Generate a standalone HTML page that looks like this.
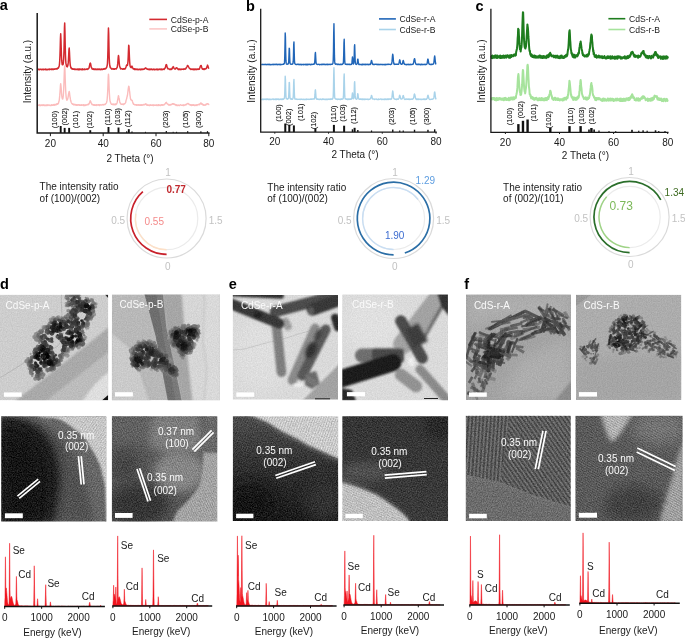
<!DOCTYPE html><html><head><meta charset="utf-8"><style>html,body{margin:0;padding:0;background:#fff;width:685px;height:638px;overflow:hidden}svg{display:block;will-change:transform}text{font-family:"Liberation Sans",sans-serif}</style></head><body>
<svg width="685" height="638" viewBox="0 0 685 638">
<rect width="685" height="638" fill="#fff"/>
<path d="M37.7 105 L37.95 105.28 L38.2 105.12 L38.45 105.33 L38.7 105.35 L38.95 104.84 L39.2 104.79 L39.45 105.53 L39.7 105.01 L39.95 104.99 L40.2 105.67 L40.45 105.2 L40.7 105.53 L40.95 105.2 L41.2 105.35 L41.45 104.9 L41.7 105.34 L41.95 105.55 L42.2 105.23 L42.45 105.43 L42.7 105.36 L42.95 104.81 L43.2 105.44 L43.45 105.28 L43.7 105.02 L43.95 104.78 L44.2 105.52 L44.45 105.17 L44.7 105.39 L44.95 105.53 L45.2 105.38 L45.45 105.56 L45.7 105.08 L45.95 105.45 L46.2 105.12 L46.45 105.56 L46.7 105.51 L46.95 104.8 L47.2 104.83 L47.45 104.9 L47.7 105.57 L47.95 105.09 L48.2 105.25 L48.45 104.95 L48.7 105.13 L48.95 105.02 L49.2 104.98 L49.45 105.18 L49.7 105.18 L49.95 105.46 L50.2 105.25 L50.45 105.46 L50.7 105.39 L50.95 105.5 L51.2 105.2 L51.45 104.74 L51.7 105.35 L51.95 105.43 L52.2 105.37 L52.45 105.05 L52.7 105.16 L52.95 104.7 L53.2 105.24 L53.45 104.98 L53.7 104.7 L53.95 104.48 L54.2 105.17 L54.45 105.26 L54.7 104.42 L54.95 105.02 L55.2 104.63 L55.45 104.35 L55.7 104.43 L55.95 104.8 L56.2 104.83 L56.45 104.01 L56.7 104.44 L56.95 103.83 L57.2 104.31 L57.45 103.82 L57.7 104.14 L57.95 104.02 L58.2 103.31 L58.45 103.38 L58.7 102.23 L58.95 101.23 L59.2 100.52 L59.45 98.25 L59.7 95.91 L59.95 92.81 L60.2 89.18 L60.45 85.32 L60.7 83.7 L60.95 85.77 L61.2 88.49 L61.45 92.57 L61.7 95.43 L61.95 97.03 L62.2 98.35 L62.45 98.94 L62.7 98.94 L62.95 98.09 L63.2 96.38 L63.45 93.52 L63.7 89.29 L63.95 82.59 L64.2 74.96 L64.45 68.52 L64.7 66.01 L64.95 70.23 L65.2 78.27 L65.45 85.17 L65.7 90.94 L65.95 94.46 L66.2 97.37 L66.45 99.02 L66.7 99.32 L66.95 100.18 L67.2 100.14 L67.45 99.24 L67.7 99.01 L67.95 97.79 L68.2 96.57 L68.45 94.66 L68.7 93.39 L68.95 92.3 L69.2 91.45 L69.45 92.33 L69.7 94.48 L69.95 96.6 L70.2 97.74 L70.45 99.46 L70.7 100.82 L70.95 101.54 L71.2 102.3 L71.45 102.78 L71.7 103.22 L71.95 103.71 L72.2 103.66 L72.45 103.9 L72.7 104.39 L72.95 103.83 L73.2 104.42 L73.45 104.65 L73.7 104.33 L73.95 104.32 L74.2 104.89 L74.45 104.43 L74.7 104.42 L74.95 104.68 L75.2 104.95 L75.45 104.45 L75.7 104.67 L75.95 104.71 L76.2 105.18 L76.45 104.84 L76.7 105.24 L76.95 104.63 L77.2 104.8 L77.45 105.1 L77.7 105.32 L77.95 104.94 L78.2 104.75 L78.45 104.66 L78.7 105.04 L78.95 104.75 L79.2 105.31 L79.45 105.34 L79.7 104.76 L79.95 104.85 L80.2 105.33 L80.45 105.19 L80.7 105.34 L80.95 104.93 L81.2 104.74 L81.45 104.89 L81.7 105.34 L81.95 104.87 L82.2 104.94 L82.45 105.01 L82.7 105.01 L82.95 105 L83.2 105.46 L83.45 104.77 L83.7 104.63 L83.95 105.47 L84.2 105.41 L84.45 105.5 L84.7 105 L84.95 105.46 L85.2 105.43 L85.45 104.78 L85.7 105.24 L85.95 105.31 L86.2 105.14 L86.45 104.99 L86.7 104.75 L86.95 104.77 L87.2 104.63 L87.45 104.43 L87.7 104.83 L87.95 104.46 L88.2 104.79 L88.45 103.9 L88.7 104.4 L88.95 103.84 L89.2 103.58 L89.45 102.99 L89.7 102.38 L89.95 101.55 L90.2 100.75 L90.45 101.51 L90.7 101.43 L90.95 102.13 L91.2 103.06 L91.45 103.46 L91.7 103.79 L91.95 104.58 L92.2 104.52 L92.45 104.44 L92.7 104.48 L92.95 105.11 L93.2 104.83 L93.45 105.15 L93.7 104.8 L93.95 104.68 L94.2 105.01 L94.45 105.28 L94.7 104.72 L94.95 105.29 L95.2 105.42 L95.45 105.32 L95.7 105.34 L95.95 104.62 L96.2 105.18 L96.45 105.39 L96.7 104.67 L96.95 104.87 L97.2 104.86 L97.45 105.1 L97.7 105 L97.95 105.05 L98.2 105.32 L98.45 104.62 L98.7 104.66 L98.95 104.72 L99.2 104.72 L99.45 104.66 L99.7 105.47 L99.95 105.35 L100.2 104.65 L100.45 105.02 L100.7 104.84 L100.95 104.83 L101.2 104.85 L101.45 105.1 L101.7 105.03 L101.95 104.81 L102.2 104.63 L102.45 104.73 L102.7 104.52 L102.95 104.88 L103.2 104.99 L103.45 104.64 L103.7 104.33 L103.95 104.36 L104.2 104.47 L104.45 104.6 L104.7 104.67 L104.95 104.2 L105.2 104.45 L105.45 104.12 L105.7 103.74 L105.95 103.42 L106.2 103.17 L106.45 102.86 L106.7 101.87 L106.95 100.93 L107.2 98.78 L107.45 95.43 L107.7 90.95 L107.95 84.76 L108.2 77.5 L108.45 74.14 L108.7 76.49 L108.95 83.25 L109.2 89.9 L109.45 94.54 L109.7 98.51 L109.95 100.6 L110.2 101.44 L110.45 102.44 L110.7 102.66 L110.95 103.66 L111.2 103.8 L111.45 104.21 L111.7 104.29 L111.95 104.31 L112.2 104.47 L112.45 104.4 L112.7 104.05 L112.95 104.53 L113.2 104.05 L113.45 104.2 L113.7 104.79 L113.95 104.14 L114.2 104.18 L114.45 104.18 L114.7 104.86 L114.95 104.2 L115.2 104.02 L115.45 104.7 L115.7 103.97 L115.95 104.51 L116.2 104.2 L116.45 104.11 L116.7 103.87 L116.95 103.02 L117.2 102.47 L117.45 100.75 L117.7 100.06 L117.95 98.28 L118.2 97 L118.45 95.63 L118.7 96.5 L118.95 97.88 L119.2 98.64 L119.45 100.34 L119.7 101.74 L119.95 102.85 L120.2 102.93 L120.45 103.29 L120.7 103.62 L120.95 104.13 L121.2 104.37 L121.45 104.12 L121.7 104.15 L121.95 104.21 L122.2 104.19 L122.45 104.25 L122.7 103.94 L122.95 104.29 L123.2 104.68 L123.45 104.13 L123.7 104.37 L123.95 103.76 L124.2 104.14 L124.45 104.07 L124.7 103.83 L124.95 103.47 L125.2 103.13 L125.45 102.84 L125.7 102.46 L125.95 100.95 L126.2 99.85 L126.45 99.25 L126.7 98.33 L126.95 97.13 L127.2 96.22 L127.45 95.31 L127.7 93.23 L127.95 91.31 L128.2 89.1 L128.45 87.57 L128.7 86.25 L128.95 86.31 L129.2 88.04 L129.45 90.38 L129.7 92.15 L129.95 94.79 L130.2 96.5 L130.45 98.47 L130.7 99.39 L130.95 99.84 L131.2 100.13 L131.45 99.98 L131.7 100.27 L131.95 100.23 L132.2 100.5 L132.45 101.43 L132.7 102.16 L132.95 103.2 L133.2 103.11 L133.45 104.21 L133.7 103.99 L133.95 104.27 L134.2 104.28 L134.45 104.71 L134.7 104.78 L134.95 104.61 L135.2 104.6 L135.45 104.87 L135.7 105.04 L135.95 104.67 L136.2 105 L136.45 105.24 L136.7 104.82 L136.95 104.63 L137.2 104.66 L137.45 105.11 L137.7 105.09 L137.95 105.36 L138.2 105.28 L138.45 104.75 L138.7 104.71 L138.95 104.78 L139.2 104.73 L139.45 105.2 L139.7 105.35 L139.95 105.39 L140.2 104.82 L140.45 105.37 L140.7 104.88 L140.95 104.98 L141.2 105.25 L141.45 104.67 L141.7 104.68 L141.95 105.34 L142.2 104.84 L142.45 104.89 L142.7 105.07 L142.95 105.13 L143.2 104.49 L143.45 104.73 L143.7 104.76 L143.95 104.72 L144.2 104.37 L144.45 104.6 L144.7 104.81 L144.95 104.19 L145.2 104.25 L145.45 103.84 L145.7 104.02 L145.95 104.46 L146.2 104.08 L146.45 104.9 L146.7 105.04 L146.95 104.41 L147.2 105.25 L147.45 104.81 L147.7 105.23 L147.95 105.26 L148.2 104.87 L148.45 105.24 L148.7 105.24 L148.95 105.39 L149.2 104.92 L149.45 105.37 L149.7 105.56 L149.95 105.31 L150.2 105.2 L150.45 104.82 L150.7 105.17 L150.95 105.04 L151.2 105.38 L151.45 105.35 L151.7 105.25 L151.95 104.9 L152.2 105.32 L152.45 105.31 L152.7 104.91 L152.95 105.55 L153.2 105.34 L153.45 104.86 L153.7 105.59 L153.95 104.88 L154.2 105.05 L154.45 105.4 L154.7 105.29 L154.95 105.26 L155.2 105.34 L155.45 105.17 L155.7 105.04 L155.95 104.91 L156.2 104.82 L156.45 105.4 L156.7 105.43 L156.95 105.24 L157.2 105.42 L157.45 105.07 L157.7 104.99 L157.95 105.09 L158.2 105.53 L158.45 104.78 L158.7 105.19 L158.95 104.96 L159.2 105.43 L159.45 105.05 L159.7 105.03 L159.95 105.08 L160.2 105.2 L160.45 105.4 L160.7 105.02 L160.95 105.46 L161.2 104.78 L161.45 104.92 L161.7 104.75 L161.95 104.75 L162.2 105.33 L162.45 105.26 L162.7 104.75 L162.95 104.72 L163.2 104.88 L163.45 105.12 L163.7 105.11 L163.95 104.96 L164.2 104.69 L164.45 104.13 L164.7 104.16 L164.95 103.74 L165.2 103.76 L165.45 103.49 L165.7 102.86 L165.95 102.65 L166.2 102.99 L166.45 102.33 L166.7 103.19 L166.95 103.53 L167.2 103.89 L167.45 103.67 L167.7 104.09 L167.95 104.34 L168.2 104.57 L168.45 105.02 L168.7 104.87 L168.95 104.6 L169.2 105.16 L169.45 104.86 L169.7 104.98 L169.95 105.1 L170.2 104.45 L170.45 105.12 L170.7 104.99 L170.95 104.79 L171.2 104.74 L171.45 104.59 L171.7 104.23 L171.95 104.38 L172.2 103.77 L172.45 104.01 L172.7 103.98 L172.95 103.68 L173.2 103.76 L173.45 104.18 L173.7 104.26 L173.95 103.76 L174.2 104.54 L174.45 104.56 L174.7 104.2 L174.95 104.6 L175.2 104.59 L175.45 104.53 L175.7 105.01 L175.95 105.4 L176.2 104.89 L176.45 105.41 L176.7 105.28 L176.95 104.79 L177.2 105.45 L177.45 105.23 L177.7 105.54 L177.95 105.35 L178.2 105.38 L178.45 105.03 L178.7 105.45 L178.95 105.57 L179.2 105.51 L179.45 105.13 L179.7 105.42 L179.95 105.18 L180.2 104.84 L180.45 104.78 L180.7 104.81 L180.95 104.92 L181.2 104.89 L181.45 105.19 L181.7 105.37 L181.95 105.22 L182.2 105.11 L182.45 105.31 L182.7 105 L182.95 105.14 L183.2 105.39 L183.45 105.06 L183.7 104.86 L183.95 105.49 L184.2 105.31 L184.45 104.97 L184.7 104.95 L184.95 105.06 L185.2 105.07 L185.45 104.67 L185.7 104.39 L185.95 104.47 L186.2 104.85 L186.45 104.12 L186.7 104.23 L186.95 103.81 L187.2 103.65 L187.45 103.5 L187.7 103.67 L187.95 103.51 L188.2 103.51 L188.45 103.76 L188.7 104 L188.95 104.46 L189.2 104.22 L189.45 104.32 L189.7 104.8 L189.95 104.84 L190.2 105.17 L190.45 104.63 L190.7 104.98 L190.95 105 L191.2 104.69 L191.45 105.55 L191.7 104.89 L191.95 104.78 L192.2 105.13 L192.45 104.86 L192.7 105.28 L192.95 105.03 L193.2 104.84 L193.45 104.77 L193.7 105.38 L193.95 104.97 L194.2 105.44 L194.45 105.14 L194.7 105.56 L194.95 104.99 L195.2 104.94 L195.45 104.95 L195.7 105.44 L195.95 105.27 L196.2 105 L196.45 104.76 L196.7 105.28 L196.95 105.53 L197.2 105.17 L197.45 104.61 L197.7 104.61 L197.95 104.62 L198.2 104.64 L198.45 104.45 L198.7 104.38 L198.95 104.8 L199.2 104.88 L199.45 104.06 L199.7 104.55 L199.95 103.86 L200.2 103.91 L200.45 103.79 L200.7 103.67 L200.95 102.82 L201.2 103.16 L201.45 103.62 L201.7 104.16 L201.95 103.62 L202.2 104.03 L202.45 104.72 L202.7 104.21 L202.95 104.58 L203.2 104.63 L203.45 105 L203.7 105.27 L203.95 104.62 L204.2 105.15 L204.45 105.14 L204.7 105.22 L204.95 104.94 L205.2 105.22 L205.45 104.65 L205.7 104.61 L205.95 104.32 L206.2 104.68 L206.45 104.24 L206.7 103.88 L206.95 103.62 L207.2 103.98 L207.45 103.83 L207.7 103.96 L207.95 103.79 L208.2 104.05 L208.45 103.94 L208.7 104.62 L208.95 104.16" fill="none" stroke="#fbbcbc" stroke-width="1.4" stroke-linejoin="round"/>
<path d="M37.7 69.28 L37.95 69.18 L38.2 69.39 L38.45 69.22 L38.7 69.15 L38.95 69.39 L39.2 69.75 L39.45 69.66 L39.7 69.64 L39.95 69.26 L40.2 69.48 L40.45 69.29 L40.7 69.22 L40.95 69.17 L41.2 69.25 L41.45 69.75 L41.7 69.68 L41.95 69.66 L42.2 69.65 L42.45 69.23 L42.7 69.31 L42.95 69.53 L43.2 69.6 L43.45 69.68 L43.7 69.7 L43.95 69.14 L44.2 69.5 L44.45 69.55 L44.7 69.43 L44.95 69.2 L45.2 69.4 L45.45 69.13 L45.7 69.72 L45.95 69.67 L46.2 69.45 L46.45 69.27 L46.7 69.69 L46.95 69.46 L47.2 69.67 L47.45 69.64 L47.7 69.4 L47.95 69.33 L48.2 69.46 L48.45 69.34 L48.7 69.15 L48.95 69.24 L49.2 69.59 L49.45 69.05 L49.7 69.05 L49.95 69.45 L50.2 69.2 L50.45 69.37 L50.7 69.32 L50.95 69.22 L51.2 69.67 L51.45 69.11 L51.7 69.25 L51.95 69.09 L52.2 69.38 L52.45 69.12 L52.7 69.17 L52.95 69.43 L53.2 69.12 L53.45 69.27 L53.7 69.5 L53.95 68.92 L54.2 68.87 L54.45 68.96 L54.7 69.31 L54.95 69.18 L55.2 68.89 L55.45 68.92 L55.7 68.77 L55.95 68.92 L56.2 68.58 L56.45 68.98 L56.7 69.05 L56.95 69.01 L57.2 68.75 L57.45 68.79 L57.7 67.98 L57.95 67.99 L58.2 68.22 L58.45 67.78 L58.7 67.11 L58.95 66.88 L59.2 65.73 L59.45 64.26 L59.7 60.97 L59.95 55.75 L60.2 47.98 L60.45 38.38 L60.7 33.71 L60.95 39.07 L61.2 47.86 L61.45 55.3 L61.7 60.18 L61.95 62.89 L62.2 64.59 L62.45 64.82 L62.7 64.84 L62.95 64.38 L63.2 64.18 L63.45 62.05 L63.7 58.33 L63.95 51.43 L64.2 40.44 L64.45 27.59 L64.7 23.08 L64.95 31.99 L65.2 44.93 L65.45 54.84 L65.7 60.28 L65.95 63.72 L66.2 64.62 L66.45 65.74 L66.7 66.4 L66.95 66.41 L67.2 66.89 L67.45 66.41 L67.7 65.83 L67.95 65.03 L68.2 62.9 L68.45 59.83 L68.7 54.68 L68.95 49.69 L69.2 47.99 L69.45 51.85 L69.7 57.24 L69.95 61.83 L70.2 64.59 L70.45 66.12 L70.7 66.99 L70.95 67.94 L71.2 67.77 L71.45 67.95 L71.7 68.75 L71.95 68.63 L72.2 69.04 L72.45 68.72 L72.7 69.14 L72.95 69.03 L73.2 69.18 L73.45 69.19 L73.7 69.05 L73.95 68.8 L74.2 68.92 L74.45 69.4 L74.7 69.45 L74.95 69.48 L75.2 69.09 L75.45 69.33 L75.7 69.44 L75.95 69.35 L76.2 69.48 L76.45 69.29 L76.7 69.39 L76.95 69.42 L77.2 69.13 L77.45 69.6 L77.7 69.63 L77.95 69.02 L78.2 69.65 L78.45 69.65 L78.7 69.45 L78.95 69.01 L79.2 69.62 L79.45 69.08 L79.7 69.67 L79.95 69.46 L80.2 69.04 L80.45 69.12 L80.7 69.45 L80.95 69.4 L81.2 69.53 L81.45 69.66 L81.7 69.16 L81.95 69.01 L82.2 69.65 L82.45 69.01 L82.7 69.62 L82.95 69.08 L83.2 69.57 L83.45 69.55 L83.7 69.61 L83.95 69.38 L84.2 69.6 L84.45 69.12 L84.7 69.45 L84.95 69.2 L85.2 69.58 L85.45 69.49 L85.7 69.27 L85.95 69.29 L86.2 68.92 L86.45 68.91 L86.7 69.28 L86.95 69.17 L87.2 69.4 L87.45 69.17 L87.7 68.78 L87.95 68.85 L88.2 69.01 L88.45 68.66 L88.7 68.03 L88.95 68.16 L89.2 67.48 L89.45 65.99 L89.7 65.07 L89.95 63.67 L90.2 63.17 L90.45 63.11 L90.7 64.17 L90.95 65.66 L91.2 67.12 L91.45 67.33 L91.7 67.9 L91.95 68.61 L92.2 69.01 L92.45 68.9 L92.7 68.94 L92.95 69.31 L93.2 69.31 L93.45 68.86 L93.7 69.46 L93.95 69.01 L94.2 69.11 L94.45 69.5 L94.7 69.22 L94.95 69.5 L95.2 69.07 L95.45 69.57 L95.7 69.09 L95.95 69.08 L96.2 69.33 L96.45 69.22 L96.7 69.37 L96.95 69.62 L97.2 69.49 L97.45 69 L97.7 69.21 L97.95 69.38 L98.2 69.33 L98.45 69.49 L98.7 69.33 L98.95 69.04 L99.2 69.16 L99.45 69.58 L99.7 69.23 L99.95 69.51 L100.2 69.66 L100.45 69.4 L100.7 69.43 L100.95 69.38 L101.2 69.16 L101.45 69.57 L101.7 69.25 L101.95 69.55 L102.2 69.11 L102.45 69.49 L102.7 69.42 L102.95 69.28 L103.2 69.13 L103.45 68.9 L103.7 69.31 L103.95 68.99 L104.2 69.15 L104.45 68.73 L104.7 68.64 L104.95 68.61 L105.2 68.98 L105.45 68.43 L105.7 68.8 L105.95 68.24 L106.2 68.14 L106.45 67.65 L106.7 67.37 L106.95 66.3 L107.2 65.35 L107.45 63.49 L107.7 58.37 L107.95 50.06 L108.2 37.12 L108.45 27.91 L108.7 33.82 L108.95 46.83 L109.2 57.25 L109.45 62.57 L109.7 65.21 L109.95 66.55 L110.2 67.43 L110.45 67.38 L110.7 68.03 L110.95 68.23 L111.2 68.47 L111.45 68.87 L111.7 68.86 L111.95 69.09 L112.2 68.56 L112.45 68.99 L112.7 69.04 L112.95 69.12 L113.2 69.06 L113.45 69.22 L113.7 68.86 L113.95 69.3 L114.2 68.93 L114.45 69.06 L114.7 69.25 L114.95 69.08 L115.2 68.77 L115.45 68.66 L115.7 68.66 L115.95 68.78 L116.2 68.92 L116.45 68.68 L116.7 68.08 L116.95 67.68 L117.2 67.3 L117.45 65.75 L117.7 63.9 L117.95 60.77 L118.2 57.51 L118.45 55.48 L118.7 56.44 L118.95 59.52 L119.2 62.56 L119.45 65.37 L119.7 66.66 L119.95 67.22 L120.2 67.67 L120.45 68.62 L120.7 68.83 L120.95 68.93 L121.2 68.81 L121.45 68.69 L121.7 68.59 L121.95 68.75 L122.2 68.76 L122.45 69.27 L122.7 69.26 L122.95 69.18 L123.2 68.74 L123.45 68.79 L123.7 68.82 L123.95 69.24 L124.2 68.66 L124.45 69.04 L124.7 68.89 L124.95 68.7 L125.2 68.84 L125.45 68.12 L125.7 67.94 L125.95 67.11 L126.2 66.28 L126.45 65.35 L126.7 64.97 L126.95 64.85 L127.2 65.01 L127.45 65.46 L127.7 63.87 L127.95 61.74 L128.2 57.07 L128.45 50.74 L128.7 45.18 L128.95 45.93 L129.2 51.87 L129.45 58.04 L129.7 62.35 L129.95 65.05 L130.2 66.46 L130.45 67.07 L130.7 67.4 L130.95 67.26 L131.2 67.61 L131.45 67 L131.7 66.25 L131.95 66.08 L132.2 66.9 L132.45 67.12 L132.7 67.83 L132.95 68.49 L133.2 68.91 L133.45 68.71 L133.7 68.87 L133.95 68.97 L134.2 68.75 L134.45 69.39 L134.7 68.83 L134.95 69.52 L135.2 68.98 L135.45 69 L135.7 69.5 L135.95 69.5 L136.2 69.1 L136.45 69.34 L136.7 69.29 L136.95 69.47 L137.2 69.11 L137.45 69.56 L137.7 69.69 L137.95 69.49 L138.2 69.65 L138.45 69.66 L138.7 69.27 L138.95 69.6 L139.2 69.6 L139.45 69.43 L139.7 69.09 L139.95 69.45 L140.2 69.66 L140.45 69.23 L140.7 69.47 L140.95 69.64 L141.2 69.43 L141.45 69.03 L141.7 69.44 L141.95 69.17 L142.2 69.58 L142.45 69.42 L142.7 69.16 L142.95 69.54 L143.2 69.31 L143.45 69.05 L143.7 69.32 L143.95 69.25 L144.2 69.1 L144.45 68.91 L144.7 68.53 L144.95 68.33 L145.2 68.08 L145.45 67.96 L145.7 68.37 L145.95 68.11 L146.2 68.15 L146.45 68.81 L146.7 68.85 L146.95 69.03 L147.2 69.18 L147.45 69.01 L147.7 69.03 L147.95 68.98 L148.2 69.51 L148.45 69.62 L148.7 69.49 L148.95 69.1 L149.2 69.71 L149.45 69.61 L149.7 69.4 L149.95 69.05 L150.2 69.65 L150.45 69.5 L150.7 69.5 L150.95 69.08 L151.2 69.58 L151.45 69.1 L151.7 69.41 L151.95 69.18 L152.2 69.33 L152.45 69.7 L152.7 69.61 L152.95 69.66 L153.2 69.29 L153.45 69.36 L153.7 69.51 L153.95 69.11 L154.2 69.38 L154.45 69.77 L154.7 69.62 L154.95 69.69 L155.2 69.3 L155.45 69.57 L155.7 69.64 L155.95 69.58 L156.2 69.39 L156.45 69.21 L156.7 69.1 L156.95 69.71 L157.2 69.74 L157.45 69.28 L157.7 69.61 L157.95 69.37 L158.2 69.52 L158.45 69.67 L158.7 69.3 L158.95 69.51 L159.2 69.25 L159.45 69.42 L159.7 69.08 L159.95 69.24 L160.2 69.26 L160.45 69.69 L160.7 69.14 L160.95 69.57 L161.2 69.09 L161.45 69.71 L161.7 69.13 L161.95 69.06 L162.2 69.13 L162.45 69.62 L162.7 69.42 L162.95 69.55 L163.2 69.24 L163.45 68.94 L163.7 69.05 L163.95 69.06 L164.2 69.35 L164.45 68.64 L164.7 68.49 L164.95 68.59 L165.2 67.58 L165.45 67.47 L165.7 66.06 L165.95 65.24 L166.2 64.62 L166.45 64.89 L166.7 65.11 L166.95 66.67 L167.2 67.08 L167.45 68.12 L167.7 68.08 L167.95 68.89 L168.2 68.65 L168.45 68.78 L168.7 68.74 L168.95 68.99 L169.2 69.03 L169.45 69.51 L169.7 69.27 L169.95 69.11 L170.2 69.54 L170.45 68.96 L170.7 68.98 L170.95 69.47 L171.2 69.42 L171.45 69.16 L171.7 69.24 L171.95 68.39 L172.2 68.68 L172.45 68.12 L172.7 67.59 L172.95 67.26 L173.2 66.6 L173.45 66.92 L173.7 67.36 L173.95 68.07 L174.2 68.49 L174.45 68.73 L174.7 68.75 L174.95 69.07 L175.2 69.12 L175.45 68.98 L175.7 68.31 L175.95 68.14 L176.2 67.9 L176.45 67.7 L176.7 67.93 L176.95 67.88 L177.2 68.5 L177.45 68.58 L177.7 68.81 L177.95 69.2 L178.2 69.47 L178.45 69 L178.7 69.15 L178.95 69.62 L179.2 69.1 L179.45 68.98 L179.7 69.11 L179.95 69.56 L180.2 69.5 L180.45 69.65 L180.7 69.34 L180.95 69.02 L181.2 69.21 L181.45 69.49 L181.7 69.26 L181.95 69.08 L182.2 69.23 L182.45 69.29 L182.7 69.2 L182.95 69.25 L183.2 69.02 L183.45 68.93 L183.7 69.43 L183.95 69.37 L184.2 69.12 L184.45 68.86 L184.7 68.94 L184.95 69.05 L185.2 69.18 L185.45 68.76 L185.7 68.92 L185.95 68.37 L186.2 67.81 L186.45 67.72 L186.7 67.24 L186.95 66.72 L187.2 66.32 L187.45 65.45 L187.7 65.62 L187.95 66.04 L188.2 65.98 L188.45 66.42 L188.7 67.03 L188.95 67.55 L189.2 68.04 L189.45 68.26 L189.7 68.72 L189.95 68.57 L190.2 68.82 L190.45 69.14 L190.7 69.12 L190.95 69.46 L191.2 69.49 L191.45 69.05 L191.7 69.13 L191.95 69.29 L192.2 69.31 L192.45 69.2 L192.7 69.56 L192.95 69.11 L193.2 69.31 L193.45 69.07 L193.7 69.61 L193.95 69.41 L194.2 69.69 L194.45 69.1 L194.7 69.5 L194.95 69.42 L195.2 69.04 L195.45 69.58 L195.7 69.61 L195.95 69.05 L196.2 69.65 L196.45 69.53 L196.7 69.4 L196.95 69.35 L197.2 69.14 L197.45 68.97 L197.7 69.25 L197.95 69.49 L198.2 69 L198.45 69.13 L198.7 68.93 L198.95 69.13 L199.2 69.17 L199.45 68.89 L199.7 68.1 L199.95 67.66 L200.2 66.64 L200.45 66.16 L200.7 65.67 L200.95 65.5 L201.2 65.47 L201.45 66.56 L201.7 67.11 L201.95 67.97 L202.2 68.74 L202.45 68.58 L202.7 69.14 L202.95 69.32 L203.2 69.3 L203.45 68.91 L203.7 69.44 L203.95 69.46 L204.2 69.51 L204.45 68.82 L204.7 68.8 L204.95 68.98 L205.2 69.09 L205.45 68.96 L205.7 68.62 L205.95 68.83 L206.2 68.56 L206.45 68.1 L206.7 67.4 L206.95 66.65 L207.2 65.98 L207.45 65.14 L207.7 65.66 L207.95 66.18 L208.2 66.96 L208.45 68.09 L208.7 68.27 L208.95 68.6" fill="none" stroke="#d42a30" stroke-width="1.5" stroke-linejoin="round"/>
<rect x="59.75" y="126" width="1.9" height="7" fill="#111"/>
<rect x="63.71" y="127.9" width="1.9" height="5.1" fill="#111"/>
<rect x="68.19" y="127.9" width="1.9" height="5.1" fill="#111"/>
<rect x="89.31" y="130.2" width="1.9" height="2.8" fill="#111"/>
<rect x="107.53" y="127" width="1.9" height="6" fill="#111"/>
<rect x="117.56" y="127.5" width="1.9" height="5.5" fill="#111"/>
<rect x="126.1" y="131.3" width="1.2" height="1.7" fill="#111"/>
<rect x="127.86" y="129.2" width="1.9" height="3.8" fill="#111"/>
<rect x="131.38" y="131.5" width="1.2" height="1.5" fill="#111"/>
<rect x="144.94" y="131.8" width="1" height="1.2" fill="#111"/>
<rect x="165.7" y="131" width="1.2" height="2" fill="#111"/>
<rect x="172.66" y="131.8" width="1" height="1.2" fill="#111"/>
<rect x="176.09" y="131.8" width="1" height="1.2" fill="#111"/>
<rect x="187.08" y="131.2" width="1.2" height="1.8" fill="#111"/>
<rect x="200.28" y="131.3" width="1.2" height="1.7" fill="#111"/>
<rect x="206.88" y="131.2" width="1.2" height="1.8" fill="#111"/>
<path d="M37.2 13.1 V133 H209.6" fill="none" stroke="#1a1a1a" stroke-width="1.5"/>
<line x1="50.4" y1="133" x2="50.4" y2="136.2" stroke="#1a1a1a" stroke-width="1"/>
<text x="50.4" y="147.3" font-size="10" text-anchor="middle" fill="#1a1a1a">20</text>
<line x1="103.2" y1="133" x2="103.2" y2="136.2" stroke="#1a1a1a" stroke-width="1"/>
<text x="103.2" y="147.3" font-size="10" text-anchor="middle" fill="#1a1a1a">40</text>
<line x1="156" y1="133" x2="156" y2="136.2" stroke="#1a1a1a" stroke-width="1"/>
<text x="156" y="147.3" font-size="10" text-anchor="middle" fill="#1a1a1a">60</text>
<line x1="208.8" y1="133" x2="208.8" y2="136.2" stroke="#1a1a1a" stroke-width="1"/>
<text x="208.8" y="147.3" font-size="10" text-anchor="middle" fill="#1a1a1a">80</text>
<text x="130" y="161.5" font-size="10" text-anchor="middle" fill="#1a1a1a">2 Theta (°)</text>
<text transform="translate(31.2 71.5) rotate(-90)" font-size="10" text-anchor="middle" fill="#1a1a1a">Intensity (a.u.)</text>
<text transform="translate(56.85 128.3) rotate(-90)" font-size="7.5" fill="#111" stroke="#111" stroke-width="0.1">(100)</text>
<text transform="translate(66.65 125.4) rotate(-90)" font-size="7.5" fill="#111" stroke="#111" stroke-width="0.1">(002)</text>
<text transform="translate(78.05 128.3) rotate(-90)" font-size="7.5" fill="#111" stroke="#111" stroke-width="0.1">(101)</text>
<text transform="translate(91.65 128.6) rotate(-90)" font-size="7.5" fill="#111" stroke="#111" stroke-width="0.1">(102)</text>
<text transform="translate(109.65 125.4) rotate(-90)" font-size="7.5" fill="#111" stroke="#111" stroke-width="0.1">(110)</text>
<text transform="translate(120.15 125.4) rotate(-90)" font-size="7.5" fill="#111" stroke="#111" stroke-width="0.1">(103)</text>
<text transform="translate(130.35 127.3) rotate(-90)" font-size="7.5" fill="#111" stroke="#111" stroke-width="0.1">(112)</text>
<text transform="translate(168.35 127.9) rotate(-90)" font-size="7.5" fill="#111" stroke="#111" stroke-width="0.1">(203)</text>
<text transform="translate(187.75 127.9) rotate(-90)" font-size="7.5" fill="#111" stroke="#111" stroke-width="0.1">(105)</text>
<text transform="translate(201.45 127.9) rotate(-90)" font-size="7.5" fill="#111" stroke="#111" stroke-width="0.1">(300)</text>
<line x1="149.3" y1="19.4" x2="167" y2="19.4" stroke="#d42a30" stroke-width="1.6"/>
<text x="170.7" y="22.5" font-size="8.6" fill="#1a1a1a">CdSe-p-A</text>
<line x1="149.3" y1="28.9" x2="167" y2="28.9" stroke="#fcc8c8" stroke-width="1.6"/>
<text x="170.7" y="32" font-size="8.6" fill="#1a1a1a">CdSe-p-B</text>
<text x="-0.3" y="10.1" font-size="14.5" font-weight="bold" fill="#000">a</text>
<path d="M261.2 99.37 L261.45 99.44 L261.7 99.47 L261.95 99.56 L262.2 99.44 L262.45 99.55 L262.7 99.01 L262.95 99.28 L263.2 99.56 L263.45 99.39 L263.7 99.54 L263.95 99.06 L264.2 99.28 L264.45 99.14 L264.7 99.32 L264.95 99.34 L265.2 99 L265.45 99.13 L265.7 99.16 L265.95 99.55 L266.2 99.45 L266.45 99.09 L266.7 99.47 L266.95 99.08 L267.2 99.37 L267.45 99.07 L267.7 99 L267.95 99.52 L268.2 99.12 L268.45 99.12 L268.7 99.58 L268.95 99.52 L269.2 99.17 L269.45 99.57 L269.7 99.32 L269.95 99.4 L270.2 99.12 L270.45 99.56 L270.7 99.41 L270.95 99.57 L271.2 99.53 L271.45 99.17 L271.7 99.21 L271.95 99.09 L272.2 99.08 L272.45 99.03 L272.7 99.17 L272.95 99.35 L273.2 98.99 L273.45 99.4 L273.7 99.19 L273.95 99.18 L274.2 99.48 L274.45 99.28 L274.7 99.18 L274.95 99.28 L275.2 99.41 L275.45 99.02 L275.7 99.57 L275.95 99 L276.2 99.43 L276.45 99.49 L276.7 98.99 L276.95 99.46 L277.2 99.2 L277.45 99.33 L277.7 98.99 L277.95 99.01 L278.2 99.09 L278.45 99.55 L278.7 99.09 L278.95 99.43 L279.2 99.53 L279.45 99.53 L279.7 99.17 L279.95 99.18 L280.2 99.28 L280.45 99.42 L280.7 99.02 L280.95 99.4 L281.2 99.42 L281.45 99.45 L281.7 98.95 L281.95 99.49 L282.2 98.96 L282.45 99.1 L282.7 99.24 L282.95 99.4 L283.2 99.02 L283.45 99.32 L283.7 99.02 L283.95 98.77 L284.2 98.57 L284.45 97.81 L284.7 94.74 L284.95 86.15 L285.2 76.3 L285.45 79.45 L285.7 90.01 L285.95 96.29 L286.2 98.62 L286.45 98.74 L286.7 98.81 L286.95 98.78 L287.2 99.03 L287.45 99.17 L287.7 98.93 L287.95 98.85 L288.2 98.5 L288.45 98.6 L288.7 96.13 L288.95 90.37 L289.2 82.35 L289.45 82.7 L289.7 91.51 L289.95 97.09 L290.2 98.53 L290.45 98.99 L290.7 98.7 L290.95 98.97 L291.2 98.83 L291.45 99.26 L291.7 98.93 L291.95 99.01 L292.2 99.31 L292.45 99.15 L292.7 99.11 L292.95 98.47 L293.2 97.06 L293.45 91.98 L293.7 82.49 L293.95 79.49 L294.2 88.03 L294.45 95.31 L294.7 98.09 L294.95 99.06 L295.2 99.22 L295.45 99.11 L295.7 99.1 L295.95 99.04 L296.2 98.92 L296.45 99.05 L296.7 99.37 L296.95 99.44 L297.2 99.14 L297.45 99.41 L297.7 99.41 L297.95 99.36 L298.2 99.35 L298.45 99.41 L298.7 99.18 L298.95 99.39 L299.2 99.13 L299.45 99.26 L299.7 99.43 L299.95 99.39 L300.2 99.15 L300.45 99.54 L300.7 99.37 L300.95 99.33 L301.2 98.98 L301.45 99.31 L301.7 99.13 L301.95 99.38 L302.2 99.26 L302.45 99.47 L302.7 99.37 L302.95 99.46 L303.2 99.19 L303.45 99.37 L303.7 99.43 L303.95 99.48 L304.2 99.19 L304.45 99.49 L304.7 99.51 L304.95 99.4 L305.2 99.57 L305.45 99.56 L305.7 99.3 L305.95 99.3 L306.2 99.08 L306.45 99.49 L306.7 99.55 L306.95 99.27 L307.2 99.4 L307.45 99.42 L307.7 99.42 L307.95 99.09 L308.2 99.45 L308.45 99.33 L308.7 99.38 L308.95 99.23 L309.2 99.36 L309.45 99.45 L309.7 99.36 L309.95 99.41 L310.2 98.99 L310.45 99.07 L310.7 99.24 L310.95 99.36 L311.2 99.1 L311.45 99.38 L311.7 99.34 L311.95 98.98 L312.2 99.24 L312.45 99.08 L312.7 98.97 L312.95 99.01 L313.2 99.1 L313.45 99 L313.7 98.97 L313.95 98.83 L314.2 98.99 L314.45 98.62 L314.7 97.62 L314.95 94.67 L315.2 90.43 L315.45 89.8 L315.7 92.72 L315.95 96.6 L316.2 98.27 L316.45 98.88 L316.7 98.85 L316.95 99.34 L317.2 99.1 L317.45 98.92 L317.7 99.29 L317.95 98.99 L318.2 99.27 L318.45 99.15 L318.7 99.3 L318.95 99.53 L319.2 99.45 L319.45 99.22 L319.7 99.46 L319.95 99.36 L320.2 99.19 L320.45 99.06 L320.7 99.33 L320.95 99.31 L321.2 99.55 L321.45 99.56 L321.7 99.34 L321.95 99.19 L322.2 99.52 L322.45 98.98 L322.7 99.04 L322.95 99.32 L323.2 99.35 L323.45 99.06 L323.7 99.36 L323.95 99.51 L324.2 99.2 L324.45 99.24 L324.7 99.11 L324.95 99.15 L325.2 99.56 L325.45 99.21 L325.7 99.55 L325.95 99.52 L326.2 99.33 L326.45 99.13 L326.7 99.56 L326.95 99.27 L327.2 99.22 L327.45 99.16 L327.7 99.56 L327.95 99.26 L328.2 99.13 L328.45 99.25 L328.7 99.03 L328.95 99.33 L329.2 99.21 L329.45 99.12 L329.7 99.41 L329.95 99.43 L330.2 98.93 L330.45 99.23 L330.7 99.06 L330.95 99.44 L331.2 99.33 L331.45 98.98 L331.7 98.96 L331.95 98.84 L332.2 99.27 L332.45 98.74 L332.7 98.75 L332.95 98.24 L333.2 96.55 L333.45 89.55 L333.7 75.49 L333.95 67.81 L334.2 79.88 L334.45 92.2 L334.7 97.3 L334.95 98.33 L335.2 98.62 L335.45 98.91 L335.7 98.97 L335.95 98.97 L336.2 99.25 L336.45 99.19 L336.7 98.88 L336.95 99.03 L337.2 99.16 L337.45 99.45 L337.7 99.44 L337.95 99.24 L338.2 98.93 L338.45 99.39 L338.7 99.18 L338.95 99.27 L339.2 99.35 L339.45 99.31 L339.7 99.21 L339.95 99.47 L340.2 99.15 L340.45 99.15 L340.7 99.42 L340.95 99.01 L341.2 99.06 L341.45 99.36 L341.7 98.88 L341.95 99.31 L342.2 99.18 L342.45 98.96 L342.7 98.78 L342.95 98.91 L343.2 98.55 L343.45 96.19 L343.7 89.53 L343.95 77.46 L344.2 73.9 L344.45 84.85 L344.7 94.29 L344.95 97.92 L345.2 98.81 L345.45 98.59 L345.7 98.81 L345.95 99.24 L346.2 99.27 L346.45 99.23 L346.7 98.87 L346.95 99.31 L347.2 99.48 L347.45 99.5 L347.7 99.33 L347.95 98.94 L348.2 99.42 L348.45 99.05 L348.7 99.31 L348.95 99.5 L349.2 99.35 L349.45 99 L349.7 99.09 L349.95 99.46 L350.2 98.99 L350.45 99.26 L350.7 99.13 L350.95 98.95 L351.2 99.19 L351.45 98.77 L351.7 98.53 L351.95 97.58 L352.2 94.83 L352.45 92.89 L352.7 94.97 L352.95 97.61 L353.2 98.77 L353.45 98.47 L353.7 98.38 L353.95 96.8 L354.2 91.68 L354.45 82.96 L354.7 81.75 L354.95 89.65 L355.2 95.9 L355.45 98.43 L355.7 98.57 L355.95 99.01 L356.2 99 L356.45 99.27 L356.7 99.05 L356.95 98.99 L357.2 98.22 L357.45 96.56 L357.7 93.66 L357.95 93.91 L358.2 96.5 L358.45 98.17 L358.7 98.83 L358.95 99.04 L359.2 99.31 L359.45 99 L359.7 99.34 L359.95 99.32 L360.2 98.99 L360.45 99.35 L360.7 99.01 L360.95 99.03 L361.2 99.32 L361.45 99.11 L361.7 99.49 L361.95 99.26 L362.2 99.16 L362.45 99.45 L362.7 98.99 L362.95 99.41 L363.2 99.01 L363.45 99.07 L363.7 99.55 L363.95 99.39 L364.2 99.11 L364.45 99.05 L364.7 99.56 L364.95 99.38 L365.2 99.47 L365.45 99.06 L365.7 99.35 L365.95 99.19 L366.2 99.12 L366.45 99.18 L366.7 99.34 L366.95 99.18 L367.2 99.21 L367.45 99.05 L367.7 99.47 L367.95 99.36 L368.2 99.45 L368.45 99.22 L368.7 99.47 L368.95 99.26 L369.2 99.3 L369.45 99.27 L369.7 99.35 L369.95 99.12 L370.2 98.87 L370.45 98.63 L370.7 98.25 L370.95 97.22 L371.2 96.5 L371.45 95.35 L371.7 95.73 L371.95 96.4 L372.2 97.85 L372.45 98.87 L372.7 99.08 L372.95 99.1 L373.2 99.17 L373.45 98.98 L373.7 99.03 L373.95 99.04 L374.2 99.18 L374.45 99.19 L374.7 99.49 L374.95 99.06 L375.2 99.12 L375.45 99.14 L375.7 99.07 L375.95 99.15 L376.2 99.12 L376.45 99.27 L376.7 99 L376.95 99.54 L377.2 99.2 L377.45 99.55 L377.7 99.4 L377.95 99.39 L378.2 99.27 L378.45 99.55 L378.7 99.06 L378.95 99.39 L379.2 99.16 L379.45 99.39 L379.7 99.42 L379.95 99.09 L380.2 99.11 L380.45 99 L380.7 99.13 L380.95 99.03 L381.2 99.23 L381.45 99.57 L381.7 99.21 L381.95 99.17 L382.2 99.27 L382.45 99.16 L382.7 99.43 L382.95 99.42 L383.2 99.08 L383.45 99.13 L383.7 99.39 L383.95 99.55 L384.2 99.37 L384.45 99.24 L384.7 99.57 L384.95 98.99 L385.2 99.02 L385.45 99.45 L385.7 99.23 L385.95 99.01 L386.2 99.31 L386.45 99.57 L386.7 99.29 L386.95 99.19 L387.2 99.03 L387.45 99.01 L387.7 99.51 L387.95 99.26 L388.2 99.53 L388.45 98.99 L388.7 99.1 L388.95 98.98 L389.2 99.18 L389.45 98.97 L389.7 99.08 L389.95 99.16 L390.2 99.09 L390.45 98.92 L390.7 98.88 L390.95 99.4 L391.2 98.86 L391.45 98.89 L391.7 98.38 L391.95 97.38 L392.2 95.11 L392.45 92.67 L392.7 90.83 L392.95 91.76 L393.2 94.39 L393.45 96.58 L393.7 98.24 L393.95 98.55 L394.2 98.7 L394.45 99.11 L394.7 99.12 L394.95 99.2 L395.2 99.11 L395.45 99.27 L395.7 99.34 L395.95 99.46 L396.2 99.1 L396.45 99.19 L396.7 99.42 L396.95 99.05 L397.2 98.98 L397.45 99.1 L397.7 98.95 L397.95 99.34 L398.2 99.34 L398.45 98.95 L398.7 98.62 L398.95 98.04 L399.2 97.15 L399.45 95.81 L399.7 95.24 L399.95 95.72 L400.2 96.69 L400.45 97.71 L400.7 98.78 L400.95 98.7 L401.2 98.9 L401.45 98.98 L401.7 99.02 L401.95 98.79 L402.2 98.76 L402.45 98.15 L402.7 97.41 L402.95 96.06 L403.2 95.52 L403.45 95.8 L403.7 97.05 L403.95 98.06 L404.2 98.67 L404.45 99.21 L404.7 99.23 L404.95 99.46 L405.2 99.34 L405.45 99.34 L405.7 99.09 L405.95 99.43 L406.2 99.18 L406.45 99.03 L406.7 98.99 L406.95 99.06 L407.2 99.12 L407.45 99.37 L407.7 99.13 L407.95 99 L408.2 99.42 L408.45 99.3 L408.7 98.98 L408.95 98.99 L409.2 99.04 L409.45 99.18 L409.7 99.48 L409.95 99.53 L410.2 99.32 L410.45 99.09 L410.7 99.21 L410.95 99.16 L411.2 99.13 L411.45 98.94 L411.7 99.27 L411.95 99.4 L412.2 99.32 L412.45 98.92 L412.7 99.13 L412.95 98.8 L413.2 98.88 L413.45 98.21 L413.7 97.62 L413.95 96.31 L414.2 94.6 L414.45 93.93 L414.7 94.51 L414.95 95.32 L415.2 96.62 L415.45 97.73 L415.7 98.65 L415.95 99.14 L416.2 99.07 L416.45 99.42 L416.7 99.23 L416.95 98.96 L417.2 99.4 L417.45 99.18 L417.7 98.97 L417.95 99.53 L418.2 98.97 L418.45 99.3 L418.7 99.25 L418.95 99.49 L419.2 99.2 L419.45 99.1 L419.7 99.13 L419.95 99.09 L420.2 99.31 L420.45 99.19 L420.7 99.42 L420.95 99.12 L421.2 99.19 L421.45 99.12 L421.7 99.56 L421.95 99.48 L422.2 99.48 L422.45 99.35 L422.7 99.21 L422.95 99.06 L423.2 99.47 L423.45 99.27 L423.7 98.99 L423.95 99.07 L424.2 99.03 L424.45 99.39 L424.7 99.5 L424.95 99.08 L425.2 99.43 L425.45 99.14 L425.7 99.34 L425.95 99.44 L426.2 99.27 L426.45 99.34 L426.7 98.99 L426.95 98.51 L427.2 98.2 L427.45 97.2 L427.7 95.73 L427.95 95.22 L428.2 95.73 L428.45 96.77 L428.7 98.02 L428.95 98.7 L429.2 99.03 L429.45 99.27 L429.7 99.12 L429.95 99.49 L430.2 99.4 L430.45 99.48 L430.7 99.34 L430.95 99.33 L431.2 99.25 L431.45 99.4 L431.7 99.13 L431.95 99.26 L432.2 99.3 L432.45 99.19 L432.7 99.02 L432.95 98.86 L433.2 98.79 L433.45 98.74 L433.7 98.32 L433.95 97.17 L434.2 95.05 L434.45 92.52 L434.7 91.96 L434.95 92.88 L435.2 95.49 L435.45 97.06 L435.7 98.57 L435.95 98.99 L436.2 99.34" fill="none" stroke="#a9d3ea" stroke-width="1.4" stroke-linejoin="round"/>
<path d="M261.2 64.64 L261.45 64.66 L261.7 64.49 L261.95 64.38 L262.2 64.25 L262.45 64.58 L262.7 64.48 L262.95 64.63 L263.2 64.43 L263.45 64.63 L263.7 64.38 L263.95 64.65 L264.2 64.61 L264.45 64.45 L264.7 64.51 L264.95 64.59 L265.2 64.34 L265.45 64.52 L265.7 64.65 L265.95 64.38 L266.2 64.65 L266.45 64.59 L266.7 64.67 L266.95 64.41 L267.2 64.29 L267.45 64.64 L267.7 64.65 L267.95 64.47 L268.2 64.29 L268.45 64.34 L268.7 64.56 L268.95 64.39 L269.2 64.72 L269.45 64.54 L269.7 64.34 L269.95 64.57 L270.2 64.42 L270.45 64.71 L270.7 64.7 L270.95 64.5 L271.2 64.56 L271.45 64.59 L271.7 64.64 L271.95 64.73 L272.2 64.25 L272.45 64.42 L272.7 64.54 L272.95 64.39 L273.2 64.53 L273.45 64.28 L273.7 64.68 L273.95 64.5 L274.2 64.29 L274.45 64.57 L274.7 64.39 L274.95 64.33 L275.2 64.48 L275.45 64.3 L275.7 64.34 L275.95 64.66 L276.2 64.58 L276.45 64.24 L276.7 64.62 L276.95 64.24 L277.2 64.39 L277.45 64.68 L277.7 64.53 L277.95 64.38 L278.2 64.41 L278.45 64.41 L278.7 64.28 L278.95 64.72 L279.2 64.24 L279.45 64.42 L279.7 64.58 L279.95 64.4 L280.2 64.69 L280.45 64.32 L280.7 64.68 L280.95 64.63 L281.2 64.51 L281.45 64.61 L281.7 64.38 L281.95 64.56 L282.2 64.53 L282.45 64.37 L282.7 64.32 L282.95 64.4 L283.2 64.21 L283.45 63.98 L283.7 64.22 L283.95 63.83 L284.2 63.66 L284.45 62.9 L284.7 58.51 L284.95 46.76 L285.2 33.02 L285.45 37.28 L285.7 52.14 L285.95 60.69 L286.2 63.19 L286.45 63.96 L286.7 63.82 L286.95 64 L287.2 64.29 L287.45 64.18 L287.7 64 L287.95 64.06 L288.2 63.94 L288.45 63.38 L288.7 61.66 L288.95 55.88 L289.2 48.32 L289.45 48.81 L289.7 57.01 L289.95 62.36 L290.2 63.89 L290.45 63.95 L290.7 64.19 L290.95 64.1 L291.2 64.18 L291.45 64.23 L291.7 64.38 L291.95 64.43 L292.2 64.07 L292.45 63.85 L292.7 63.93 L292.95 63.36 L293.2 61.68 L293.45 56 L293.7 44.86 L293.95 41.83 L294.2 51.45 L294.45 60.35 L294.7 63.37 L294.95 63.66 L295.2 63.93 L295.45 64.42 L295.7 64.32 L295.95 64.27 L296.2 64.49 L296.45 64.53 L296.7 64.39 L296.95 64.39 L297.2 64.22 L297.45 64.36 L297.7 64.26 L297.95 64.5 L298.2 64.5 L298.45 64.27 L298.7 64.52 L298.95 64.26 L299.2 64.26 L299.45 64.54 L299.7 64.45 L299.95 64.67 L300.2 64.53 L300.45 64.57 L300.7 64.29 L300.95 64.64 L301.2 64.27 L301.45 64.53 L301.7 64.68 L301.95 64.68 L302.2 64.67 L302.45 64.45 L302.7 64.58 L302.95 64.63 L303.2 64.3 L303.45 64.7 L303.7 64.69 L303.95 64.45 L304.2 64.62 L304.45 64.46 L304.7 64.37 L304.95 64.59 L305.2 64.26 L305.45 64.63 L305.7 64.72 L305.95 64.38 L306.2 64.7 L306.45 64.27 L306.7 64.66 L306.95 64.37 L307.2 64.71 L307.45 64.45 L307.7 64.69 L307.95 64.25 L308.2 64.27 L308.45 64.64 L308.7 64.55 L308.95 64.5 L309.2 64.24 L309.45 64.31 L309.7 64.41 L309.95 64.25 L310.2 64.72 L310.45 64.6 L310.7 64.69 L310.95 64.57 L311.2 64.38 L311.45 64.25 L311.7 64.57 L311.95 64.26 L312.2 64.47 L312.45 64.42 L312.7 64.42 L312.95 64.2 L313.2 64.18 L313.45 64.37 L313.7 64.09 L313.95 64.28 L314.2 63.97 L314.45 63.65 L314.7 62.19 L314.95 58.82 L315.2 53.82 L315.45 52.48 L315.7 56.7 L315.95 61.3 L316.2 63.61 L316.45 64.01 L316.7 64.06 L316.95 64.21 L317.2 64.22 L317.45 64.42 L317.7 64.54 L317.95 64.45 L318.2 64.27 L318.45 64.35 L318.7 64.39 L318.95 64.42 L319.2 64.4 L319.45 64.71 L319.7 64.49 L319.95 64.55 L320.2 64.58 L320.45 64.54 L320.7 64.62 L320.95 64.41 L321.2 64.56 L321.45 64.71 L321.7 64.31 L321.95 64.54 L322.2 64.42 L322.45 64.26 L322.7 64.25 L322.95 64.61 L323.2 64.28 L323.45 64.58 L323.7 64.28 L323.95 64.41 L324.2 64.24 L324.45 64.5 L324.7 64.62 L324.95 64.34 L325.2 64.51 L325.45 64.68 L325.7 64.37 L325.95 64.46 L326.2 64.58 L326.45 64.65 L326.7 64.3 L326.95 64.54 L327.2 64.27 L327.45 64.27 L327.7 64.7 L327.95 64.23 L328.2 64.66 L328.45 64.57 L328.7 64.53 L328.95 64.55 L329.2 64.51 L329.45 64.32 L329.7 64.39 L329.95 64.26 L330.2 64.58 L330.45 64.53 L330.7 64.51 L330.95 64.21 L331.2 64.37 L331.45 64.16 L331.7 64.39 L331.95 64.3 L332.2 64.33 L332.45 64.04 L332.7 63.79 L332.95 63.28 L333.2 60.61 L333.45 51.78 L333.7 33.09 L333.95 23.75 L334.2 38.84 L334.45 55.64 L334.7 61.64 L334.95 63.58 L335.2 64 L335.45 63.95 L335.7 64.27 L335.95 63.96 L336.2 64.07 L336.45 64.04 L336.7 64.1 L336.95 64.1 L337.2 64.53 L337.45 64.17 L337.7 64.43 L337.95 64.28 L338.2 64.22 L338.45 64.37 L338.7 64.25 L338.95 64.65 L339.2 64.36 L339.45 64.46 L339.7 64.45 L339.95 64.48 L340.2 64.4 L340.45 64.29 L340.7 64.22 L340.95 64.58 L341.2 64.22 L341.45 64.33 L341.7 64.49 L341.95 64.34 L342.2 64.49 L342.45 64.35 L342.7 64.11 L342.95 63.74 L343.2 63.55 L343.45 61.6 L343.7 54.96 L343.95 42.72 L344.2 39.29 L344.45 50.36 L344.7 59.7 L344.95 63.24 L345.2 64.02 L345.45 63.88 L345.7 64.38 L345.95 64.43 L346.2 64.47 L346.45 64.25 L346.7 64.23 L346.95 64.19 L347.2 64.32 L347.45 64.57 L347.7 64.34 L347.95 64.16 L348.2 64.32 L348.45 64.21 L348.7 64.48 L348.95 64.55 L349.2 64.63 L349.45 64.21 L349.7 64.35 L349.95 64.21 L350.2 64.6 L350.45 64.55 L350.7 64.37 L350.95 64.56 L351.2 64.29 L351.45 64.33 L351.7 63.84 L351.95 62.38 L352.2 59.49 L352.45 57.01 L352.7 59.1 L352.95 62.42 L353.2 63.67 L353.45 63.95 L353.7 63.29 L353.95 61.64 L354.2 55.72 L354.45 46.3 L354.7 44.71 L354.95 53.63 L355.2 61 L355.45 63.2 L355.7 64.02 L355.95 64.23 L356.2 63.96 L356.45 64.44 L356.7 64.28 L356.95 63.92 L357.2 63.48 L357.45 61.55 L357.7 59.11 L357.95 59.16 L358.2 61.52 L358.45 63.42 L358.7 64.24 L358.95 64.49 L359.2 64.48 L359.45 64.37 L359.7 64.22 L359.95 64.48 L360.2 64.41 L360.45 64.59 L360.7 64.48 L360.95 64.57 L361.2 64.69 L361.45 64.52 L361.7 64.67 L361.95 64.35 L362.2 64.22 L362.45 64.66 L362.7 64.24 L362.95 64.72 L363.2 64.45 L363.45 64.25 L363.7 64.36 L363.95 64.59 L364.2 64.42 L364.45 64.54 L364.7 64.28 L364.95 64.64 L365.2 64.41 L365.45 64.64 L365.7 64.3 L365.95 64.56 L366.2 64.46 L366.45 64.43 L366.7 64.23 L366.95 64.49 L367.2 64.64 L367.45 64.27 L367.7 64.44 L367.95 64.22 L368.2 64.71 L368.45 64.69 L368.7 64.54 L368.95 64.44 L369.2 64.22 L369.45 64.24 L369.7 64.51 L369.95 64.53 L370.2 64.55 L370.45 64.29 L370.7 63.6 L370.95 62.58 L371.2 61.49 L371.45 60.48 L371.7 60.8 L371.95 62.09 L372.2 63.05 L372.45 64.08 L372.7 64.31 L372.95 64.11 L373.2 64.52 L373.45 64.5 L373.7 64.49 L373.95 64.2 L374.2 64.64 L374.45 64.46 L374.7 64.48 L374.95 64.3 L375.2 64.24 L375.45 64.23 L375.7 64.33 L375.95 64.38 L376.2 64.31 L376.45 64.26 L376.7 64.59 L376.95 64.58 L377.2 64.67 L377.45 64.34 L377.7 64.6 L377.95 64.53 L378.2 64.28 L378.45 64.67 L378.7 64.41 L378.95 64.33 L379.2 64.33 L379.45 64.7 L379.7 64.35 L379.95 64.43 L380.2 64.51 L380.45 64.42 L380.7 64.56 L380.95 64.28 L381.2 64.45 L381.45 64.53 L381.7 64.54 L381.95 64.54 L382.2 64.37 L382.45 64.55 L382.7 64.72 L382.95 64.48 L383.2 64.56 L383.45 64.65 L383.7 64.36 L383.95 64.37 L384.2 64.72 L384.45 64.38 L384.7 64.44 L384.95 64.42 L385.2 64.73 L385.45 64.5 L385.7 64.68 L385.95 64.31 L386.2 64.36 L386.45 64.55 L386.7 64.38 L386.95 64.55 L387.2 64.47 L387.45 64.25 L387.7 64.27 L387.95 64.43 L388.2 64.47 L388.45 64.29 L388.7 64.33 L388.95 64.19 L389.2 64.32 L389.45 64.33 L389.7 64.36 L389.95 64.44 L390.2 64.56 L390.45 64.46 L390.7 64.44 L390.95 64.17 L391.2 64.19 L391.45 64.1 L391.7 63.62 L391.95 61.92 L392.2 59.27 L392.45 56.03 L392.7 54.09 L392.95 55.12 L393.2 57.8 L393.45 61.13 L393.7 62.97 L393.95 63.96 L394.2 64.31 L394.45 64.03 L394.7 64.44 L394.95 64.15 L395.2 64.16 L395.45 64.32 L395.7 64.38 L395.95 64.18 L396.2 64.29 L396.45 64.24 L396.7 64.22 L396.95 64.2 L397.2 64.16 L397.45 64.25 L397.7 64.3 L397.95 64.32 L398.2 64.42 L398.45 64.29 L398.7 63.97 L398.95 63.28 L399.2 62.31 L399.45 60.7 L399.7 59.82 L399.95 60.22 L400.2 61.82 L400.45 62.83 L400.7 63.65 L400.95 64.07 L401.2 64.29 L401.45 64.37 L401.7 64.33 L401.95 64.27 L402.2 63.84 L402.45 63.66 L402.7 62.57 L402.95 61.18 L403.2 60.42 L403.45 60.94 L403.7 61.9 L403.95 63.29 L404.2 64.11 L404.45 64.15 L404.7 64.33 L404.95 64.26 L405.2 64.61 L405.45 64.36 L405.7 64.36 L405.95 64.54 L406.2 64.38 L406.45 64.65 L406.7 64.41 L406.95 64.5 L407.2 64.36 L407.45 64.5 L407.7 64.45 L407.95 64.26 L408.2 64.66 L408.45 64.29 L408.7 64.5 L408.95 64.55 L409.2 64.44 L409.45 64.37 L409.7 64.43 L409.95 64.7 L410.2 64.21 L410.45 64.64 L410.7 64.49 L410.95 64.43 L411.2 64.5 L411.45 64.49 L411.7 64.57 L411.95 64.63 L412.2 64.38 L412.45 64.27 L412.7 64.21 L412.95 64.36 L413.2 63.87 L413.45 63.09 L413.7 62.35 L413.95 60.72 L414.2 59.37 L414.45 58.62 L414.7 58.85 L414.95 60.03 L415.2 61.68 L415.45 62.82 L415.7 63.82 L415.95 64.18 L416.2 64.1 L416.45 64.45 L416.7 64.29 L416.95 64.61 L417.2 64.46 L417.45 64.37 L417.7 64.26 L417.95 64.61 L418.2 64.37 L418.45 64.2 L418.7 64.6 L418.95 64.21 L419.2 64.23 L419.45 64.23 L419.7 64.54 L419.95 64.5 L420.2 64.46 L420.45 64.68 L420.7 64.45 L420.95 64.32 L421.2 64.72 L421.45 64.28 L421.7 64.24 L421.95 64.33 L422.2 64.71 L422.45 64.43 L422.7 64.4 L422.95 64.4 L423.2 64.4 L423.45 64.59 L423.7 64.53 L423.95 64.35 L424.2 64.3 L424.45 64.61 L424.7 64.48 L424.95 64.44 L425.2 64.28 L425.45 64.66 L425.7 64.43 L425.95 64.6 L426.2 64.45 L426.45 64.38 L426.7 63.94 L426.95 64.03 L427.2 63.17 L427.45 61.33 L427.7 59.64 L427.95 59.07 L428.2 59.83 L428.45 61.26 L428.7 63.14 L428.95 63.57 L429.2 64.19 L429.45 64.29 L429.7 64.26 L429.95 64.46 L430.2 64.36 L430.45 64.53 L430.7 64.54 L430.95 64.16 L431.2 64.32 L431.45 64.43 L431.7 64.3 L431.95 64.44 L432.2 64.14 L432.45 64.16 L432.7 64.34 L432.95 64.15 L433.2 64.05 L433.45 63.93 L433.7 63.39 L433.95 62.02 L434.2 59.65 L434.45 57.05 L434.7 55.97 L434.95 57.66 L435.2 60.28 L435.45 62.48 L435.7 63.74 L435.95 64.13 L436.2 64.08" fill="none" stroke="#2166b8" stroke-width="1.4" stroke-linejoin="round"/>
<rect x="284.28" y="123.5" width="2" height="8.6" fill="#111"/>
<rect x="288.31" y="124.9" width="2" height="7.2" fill="#111"/>
<rect x="292.88" y="125.4" width="2" height="6.7" fill="#111"/>
<rect x="314.37" y="128.3" width="2" height="3.8" fill="#111"/>
<rect x="332.91" y="124.9" width="2" height="7.2" fill="#111"/>
<rect x="343.12" y="125.7" width="2" height="6.4" fill="#111"/>
<rect x="351.75" y="129.3" width="1.4" height="2.8" fill="#111"/>
<rect x="353.6" y="127.8" width="2" height="4.3" fill="#111"/>
<rect x="357.13" y="130" width="1.4" height="2.1" fill="#111"/>
<rect x="370.93" y="130.5" width="1.2" height="1.6" fill="#111"/>
<rect x="392.06" y="129.5" width="1.4" height="2.6" fill="#111"/>
<rect x="399.15" y="130.5" width="1.2" height="1.6" fill="#111"/>
<rect x="402.64" y="130.5" width="1.2" height="1.6" fill="#111"/>
<rect x="413.82" y="129.7" width="1.4" height="2.4" fill="#111"/>
<rect x="427.26" y="129.8" width="1.4" height="2.3" fill="#111"/>
<rect x="433.98" y="129.3" width="1.4" height="2.8" fill="#111"/>
<path d="M260.7 8.8 V132.1 H436.82" fill="none" stroke="#1a1a1a" stroke-width="1.3"/>
<line x1="274.8" y1="132.1" x2="274.8" y2="133.7" stroke="#1a1a1a" stroke-width="1"/>
<text x="274.8" y="144.9" font-size="10" text-anchor="middle" fill="#1a1a1a">20</text>
<line x1="328.54" y1="132.1" x2="328.54" y2="133.7" stroke="#1a1a1a" stroke-width="1"/>
<text x="328.54" y="144.9" font-size="10" text-anchor="middle" fill="#1a1a1a">40</text>
<line x1="382.28" y1="132.1" x2="382.28" y2="133.7" stroke="#1a1a1a" stroke-width="1"/>
<text x="382.28" y="144.9" font-size="10" text-anchor="middle" fill="#1a1a1a">60</text>
<line x1="436.02" y1="132.1" x2="436.02" y2="133.7" stroke="#1a1a1a" stroke-width="1"/>
<text x="436.02" y="144.9" font-size="10" text-anchor="middle" fill="#1a1a1a">80</text>
<text x="355" y="158.4" font-size="10" text-anchor="middle" fill="#1a1a1a">2 Theta (°)</text>
<text transform="translate(254.8 71) rotate(-90)" font-size="10" text-anchor="middle" fill="#1a1a1a">Intensity (a.u.)</text>
<text transform="translate(280.95 121.7) rotate(-90)" font-size="7.5" fill="#111" stroke="#111" stroke-width="0.1">(100)</text>
<text transform="translate(291.15 126.1) rotate(-90)" font-size="7.5" fill="#111" stroke="#111" stroke-width="0.1">(002)</text>
<text transform="translate(303.15 120.9) rotate(-90)" font-size="7.5" fill="#111" stroke="#111" stroke-width="0.1">(101)</text>
<text transform="translate(316.25 129.3) rotate(-90)" font-size="7.5" fill="#111" stroke="#111" stroke-width="0.1">(102)</text>
<text transform="translate(335.65 122.4) rotate(-90)" font-size="7.5" fill="#111" stroke="#111" stroke-width="0.1">(110)</text>
<text transform="translate(345.45 121.7) rotate(-90)" font-size="7.5" fill="#111" stroke="#111" stroke-width="0.1">(103)</text>
<text transform="translate(356.15 123.9) rotate(-90)" font-size="7.5" fill="#111" stroke="#111" stroke-width="0.1">(112)</text>
<text transform="translate(394.35 125) rotate(-90)" font-size="7.5" fill="#111" stroke="#111" stroke-width="0.1">(203)</text>
<text transform="translate(414.75 125) rotate(-90)" font-size="7.5" fill="#111" stroke="#111" stroke-width="0.1">(105)</text>
<text transform="translate(429.25 125) rotate(-90)" font-size="7.5" fill="#111" stroke="#111" stroke-width="0.1">(300)</text>
<line x1="379" y1="18.9" x2="395.9" y2="18.9" stroke="#2166b8" stroke-width="1.6"/>
<text x="399.6" y="22" font-size="8.6" fill="#1a1a1a">CdSe-r-A</text>
<line x1="379" y1="29.5" x2="395.9" y2="29.5" stroke="#a9d3ea" stroke-width="1.6"/>
<text x="399.6" y="32.6" font-size="8.6" fill="#1a1a1a">CdSe-r-B</text>
<text x="246" y="10.6" font-size="14.5" font-weight="bold" fill="#000">b</text>
<path d="M491.4 98.68 L491.65 98.23 L491.9 99.53 L492.15 98.03 L492.4 99.23 L492.65 98.79 L492.9 97.99 L493.15 99.16 L493.4 97.94 L493.65 98.97 L493.9 98.02 L494.15 98.08 L494.4 98.95 L494.65 99.99 L494.9 98.16 L495.15 98.42 L495.4 99.47 L495.65 100.31 L495.9 99.34 L496.15 98.87 L496.4 100.38 L496.65 97.96 L496.9 100.07 L497.15 98.59 L497.4 98.22 L497.65 98.15 L497.9 98.64 L498.15 99.96 L498.4 98.31 L498.65 99.35 L498.9 99.5 L499.15 98.81 L499.4 99.26 L499.65 98 L499.9 97.99 L500.15 98.37 L500.4 99.6 L500.65 98.94 L500.9 98.65 L501.15 99.35 L501.4 99.01 L501.65 98.6 L501.9 99.89 L502.15 99.64 L502.4 98.45 L502.65 99.31 L502.9 99.18 L503.15 100.09 L503.4 99.71 L503.65 98.56 L503.9 100.35 L504.15 98.11 L504.4 98.89 L504.65 99.76 L504.9 98.19 L505.15 99.06 L505.4 97.88 L505.65 99.52 L505.9 99.76 L506.15 99.26 L506.4 100.04 L506.65 98.57 L506.9 99.56 L507.15 99.29 L507.4 99.24 L507.65 98.91 L507.9 99.9 L508.15 100.17 L508.4 98.93 L508.65 99.42 L508.9 97.84 L509.15 99.49 L509.4 99.34 L509.65 100.22 L509.9 99.76 L510.15 98.35 L510.4 98.59 L510.65 99.31 L510.9 97.61 L511.15 98.72 L511.4 97.93 L511.65 97.77 L511.9 97.59 L512.15 99.4 L512.4 97.7 L512.65 97.96 L512.9 98.29 L513.15 99.48 L513.4 97.36 L513.65 98.25 L513.9 98.43 L514.15 99.2 L514.4 98.92 L514.65 98.9 L514.9 97.22 L515.15 97.39 L515.4 97.01 L515.65 98.08 L515.9 97.87 L516.15 95.23 L516.4 94.52 L516.65 93.53 L516.9 91.89 L517.15 90.23 L517.4 87.42 L517.65 82.77 L517.9 77.95 L518.15 75.56 L518.4 74.1 L518.65 76.14 L518.9 80.62 L519.15 83.91 L519.4 87 L519.65 90.04 L519.9 92.18 L520.15 91.86 L520.4 94.8 L520.65 94.81 L520.9 95 L521.15 94.35 L521.4 92.33 L521.65 90.65 L521.9 87.19 L522.15 84.68 L522.4 78.2 L522.65 72.95 L522.9 69.94 L523.15 70.51 L523.4 75.18 L523.65 79.65 L523.9 84.05 L524.15 87.77 L524.4 89.78 L524.65 91.66 L524.9 91.27 L525.15 93.39 L525.4 92.12 L525.65 89.76 L525.9 88.22 L526.15 85.87 L526.4 82.45 L526.65 77.51 L526.9 74.5 L527.15 70.09 L527.4 65.33 L527.65 64.73 L527.9 66.13 L528.15 70.67 L528.4 76.42 L528.65 81.02 L528.9 86.54 L529.15 88.01 L529.4 90.06 L529.65 94.24 L529.9 94.41 L530.15 94.33 L530.4 96.02 L530.65 95.18 L530.9 96.87 L531.15 98.35 L531.4 98.3 L531.65 98.08 L531.9 97.13 L532.15 97.55 L532.4 97.17 L532.65 98.86 L532.9 98.34 L533.15 99.07 L533.4 97.98 L533.65 97.77 L533.9 99.36 L534.15 99.87 L534.4 99.57 L534.65 99.5 L534.9 99.57 L535.15 99.41 L535.4 98.11 L535.65 98.9 L535.9 98.5 L536.15 97.68 L536.4 97.7 L536.65 98.38 L536.9 98.35 L537.15 99.49 L537.4 100.2 L537.65 98.89 L537.9 100.18 L538.15 100.32 L538.4 100.25 L538.65 98.73 L538.9 98.37 L539.15 98.39 L539.4 98.32 L539.65 98.35 L539.9 99.45 L540.15 100.18 L540.4 100.03 L540.65 99.09 L540.9 99.55 L541.15 99.94 L541.4 98.08 L541.65 99.58 L541.9 100.23 L542.15 99.9 L542.4 99.82 L542.65 99.11 L542.9 98.33 L543.15 99.92 L543.4 98.73 L543.65 99.94 L543.9 100.38 L544.15 98.87 L544.4 98.88 L544.65 100.28 L544.9 99.69 L545.15 98.24 L545.4 98.1 L545.65 98.14 L545.9 100.08 L546.15 99.79 L546.4 98.03 L546.65 99.75 L546.9 100.09 L547.15 99.17 L547.4 98.27 L547.65 98.66 L547.9 97.39 L548.15 96.83 L548.4 98.95 L548.65 97.61 L548.9 96.61 L549.15 96.8 L549.4 94.43 L549.65 94.38 L549.9 93.14 L550.15 90.78 L550.4 90.81 L550.65 91.54 L550.9 92.49 L551.15 94.58 L551.4 94.84 L551.65 96.18 L551.9 96.15 L552.15 98.72 L552.4 97.67 L552.65 98.22 L552.9 98.75 L553.15 99.73 L553.4 98.59 L553.65 99.96 L553.9 98.95 L554.15 99.08 L554.4 99.11 L554.65 97.83 L554.9 98.96 L555.15 98.32 L555.4 97.88 L555.65 99.97 L555.9 98.36 L556.15 99.16 L556.4 99.83 L556.65 99.4 L556.9 98.81 L557.15 99.32 L557.4 99.42 L557.65 100.02 L557.9 98.27 L558.15 99.45 L558.4 98.65 L558.65 98.72 L558.9 100.01 L559.15 99.33 L559.4 99.47 L559.65 99.98 L559.9 100.38 L560.15 99.16 L560.4 99.59 L560.65 99.31 L560.9 99.32 L561.15 99.79 L561.4 99.16 L561.65 99.36 L561.9 99.21 L562.15 100.4 L562.4 99.76 L562.65 100.21 L562.9 100.36 L563.15 98.57 L563.4 99.33 L563.65 100.3 L563.9 100.01 L564.15 98.15 L564.4 98.07 L564.65 98.86 L564.9 97.86 L565.15 98.24 L565.4 97.73 L565.65 99.2 L565.9 99.41 L566.15 99.58 L566.4 97.51 L566.65 98.79 L566.9 98.4 L567.15 96.73 L567.4 98.19 L567.65 97.72 L567.9 94.77 L568.15 95.24 L568.4 91.81 L568.65 89.47 L568.9 87.77 L569.15 84.42 L569.4 80.8 L569.65 81.64 L569.9 83.94 L570.15 86.47 L570.4 89.06 L570.65 91.87 L570.9 94.82 L571.15 94.37 L571.4 96.71 L571.65 97.05 L571.9 96.39 L572.15 97.51 L572.4 98.49 L572.65 98.37 L572.9 97.33 L573.15 99.83 L573.4 99.39 L573.65 99.93 L573.9 97.73 L574.15 98.18 L574.4 97.62 L574.65 99.56 L574.9 98.25 L575.15 97.88 L575.4 98.63 L575.65 99.88 L575.9 99.62 L576.15 98.12 L576.4 97.79 L576.65 99.72 L576.9 98.74 L577.15 98.97 L577.4 97.25 L577.65 97 L577.9 98.42 L578.15 97.44 L578.4 96.1 L578.65 97.73 L578.9 96.02 L579.15 95.12 L579.4 91.38 L579.65 90.9 L579.9 85.81 L580.15 84.66 L580.4 81.06 L580.65 80.08 L580.9 82.19 L581.15 86.11 L581.4 87.62 L581.65 90.09 L581.9 93.36 L582.15 94.25 L582.4 95.07 L582.65 95.98 L582.9 96.22 L583.15 96.98 L583.4 97.52 L583.65 97.7 L583.9 99.03 L584.15 97.92 L584.4 98.55 L584.65 97.79 L584.9 98.28 L585.15 97.46 L585.4 98.09 L585.65 97.49 L585.9 99.36 L586.15 98.88 L586.4 97.92 L586.65 98.63 L586.9 99.78 L587.15 97.57 L587.4 99.34 L587.65 98.24 L587.9 98.28 L588.15 99 L588.4 97.64 L588.65 97.64 L588.9 97.72 L589.15 97.95 L589.4 95.56 L589.65 95.86 L589.9 94.28 L590.15 92.54 L590.4 90.1 L590.65 87.92 L590.9 85.16 L591.15 83.81 L591.4 83 L591.65 85.24 L591.9 85.44 L592.15 87.16 L592.4 89.02 L592.65 92.88 L592.9 94.57 L593.15 95.36 L593.4 95.38 L593.65 96.05 L593.9 96.77 L594.15 97.63 L594.4 97.16 L594.65 98.16 L594.9 97.87 L595.15 99.84 L595.4 99.99 L595.65 98.99 L595.9 98.29 L596.15 100.24 L596.4 98.6 L596.65 98.78 L596.9 97.91 L597.15 98.94 L597.4 99.22 L597.65 99.33 L597.9 98.58 L598.15 99.4 L598.4 98.12 L598.65 98.82 L598.9 98.39 L599.15 99.21 L599.4 98.3 L599.65 98.27 L599.9 99.02 L600.15 98.84 L600.4 99.78 L600.65 99.64 L600.9 100.23 L601.15 100 L601.4 100.16 L601.65 100.59 L601.9 99.33 L602.15 99.17 L602.4 100.89 L602.65 98.73 L602.9 100.23 L603.15 100.03 L603.4 98.48 L603.65 100.54 L603.9 100.69 L604.15 100.01 L604.4 100.29 L604.65 100.5 L604.9 98.76 L605.15 99.76 L605.4 99.72 L605.65 100.58 L605.9 100.51 L606.15 100.57 L606.4 99.94 L606.65 100.75 L606.9 100.21 L607.15 100.24 L607.4 99.04 L607.65 98.52 L607.9 98.79 L608.15 99.39 L608.4 98.72 L608.65 100.63 L608.9 99.91 L609.15 100.09 L609.4 100.09 L609.65 100.24 L609.9 99.74 L610.15 98.48 L610.4 100.55 L610.65 100.42 L610.9 99.79 L611.15 99.87 L611.4 100.2 L611.65 98.66 L611.9 100.4 L612.15 99.14 L612.4 98.68 L612.65 99.18 L612.9 100.39 L613.15 99.03 L613.4 100.42 L613.65 101.04 L613.9 99.78 L614.15 99.5 L614.4 99.75 L614.65 100.28 L614.9 100.5 L615.15 100.11 L615.4 100.18 L615.65 98.71 L615.9 98.89 L616.15 99.17 L616.4 100.45 L616.65 99.31 L616.9 99.99 L617.15 98.55 L617.4 98.67 L617.65 99.21 L617.9 100.26 L618.15 100.32 L618.4 100.27 L618.65 99.27 L618.9 99.86 L619.15 99.73 L619.4 99.73 L619.65 98.82 L619.9 100.84 L620.15 99.03 L620.4 101.06 L620.65 100.95 L620.9 98.56 L621.15 99.7 L621.4 100.64 L621.65 101.02 L621.9 99.67 L622.15 99.2 L622.4 99.04 L622.65 100.95 L622.9 99.04 L623.15 100 L623.4 98.85 L623.65 99.84 L623.9 100.95 L624.15 98.81 L624.4 100.59 L624.65 99.77 L624.9 100.75 L625.15 100.26 L625.4 99.02 L625.65 100.74 L625.9 99.66 L626.15 98.44 L626.4 98.37 L626.65 99.62 L626.9 99.49 L627.15 99.07 L627.4 98.62 L627.65 99.11 L627.9 98.99 L628.15 100.29 L628.4 98.04 L628.65 99.89 L628.9 100.01 L629.15 97.99 L629.4 99.91 L629.65 99.13 L629.9 99.35 L630.15 97.44 L630.4 97.29 L630.65 96.93 L630.9 98.06 L631.15 96.55 L631.4 95.55 L631.65 95.4 L631.9 94.84 L632.15 94.28 L632.4 94.62 L632.65 96.87 L632.9 95.86 L633.15 98 L633.4 96.65 L633.65 97.1 L633.9 98.09 L634.15 97.56 L634.4 98.29 L634.65 100.02 L634.9 100 L635.15 99.94 L635.4 99.58 L635.65 100.4 L635.9 100.53 L636.15 99.57 L636.4 100.05 L636.65 98.34 L636.9 100.14 L637.15 99.42 L637.4 100.22 L637.65 99.95 L637.9 99.02 L638.15 98.4 L638.4 100.68 L638.65 98.59 L638.9 99.47 L639.15 99.11 L639.4 98.95 L639.65 100.05 L639.9 100.61 L640.15 98.66 L640.4 99.59 L640.65 98.53 L640.9 99.04 L641.15 98.42 L641.4 97.6 L641.65 97.32 L641.9 97.16 L642.15 98.68 L642.4 97.33 L642.65 96.38 L642.9 98.01 L643.15 98.22 L643.4 96.9 L643.65 96.29 L643.9 96.7 L644.15 96.73 L644.4 97.68 L644.65 97.31 L644.9 97.94 L645.15 98.21 L645.4 99.2 L645.65 100.18 L645.9 99.94 L646.15 99.17 L646.4 99.25 L646.65 99.6 L646.9 99.26 L647.15 99.2 L647.4 98.51 L647.65 99.09 L647.9 100.9 L648.15 98.73 L648.4 99.72 L648.65 100.05 L648.9 100.66 L649.15 98.98 L649.4 99.12 L649.65 99.06 L649.9 99.44 L650.15 99.55 L650.4 100.86 L650.65 100.56 L650.9 100.6 L651.15 98.36 L651.4 98.34 L651.65 100.05 L651.9 100.47 L652.15 99.28 L652.4 99.47 L652.65 97.81 L652.9 98.66 L653.15 99.84 L653.4 99.31 L653.65 99.08 L653.9 99.03 L654.15 96.74 L654.4 95.95 L654.65 95.62 L654.9 96.16 L655.15 96.25 L655.4 96.74 L655.65 96.17 L655.9 96.16 L656.15 96.8 L656.4 96.42 L656.65 97.12 L656.9 96.23 L657.15 98.57 L657.4 97.51 L657.65 99.61 L657.9 99.16 L658.15 98.49 L658.4 98.22 L658.65 98.68 L658.9 99.8 L659.15 100.05 L659.4 98.6 L659.65 98.56 L659.9 99.79 L660.15 99.98 L660.4 99.51 L660.65 99.11 L660.9 100.12 L661.15 98.61 L661.4 99.39 L661.65 99.82 L661.9 101.13 L662.15 100.33 L662.4 100.97 L662.65 99.92 L662.9 99.3 L663.15 99.35 L663.4 101.21 L663.65 100.56 L663.9 99.53 L664.15 98.8 L664.4 100.04 L664.65 100.51 L664.9 99.85 L665.15 99.44 L665.4 100.51 L665.65 101.19 L665.9 99.38 L666.15 98.88 L666.4 99.68 L666.65 99.89 L666.9 100.58 L667.15 99.32 L667.4 100.89 L667.65 100.74 L667.9 100.13" fill="none" stroke="#a6e39c" stroke-width="2.0" stroke-linejoin="round"/>
<path d="M491.4 55.96 L491.65 58.02 L491.9 55.68 L492.15 57.3 L492.4 55.57 L492.65 56.02 L492.9 58.13 L493.15 55.92 L493.4 57.13 L493.65 56.62 L493.9 56.6 L494.15 56.72 L494.4 55.87 L494.65 57.66 L494.9 55.58 L495.15 55.99 L495.4 55.39 L495.65 56.08 L495.9 56.47 L496.15 57.85 L496.4 56.39 L496.65 55.65 L496.9 56.05 L497.15 58.1 L497.4 55.5 L497.65 57.06 L497.9 56.38 L498.15 57.17 L498.4 56.27 L498.65 57.26 L498.9 56.71 L499.15 57.14 L499.4 57.84 L499.65 56.95 L499.9 55.71 L500.15 55.5 L500.4 57.96 L500.65 56.68 L500.9 55.85 L501.15 57.96 L501.4 56.93 L501.65 57.35 L501.9 57.77 L502.15 56.1 L502.4 56.3 L502.65 57.75 L502.9 55.67 L503.15 57.43 L503.4 55.56 L503.65 57.21 L503.9 57.24 L504.15 57.93 L504.4 57.63 L504.65 56.68 L504.9 55.81 L505.15 55.68 L505.4 56.73 L505.65 56.67 L505.9 55.44 L506.15 57.76 L506.4 56.65 L506.65 57.18 L506.9 55.83 L507.15 55.89 L507.4 55.23 L507.65 56.14 L507.9 55.92 L508.15 56.35 L508.4 56.21 L508.65 57.47 L508.9 57.62 L509.15 55.6 L509.4 56.21 L509.65 55.54 L509.9 56.92 L510.15 57.77 L510.4 55.58 L510.65 57.14 L510.9 55.81 L511.15 54.98 L511.4 57.05 L511.65 55.84 L511.9 55.32 L512.15 56.02 L512.4 55.4 L512.65 55.85 L512.9 55.9 L513.15 55.75 L513.4 56.16 L513.65 55.23 L513.9 54.6 L514.15 54.46 L514.4 54.39 L514.65 55.4 L514.9 54.77 L515.15 55.8 L515.4 54.68 L515.65 54.91 L515.9 55.22 L516.15 52.04 L516.4 51.03 L516.65 50.09 L516.9 48.92 L517.15 46.83 L517.4 43.83 L517.65 38.43 L517.9 35.47 L518.15 28.86 L518.4 29.67 L518.65 29.6 L518.9 35.34 L519.15 37.42 L519.4 43.97 L519.65 46.46 L519.9 49.27 L520.15 49.48 L520.4 49.08 L520.65 51.49 L520.9 49.72 L521.15 47.87 L521.4 47.7 L521.65 44.64 L521.9 40.25 L522.15 33.15 L522.4 25.1 L522.65 18.04 L522.9 12.33 L523.15 12.58 L523.4 20.24 L523.65 29.44 L523.9 36.76 L524.15 41.53 L524.4 44.95 L524.65 47.04 L524.9 47.79 L525.15 48.09 L525.4 48.56 L525.65 46.79 L525.9 47.04 L526.15 44.76 L526.4 41.44 L526.65 35.95 L526.9 32.51 L527.15 28.41 L527.4 24.42 L527.65 26.32 L527.9 27.99 L528.15 31.41 L528.4 36.68 L528.65 39.67 L528.9 43.47 L529.15 47.24 L529.4 50.07 L529.65 51.43 L529.9 50.8 L530.15 53.34 L530.4 54.79 L530.65 54.79 L530.9 55.67 L531.15 56.11 L531.4 54.22 L531.65 54.63 L531.9 55.5 L532.15 56.85 L532.4 55.28 L532.65 56.99 L532.9 56.83 L533.15 55.98 L533.4 56.36 L533.65 57.36 L533.9 56.94 L534.15 55.63 L534.4 57.22 L534.65 55.44 L534.9 55.97 L535.15 57.66 L535.4 57.38 L535.65 55.91 L535.9 55.88 L536.15 56.81 L536.4 57.48 L536.65 57.06 L536.9 57.78 L537.15 57.22 L537.4 57.5 L537.65 56.91 L537.9 56.25 L538.15 56.45 L538.4 56.63 L538.65 56.76 L538.9 57.63 L539.15 56.05 L539.4 55.5 L539.65 57.37 L539.9 56.09 L540.15 56.51 L540.4 55.67 L540.65 57.67 L540.9 56.13 L541.15 56.18 L541.4 57.62 L541.65 56.79 L541.9 56.16 L542.15 57.87 L542.4 56.54 L542.65 56.4 L542.9 58.09 L543.15 57.6 L543.4 57.49 L543.65 56.09 L543.9 57.67 L544.15 57.06 L544.4 57.71 L544.65 56.41 L544.9 57.56 L545.15 57.59 L545.4 56.45 L545.65 57.18 L545.9 57.52 L546.15 58.1 L546.4 57.87 L546.65 57.47 L546.9 55.62 L547.15 56.89 L547.4 57.04 L547.65 55.29 L547.9 56.23 L548.15 57.23 L548.4 57.15 L548.65 56.98 L548.9 54.37 L549.15 55.49 L549.4 55.86 L549.65 54.92 L549.9 53.68 L550.15 52.7 L550.4 55.15 L550.65 55.14 L550.9 54.85 L551.15 54.4 L551.4 56.05 L551.65 56.34 L551.9 56.38 L552.15 56.27 L552.4 55.68 L552.65 55.77 L552.9 56.06 L553.15 56.06 L553.4 56.67 L553.65 55.59 L553.9 57.33 L554.15 56.31 L554.4 55.81 L554.65 56.1 L554.9 56.49 L555.15 56.63 L555.4 57.62 L555.65 55.72 L555.9 56.07 L556.15 56.28 L556.4 55.96 L556.65 57.57 L556.9 55.78 L557.15 55.62 L557.4 57.04 L557.65 57.54 L557.9 57.79 L558.15 57.05 L558.4 56.4 L558.65 57.95 L558.9 57.54 L559.15 56.81 L559.4 57.04 L559.65 58.09 L559.9 58.25 L560.15 58.06 L560.4 55.82 L560.65 56.35 L560.9 56.57 L561.15 55.89 L561.4 57.54 L561.65 55.56 L561.9 57.86 L562.15 57 L562.4 57.05 L562.65 56.48 L562.9 57.91 L563.15 56.88 L563.4 57.74 L563.65 57.78 L563.9 57.09 L564.15 57.86 L564.4 56.43 L564.65 56.02 L564.9 57.29 L565.15 56.32 L565.4 55.61 L565.65 56.53 L565.9 55.82 L566.15 54.67 L566.4 56.45 L566.65 55.24 L566.9 56.21 L567.15 54.51 L567.4 54.97 L567.65 52.17 L567.9 50.52 L568.15 49.29 L568.4 47.09 L568.65 43.55 L568.9 38.71 L569.15 33 L569.4 31.03 L569.65 30.23 L569.9 34.18 L570.15 40.11 L570.4 42.71 L570.65 47.29 L570.9 49.82 L571.15 50.47 L571.4 53.36 L571.65 52.58 L571.9 53.51 L572.15 55.05 L572.4 54.11 L572.65 56.69 L572.9 55.37 L573.15 56.09 L573.4 57.15 L573.65 54.84 L573.9 57.4 L574.15 54.77 L574.4 56.39 L574.65 56.57 L574.9 57.51 L575.15 55.75 L575.4 57.39 L575.65 56.54 L575.9 56.03 L576.15 55.12 L576.4 55.25 L576.65 55.53 L576.9 55.38 L577.15 55.32 L577.4 56.37 L577.65 54.93 L577.9 55.33 L578.15 53.26 L578.4 52.98 L578.65 53.8 L578.9 53.29 L579.15 50.38 L579.4 48 L579.65 46.71 L579.9 45.07 L580.15 43.23 L580.4 42.47 L580.65 41.41 L580.9 43.14 L581.15 45.12 L581.4 47.06 L581.65 48.9 L581.9 50.21 L582.15 50.78 L582.4 53.58 L582.65 52.93 L582.9 55.21 L583.15 54.55 L583.4 55.42 L583.65 55.32 L583.9 55.95 L584.15 55.22 L584.4 55.99 L584.65 56.51 L584.9 55.52 L585.15 56.23 L585.4 55.85 L585.65 55.9 L585.9 55.65 L586.15 56.08 L586.4 56.5 L586.65 54.95 L586.9 54.8 L587.15 56.6 L587.4 54.43 L587.65 56.25 L587.9 55.97 L588.15 54.21 L588.4 55.06 L588.65 53.55 L588.9 54.73 L589.15 52.01 L589.4 50.69 L589.65 49.03 L589.9 49.08 L590.15 45.35 L590.4 42.9 L590.65 41.74 L590.9 38.11 L591.15 35.81 L591.4 34.39 L591.65 35.3 L591.9 35.7 L592.15 40.86 L592.4 42.56 L592.65 46.85 L592.9 48.01 L593.15 51.35 L593.4 50.31 L593.65 54.21 L593.9 52.59 L594.15 54.39 L594.4 54.79 L594.65 56.56 L594.9 56.09 L595.15 57.05 L595.4 57.02 L595.65 55.83 L595.9 55.18 L596.15 55.29 L596.4 56.96 L596.65 57.72 L596.9 56.99 L597.15 56.17 L597.4 56.93 L597.65 57.15 L597.9 56.06 L598.15 57.34 L598.4 55.99 L598.65 55.54 L598.9 55.68 L599.15 56.89 L599.4 57.5 L599.65 56.21 L599.9 56.71 L600.15 57.56 L600.4 56.38 L600.65 57.12 L600.9 57.36 L601.15 56.83 L601.4 56.29 L601.65 57.66 L601.9 57.69 L602.15 56.27 L602.4 58.01 L602.65 57.6 L602.9 58.2 L603.15 57.97 L603.4 57.18 L603.65 57.8 L603.9 56.69 L604.15 57.65 L604.4 56.05 L604.65 56.8 L604.9 57.25 L605.15 58.32 L605.4 57.76 L605.65 58.4 L605.9 58.3 L606.15 58.59 L606.4 57.6 L606.65 57.6 L606.9 57.2 L607.15 56.51 L607.4 58.12 L607.65 57.6 L607.9 56.35 L608.15 56.58 L608.4 56.53 L608.65 57.94 L608.9 57.59 L609.15 56.48 L609.4 57.85 L609.65 57.5 L609.9 56.68 L610.15 57.18 L610.4 58.71 L610.65 56.33 L610.9 56.6 L611.15 57.61 L611.4 58.3 L611.65 58.53 L611.9 57.07 L612.15 58.11 L612.4 56.29 L612.65 57.04 L612.9 58.36 L613.15 57.82 L613.4 57.21 L613.65 57.64 L613.9 57.33 L614.15 57.5 L614.4 58.45 L614.65 58.7 L614.9 56.53 L615.15 58.09 L615.4 58.62 L615.65 57.68 L615.9 57.38 L616.15 57.02 L616.4 57.34 L616.65 57.61 L616.9 57.69 L617.15 56.3 L617.4 58.78 L617.65 56.76 L617.9 57.52 L618.15 56.54 L618.4 57.75 L618.65 56.19 L618.9 56.92 L619.15 57.06 L619.4 56.86 L619.65 57.35 L619.9 56.42 L620.15 57.35 L620.4 58.21 L620.65 57.74 L620.9 58.69 L621.15 58.63 L621.4 57.31 L621.65 57.28 L621.9 58.1 L622.15 58.43 L622.4 57.47 L622.65 57.82 L622.9 57.88 L623.15 57.38 L623.4 57.36 L623.65 57.06 L623.9 57.18 L624.15 57.25 L624.4 58.16 L624.65 56.35 L624.9 56.22 L625.15 58.46 L625.4 57.29 L625.65 57.8 L625.9 58.4 L626.15 57.88 L626.4 57.38 L626.65 58.44 L626.9 57.49 L627.15 56.96 L627.4 56.18 L627.65 56.07 L627.9 57.79 L628.15 58.02 L628.4 56.42 L628.65 56.8 L628.9 57.09 L629.15 56.72 L629.4 55.59 L629.65 57.13 L629.9 55.82 L630.15 55.92 L630.4 55.44 L630.65 54.27 L630.9 54.52 L631.15 52.58 L631.4 53.13 L631.65 53.07 L631.9 52.82 L632.15 51.9 L632.4 51.81 L632.65 51.97 L632.9 52.5 L633.15 53.16 L633.4 54.48 L633.65 55.16 L633.9 55.93 L634.15 55.52 L634.4 56.72 L634.65 54.88 L634.9 55.95 L635.15 55.45 L635.4 56.68 L635.65 56.92 L635.9 57.01 L636.15 56.67 L636.4 56.49 L636.65 56.4 L636.9 55.79 L637.15 56.04 L637.4 56.86 L637.65 57.08 L637.9 55.75 L638.15 57.81 L638.4 55.48 L638.65 55.71 L638.9 56.54 L639.15 56.14 L639.4 56.56 L639.65 56.9 L639.9 56.47 L640.15 56.81 L640.4 55.69 L640.65 55.98 L640.9 54.94 L641.15 53.75 L641.4 53.19 L641.65 53.05 L641.9 53.31 L642.15 52.38 L642.4 52.76 L642.65 52.73 L642.9 53.23 L643.15 51.04 L643.4 53.43 L643.65 51.03 L643.9 53.91 L644.15 54.63 L644.4 53.37 L644.65 55.04 L644.9 54.66 L645.15 55.22 L645.4 56.4 L645.65 56.94 L645.9 55.41 L646.15 55.4 L646.4 57.54 L646.65 56.79 L646.9 57.78 L647.15 55.98 L647.4 57.82 L647.65 55.95 L647.9 55.97 L648.15 56.41 L648.4 58.24 L648.65 56.75 L648.9 56.93 L649.15 56.52 L649.4 55.93 L649.65 56.97 L649.9 57.12 L650.15 56.67 L650.4 57.77 L650.65 56.58 L650.9 58.44 L651.15 58.22 L651.4 57.26 L651.65 55.88 L651.9 57.1 L652.15 57.19 L652.4 57.17 L652.65 56.41 L652.9 57.08 L653.15 57.63 L653.4 56.55 L653.65 54.4 L653.9 55.69 L654.15 55.27 L654.4 54.62 L654.65 55.28 L654.9 52.39 L655.15 51.96 L655.4 53.76 L655.65 52.02 L655.9 52.31 L656.15 54.55 L656.4 53.69 L656.65 55.61 L656.9 55.82 L657.15 55.85 L657.4 55.36 L657.65 54.91 L657.9 57.68 L658.15 57.6 L658.4 57.91 L658.65 56.92 L658.9 56.39 L659.15 57.46 L659.4 56.95 L659.65 56.38 L659.9 56.21 L660.15 57.08 L660.4 56.39 L660.65 56.75 L660.9 58.77 L661.15 58.67 L661.4 58.55 L661.65 57.53 L661.9 58.25 L662.15 56.59 L662.4 57.88 L662.65 58.88 L662.9 58.38 L663.15 58.94 L663.4 57.95 L663.65 57.05 L663.9 56.27 L664.15 56.98 L664.4 58.55 L664.65 57.71 L664.9 57.99 L665.15 58.5 L665.4 57.08 L665.65 56.66 L665.9 58.75 L666.15 57.95 L666.4 56.35 L666.65 58.23 L666.9 58.31 L667.15 58.42 L667.4 56.66 L667.65 57.07 L667.9 58.33" fill="none" stroke="#1e7d1e" stroke-width="2.0" stroke-linejoin="round"/>
<rect x="517.18" y="124.1" width="2.4" height="8.3" fill="#111"/>
<rect x="521.78" y="120.8" width="2.4" height="11.6" fill="#111"/>
<rect x="526.38" y="119.5" width="2.4" height="12.9" fill="#111"/>
<rect x="549.1" y="128" width="2.4" height="4.4" fill="#111"/>
<rect x="568.31" y="126.1" width="2.4" height="6.3" fill="#111"/>
<rect x="579.4" y="126.1" width="2.4" height="6.3" fill="#111"/>
<rect x="588.18" y="129.5" width="1.6" height="2.9" fill="#111"/>
<rect x="590.22" y="128" width="2.4" height="4.4" fill="#111"/>
<rect x="593.32" y="129.5" width="1.6" height="2.9" fill="#111"/>
<rect x="598.39" y="130.5" width="1.2" height="1.9" fill="#111"/>
<rect x="608.5" y="131" width="1" height="1.4" fill="#111"/>
<rect x="615.26" y="131" width="1" height="1.4" fill="#111"/>
<rect x="631.19" y="129.8" width="1.6" height="2.6" fill="#111"/>
<rect x="638.16" y="130.7" width="1.2" height="1.7" fill="#111"/>
<rect x="642.38" y="130.3" width="1.4" height="2.1" fill="#111"/>
<rect x="646.54" y="130.7" width="1.2" height="1.7" fill="#111"/>
<rect x="654.73" y="130.3" width="1.6" height="2.1" fill="#111"/>
<rect x="658.17" y="131" width="1.2" height="1.4" fill="#111"/>
<rect x="664.39" y="131" width="1.2" height="1.4" fill="#111"/>
<path d="M490.9 8.8 V132.4 H668.5" fill="none" stroke="#1a1a1a" stroke-width="1.3"/>
<line x1="505.4" y1="132.4" x2="505.4" y2="134" stroke="#1a1a1a" stroke-width="1"/>
<text x="505.4" y="145.8" font-size="10" text-anchor="middle" fill="#1a1a1a">20</text>
<line x1="559.5" y1="132.4" x2="559.5" y2="134" stroke="#1a1a1a" stroke-width="1"/>
<text x="559.5" y="145.8" font-size="10" text-anchor="middle" fill="#1a1a1a">40</text>
<line x1="613.6" y1="132.4" x2="613.6" y2="134" stroke="#1a1a1a" stroke-width="1"/>
<text x="613.6" y="145.8" font-size="10" text-anchor="middle" fill="#1a1a1a">60</text>
<line x1="667.7" y1="132.4" x2="667.7" y2="134" stroke="#1a1a1a" stroke-width="1"/>
<text x="667.7" y="145.8" font-size="10" text-anchor="middle" fill="#1a1a1a">80</text>
<text x="585.4" y="159" font-size="10" text-anchor="middle" fill="#1a1a1a">2 Theta (°)</text>
<text transform="translate(485 71) rotate(-90)" font-size="10" text-anchor="middle" fill="#1a1a1a">Intensity (a.u.)</text>
<text transform="translate(512.25 125.3) rotate(-90)" font-size="7.5" fill="#111" stroke="#111" stroke-width="0.1">(100)</text>
<text transform="translate(523.35 118.4) rotate(-90)" font-size="7.5" fill="#111" stroke="#111" stroke-width="0.1">(002)</text>
<text transform="translate(536.45 121.4) rotate(-90)" font-size="7.5" fill="#111" stroke="#111" stroke-width="0.1">(101)</text>
<text transform="translate(551.35 128.4) rotate(-90)" font-size="7.5" fill="#111" stroke="#111" stroke-width="0.1">(102)</text>
<text transform="translate(572.55 124.5) rotate(-90)" font-size="7.5" fill="#111" stroke="#111" stroke-width="0.1">(110)</text>
<text transform="translate(584.35 124.5) rotate(-90)" font-size="7.5" fill="#111" stroke="#111" stroke-width="0.1">(103)</text>
<text transform="translate(593.55 124.5) rotate(-90)" font-size="7.5" fill="#111" stroke="#111" stroke-width="0.1">(102)</text>
<line x1="608.4" y1="18.7" x2="625.3" y2="18.7" stroke="#1e7d1e" stroke-width="1.6"/>
<text x="629" y="21.8" font-size="8.6" fill="#1a1a1a">CdS-r-A</text>
<line x1="608.4" y1="29.5" x2="625.3" y2="29.5" stroke="#a6e39c" stroke-width="1.6"/>
<text x="629" y="32.6" font-size="8.6" fill="#1a1a1a">CdS-r-B</text>
<text x="475.5" y="10.8" font-size="14.5" font-weight="bold" fill="#000">c</text>
<circle cx="166.6" cy="218.5" r="39.5" fill="none" stroke="#dadada" stroke-width="1.2"/>
<circle cx="166.6" cy="218.5" r="31.2" fill="none" stroke="#ebebeb" stroke-width="1.2"/>
<path d="M166.6 249.7 A31.2 31.2 0 0 1 135.78 213.62" fill="none" stroke="#fde0c8" stroke-width="1.4"/>
<path d="M166.6 254.4 A35.9 35.9 0 0 1 142.86 191.57" fill="none" stroke="#c8202a" stroke-width="1.7"/>
<text x="168.1" y="176.3" font-size="10" fill="#c2c2c2" text-anchor="middle">1</text>
<text x="167.8" y="269.5" font-size="10" fill="#c2c2c2" text-anchor="middle">0</text>
<text x="125.1" y="223.9" font-size="10" fill="#c2c2c2" text-anchor="end">0.5</text>
<text x="208.7" y="223.9" font-size="10" fill="#c2c2c2">1.5</text>
<text x="166.4" y="192.7" font-size="10" font-weight="bold" fill="#c0282d">0.77</text>
<text x="144.5" y="225.2" font-size="10" font-weight="normal" fill="#f48a8a">0.55</text>
<text x="39.6" y="189.8" font-size="10" fill="#1a1a1a">The intensity ratio</text>
<text x="39.6" y="201.6" font-size="10" fill="#1a1a1a">of (100)/(002)</text>
<circle cx="393.6" cy="218.5" r="40" fill="none" stroke="#dadada" stroke-width="1.2"/>
<circle cx="393.6" cy="218.5" r="31" fill="none" stroke="#ebebeb" stroke-width="1.2"/>
<path d="M393.6 249.5 A31 31 0 1 1 418.09 199.5" fill="none" stroke="#c9def3" stroke-width="1.4"/>
<path d="M393.6 254.8 A36.3 36.3 0 1 1 404.82 253.02" fill="none" stroke="#2b6ea6" stroke-width="1.7"/>
<text x="395.1" y="176.3" font-size="10" fill="#c2c2c2" text-anchor="middle">1</text>
<text x="394.8" y="269.5" font-size="10" fill="#c2c2c2" text-anchor="middle">0</text>
<text x="351.6" y="223.9" font-size="10" fill="#c2c2c2" text-anchor="end">0.5</text>
<text x="436.2" y="223.9" font-size="10" fill="#c2c2c2">1.5</text>
<text x="415.6" y="183.8" font-size="10" font-weight="normal" fill="#5d9de0">1.29</text>
<text x="384.9" y="239.3" font-size="10" font-weight="normal" fill="#3c6cd0">1.90</text>
<text x="267.3" y="190.5" font-size="10" fill="#1a1a1a">The intensity ratio</text>
<text x="267.3" y="202.3" font-size="10" fill="#1a1a1a">of (100)/(002)</text>
<circle cx="629.6" cy="217" r="39.5" fill="none" stroke="#dadada" stroke-width="1.2"/>
<circle cx="629.6" cy="217" r="30.6" fill="none" stroke="#ebebeb" stroke-width="1.2"/>
<path d="M629.6 247.6 A30.6 30.6 0 0 1 606.65 196.76" fill="none" stroke="#9fd486" stroke-width="1.4"/>
<path d="M629.6 252.6 A35.6 35.6 0 1 1 660.8 199.85" fill="none" stroke="#2a6e2a" stroke-width="1.7"/>
<text x="631.1" y="174.8" font-size="10" fill="#c2c2c2" text-anchor="middle">1</text>
<text x="630.8" y="268" font-size="10" fill="#c2c2c2" text-anchor="middle">0</text>
<text x="588.1" y="222.4" font-size="10" fill="#c2c2c2" text-anchor="end">0.5</text>
<text x="671.7" y="222.4" font-size="10" fill="#c2c2c2">1.5</text>
<text x="664.6" y="196.3" font-size="10" font-weight="normal" fill="#3e6b22">1.34</text>
<text x="609.6" y="210.1" font-size="12" font-weight="normal" fill="#7cb95a">0.73</text>
<text x="503.1" y="190.5" font-size="10" fill="#1a1a1a">The intensity ratio</text>
<text x="503.1" y="202.3" font-size="10" fill="#1a1a1a">of (002)/(101)</text>
<path d="M4.7 606.5 L4.8 601.13 L5 597.64 L5.2 576.64 L5.4 557.51 L5.44 556.82 L5.6 567.14 L5.8 589.84 L6 588.32 L6.2 587.88 L6.4 588.5 L6.6 590.39 L6.8 592.64 L7 595.33 L7.2 597.64 L7.4 599.91 L7.6 601.89 L7.8 602.83 L8 603.65 L8.2 604.22 L8.4 604.41 L8.6 604.56 L8.8 604.44 L9 603.95 L9.2 593.08 L9.4 564.65 L9.6 543.23 L9.61 543.19 L9.8 559.99 L10 589.85 L10.2 599.61 L10.4 598.82 L10.6 597.94 L10.8 597.28 L11 596.7 L11.2 596.46 L11.4 596.47 L11.6 596.43 L11.8 596.88 L12 597.58 L12.2 598.44 L12.4 599.48 L12.6 600.44 L12.8 601.34 L13 602.28 L13.2 602.8 L13.4 603.58 L13.6 603.96 L13.8 604.55 L14 604.67 L14.2 604.94 L14.4 605.39 L14.6 605.4 L14.8 605.15 L15 605.21 L15.2 604.82 L15.4 604.65 L15.6 604.23 L15.8 603.32 L16 597.63 L16.2 584.9 L16.4 576.51 L16.41 576.38 L16.6 582.93 L16.8 596.21 L17 599.88 L17.2 600.23 L17.4 600.97 L17.6 601.87 L17.8 602.54 L18 603.62 L18.2 604.22 L18.4 604.81 L18.6 605.29 L18.8 605.36 L19 605.73 L19.2 605.64 L19.4 605.87 L19.6 605.79 L19.8 605.88 L20 605.87 L20.2 605.63 L20.4 605.7 L20.6 605.88 L20.8 605.68 L21 605.92 L21.2 605.86 L21.4 605.71 L21.6 605.79 L21.8 605.98 L22 605.68 L22.2 605.95 L22.4 605.94 L22.6 605.77 L22.8 605.93 L23 605.94 L23.2 606.03 L23.4 606.02 L23.6 605.86 L23.8 605.98 L24 605.86 L24.2 605.94 L24.4 605.92 L24.6 605.75 L24.8 605.92 L25 605.89 L25.2 605.79 L25.4 606.03 L25.6 606.05 L25.8 605.79 L26 605.82 L26.2 606.02 L26.4 606.05 L26.6 605.86 L26.8 605.79 L27 606.06 L27.2 605.8 L27.4 605.82 L27.6 605.92 L27.8 605.99 L28 606.1 L28.2 606.13 L28.4 605.81 L28.6 606.07 L28.8 605.91 L29 606.07 L29.2 605.87 L29.4 605.95 L29.6 606.06 L29.8 606.11 L30 605.92 L30.2 606.15 L30.4 606.09 L30.6 605.98 L30.8 605.88 L31 605.97 L31.2 606.09 L31.4 605.87 L31.6 606.12 L31.8 606.19 L32 606.1 L32.2 606.04 L32.4 606.18 L32.6 606.14 L32.8 606.07 L33 606 L33.2 606.16 L33.4 606.08 L33.6 605.4 L33.8 600.18 L34 584.29 L34.2 567.06 L34.26 565.8 L34.4 572.53 L34.6 592.25 L34.8 603.59 L35 605.9 L35.2 605.98 L35.4 605.89 L35.6 606.22 L35.8 606.01 L36 606.06 L36.2 605.98 L36.4 606.12 L36.6 605.89 L36.8 606.21 L37 605.7 L37.2 603.72 L37.4 600.36 L37.59 598.74 L37.6 598.77 L37.8 600.87 L38 604.05 L38.2 605.9 L38.4 606.01 L38.6 605.94 L38.8 605.95 L39 606.11 L39.2 605.98 L39.4 605.96 L39.6 606.06 L39.8 606.04 L40 606.13 L40.2 606.06 L40.4 606.05 L40.6 606.24 L40.8 606.04 L41 605.92 L41.2 605.96 L41.4 606.02 L41.6 606.14 L41.8 606.02 L42 606.07 L42.2 606.12 L42.4 605.98 L42.6 606.25 L42.8 606.02 L43 606.27 L43.2 606.07 L43.4 606.11 L43.6 606.2 L43.8 606.04 L44 606.11 L44.2 606.07 L44.4 605.97 L44.6 606.2 L44.8 606.29 L45 605.88 L45.2 603.17 L45.4 596.01 L45.6 586.91 L45.72 584.68 L45.8 585.89 L46 594.51 L46.2 602.36 L46.4 605.7 L46.6 606.07 L46.8 606.23 L47 606.15 L47.2 606.02 L47.4 605.98 L47.6 606 L47.8 606.17 L48 606.1 L48.2 606.2 L48.4 606.26 L48.6 606.13 L48.8 606.02 L49 606.01 L49.2 606.06 L49.4 605.98 L49.6 606.22 L49.8 606.14 L50 605.01 L50.2 603.12 L50.4 601.93 L50.41 601.86 L50.6 602.85 L50.8 604.87 L51 606.05 L51.2 606.03 L51.4 605.98 L51.6 606.16 L51.8 606.3 L52 606.31 L52.2 606.02 L52.4 606.31 L52.6 606.08 L52.8 606.13 L53 606.22 L53.2 606.05 L53.4 606.32 L53.6 606.28 L53.8 606.17 L54 606.32 L54.2 606.04 L54.4 606.25 L54.6 606.28 L54.8 606.32 L55 606.11 L55.2 606.18 L55.4 606.11 L55.6 606.11 L55.8 606.05 L56 606 L56.2 606.1 L56.4 606.27 L56.6 606.17 L56.8 606.28 L57 606.34 L57.2 606.18 L57.4 606.09 L57.6 606.28 L57.8 606.25 L58 606.22 L58.2 606.1 L58.4 606.16 L58.6 606.13 L58.8 606.08 L59 606.21 L59.2 606.07 L59.4 606.03 L59.6 606.32 L59.8 606.02 L60 606.1 L60.2 606.3 L60.4 606.19 L60.6 606.13 L60.8 606.03 L61 606.22 L61.2 606.15 L61.4 606.05 L61.6 606.08 L61.8 606.02 L62 606.19 L62.2 606.13 L62.4 606.28 L62.6 606.1 L62.8 606.07 L63 606.13 L63.2 606.11 L63.4 606.28 L63.6 606.04 L63.8 606.02 L64 606.02 L64.2 606.17 L64.4 606.09 L64.6 606.25 L64.8 606.04 L65 606.06 L65.2 606.24 L65.4 606.34 L65.6 606.21 L65.8 606.17 L66 606.1 L66.2 606.2 L66.4 606.36 L66.6 606.08 L66.8 606.35 L67 606.09 L67.2 606.31 L67.4 606.25 L67.6 606.09 L67.8 606.32 L68 606.32 L68.2 606.19 L68.4 606.12 L68.6 606.08 L68.8 606.13 L69 606.04 L69.2 606.2 L69.4 606.04 L69.6 606.34 L69.8 606.3 L70 606.19 L70.2 606.27 L70.4 606.12 L70.6 606.15 L70.8 606.19 L71 606.08 L71.2 606.18 L71.4 606.27 L71.6 606.25 L71.8 606.08 L72 606.07 L72.2 606.31 L72.4 606.08 L72.6 606.04 L72.8 606.2 L73 606.18 L73.2 606.31 L73.4 606.2 L73.6 606.21 L73.8 606.17 L74 606.38 L74.2 606.05 L74.4 606.21 L74.6 606.25 L74.8 606.11 L75 606.19 L75.2 606.22 L75.4 606.15 L75.6 606.37 L75.8 606.2 L76 606.24 L76.2 606.05 L76.4 606.07 L76.6 606.3 L76.8 606.22 L77 606.35 L77.2 606.24 L77.4 606.11 L77.6 606.08 L77.8 606.23 L78 606.28 L78.2 606.33 L78.4 606.18 L78.6 606.07 L78.8 606.35 L79 606.12 L79.2 606.39 L79.4 606.33 L79.6 606.32 L79.8 606.16 L80 606.28 L80.2 606.27 L80.4 606.18 L80.6 606.36 L80.8 606.14 L81 606.36 L81.2 606.22 L81.4 606.31 L81.6 606.33 L81.8 606.21 L82 606.25 L82.2 606.27 L82.4 606.26 L82.6 606.22 L82.8 606.35 L83 606.33 L83.2 606.18 L83.4 606.18 L83.6 606.22 L83.8 606.11 L84 606.19 L84.2 606.1 L84.4 606.32 L84.6 606.15 L84.8 606.12 L85 606.09 L85.2 606.3 L85.4 606.3 L85.6 606.08 L85.8 606.33 L86 606.06 L86.2 606.1 L86.4 606.36 L86.6 606.32 L86.8 606.15 L87 606.32 L87.2 606.38 L87.4 606.12 L87.6 606.26 L87.8 606.13 L88 606.37 L88.2 606.27 L88.4 606.17 L88.6 606.41 L88.8 606.21 L89 605.55 L89.2 604.48 L89.4 603.13 L89.6 602.47 L89.69 602.22 L89.8 602.33 L90 603.49 L90.2 604.74 L90.4 605.83 L90.6 606.3 L90.8 606.38 L91 606.4 L91.2 606.22 L91.4 606.24 L91.6 606.22 L91.8 606.37 L92 606.35 L92.2 606.35 L92.4 606.12 L92.6 606.07 L92.8 606.09 L93 606.39 L93.2 606.4 L93.4 606.09 L93.6 606.26 L93.8 606.15 L94 606.31 L94.2 606.26 L94.4 606.24 L94.6 606.27 L94.8 606.21 L95 606.42 L95.2 606.18 L95.4 606.13 L95.6 606.36 L95.8 606.26 L96 606.16 L96.2 606.28 L96.4 606.36 L96.6 606.37 L96.8 606.24 L97 606.42 L97.2 606.11 L97.4 606.14 L97.6 606.18 L97.8 606.12 L98 606.21 L98.2 606.28 L98.4 606.22 L98.6 606.25 L98.8 606.08 L99 606.15 L99.2 606.34 L99.4 606.11 L99.6 606.17 L99.8 606.16 L100 606.14 L100.2 606.25 L100.4 605.75 L100.6 605.22 L100.77 605.06 L100.8 605.04 L100.8 606.5 Z" fill="#f0141e" stroke="#f0141e" stroke-width="0.5" stroke-linejoin="round"/>
<line x1="4" y1="606.5" x2="104.9" y2="606.5" stroke="#111" stroke-width="1.5"/>
<line x1="4.7" y1="606.5" x2="4.7" y2="608.8" stroke="#111" stroke-width="1"/>
<text x="4.7" y="621.3" font-size="10" text-anchor="middle" fill="#1a1a1a">0</text>
<line x1="41.65" y1="606.5" x2="41.65" y2="608.8" stroke="#111" stroke-width="1"/>
<text x="41.65" y="621.3" font-size="10" text-anchor="middle" fill="#1a1a1a">1000</text>
<line x1="78.6" y1="606.5" x2="78.6" y2="608.8" stroke="#111" stroke-width="1"/>
<text x="78.6" y="621.3" font-size="10" text-anchor="middle" fill="#1a1a1a">2000</text>
<text x="52.5" y="635.5" font-size="10" text-anchor="middle" fill="#1a1a1a">Energy (keV)</text>
<text x="12.7" y="553.6" font-size="10" fill="#1a1a1a">Se</text>
<text x="18.3" y="577.9" font-size="10" fill="#1a1a1a">Cd</text>
<text x="47.4" y="586.6" font-size="10" fill="#1a1a1a">Se</text>
<text x="81.7" y="600.1" font-size="10" fill="#1a1a1a">Cd</text>
<path d="M112.9 605.9 L113 602.01 L113.2 600.88 L113.4 593.28 L113.6 585.42 L113.64 585.2 L113.8 589.45 L114 595.44 L114.2 594.43 L114.4 594.25 L114.6 594.7 L114.8 595.7 L115 597.04 L115.2 598.76 L115.4 600.15 L115.6 595.22 L115.8 587.14 L115.85 586.98 L116 590.12 L116.2 599.57 L116.4 603.62 L116.6 603.7 L116.8 603.48 L117 602.98 L117.2 598.46 L117.4 574.51 L117.6 541.49 L117.7 535.92 L117.8 542.47 L118 575.19 L118.2 598.53 L118.4 598.4 L118.6 597.64 L118.8 597.25 L119 596.9 L119.2 596.72 L119.4 597.04 L119.6 597.23 L119.8 598.02 L120 598.69 L120.2 599.26 L120.4 600.24 L120.6 601.06 L120.8 601.77 L121 602.5 L121.2 603.13 L121.4 603.74 L121.6 603.89 L121.8 604.1 L122 604.32 L122.2 604.58 L122.4 604.77 L122.6 604.8 L122.8 604.64 L123 604.52 L123.2 604.49 L123.4 604.1 L123.6 603.59 L123.8 602.98 L124 598.44 L124.2 591.23 L124.34 589.19 L124.4 589.36 L124.6 595.62 L124.8 601.09 L125 601.45 L125.2 601.83 L125.4 602.43 L125.6 602.92 L125.8 603.74 L126 604.08 L126.2 604.59 L126.4 604.68 L126.6 605.09 L126.8 605.11 L127 605.15 L127.2 605.09 L127.4 605.31 L127.6 605.18 L127.8 605.28 L128 605.26 L128.2 605.2 L128.4 605.04 L128.6 605.21 L128.8 605.05 L129 605.33 L129.2 605.07 L129.4 605.28 L129.6 605.34 L129.8 605.15 L130 605.1 L130.2 605.42 L130.4 605.33 L130.6 605.16 L130.8 605.32 L131 605.36 L131.2 605.44 L131.4 605.44 L131.6 605.24 L131.8 605.12 L132 605.12 L132.2 605.29 L132.4 605.47 L132.6 605.37 L132.8 605.21 L133 605.19 L133.2 605.27 L133.4 605.41 L133.6 605.31 L133.8 605.33 L134 605.29 L134.2 605.42 L134.4 605.18 L134.6 605.2 L134.8 605.46 L135 605.42 L135.2 605.22 L135.4 605.43 L135.6 605.2 L135.8 605.35 L136 605.29 L136.2 605.29 L136.4 605.47 L136.6 605.45 L136.8 605.46 L137 605.31 L137.2 605.31 L137.4 605.51 L137.6 605.25 L137.8 605.42 L138 605.48 L138.2 605.42 L138.4 605.23 L138.6 605.38 L138.8 605.36 L139 605.26 L139.2 605.25 L139.4 605.32 L139.6 605.44 L139.8 605.38 L140 605.28 L140.2 605.32 L140.4 605.39 L140.6 605.48 L140.8 605.47 L141 605.34 L141.2 605.41 L141.4 605.09 L141.6 599.69 L141.8 584.29 L142 568.8 L142.05 567.89 L142.2 574.76 L142.4 593.22 L142.6 603.17 L142.8 605.49 L143 605.59 L143.2 605.5 L143.4 605.52 L143.6 605.3 L143.8 605.39 L144 605.44 L144.2 605.41 L144.4 605.59 L144.6 605.45 L144.8 605.39 L145 605.5 L145.2 605.09 L145.4 603.12 L145.6 600.43 L145.74 599.46 L145.8 599.81 L146 602.08 L146.2 604.47 L146.4 605.4 L146.6 605.39 L146.8 605.42 L147 605.33 L147.2 605.53 L147.4 605.65 L147.6 605.49 L147.8 605.5 L148 605.6 L148.2 605.43 L148.4 605.54 L148.6 605.58 L148.8 605.55 L149 605.34 L149.2 605.67 L149.4 605.54 L149.6 605.57 L149.8 605.6 L150 605.52 L150.2 605.6 L150.4 605.35 L150.6 605.5 L150.8 605.43 L151 605.62 L151.2 605.52 L151.4 605.47 L151.6 605.39 L151.8 605.6 L152 605.52 L152.2 605.39 L152.4 605.4 L152.6 605.61 L152.8 604.02 L153 596.07 L153.2 575.67 L153.4 553.09 L153.49 549.87 L153.6 554.5 L153.8 578.16 L154 597.4 L154.2 604.4 L154.4 605.44 L154.6 605.59 L154.8 605.52 L155 605.57 L155.2 605.59 L155.4 605.65 L155.6 605.62 L155.8 605.51 L156 605.62 L156.2 605.69 L156.4 605.43 L156.6 605.61 L156.8 605.38 L157 605.5 L157.2 605.57 L157.4 605.41 L157.6 605.31 L157.8 604.23 L158 601 L158.2 597.26 L158.29 596.71 L158.4 597.58 L158.6 601.29 L158.8 604.47 L159 605.47 L159.2 605.63 L159.4 605.58 L159.6 605.59 L159.8 605.59 L160 605.58 L160.2 605.44 L160.4 605.66 L160.6 605.65 L160.8 605.64 L161 605.39 L161.2 605.54 L161.4 605.71 L161.6 605.44 L161.8 605.42 L162 605.44 L162.2 605.6 L162.4 605.47 L162.6 605.62 L162.8 605.68 L163 605.43 L163.2 605.44 L163.4 605.66 L163.6 605.43 L163.8 605.73 L164 605.63 L164.2 605.73 L164.4 605.68 L164.6 605.68 L164.8 605.49 L165 605.64 L165.2 605.67 L165.4 605.68 L165.6 605.63 L165.8 605.44 L166 605.53 L166.2 605.71 L166.4 605.5 L166.6 605.56 L166.8 605.59 L167 605.56 L167.2 605.52 L167.4 605.47 L167.6 605.57 L167.8 605.53 L168 605.59 L168.2 605.53 L168.4 605.61 L168.6 605.61 L168.8 605.57 L169 605.5 L169.2 605.66 L169.4 605.43 L169.6 605.58 L169.8 605.45 L170 605.51 L170.2 605.42 L170.4 605.52 L170.6 605.61 L170.8 605.62 L171 605.55 L171.2 605.49 L171.4 605.47 L171.6 605.71 L171.8 605.74 L172 605.72 L172.2 605.73 L172.4 605.74 L172.6 605.76 L172.8 605.68 L173 605.72 L173.2 605.52 L173.4 605.55 L173.6 605.43 L173.8 605.43 L174 605.5 L174.2 605.43 L174.4 605.76 L174.6 605.69 L174.8 605.44 L175 605.6 L175.2 605.7 L175.4 605.5 L175.6 605.62 L175.8 605.58 L176 605.66 L176.2 605.69 L176.4 605.74 L176.6 605.56 L176.8 605.44 L177 605.43 L177.2 605.51 L177.4 605.45 L177.6 605.65 L177.8 605.67 L178 605.45 L178.2 605.57 L178.4 605.54 L178.6 605.77 L178.8 605.7 L179 605.61 L179.2 605.52 L179.4 605.49 L179.6 605.51 L179.8 605.66 L180 605.65 L180.2 605.48 L180.4 605.43 L180.6 605.61 L180.8 605.71 L181 605.56 L181.2 605.6 L181.4 605.66 L181.6 605.7 L181.8 605.65 L182 605.57 L182.2 605.74 L182.4 605.6 L182.6 605.45 L182.8 605.53 L183 605.7 L183.2 605.64 L183.4 605.75 L183.6 605.53 L183.8 605.57 L184 605.73 L184.2 605.6 L184.4 605.58 L184.6 605.59 L184.8 605.66 L185 605.68 L185.2 605.67 L185.4 605.44 L185.6 605.68 L185.8 605.62 L186 605.63 L186.2 605.73 L186.4 605.65 L186.6 605.72 L186.8 605.68 L187 605.67 L187.2 605.67 L187.4 605.47 L187.6 605.69 L187.8 605.68 L188 605.57 L188.2 605.66 L188.4 605.62 L188.6 605.57 L188.8 605.77 L189 605.56 L189.2 605.76 L189.4 605.71 L189.6 605.52 L189.8 605.45 L190 605.56 L190.2 605.74 L190.4 605.65 L190.6 605.7 L190.8 605.51 L191 605.72 L191.2 605.73 L191.4 605.58 L191.6 605.58 L191.8 605.6 L192 605.64 L192.2 605.47 L192.4 605.64 L192.6 605.48 L192.8 605.67 L193 605.64 L193.2 605.68 L193.4 605.56 L193.6 605.54 L193.8 605.72 L194 605.62 L194.2 605.55 L194.4 605.63 L194.6 605.58 L194.8 605.59 L195 605.56 L195.2 605.69 L195.4 605.7 L195.6 605.8 L195.8 605.5 L196 605.53 L196.2 605.67 L196.4 605.47 L196.6 605.34 L196.8 605.15 L197 604.13 L197.2 603.43 L197.4 603.09 L197.4 603.11 L197.6 603.43 L197.8 604.39 L198 605.18 L198.2 605.61 L198.4 605.71 L198.6 605.76 L198.8 605.77 L199 605.52 L199.2 605.68 L199.4 605.64 L199.6 605.61 L199.8 605.49 L200 605.77 L200.2 605.74 L200.4 605.52 L200.6 605.5 L200.8 605.49 L201 605.63 L201.2 605.69 L201.4 605.75 L201.6 605.5 L201.8 605.55 L202 605.63 L202.2 605.54 L202.4 605.73 L202.6 605.63 L202.8 605.5 L203 605.78 L203.2 605.61 L203.4 605.76 L203.6 605.53 L203.8 605.53 L204 605.6 L204.2 605.67 L204.4 605.82 L204.6 605.65 L204.8 605.7 L205 605.68 L205.2 605.8 L205.4 605.5 L205.6 605.64 L205.8 605.63 L206 605.53 L206.2 605.51 L206.4 605.63 L206.6 605.64 L206.8 605.53 L207 605.7 L207.2 605.51 L207.4 605.82 L207.6 605.55 L207.8 605.64 L208 605.61 L208.2 605.48 L208.2 605.9 Z" fill="#f0141e" stroke="#f0141e" stroke-width="0.5" stroke-linejoin="round"/>
<line x1="112.2" y1="605.9" x2="212.2" y2="605.9" stroke="#111" stroke-width="1.5"/>
<line x1="112.9" y1="605.9" x2="112.9" y2="608.2" stroke="#111" stroke-width="1"/>
<text x="112.9" y="620.7" font-size="10" text-anchor="middle" fill="#1a1a1a">0</text>
<line x1="149.8" y1="605.9" x2="149.8" y2="608.2" stroke="#111" stroke-width="1"/>
<text x="149.8" y="620.7" font-size="10" text-anchor="middle" fill="#1a1a1a">1000</text>
<line x1="186.7" y1="605.9" x2="186.7" y2="608.2" stroke="#111" stroke-width="1"/>
<text x="186.7" y="620.7" font-size="10" text-anchor="middle" fill="#1a1a1a">2000</text>
<text x="161.2" y="634.9" font-size="10" text-anchor="middle" fill="#1a1a1a">Energy (keV)</text>
<text x="120.8" y="549.4" font-size="10" fill="#1a1a1a">Se</text>
<text x="125.7" y="590" font-size="10" fill="#1a1a1a">Cd</text>
<text x="157.2" y="562" font-size="10" fill="#1a1a1a">Se</text>
<text x="191.2" y="601.9" font-size="10" fill="#1a1a1a">Cd</text>
<path d="M236.7 605.9 L236.8 603.52 L237 593.38 L237.2 563.84 L237.4 536.61 L237.44 535.93 L237.6 550.72 L237.8 576.12 L238 560.86 L238.18 555.14 L238.2 555.46 L238.4 563.87 L238.6 579.53 L238.8 581.25 L239 584.75 L239.2 589.06 L239.4 593.57 L239.6 597.47 L239.8 599.98 L240 601.55 L240.2 601.9 L240.4 599.99 L240.6 591.23 L240.76 587.51 L240.8 587.81 L241 594.88 L241.2 598.39 L241.4 587.1 L241.6 560.11 L241.8 537.65 L241.87 535.74 L242 543.02 L242.2 570.23 L242.4 593.39 L242.6 595.35 L242.8 596.18 L243 597.25 L243.2 598.14 L243.4 599.32 L243.6 600.38 L243.8 601.5 L244 602.42 L244.2 603.06 L244.4 603.82 L244.6 604.04 L244.8 604.41 L245 604.7 L245.2 604.8 L245.4 604.75 L245.6 604.83 L245.8 604.67 L246 604.43 L246.2 603.03 L246.4 597.91 L246.6 592.91 L246.66 592.62 L246.8 594.32 L247 600.1 L247.2 600.45 L247.4 599.8 L247.6 599.12 L247.8 592.64 L247.95 590.36 L248 590.48 L248.2 595.68 L248.4 600.88 L248.6 601.78 L248.8 602.45 L249 603.22 L249.2 603.92 L249.4 604.54 L249.6 604.75 L249.8 604.78 L250 604.89 L250.2 604.98 L250.4 605.22 L250.6 605.02 L250.8 605.2 L251 605.08 L251.2 605.29 L251.4 605.01 L251.6 605.14 L251.8 605.11 L252 605.29 L252.2 605.16 L252.4 605.18 L252.6 605.18 L252.8 605.27 L253 605.14 L253.2 605.28 L253.4 605.3 L253.6 605.36 L253.8 605.18 L254 605.38 L254.2 605.35 L254.4 605.41 L254.6 605.21 L254.8 605.25 L255 605.26 L255.2 605.44 L255.4 605.3 L255.6 605.34 L255.8 605.43 L256 605.47 L256.2 605.12 L256.4 605.44 L256.6 605.38 L256.8 605.39 L257 605.28 L257.2 605.47 L257.4 605.33 L257.6 605.37 L257.8 605.21 L258 605.51 L258.2 605.39 L258.4 605.34 L258.6 605.18 L258.8 605.34 L259 605.36 L259.2 605.29 L259.4 605.43 L259.6 605.52 L259.8 605.36 L260 605.22 L260.2 605.29 L260.4 605.46 L260.6 605.31 L260.8 605.26 L261 605.47 L261.2 605.35 L261.4 605.44 L261.6 605.48 L261.8 605.47 L262 605.5 L262.2 605.45 L262.4 605.56 L262.6 605.44 L262.8 605.55 L263 605.32 L263.2 605.37 L263.4 605.59 L263.6 605.32 L263.8 605.52 L264 605.43 L264.2 605.4 L264.4 605.48 L264.6 605.5 L264.8 605.45 L265 605.56 L265.2 605.3 L265.4 605.57 L265.6 604.92 L265.8 601.28 L266 591.29 L266.2 583.35 L266.22 583.39 L266.4 589.08 L266.6 599.7 L266.8 604.68 L267 605.32 L267.2 605.28 L267.4 605.61 L267.6 605.44 L267.8 605.59 L268 605.35 L268.2 605.52 L268.4 605.32 L268.6 605.34 L268.8 604.37 L269 602.6 L269.17 601.71 L269.2 601.52 L269.4 603.05 L269.6 604.66 L269.8 605.52 L270 605.53 L270.2 605.37 L270.4 605.58 L270.6 605.4 L270.8 605.42 L271 605.33 L271.2 605.48 L271.4 605.34 L271.6 605.51 L271.8 605.46 L272 605.45 L272.2 605.37 L272.4 605.35 L272.6 605.63 L272.8 605.62 L273 605.48 L273.2 605.39 L273.4 605.48 L273.6 605.57 L273.8 605.34 L274 605.57 L274.2 605.65 L274.4 605.66 L274.6 605.67 L274.8 605.43 L275 605.64 L275.2 605.43 L275.4 605.38 L275.6 605.33 L275.8 605.4 L276 605.54 L276.2 605.47 L276.4 605.4 L276.6 605.44 L276.8 604.86 L277 602.67 L277.2 600.68 L277.29 600.29 L277.4 600.52 L277.6 603.02 L277.8 604.99 L278 605.42 L278.2 605.54 L278.4 605.7 L278.6 605.69 L278.8 605.61 L279 605.59 L279.2 605.37 L279.4 605.62 L279.6 605.41 L279.8 605.41 L280 605.56 L280.2 605.36 L280.4 605.44 L280.6 605.54 L280.8 605.62 L281 605.55 L281.2 605.4 L281.4 605.52 L281.6 605.65 L281.8 605.58 L282 605.55 L282.2 605.65 L282.4 605.52 L282.6 605.71 L282.8 605.43 L283 605.66 L283.2 605.68 L283.4 605.51 L283.6 605.61 L283.8 605.41 L284 605.55 L284.2 605.54 L284.4 605.43 L284.6 605.65 L284.8 605.46 L285 605.5 L285.2 605.58 L285.4 605.39 L285.6 605.72 L285.8 605.43 L286 605.68 L286.2 605.44 L286.4 605.68 L286.6 605.71 L286.8 605.56 L287 605.41 L287.2 605.64 L287.4 605.56 L287.6 605.52 L287.8 605.65 L288 605.55 L288.2 605.73 L288.4 605.58 L288.6 605.47 L288.8 605.62 L289 605.66 L289.2 605.72 L289.4 605.5 L289.6 605.59 L289.8 605.42 L290 605.48 L290.2 605.71 L290.4 605.42 L290.6 605.42 L290.8 605.46 L291 605.46 L291.2 605.51 L291.4 605.5 L291.6 605.52 L291.8 605.54 L292 605.66 L292.2 605.7 L292.4 605.5 L292.6 605.54 L292.8 605.73 L293 605.53 L293.2 605.54 L293.4 605.57 L293.6 605.48 L293.8 605.45 L294 605.62 L294.2 605.47 L294.4 605.58 L294.6 605.56 L294.8 605.61 L295 605.43 L295.2 605.6 L295.4 605.43 L295.6 605.64 L295.8 605.53 L296 605.44 L296.2 605.52 L296.4 605.63 L296.6 605.74 L296.8 605.6 L297 605.62 L297.2 605.48 L297.4 605.49 L297.6 605.42 L297.8 605.61 L298 605.62 L298.2 605.57 L298.4 605.5 L298.6 605.74 L298.8 605.69 L299 605.72 L299.2 605.66 L299.4 605.66 L299.6 605.43 L299.8 605.7 L300 605.44 L300.2 605.67 L300.4 605.7 L300.6 605.43 L300.8 605.74 L301 605.73 L301.2 605.73 L301.4 605.75 L301.6 605.64 L301.8 605.7 L302 605.72 L302.2 605.77 L302.4 605.53 L302.6 605.76 L302.8 605.7 L303 605.58 L303.2 605.47 L303.4 605.55 L303.6 605.53 L303.8 605.53 L304 605.5 L304.2 605.48 L304.4 605.73 L304.6 605.76 L304.8 605.57 L305 605.6 L305.2 605.6 L305.4 605.51 L305.6 605.72 L305.8 605.54 L306 605.64 L306.2 605.64 L306.4 605.7 L306.6 605.69 L306.8 605.58 L307 605.59 L307.2 605.47 L307.4 605.69 L307.6 605.54 L307.8 605.75 L308 605.56 L308.2 605.73 L308.4 605.49 L308.6 605.45 L308.8 605.7 L309 605.51 L309.2 605.71 L309.4 605.69 L309.6 605.76 L309.8 605.64 L310 605.76 L310.2 605.55 L310.4 605.59 L310.6 605.65 L310.8 605.55 L311 605.71 L311.2 605.68 L311.4 605.67 L311.6 605.8 L311.8 605.49 L312 605.77 L312.2 605.76 L312.4 605.52 L312.6 605.51 L312.8 605.64 L313 605.65 L313.2 605.75 L313.4 605.8 L313.6 605.62 L313.8 605.72 L314 605.75 L314.2 605.48 L314.4 605.79 L314.6 605.68 L314.8 605.54 L315 605.54 L315.2 605.77 L315.4 605.54 L315.6 605.61 L315.8 605.58 L316 605.47 L316.2 605.53 L316.4 605.6 L316.6 605.54 L316.8 605.63 L317 605.61 L317.2 605.52 L317.4 605.59 L317.6 605.68 L317.8 605.8 L318 605.53 L318.2 605.69 L318.4 605.66 L318.6 605.71 L318.8 605.61 L319 605.67 L319.2 605.52 L319.4 605.6 L319.6 605.61 L319.8 605.54 L320 605.66 L320.2 605.62 L320.4 605.51 L320.6 605.29 L320.8 604.87 L321 604.38 L321.2 604.3 L321.2 604.31 L321.4 604.63 L321.6 605.04 L321.8 605.38 L322 605.6 L322.2 605.5 L322.4 605.8 L322.6 605.69 L322.8 605.56 L323 605.66 L323.2 605.52 L323.4 605.76 L323.6 605.55 L323.8 605.67 L324 605.62 L324.2 605.8 L324.4 605.68 L324.6 605.54 L324.8 605.56 L325 605.62 L325.2 605.67 L325.4 605.81 L325.6 605.57 L325.8 605.66 L326 605.57 L326.2 605.61 L326.4 605.68 L326.6 605.51 L326.8 605.78 L327 605.49 L327.2 605.79 L327.4 605.48 L327.6 605.62 L327.8 605.67 L328 605.5 L328.2 605.64 L328.4 605.65 L328.6 605.8 L328.8 605.55 L329 605.6 L329.2 605.74 L329.4 605.79 L329.6 605.68 L329.8 605.5 L330 605.52 L330.2 605.66 L330.4 605.81 L330.6 605.54 L330.8 605.76 L331 605.57 L331.2 605.65 L331.4 605.49 L331.6 605.78 L331.8 605.55 L332 605.58 L332.2 605.82 L332.4 605.63 L332.6 605.73 L332.6 605.9 Z" fill="#f0141e" stroke="#f0141e" stroke-width="0.5" stroke-linejoin="round"/>
<line x1="236" y1="605.9" x2="336.6" y2="605.9" stroke="#111" stroke-width="1.5"/>
<line x1="236.7" y1="605.9" x2="236.7" y2="608.2" stroke="#111" stroke-width="1"/>
<text x="236.7" y="620.7" font-size="10" text-anchor="middle" fill="#1a1a1a">0</text>
<line x1="273.6" y1="605.9" x2="273.6" y2="608.2" stroke="#111" stroke-width="1"/>
<text x="273.6" y="620.7" font-size="10" text-anchor="middle" fill="#1a1a1a">1000</text>
<line x1="310.5" y1="605.9" x2="310.5" y2="608.2" stroke="#111" stroke-width="1"/>
<text x="310.5" y="620.7" font-size="10" text-anchor="middle" fill="#1a1a1a">2000</text>
<text x="283.9" y="634.9" font-size="10" text-anchor="middle" fill="#1a1a1a">Energy (keV)</text>
<text x="245.1" y="549" font-size="10" fill="#1a1a1a">Se</text>
<text x="247.8" y="590" font-size="10" fill="#1a1a1a">Cd</text>
<text x="274.6" y="595.8" font-size="10" fill="#1a1a1a">Se</text>
<text x="314.3" y="601" font-size="10" fill="#1a1a1a">Cd</text>
<path d="M344.1 605 L344.2 602.08 L344.4 595.39 L344.6 572.84 L344.8 551.52 L344.84 550.91 L345 561.74 L345.2 587.64 L345.4 591.8 L345.6 591.48 L345.8 592 L346 593.66 L346.2 595.62 L346.4 598.03 L346.6 599.87 L346.8 597.33 L347 591.44 L347.07 590.91 L347.2 592.74 L347.4 599.57 L347.6 602.2 L347.8 601.53 L348 600.75 L348.2 600.02 L348.4 598.81 L348.6 597.87 L348.8 589.86 L349 577.43 L349.11 574.93 L349.2 576.43 L349.4 588.68 L349.6 593.65 L349.8 593.92 L350 594.29 L350.2 594.93 L350.4 595.97 L350.6 597.29 L350.8 598.29 L351 599.4 L351.2 600.6 L351.4 601.52 L351.6 601.98 L351.8 602.69 L352 603.23 L352.2 603.45 L352.4 603.75 L352.6 603.7 L352.8 603.9 L353 604.1 L353.2 603.88 L353.4 604.15 L353.6 604.08 L353.8 604.14 L354 603.82 L354.2 603.9 L354.4 603.54 L354.6 603.37 L354.8 602.8 L355 602.2 L355.2 598.1 L355.4 588.74 L355.6 583.23 L355.6 583.25 L355.8 588.59 L356 598.17 L356.2 600.35 L356.4 600.83 L356.6 601.16 L356.8 601.75 L357 602.66 L357.2 603.16 L357.4 603.38 L357.6 603.74 L357.8 604.14 L358 604.03 L358.2 604.02 L358.4 604.25 L358.6 604.3 L358.8 604.24 L359 604.12 L359.2 604.37 L359.4 604.36 L359.6 604.41 L359.8 604.26 L360 604.32 L360.2 604.4 L360.4 604.36 L360.6 604.49 L360.8 604.4 L361 604.17 L361.2 604.31 L361.4 604.42 L361.6 604.2 L361.8 604.41 L362 604.45 L362.2 604.53 L362.4 604.49 L362.6 604.48 L362.8 604.47 L363 604.25 L363.2 604.47 L363.4 604.48 L363.6 604.36 L363.8 604.25 L364 604.48 L364.2 604.32 L364.4 604.46 L364.6 604.4 L364.8 604.39 L365 604.27 L365.2 604.34 L365.4 604.43 L365.6 604.32 L365.8 604.49 L366 604.48 L366.2 604.28 L366.4 604.43 L366.6 604.36 L366.8 604.52 L367 604.31 L367.2 604.42 L367.4 604.55 L367.6 604.32 L367.8 604.48 L368 604.53 L368.2 604.56 L368.4 604.62 L368.6 604.59 L368.8 604.42 L369 604.61 L369.2 604.57 L369.4 604.51 L369.6 604.48 L369.8 604.54 L370 604.4 L370.2 604.59 L370.4 604.55 L370.6 604.53 L370.8 604.64 L371 604.61 L371.2 604.64 L371.4 604.44 L371.6 604.64 L371.8 604.46 L372 604.62 L372.2 604.47 L372.4 604.47 L372.6 604.58 L372.8 604.38 L373 604.47 L373.2 601.39 L373.4 585.9 L373.6 552.74 L373.78 535.21 L373.8 535.39 L374 559.52 L374.2 590.37 L374.4 602.76 L374.6 604.49 L374.8 604.4 L375 604.54 L375.2 604.7 L375.4 604.43 L375.6 604.58 L375.8 604.39 L376 604.43 L376.2 603.02 L376.4 598.45 L376.6 592.18 L376.75 589.72 L376.8 590.18 L377 595.5 L377.2 601.47 L377.4 604.11 L377.6 604.75 L377.8 604.59 L378 604.48 L378.2 604.58 L378.4 604.57 L378.6 604.65 L378.8 604.42 L379 604.67 L379.2 604.52 L379.4 604.54 L379.6 604.76 L379.8 604.42 L380 604.68 L380.2 604.42 L380.4 604.44 L380.6 604.45 L380.8 604.47 L381 604.63 L381.2 604.62 L381.4 604.65 L381.6 604.45 L381.8 604.77 L382 604.73 L382.2 604.44 L382.4 604.5 L382.6 604.53 L382.8 604.44 L383 604.6 L383.2 604.49 L383.4 604.63 L383.6 604.47 L383.8 604.76 L384 604.64 L384.2 604.59 L384.4 604.51 L384.6 604.64 L384.8 604.55 L385 604.2 L385.2 602.54 L385.4 598.5 L385.6 594.99 L385.65 594.5 L385.8 596.13 L386 600.63 L386.2 603.67 L386.4 604.76 L386.6 604.72 L386.8 604.72 L387 604.71 L387.2 604.5 L387.4 604.72 L387.6 604.77 L387.8 604.5 L388 604.61 L388.2 604.8 L388.4 604.57 L388.6 604.57 L388.8 604.58 L389 604.54 L389.2 604.66 L389.4 604.73 L389.6 604.55 L389.8 604.6 L390 604.25 L390.2 603.43 L390.4 602.37 L390.48 602.16 L390.6 602.54 L390.8 603.58 L391 604.48 L391.2 604.56 L391.4 604.7 L391.6 604.65 L391.8 604.53 L392 604.72 L392.2 604.76 L392.4 604.6 L392.6 604.78 L392.8 604.53 L393 604.73 L393.2 604.51 L393.4 604.64 L393.6 604.78 L393.8 604.65 L394 604.59 L394.2 604.66 L394.4 604.61 L394.6 604.7 L394.8 604.5 L395 604.77 L395.2 604.56 L395.4 604.83 L395.6 604.66 L395.8 604.81 L396 604.79 L396.2 604.63 L396.4 604.52 L396.6 604.73 L396.8 604.7 L397 604.67 L397.2 604.63 L397.4 604.72 L397.6 604.72 L397.8 604.55 L398 604.65 L398.2 604.72 L398.4 604.56 L398.6 604.5 L398.8 604.7 L399 604.84 L399.2 604.74 L399.4 604.53 L399.6 604.79 L399.8 604.78 L400 604.57 L400.2 604.81 L400.4 604.55 L400.6 604.77 L400.8 604.72 L401 604.65 L401.2 604.81 L401.4 604.58 L401.6 604.7 L401.8 604.59 L402 604.59 L402.2 604.83 L402.4 604.57 L402.6 604.57 L402.8 604.77 L403 604.65 L403.2 604.79 L403.4 604.67 L403.6 604.6 L403.8 604.73 L404 604.68 L404.2 604.82 L404.4 604.56 L404.6 604.64 L404.8 604.57 L405 604.84 L405.2 604.6 L405.4 604.83 L405.6 604.67 L405.8 604.79 L406 604.55 L406.2 604.83 L406.4 604.7 L406.6 604.7 L406.8 604.73 L407 604.85 L407.2 604.64 L407.4 604.53 L407.6 604.74 L407.8 604.56 L408 604.75 L408.2 604.78 L408.4 604.71 L408.6 604.53 L408.8 604.6 L409 604.65 L409.2 604.86 L409.4 604.72 L409.6 604.87 L409.8 604.85 L410 604.74 L410.2 604.79 L410.4 604.84 L410.6 604.7 L410.8 604.6 L411 604.55 L411.2 604.56 L411.4 604.73 L411.6 604.82 L411.8 604.54 L412 604.73 L412.2 604.76 L412.4 604.59 L412.6 604.69 L412.8 604.55 L413 604.64 L413.2 604.55 L413.4 604.83 L413.6 604.55 L413.8 604.7 L414 604.64 L414.2 604.78 L414.4 604.8 L414.6 604.78 L414.8 604.83 L415 604.55 L415.2 604.85 L415.4 604.8 L415.6 604.67 L415.8 604.82 L416 604.81 L416.2 604.8 L416.4 604.81 L416.6 604.89 L416.8 604.63 L417 604.66 L417.2 604.78 L417.4 604.58 L417.6 604.7 L417.8 604.82 L418 604.56 L418.2 604.81 L418.4 604.61 L418.6 604.61 L418.8 604.89 L419 604.6 L419.2 604.75 L419.4 604.72 L419.6 604.57 L419.8 604.74 L420 604.81 L420.2 604.88 L420.4 604.59 L420.6 604.74 L420.8 604.65 L421 604.67 L421.2 604.56 L421.4 604.57 L421.6 604.57 L421.8 604.72 L422 604.58 L422.2 604.79 L422.4 604.86 L422.6 604.68 L422.8 604.89 L423 604.56 L423.2 604.79 L423.4 604.76 L423.6 604.8 L423.8 604.79 L424 604.72 L424.2 604.62 L424.4 604.9 L424.6 604.79 L424.8 604.82 L425 604.57 L425.2 604.75 L425.4 604.75 L425.6 604.58 L425.8 604.77 L426 604.77 L426.2 604.77 L426.4 604.83 L426.6 604.66 L426.8 604.81 L427 604.73 L427.2 604.71 L427.4 604.64 L427.6 604.65 L427.8 604.74 L428 604.58 L428.2 604.58 L428.4 604.58 L428.6 604.5 L428.8 604.11 L429 603.26 L429.2 602.07 L429.4 601.64 L429.43 601.54 L429.6 601.99 L429.8 602.95 L430 604.03 L430.2 604.39 L430.4 604.8 L430.6 604.74 L430.8 604.66 L431 604.62 L431.2 604.59 L431.4 604.68 L431.6 604.84 L431.8 604.59 L432 604.9 L432.2 604.77 L432.4 604.59 L432.6 604.62 L432.8 604.71 L433 604.62 L433.2 604.86 L433.4 604.91 L433.6 604.82 L433.8 604.59 L434 604.91 L434.2 604.81 L434.4 604.74 L434.6 604.85 L434.8 604.62 L435 604.88 L435.2 604.89 L435.4 604.57 L435.6 604.92 L435.8 604.85 L436 604.78 L436.2 604.62 L436.4 604.81 L436.6 604.72 L436.8 604.64 L437 604.71 L437.2 604.63 L437.4 604.92 L437.6 604.74 L437.8 604.92 L438 604.63 L438.2 604.92 L438.4 604.89 L438.6 604.78 L438.8 604.71 L439 604.92 L439.2 604.7 L439.4 604.89 L439.6 604.81 L439.8 604.91 L440 604.67 L440 605 Z" fill="#f0141e" stroke="#f0141e" stroke-width="0.5" stroke-linejoin="round"/>
<line x1="343.4" y1="605" x2="444" y2="605" stroke="#111" stroke-width="1.5"/>
<line x1="344.1" y1="605" x2="344.1" y2="607.3" stroke="#111" stroke-width="1"/>
<text x="344.1" y="619.8" font-size="10" text-anchor="middle" fill="#1a1a1a">0</text>
<line x1="381.2" y1="605" x2="381.2" y2="607.3" stroke="#111" stroke-width="1"/>
<text x="381.2" y="619.8" font-size="10" text-anchor="middle" fill="#1a1a1a">1000</text>
<line x1="418.3" y1="605" x2="418.3" y2="607.3" stroke="#111" stroke-width="1"/>
<text x="418.3" y="619.8" font-size="10" text-anchor="middle" fill="#1a1a1a">2000</text>
<text x="390" y="634.3" font-size="10" text-anchor="middle" fill="#1a1a1a">Energy (keV)</text>
<text x="347.6" y="570.4" font-size="10" fill="#1a1a1a">Se</text>
<text x="358.1" y="591.1" font-size="10" fill="#1a1a1a">Cd</text>
<text x="387.6" y="595.8" font-size="10" fill="#1a1a1a">Se</text>
<text x="422.6" y="601" font-size="10" fill="#1a1a1a">Cd</text>
<path d="M469.9 605 L470 598.19 L470.2 572.35 L470.4 538.29 L470.46 536.04 L470.6 550.12 L470.8 586.94 L471 595.18 L471.2 595.57 L471.4 596.46 L471.6 597.76 L471.8 599.46 L472 600.7 L472.2 601.53 L472.4 601.51 L472.6 592.2 L472.8 581.7 L472.87 580.5 L473 584 L473.2 595.72 L473.4 602.44 L473.6 602.01 L473.8 601.94 L474 601.83 L474.2 601.54 L474.4 601.36 L474.6 601.3 L474.8 600.98 L475 600.94 L475.2 600.8 L475.4 600.65 L475.6 600.77 L475.8 600.93 L476 600.89 L476.2 601 L476.4 601.36 L476.6 601.42 L476.8 601.98 L477 602.18 L477.2 602.41 L477.4 602.38 L477.6 601.32 L477.8 592.16 L478 582.39 L478.06 581.53 L478.2 585.05 L478.4 596.6 L478.6 603.22 L478.8 603.86 L479 603.81 L479.2 603.75 L479.4 603.91 L479.6 604.01 L479.8 604.01 L480 604.15 L480.2 603.91 L480.4 604.14 L480.6 604.19 L480.8 603.43 L481 598.43 L481.2 589.83 L481.4 584.48 L481.4 584.68 L481.6 589.7 L481.8 598.62 L482 603.19 L482.2 604.08 L482.4 604.2 L482.6 604.34 L482.8 604.21 L483 604.26 L483.2 604.1 L483.4 604.08 L483.6 604.15 L483.8 604.32 L484 604.41 L484.2 604.12 L484.4 604.11 L484.6 604.39 L484.8 604.28 L485 604.29 L485.2 604.12 L485.4 604.46 L485.6 604.46 L485.8 604.19 L486 604.29 L486.2 604.33 L486.4 604.23 L486.6 604.3 L486.8 604.27 L487 604.43 L487.2 604.49 L487.4 604.52 L487.6 604.41 L487.8 604.31 L488 604.41 L488.2 604.42 L488.4 604.33 L488.6 604.31 L488.8 604.35 L489 604.45 L489.2 604.28 L489.4 604.29 L489.6 604.26 L489.8 604.27 L490 604.58 L490.2 604.35 L490.4 604.47 L490.6 604.46 L490.8 604.42 L491 604.55 L491.2 604.52 L491.4 604.26 L491.6 604.5 L491.8 604.3 L492 604.38 L492.2 604.51 L492.4 604.52 L492.6 604.42 L492.8 604.39 L493 604.52 L493.2 604.62 L493.4 604.58 L493.6 604.34 L493.8 604.39 L494 604.61 L494.2 604.36 L494.4 604.46 L494.6 604.54 L494.8 604.35 L495 604.62 L495.2 604.63 L495.4 604.55 L495.6 604.41 L495.8 604.48 L496 604.51 L496.2 604.36 L496.4 604.54 L496.6 604.41 L496.8 604.69 L497 604.42 L497.2 604.64 L497.4 604.46 L497.6 604.4 L497.8 604.47 L498 604.5 L498.2 604.51 L498.4 604.44 L498.6 604.58 L498.8 604.62 L499 601.37 L499.2 585.62 L499.4 552.54 L499.58 534.71 L499.6 534.99 L499.8 559.53 L500 590.35 L500.2 602.5 L500.4 604.61 L500.6 604.42 L500.8 604.38 L501 604.5 L501.2 604.59 L501.4 604.64 L501.6 604.69 L501.8 604.64 L502 603 L502.2 598.92 L502.4 592.23 L502.55 590.16 L502.6 590.41 L502.8 595.76 L503 601.46 L503.2 604.26 L503.4 604.51 L503.6 604.47 L503.8 604.5 L504 604.57 L504.2 604.44 L504.4 604.68 L504.6 604.7 L504.8 604.46 L505 604.74 L505.2 604.61 L505.4 604.62 L505.6 604.46 L505.8 604.63 L506 604.57 L506.2 604.59 L506.4 604.6 L506.6 604.6 L506.8 604.61 L507 604.56 L507.2 604.62 L507.4 604.63 L507.6 604.45 L507.8 604.44 L508 604.69 L508.2 604.45 L508.4 604.77 L508.6 604.67 L508.8 604.47 L509 604.72 L509.2 604.55 L509.4 604.44 L509.6 604.57 L509.8 604.63 L510 604.78 L510.2 604.63 L510.4 604.63 L510.6 604.52 L510.8 604.66 L511 604.51 L511.2 604.65 L511.4 604.57 L511.6 604.53 L511.8 604.74 L512 604.47 L512.2 604.64 L512.4 604.63 L512.6 604.46 L512.8 604.6 L513 604.62 L513.2 604.73 L513.4 604.73 L513.6 604.54 L513.8 604.63 L514 604.58 L514.2 604.57 L514.4 604.57 L514.6 604.7 L514.8 604.51 L515 604.66 L515.2 604.75 L515.4 604.51 L515.6 604.5 L515.8 604.77 L516 604.51 L516.2 604.58 L516.4 604.72 L516.6 604.62 L516.8 604.5 L517 604.77 L517.2 604.59 L517.4 604.74 L517.6 604.77 L517.8 604.49 L518 604.48 L518.2 604.6 L518.4 604.55 L518.6 604.69 L518.8 604.68 L519 604.61 L519.2 604.54 L519.4 604.58 L519.6 604.67 L519.8 604.61 L520 604.69 L520.2 604.55 L520.4 604.53 L520.6 604.56 L520.8 604.72 L521 604.7 L521.2 604.49 L521.4 604.7 L521.6 604.6 L521.8 604.8 L522 604.79 L522.2 604.76 L522.4 604.6 L522.6 604.76 L522.8 604.61 L523 604.82 L523.2 604.6 L523.4 604.6 L523.6 604.75 L523.8 604.76 L524 604.76 L524.2 604.67 L524.4 604.78 L524.6 604.76 L524.8 604.57 L525 604.52 L525.2 604.79 L525.4 604.67 L525.6 604.62 L525.8 604.52 L526 604.66 L526.2 604.67 L526.4 604.58 L526.6 604.58 L526.8 604.6 L527 604.64 L527.2 604.57 L527.4 604.84 L527.6 604.59 L527.8 604.78 L528 604.73 L528.2 604.72 L528.4 604.68 L528.6 604.65 L528.8 604.65 L529 604.75 L529.2 604.73 L529.4 604.63 L529.6 604.54 L529.8 604.73 L530 604.86 L530.2 604.56 L530.4 604.55 L530.6 604.57 L530.8 604.64 L531 604.72 L531.2 604.84 L531.4 604.54 L531.6 604.71 L531.8 604.82 L532 604.65 L532.2 604.85 L532.4 604.73 L532.6 604.66 L532.8 604.59 L533 604.74 L533.2 604.8 L533.4 604.75 L533.6 604.58 L533.8 604.84 L534 604.82 L534.2 604.75 L534.4 604.54 L534.6 604.56 L534.8 604.54 L535 604.86 L535.2 604.7 L535.4 604.82 L535.6 604.67 L535.8 604.6 L536 604.71 L536.2 604.64 L536.4 604.64 L536.6 604.7 L536.8 604.74 L537 604.8 L537.2 604.63 L537.4 604.54 L537.6 604.54 L537.8 604.56 L538 604.58 L538.2 604.65 L538.4 604.71 L538.6 604.84 L538.8 604.6 L539 604.82 L539.2 604.56 L539.4 604.58 L539.6 604.79 L539.8 604.57 L540 604.62 L540.2 604.6 L540.4 604.85 L540.6 604.79 L540.8 604.83 L541 604.56 L541.2 604.8 L541.4 604.73 L541.6 604.63 L541.8 604.75 L542 604.67 L542.2 604.67 L542.4 604.76 L542.6 604.57 L542.8 604.66 L543 604.63 L543.2 604.64 L543.4 604.68 L543.6 604.83 L543.8 604.57 L544 604.56 L544.2 604.86 L544.4 604.77 L544.6 604.83 L544.8 604.85 L545 604.69 L545.2 604.74 L545.4 604.85 L545.6 604.73 L545.8 604.65 L546 604.85 L546.2 604.67 L546.4 604.67 L546.6 604.61 L546.8 604.55 L547 604.59 L547.2 604.77 L547.4 604.87 L547.6 604.78 L547.8 604.84 L548 604.6 L548.2 604.77 L548.4 604.71 L548.6 604.65 L548.8 604.74 L549 604.55 L549.2 604.67 L549.4 604.7 L549.6 604.85 L549.8 604.82 L550 604.66 L550.2 604.75 L550.4 604.7 L550.6 604.6 L550.8 604.67 L551 604.61 L551.2 604.78 L551.4 604.88 L551.6 604.81 L551.8 604.59 L552 604.82 L552.2 604.87 L552.4 604.88 L552.6 604.56 L552.8 604.84 L553 604.88 L553.2 604.78 L553.4 604.9 L553.6 604.66 L553.8 604.67 L554 604.68 L554.2 604.23 L554.4 603.8 L554.6 602.69 L554.8 602.21 L554.86 602.14 L555 602.53 L555.2 602.98 L555.4 603.78 L555.6 604.49 L555.8 604.79 L556 604.73 L556.2 604.67 L556.4 604.75 L556.6 604.73 L556.8 604.58 L557 604.67 L557.2 604.78 L557.4 604.6 L557.6 604.64 L557.8 604.91 L558 604.75 L558.2 604.81 L558.4 604.81 L558.6 604.79 L558.8 604.63 L559 604.71 L559.2 604.83 L559.4 604.9 L559.6 604.87 L559.8 604.79 L560 604.73 L560.2 604.75 L560.4 604.77 L560.6 604.74 L560.8 604.81 L561 604.59 L561.2 604.85 L561.4 604.79 L561.6 604.69 L561.8 604.63 L562 604.78 L562.2 604.7 L562.4 604.84 L562.6 604.92 L562.8 604.59 L563 604.9 L563.2 604.66 L563.4 604.91 L563.6 604.82 L563.8 604.75 L564 604.61 L564.2 604.65 L564.4 604.82 L564.6 604.92 L564.8 604.66 L565 604.67 L565.2 604.6 L565.4 604.88 L565.6 604.69 L565.6 605 Z" fill="#f0141e" stroke="#f0141e" stroke-width="0.5" stroke-linejoin="round"/>
<line x1="469.2" y1="605" x2="569.8" y2="605" stroke="#111" stroke-width="1.5"/>
<line x1="469.9" y1="605" x2="469.9" y2="607.3" stroke="#111" stroke-width="1"/>
<text x="469.9" y="619.8" font-size="10" text-anchor="middle" fill="#1a1a1a">0</text>
<line x1="507" y1="605" x2="507" y2="607.3" stroke="#111" stroke-width="1"/>
<text x="507" y="619.8" font-size="10" text-anchor="middle" fill="#1a1a1a">1000</text>
<line x1="544.1" y1="605" x2="544.1" y2="607.3" stroke="#111" stroke-width="1"/>
<text x="544.1" y="619.8" font-size="10" text-anchor="middle" fill="#1a1a1a">2000</text>
<text x="518.3" y="634" font-size="10" text-anchor="middle" fill="#1a1a1a">Energy (keV)</text>
<text x="476.9" y="577.9" font-size="10" fill="#1a1a1a">S</text>
<text x="484.8" y="591.9" font-size="10" fill="#1a1a1a">Cd</text>
<text x="548.7" y="601" font-size="10" fill="#1a1a1a">Cd</text>
<path d="M579.9 603.2 L580 599.66 L580.2 590.1 L580.4 576.73 L580.46 575.74 L580.6 581.45 L580.8 595.77 L581 595.62 L581.2 595.73 L581.4 596.67 L581.6 597.59 L581.8 598.66 L582 599.7 L582.2 600.22 L582.4 600.85 L582.6 591.86 L582.8 563.53 L583 534.89 L583.05 532.89 L583.2 545.18 L583.4 579.12 L583.6 598.39 L583.8 600.74 L584 600.54 L584.2 600.52 L584.4 600.42 L584.6 600.28 L584.8 600.21 L585 599.95 L585.2 600.07 L585.4 600.03 L585.6 599.97 L585.8 599.92 L586 600.23 L586.2 600.43 L586.4 600.23 L586.6 600.43 L586.8 600.6 L587 600.86 L587.2 601.13 L587.4 601.32 L587.6 598.45 L587.8 586.02 L588 572.74 L588.06 571.46 L588.2 576.39 L588.4 591.89 L588.6 600.56 L588.8 602.02 L589 601.93 L589.2 602.14 L589.4 602.07 L589.6 602.22 L589.8 602.19 L590 602.26 L590.2 602.44 L590.4 602.42 L590.6 602.4 L590.8 602.35 L591 602.38 L591.2 602.33 L591.4 601.51 L591.6 599.83 L591.77 599.09 L591.8 599.04 L592 600.12 L592.2 601.87 L592.4 602.34 L592.6 602.29 L592.8 602.5 L593 602.56 L593.2 602.57 L593.4 602.56 L593.6 602.61 L593.8 602.4 L594 602.31 L594.2 602.59 L594.4 602.4 L594.6 602.32 L594.8 602.39 L595 602.61 L595.2 602.44 L595.4 602.58 L595.6 602.62 L595.8 602.68 L596 602.51 L596.2 602.37 L596.4 602.66 L596.6 602.65 L596.8 602.57 L597 602.7 L597.2 602.56 L597.4 602.47 L597.6 602.57 L597.8 602.72 L598 602.73 L598.2 602.68 L598.4 602.52 L598.6 602.43 L598.8 602.58 L599 602.73 L599.2 602.69 L599.4 602.63 L599.6 602.74 L599.8 602.74 L600 602.63 L600.2 602.49 L600.4 602.71 L600.6 602.49 L600.8 602.49 L601 602.65 L601.2 602.73 L601.4 602.75 L601.6 602.58 L601.8 602.53 L602 602.52 L602.2 602.75 L602.4 602.68 L602.6 602.82 L602.8 602.73 L603 602.73 L603.2 602.8 L603.4 602.82 L603.6 602.5 L603.8 602.74 L604 602.68 L604.2 602.67 L604.4 602.69 L604.6 602.65 L604.8 602.69 L605 602.69 L605.2 602.84 L605.4 602.65 L605.6 602.64 L605.8 602.62 L606 602.77 L606.2 602.72 L606.4 602.6 L606.6 602.63 L606.8 602.87 L607 602.77 L607.2 602.83 L607.4 602.65 L607.6 602.76 L607.8 602.76 L608 602.82 L608.2 602.74 L608.4 602.65 L608.6 600.79 L608.8 589.54 L609 561.9 L609.2 542.13 L609.21 542.28 L609.4 558.98 L609.6 587.74 L609.8 600.33 L610 602.87 L610.2 602.59 L610.4 602.68 L610.6 602.85 L610.8 602.75 L611 602.63 L611.2 602.63 L611.4 602.7 L611.6 602.71 L611.8 602.68 L612 601.93 L612.2 599.54 L612.4 595.82 L612.55 594.52 L612.6 594.78 L612.8 597.83 L613 601.09 L613.2 602.69 L613.4 602.7 L613.6 602.69 L613.8 602.63 L614 602.91 L614.2 602.95 L614.4 602.63 L614.6 602.7 L614.8 602.61 L615 602.68 L615.2 602.63 L615.4 602.91 L615.6 602.9 L615.8 602.75 L616 602.7 L616.2 602.93 L616.4 602.64 L616.6 602.89 L616.8 602.9 L617 602.82 L617.2 602.91 L617.4 602.94 L617.6 602.95 L617.8 602.97 L618 602.93 L618.2 602.74 L618.4 602.71 L618.6 602.71 L618.8 602.84 L619 602.72 L619.2 602.94 L619.4 602.68 L619.6 602.84 L619.8 602.95 L620 602.86 L620.2 602.92 L620.4 602.73 L620.6 602.86 L620.8 602.99 L621 602.93 L621.2 602.97 L621.4 602.66 L621.6 602.85 L621.8 602.72 L622 602.79 L622.2 602.86 L622.4 602.75 L622.6 602.81 L622.8 602.99 L623 602.66 L623.2 602.88 L623.4 602.78 L623.6 602.86 L623.8 602.67 L624 602.95 L624.2 602.99 L624.4 603 L624.6 602.87 L624.8 602.72 L625 602.86 L625.2 602.69 L625.4 602.96 L625.6 602.68 L625.8 602.96 L626 602.71 L626.2 602.95 L626.4 602.81 L626.6 602.8 L626.8 602.68 L627 602.88 L627.2 602.73 L627.4 603 L627.6 602.71 L627.8 602.84 L628 602.84 L628.2 602.69 L628.4 602.92 L628.6 602.81 L628.8 602.82 L629 602.92 L629.2 602.98 L629.4 602.88 L629.6 602.93 L629.8 602.82 L630 602.89 L630.2 603 L630.4 602.79 L630.6 602.71 L630.8 602.82 L631 602.93 L631.2 602.93 L631.4 602.7 L631.6 602.88 L631.8 602.78 L632 603.01 L632.2 602.75 L632.4 602.73 L632.6 602.95 L632.8 602.93 L633 602.81 L633.2 602.71 L633.4 602.77 L633.6 603.04 L633.8 603 L634 602.73 L634.2 602.91 L634.4 602.71 L634.6 602.89 L634.8 602.76 L635 602.97 L635.2 602.71 L635.4 602.88 L635.6 603.05 L635.8 602.98 L636 603.02 L636.2 602.91 L636.4 602.72 L636.6 602.71 L636.8 602.73 L637 602.91 L637.2 602.79 L637.4 602.8 L637.6 602.76 L637.8 602.72 L638 602.77 L638.2 602.79 L638.4 602.95 L638.6 603 L638.8 602.91 L639 602.96 L639.2 602.8 L639.4 603.01 L639.6 602.99 L639.8 602.81 L640 603.05 L640.2 603.03 L640.4 603.06 L640.6 603.06 L640.8 603.03 L641 602.81 L641.2 602.97 L641.4 603.03 L641.6 602.89 L641.8 602.94 L642 603.07 L642.2 603.04 L642.4 602.98 L642.6 602.92 L642.8 603.03 L643 602.92 L643.2 602.9 L643.4 602.75 L643.6 602.86 L643.8 602.97 L644 602.99 L644.2 603.01 L644.4 602.94 L644.6 602.74 L644.8 602.74 L645 603.02 L645.2 602.85 L645.4 602.81 L645.6 602.75 L645.8 602.81 L646 602.86 L646.2 603.05 L646.4 602.99 L646.6 602.75 L646.8 602.76 L647 602.77 L647.2 602.96 L647.4 602.81 L647.6 602.8 L647.8 602.94 L648 602.96 L648.2 602.92 L648.4 602.89 L648.6 603.08 L648.8 603.08 L649 602.73 L649.2 602.94 L649.4 602.94 L649.6 602.88 L649.8 602.9 L650 602.84 L650.2 602.9 L650.4 603.08 L650.6 603.07 L650.8 603 L651 602.96 L651.2 602.74 L651.4 602.91 L651.6 603.04 L651.8 602.8 L652 602.98 L652.2 602.94 L652.4 602.87 L652.6 602.84 L652.8 603.01 L653 602.95 L653.2 603.09 L653.4 602.77 L653.6 602.79 L653.8 602.81 L654 603.02 L654.2 602.87 L654.4 602.94 L654.6 603.04 L654.8 603.02 L655 602.79 L655.2 602.88 L655.4 602.89 L655.6 603.05 L655.8 602.89 L656 602.79 L656.2 603.03 L656.4 603.02 L656.6 602.77 L656.8 603 L657 602.94 L657.2 602.78 L657.4 602.84 L657.6 602.99 L657.8 602.98 L658 603.02 L658.2 603.09 L658.4 602.92 L658.6 603.05 L658.8 603.01 L659 602.81 L659.2 603.06 L659.4 603.08 L659.6 603.09 L659.8 602.88 L660 603.02 L660.2 603.01 L660.4 602.92 L660.6 602.85 L660.8 602.77 L661 603.09 L661.2 602.99 L661.4 603.1 L661.6 602.98 L661.8 602.87 L662 602.99 L662.2 602.96 L662.4 603 L662.6 602.77 L662.8 602.83 L663 602.8 L663.2 602.9 L663.4 602.8 L663.6 602.89 L663.8 603.08 L664 603.07 L664.2 602.78 L664.4 602.92 L664.6 602.85 L664.8 602.92 L665 602.8 L665.2 603.04 L665.4 603.06 L665.6 603.04 L665.8 602.86 L666 602.91 L666.2 602.93 L666.4 603.04 L666.6 602.97 L666.8 603.01 L667 603.08 L667.2 602.78 L667.4 602.84 L667.6 602.84 L667.8 602.99 L668 602.82 L668.2 602.83 L668.4 603.04 L668.6 602.78 L668.8 602.84 L669 603.1 L669.2 603.08 L669.4 603.09 L669.6 602.89 L669.8 603.07 L670 603.07 L670.2 603.11 L670.4 602.97 L670.6 603.01 L670.8 602.93 L671 603.06 L671.2 602.88 L671.4 602.9 L671.6 602.98 L671.8 602.79 L672 602.92 L672.2 602.93 L672.4 603.04 L672.6 603.02 L672.8 602.87 L673 603 L673.2 603.09 L673.4 602.98 L673.6 602.95 L673.8 603.08 L674 603.04 L674.2 602.8 L674.4 602.84 L674.6 602.97 L674.8 602.86 L675 602.9 L675.2 603.06 L675.4 602.94 L675.6 603.11 L675.6 603.2 Z" fill="#f0141e" stroke="#f0141e" stroke-width="0.5" stroke-linejoin="round"/>
<line x1="579.2" y1="603.2" x2="679.8" y2="603.2" stroke="#111" stroke-width="1.5"/>
<line x1="579.9" y1="603.2" x2="579.9" y2="605.5" stroke="#111" stroke-width="1"/>
<text x="579.9" y="618.2" font-size="10" text-anchor="middle" fill="#1a1a1a">0</text>
<line x1="617" y1="603.2" x2="617" y2="605.5" stroke="#111" stroke-width="1"/>
<text x="617" y="618.2" font-size="10" text-anchor="middle" fill="#1a1a1a">1000</text>
<line x1="654.1" y1="603.2" x2="654.1" y2="605.5" stroke="#111" stroke-width="1"/>
<text x="654.1" y="618.2" font-size="10" text-anchor="middle" fill="#1a1a1a">2000</text>
<text x="628.3" y="633.5" font-size="10" text-anchor="middle" fill="#1a1a1a">Energy (keV)</text>
<text x="586.9" y="570.4" font-size="10" fill="#1a1a1a">S</text>
<text x="592.2" y="597" font-size="10" fill="#1a1a1a">Cd</text>
<text x="656.1" y="598.1" font-size="10" fill="#1a1a1a">Cd</text>
<defs>
<filter id="b05" x="-10%" y="-10%" width="120%" height="120%"><feGaussianBlur stdDeviation="0.5"/></filter>
<filter id="b08" x="-10%" y="-10%" width="120%" height="120%"><feGaussianBlur stdDeviation="0.8"/></filter>
<filter id="b12" x="-20%" y="-20%" width="140%" height="140%"><feGaussianBlur stdDeviation="1.2"/></filter>
<filter id="b2" x="-20%" y="-20%" width="140%" height="140%"><feGaussianBlur stdDeviation="2"/></filter>
<filter id="b4" x="-30%" y="-30%" width="160%" height="160%"><feGaussianBlur stdDeviation="4"/></filter>
<filter id="b7" x="-30%" y="-30%" width="160%" height="160%"><feGaussianBlur stdDeviation="7"/></filter>
<filter id="nz" x="0" y="0" width="100%" height="100%"><feTurbulence type="fractalNoise" baseFrequency="0.75" numOctaves="2" seed="4"/><feColorMatrix type="matrix" values="0.33 0.33 0.33 0 0  0.33 0.33 0.33 0 0  0.33 0.33 0.33 0 0  0 0 0 0 1"/></filter>
<filter id="nz2" x="0" y="0" width="100%" height="100%"><feTurbulence type="fractalNoise" baseFrequency="0.45" numOctaves="3" seed="9"/><feColorMatrix type="matrix" values="0.33 0.33 0.33 0 0  0.33 0.33 0.33 0 0  0.33 0.33 0.33 0 0  0 0 0 0 1"/></filter>
<filter id="fl" x="-15%" y="-15%" width="130%" height="130%"><feTurbulence type="fractalNoise" baseFrequency="0.3" numOctaves="2" seed="3" result="t"/><feDisplacementMap in="SourceGraphic" in2="t" scale="6" xChannelSelector="R" yChannelSelector="G" result="d"/><feGaussianBlur in="d" stdDeviation="0.45"/></filter>
<filter id="fl2" x="-15%" y="-15%" width="130%" height="130%"><feTurbulence type="fractalNoise" baseFrequency="0.5" numOctaves="2" seed="11" result="t"/><feDisplacementMap in="SourceGraphic" in2="t" scale="4" xChannelSelector="R" yChannelSelector="G" result="d"/><feGaussianBlur in="d" stdDeviation="0.35"/></filter>
<filter id="nzd" x="0" y="0" width="100%" height="100%"><feTurbulence type="fractalNoise" baseFrequency="0.85" numOctaves="2" seed="4"/><feColorMatrix type="matrix" values="0 0 0 0 0  0 0 0 0 0  0 0 0 0 0  2.2 0 0 0 -0.95"/></filter>
<filter id="nzl" x="0" y="0" width="100%" height="100%"><feTurbulence type="fractalNoise" baseFrequency="0.85" numOctaves="2" seed="4"/><feColorMatrix type="matrix" values="0 0 0 0 1  0 0 0 0 1  0 0 0 0 1  -2.2 0 0 0 1.25"/></filter>
<filter id="tex" x="0" y="0" width="100%" height="100%" color-interpolation-filters="sRGB"><feTurbulence type="fractalNoise" baseFrequency="0.8" numOctaves="2" seed="4" result="t"/><feColorMatrix in="t" type="matrix" values="1 0 0 0 0  1 0 0 0 0  1 0 0 0 0  0 0 0 0 1" result="g"/><feComposite in="SourceGraphic" in2="g" operator="arithmetic" k1="0" k2="1" k3="0.12" k4="-0.06"/></filter>
<filter id="tex2" x="0" y="0" width="100%" height="100%" color-interpolation-filters="sRGB"><feTurbulence type="fractalNoise" baseFrequency="0.8" numOctaves="2" seed="7" result="t"/><feColorMatrix in="t" type="matrix" values="1 0 0 0 0  1 0 0 0 0  1 0 0 0 0  0 0 0 0 1" result="g"/><feComposite in="SourceGraphic" in2="g" operator="arithmetic" k1="0" k2="1" k3="0.32" k4="-0.16"/></filter>
</defs>
<defs><clipPath id="cp0"><rect x="0" y="294.8" width="108.2" height="105.4"/></clipPath><clipPath id="cp1"><rect x="111.9" y="294.5" width="108.1" height="105.7"/></clipPath><clipPath id="cp2"><rect x="232.8" y="294.9" width="105.2" height="104.7"/></clipPath><clipPath id="cp3"><rect x="342.3" y="294.5" width="105.7" height="105.7"/></clipPath><clipPath id="cp4"><rect x="466" y="294.5" width="105" height="105.5"/></clipPath><clipPath id="cp5"><rect x="576" y="294.8" width="105.3" height="105.3"/></clipPath><clipPath id="cp6"><rect x="1.2" y="416.2" width="105.3" height="105.2"/></clipPath><clipPath id="cp7"><rect x="111.9" y="416.2" width="105.4" height="105.2"/></clipPath><clipPath id="cp8"><rect x="232.8" y="416.2" width="105.4" height="104.7"/></clipPath><clipPath id="cp9"><rect x="342.3" y="416.2" width="105.8" height="104.8"/></clipPath><clipPath id="cp10"><rect x="465.8" y="415.8" width="104.9" height="105.3"/></clipPath><clipPath id="cp11"><rect x="575.4" y="415.8" width="107.2" height="105.2"/></clipPath>
<pattern id="fr1" width="2.3" height="20" patternUnits="userSpaceOnUse" patternTransform="rotate(35)"><rect width="1.1" height="20" fill="#000" fill-opacity="0.12"/></pattern>
<pattern id="fr2" width="2.1" height="20" patternUnits="userSpaceOnUse" patternTransform="rotate(-25)"><rect width="1" height="20" fill="#000" fill-opacity="0.12"/></pattern>
<pattern id="fr3" width="2.4" height="20" patternUnits="userSpaceOnUse" patternTransform="rotate(20)"><rect width="1.1" height="20" fill="#000" fill-opacity="0.14"/></pattern>
<pattern id="fr4" width="2.2" height="20" patternUnits="userSpaceOnUse" patternTransform="rotate(-65)"><rect width="1" height="20" fill="#000" fill-opacity="0.12"/></pattern>
<pattern id="fr5" width="3.6" height="20" patternUnits="userSpaceOnUse" patternTransform="rotate(-35)"><rect width="1.7" height="20" fill="#000" fill-opacity="0.38"/><rect x="1.7" width="0.4" height="20" fill="#000" fill-opacity="0.15"/><rect x="3.2" width="0.4" height="20" fill="#000" fill-opacity="0.15"/></pattern>
<pattern id="fr6" width="3.7" height="20" patternUnits="userSpaceOnUse" patternTransform="rotate(4)"><rect width="1.7" height="20" fill="#000" fill-opacity="0.38"/><rect x="1.7" width="0.4" height="20" fill="#000" fill-opacity="0.15"/><rect x="3.3" width="0.4" height="20" fill="#000" fill-opacity="0.15"/></pattern>
<pattern id="fr7" width="2.2" height="20" patternUnits="userSpaceOnUse" patternTransform="rotate(-60)"><rect width="1" height="20" fill="#000" fill-opacity="0.2"/></pattern>
<radialGradient id="gd3" cx="0.2" cy="0.55" r="0.55"><stop offset="0" stop-color="#161616"/><stop offset="0.55" stop-color="#222"/><stop offset="1" stop-color="#3a3a3a"/></radialGradient>
</defs>
<g clip-path="url(#cp0)"><g filter="url(#tex)"><rect x="0" y="294.8" width="108.2" height="105.4" fill="#cdcdcd"/><g filter="url(#b08)"><path d="M14 402 L86 345.8 L109 327 L109 352 L45 402 Z" fill="#a9a9a9" /><path d="M45 402 L109 352 L109 372 L84 402 Z" fill="#bcbcbc" /><path d="M82 402 Q95 381 109 372 L109 402 Z" fill="#dedede"/></g><path d="M0 377.8 Q16 368 22.8 363.7 Q30 357 33.4 355 Q55 349 58 346 Q64 338 63.2 330.4 Q61 310 61.4 294" fill="none" stroke="#adadad" stroke-width="0.7"/><g filter="url(#b05)">
<circle cx="70.07" cy="295.06" r="1.95" fill="#989898" fill-opacity="0.92"/>
<circle cx="30.59" cy="353.88" r="1.06" fill="#989898" fill-opacity="0.89"/>
<circle cx="66.92" cy="354.48" r="1.23" fill="#989898" fill-opacity="0.86"/>
<circle cx="43.16" cy="327.04" r="1.77" fill="#979797" fill-opacity="0.87"/>
<circle cx="70.66" cy="348.71" r="2.1" fill="#979797" fill-opacity="0.77"/>
<circle cx="66.33" cy="303.28" r="1.58" fill="#969696" fill-opacity="0.82"/>
<circle cx="62.22" cy="358.35" r="1.43" fill="#969696" fill-opacity="0.89"/>
<circle cx="45.34" cy="326.57" r="1.65" fill="#969696" fill-opacity="0.84"/>
<circle cx="43.16" cy="374.42" r="1.47" fill="#969696" fill-opacity="0.83"/>
<circle cx="52.28" cy="370.97" r="1.45" fill="#969696" fill-opacity="0.92"/>
<circle cx="37.43" cy="332.33" r="1.34" fill="#959595" fill-opacity="0.77"/>
<circle cx="93.65" cy="314.54" r="2.25" fill="#959595" fill-opacity="0.83"/>
<circle cx="51.03" cy="321.13" r="1.15" fill="#949494" fill-opacity="0.77"/>
<circle cx="58.52" cy="317.14" r="1.99" fill="#939393" fill-opacity="0.94"/>
<circle cx="93.66" cy="314.29" r="2.26" fill="#939393" fill-opacity="0.78"/>
<circle cx="30.3" cy="371.06" r="1.21" fill="#939393" fill-opacity="0.77"/>
<circle cx="31.01" cy="373.47" r="1.37" fill="#939393" fill-opacity="0.92"/>
<circle cx="27.95" cy="358.63" r="1.66" fill="#929292" fill-opacity="0.93"/>
<circle cx="78.58" cy="347.22" r="2.21" fill="#919191" fill-opacity="0.94"/>
<circle cx="43.29" cy="374.63" r="2.28" fill="#919191" fill-opacity="0.95"/>
<circle cx="87.1" cy="327.44" r="2.37" fill="#919191" fill-opacity="0.80"/>
<circle cx="61.79" cy="358.4" r="1.43" fill="#919191" fill-opacity="0.95"/>
<circle cx="50.56" cy="319.79" r="1.99" fill="#919191" fill-opacity="0.93"/>
<circle cx="34.87" cy="378.07" r="1.24" fill="#909090" fill-opacity="0.79"/>
<circle cx="68.47" cy="350.24" r="1.82" fill="#909090" fill-opacity="0.80"/>
<circle cx="30.94" cy="373.1" r="2.06" fill="#8f8f8f" fill-opacity="0.79"/>
<circle cx="68.48" cy="352.07" r="1.36" fill="#8f8f8f" fill-opacity="0.90"/>
<circle cx="27.06" cy="360.54" r="1.65" fill="#8e8e8e" fill-opacity="0.77"/>
<circle cx="41.26" cy="376.91" r="1.74" fill="#8d8d8d" fill-opacity="0.94"/>
<circle cx="84.74" cy="335.84" r="1.14" fill="#8d8d8d" fill-opacity="0.87"/>
<circle cx="36.17" cy="334.43" r="2.37" fill="#8c8c8c" fill-opacity="0.86"/>
<circle cx="39.26" cy="340.67" r="2.15" fill="#8c8c8c" fill-opacity="0.94"/>
<circle cx="41.12" cy="330.77" r="2.24" fill="#8c8c8c" fill-opacity="0.90"/>
<circle cx="38.1" cy="379.65" r="1.16" fill="#8c8c8c" fill-opacity="0.76"/>
<circle cx="68.23" cy="310.65" r="1.96" fill="#8b8b8b" fill-opacity="0.93"/>
<circle cx="47.33" cy="370.54" r="2.16" fill="#8b8b8b" fill-opacity="0.82"/>
<circle cx="67.03" cy="295.39" r="1.62" fill="#8b8b8b" fill-opacity="0.87"/>
<circle cx="36.62" cy="333.88" r="1.17" fill="#898989" fill-opacity="0.92"/>
<circle cx="84.7" cy="338.56" r="1.83" fill="#898989" fill-opacity="0.85"/>
<circle cx="67.86" cy="305.14" r="2.22" fill="#898989" fill-opacity="0.90"/>
<circle cx="88.08" cy="322.9" r="2.02" fill="#898989" fill-opacity="0.89"/>
<circle cx="66.97" cy="295.96" r="1.43" fill="#898989" fill-opacity="0.80"/>
<circle cx="61.73" cy="317.58" r="1.34" fill="#898989" fill-opacity="0.87"/>
<circle cx="37.99" cy="334.1" r="1.79" fill="#888888" fill-opacity="0.91"/>
<circle cx="67.71" cy="298.49" r="1.47" fill="#888888" fill-opacity="0.89"/>
<circle cx="29.67" cy="368.42" r="2.02" fill="#888888" fill-opacity="0.84"/>
<circle cx="34.36" cy="337.11" r="2.06" fill="#878787" fill-opacity="0.92"/>
<circle cx="85.96" cy="337.12" r="1.1" fill="#878787" fill-opacity="0.79"/>
<circle cx="53.54" cy="319.82" r="1.27" fill="#868686" fill-opacity="0.93"/>
<circle cx="48.4" cy="369.72" r="1.88" fill="#868686" fill-opacity="0.85"/>
<circle cx="36.4" cy="340.18" r="1.33" fill="#858585" fill-opacity="0.87"/>
<circle cx="26.64" cy="361.33" r="2.28" fill="#858585" fill-opacity="0.85"/>
<circle cx="67.21" cy="355.49" r="2.35" fill="#858585" fill-opacity="0.76"/>
<circle cx="31.05" cy="372.21" r="1.53" fill="#858585" fill-opacity="0.93"/>
<circle cx="36.32" cy="339.41" r="2.38" fill="#848484" fill-opacity="0.78"/>
<circle cx="68.16" cy="315.96" r="1.11" fill="#848484" fill-opacity="0.92"/>
<circle cx="44.04" cy="326.65" r="1.41" fill="#848484" fill-opacity="0.76"/>
<circle cx="95.77" cy="303.89" r="1.73" fill="#848484" fill-opacity="0.89"/>
<circle cx="67.46" cy="294.72" r="2.27" fill="#848484" fill-opacity="0.83"/>
<circle cx="30.81" cy="372.33" r="1.86" fill="#838383" fill-opacity="0.78"/>
<circle cx="53.38" cy="318.22" r="2.26" fill="#838383" fill-opacity="0.83"/>
<circle cx="83.8" cy="343.69" r="1.59" fill="#838383" fill-opacity="0.79"/>
<circle cx="39.67" cy="331.19" r="1.17" fill="#838383" fill-opacity="0.82"/>
<circle cx="59.32" cy="364.53" r="2.01" fill="#838383" fill-opacity="0.94"/>
<circle cx="67.66" cy="316.77" r="2.29" fill="#828282" fill-opacity="0.89"/>
<circle cx="63.31" cy="354.62" r="1.58" fill="#828282" fill-opacity="0.77"/>
<circle cx="91.72" cy="300.28" r="2.27" fill="#828282" fill-opacity="0.78"/>
<circle cx="38.09" cy="340.95" r="1.18" fill="#828282" fill-opacity="0.76"/>
<circle cx="66.29" cy="305.58" r="1.61" fill="#818181" fill-opacity="0.81"/>
<circle cx="49.4" cy="323.13" r="1.72" fill="#818181" fill-opacity="0.87"/>
<circle cx="66.19" cy="351.72" r="1.66" fill="#818181" fill-opacity="0.92"/>
<circle cx="52.52" cy="320.57" r="2.33" fill="#818181" fill-opacity="0.82"/>
<circle cx="64.54" cy="355.29" r="1.1" fill="#818181" fill-opacity="0.91"/>
<circle cx="31.58" cy="371.72" r="1.99" fill="#818181" fill-opacity="0.90"/>
<circle cx="84.89" cy="339.21" r="1.01" fill="#818181" fill-opacity="0.81"/>
<circle cx="28.75" cy="365" r="2.09" fill="#818181" fill-opacity="0.86"/>
<circle cx="31.25" cy="373.57" r="1.72" fill="#808080" fill-opacity="0.85"/>
<circle cx="43" cy="374.62" r="1.86" fill="#808080" fill-opacity="0.91"/>
<circle cx="35.28" cy="378.8" r="2.02" fill="#808080" fill-opacity="0.86"/>
<circle cx="87.88" cy="324.67" r="2.16" fill="#808080" fill-opacity="0.77"/>
<circle cx="67.87" cy="298.9" r="1.33" fill="#808080" fill-opacity="0.80"/>
<circle cx="46.43" cy="327.52" r="2.21" fill="#7f7f7f" fill-opacity="0.79"/>
<circle cx="41.11" cy="332.73" r="1.7" fill="#7f7f7f" fill-opacity="0.81"/>
<circle cx="90.63" cy="317.56" r="2.3" fill="#7e7e7e" fill-opacity="0.80"/>
<circle cx="95.78" cy="306.96" r="1.42" fill="#7e7e7e" fill-opacity="0.76"/>
<circle cx="90.93" cy="319.07" r="1.77" fill="#7e7e7e" fill-opacity="0.94"/>
<circle cx="53.99" cy="368.34" r="1.14" fill="#7e7e7e" fill-opacity="0.77"/>
<circle cx="32.19" cy="375.68" r="1.35" fill="#7e7e7e" fill-opacity="0.79"/>
<circle cx="86.5" cy="324.39" r="1.5" fill="#7e7e7e" fill-opacity="0.85"/>
<circle cx="28.43" cy="358.3" r="1.11" fill="#7d7d7d" fill-opacity="0.76"/>
<circle cx="61.49" cy="360.51" r="1.36" fill="#7d7d7d" fill-opacity="0.89"/>
<circle cx="68.47" cy="302.57" r="1.81" fill="#7c7c7c" fill-opacity="0.94"/>
<circle cx="56.85" cy="317.85" r="1.61" fill="#7c7c7c" fill-opacity="0.93"/>
<circle cx="47.94" cy="368.91" r="1.5" fill="#7b7b7b" fill-opacity="0.85"/>
<circle cx="63.15" cy="319.15" r="1.3" fill="#7b7b7b" fill-opacity="0.91"/>
<circle cx="29.01" cy="363.66" r="1.37" fill="#7b7b7b" fill-opacity="0.84"/>
<circle cx="61.2" cy="360.82" r="1.29" fill="#7b7b7b" fill-opacity="0.89"/>
<circle cx="64.62" cy="353.55" r="1.3" fill="#7a7a7a" fill-opacity="0.75"/>
<circle cx="67.91" cy="350.24" r="1.57" fill="#7a7a7a" fill-opacity="0.94"/>
<circle cx="87.5" cy="325.55" r="1.77" fill="#7a7a7a" fill-opacity="0.84"/>
<circle cx="87.41" cy="324.22" r="1.79" fill="#7a7a7a" fill-opacity="0.88"/>
<circle cx="61.57" cy="355.4" r="2.36" fill="#797979" fill-opacity="0.88"/>
<circle cx="59.66" cy="361.64" r="1.44" fill="#797979" fill-opacity="0.87"/>
<circle cx="70.1" cy="295.75" r="1.7" fill="#797979" fill-opacity="0.77"/>
<circle cx="41.41" cy="375.08" r="1.28" fill="#797979" fill-opacity="0.94"/>
<circle cx="67.91" cy="316.74" r="1.92" fill="#797979" fill-opacity="0.78"/>
<circle cx="37.4" cy="335.88" r="1.29" fill="#787878" fill-opacity="0.94"/>
<circle cx="82.85" cy="345.08" r="1.68" fill="#787878" fill-opacity="0.88"/>
<circle cx="39.92" cy="340.77" r="1.71" fill="#787878" fill-opacity="0.86"/>
<circle cx="67.53" cy="348.48" r="1.5" fill="#787878" fill-opacity="0.91"/>
<circle cx="29.42" cy="365.55" r="1.87" fill="#787878" fill-opacity="0.84"/>
<circle cx="93.52" cy="311.5" r="1.68" fill="#787878" fill-opacity="0.76"/>
<circle cx="83.12" cy="332.41" r="1.52" fill="#787878" fill-opacity="0.90"/>
<circle cx="39.71" cy="331.83" r="1.8" fill="#777777" fill-opacity="0.88"/>
<circle cx="91.79" cy="300.35" r="1.92" fill="#777777" fill-opacity="0.77"/>
<circle cx="90.6" cy="317.45" r="2.01" fill="#777777" fill-opacity="0.75"/>
<circle cx="64.12" cy="317.17" r="1.14" fill="#777777" fill-opacity="0.89"/>
<circle cx="67.79" cy="305.43" r="1.51" fill="#777777" fill-opacity="0.85"/>
<circle cx="85.81" cy="297.7" r="1.07" fill="#777777" fill-opacity="0.86"/>
<circle cx="66.64" cy="297.51" r="2.25" fill="#767676" fill-opacity="0.76"/>
<circle cx="72.45" cy="348.76" r="1.87" fill="#767676" fill-opacity="0.88"/>
<circle cx="68.35" cy="302.63" r="1.68" fill="#767676" fill-opacity="0.77"/>
<circle cx="85.65" cy="325.74" r="2.29" fill="#767676" fill-opacity="0.89"/>
<circle cx="56.98" cy="365.19" r="2.06" fill="#757575" fill-opacity="0.80"/>
<circle cx="42.59" cy="377.82" r="1.37" fill="#757575" fill-opacity="0.80"/>
<circle cx="43.45" cy="328.75" r="1.57" fill="#757575" fill-opacity="0.80"/>
<circle cx="39.26" cy="343.01" r="1.12" fill="#757575" fill-opacity="0.81"/>
<circle cx="67.52" cy="316.82" r="1.07" fill="#757575" fill-opacity="0.90"/>
<circle cx="67.73" cy="314.28" r="1.22" fill="#747474" fill-opacity="0.94"/>
<circle cx="54.04" cy="368.23" r="2.12" fill="#747474" fill-opacity="0.84"/>
<circle cx="66.05" cy="316.71" r="2.14" fill="#747474" fill-opacity="0.82"/>
<circle cx="42.39" cy="331.15" r="1.96" fill="#747474" fill-opacity="0.88"/>
<circle cx="49.02" cy="326.65" r="1.23" fill="#747474" fill-opacity="0.83"/>
<circle cx="48.16" cy="324.79" r="1.09" fill="#737373" fill-opacity="0.77"/>
<circle cx="82.23" cy="330.75" r="1.85" fill="#737373" fill-opacity="0.89"/>
<circle cx="37.32" cy="336.42" r="1.22" fill="#737373" fill-opacity="0.90"/>
<circle cx="31.36" cy="358.83" r="1.87" fill="#737373" fill-opacity="0.81"/>
<circle cx="72.88" cy="294.96" r="2.36" fill="#737373" fill-opacity="0.86"/>
<circle cx="50.36" cy="369.87" r="1.99" fill="#737373" fill-opacity="0.77"/>
<circle cx="87.52" cy="299.11" r="1.84" fill="#737373" fill-opacity="0.85"/>
<circle cx="58.61" cy="363.46" r="2.19" fill="#737373" fill-opacity="0.84"/>
<circle cx="54.24" cy="369.45" r="1.48" fill="#727272" fill-opacity="0.82"/>
<circle cx="78.5" cy="295.02" r="1.13" fill="#727272" fill-opacity="0.81"/>
<circle cx="57.66" cy="319" r="1.49" fill="#717171" fill-opacity="0.75"/>
<circle cx="83.16" cy="332.68" r="1.19" fill="#717171" fill-opacity="0.83"/>
<circle cx="91.95" cy="316.31" r="1.98" fill="#707070" fill-opacity="0.86"/>
<circle cx="30.42" cy="365.48" r="1.63" fill="#707070" fill-opacity="0.87"/>
<circle cx="52.24" cy="321.82" r="1.13" fill="#707070" fill-opacity="0.80"/>
<circle cx="61.62" cy="357.07" r="2.13" fill="#707070" fill-opacity="0.84"/>
<circle cx="28.06" cy="363.89" r="1.44" fill="#707070" fill-opacity="0.82"/>
<circle cx="41.15" cy="372.58" r="2.2" fill="#6f6f6f" fill-opacity="0.84"/>
<circle cx="62.38" cy="319.14" r="2" fill="#6f6f6f" fill-opacity="0.83"/>
<circle cx="71.03" cy="295.8" r="1.95" fill="#6f6f6f" fill-opacity="0.75"/>
<circle cx="63.18" cy="319.34" r="1.74" fill="#6f6f6f" fill-opacity="0.80"/>
<circle cx="38.53" cy="334.36" r="1.68" fill="#6f6f6f" fill-opacity="0.91"/>
<circle cx="57.38" cy="364.03" r="2.3" fill="#6f6f6f" fill-opacity="0.94"/>
<circle cx="68.16" cy="299" r="1.96" fill="#6d6d6d" fill-opacity="0.75"/>
<circle cx="81.51" cy="331.84" r="2.15" fill="#6d6d6d" fill-opacity="0.77"/>
<circle cx="58.15" cy="318.98" r="1.29" fill="#6d6d6d" fill-opacity="0.79"/>
<circle cx="46.59" cy="368.97" r="1.4" fill="#6d6d6d" fill-opacity="0.77"/>
<circle cx="77.17" cy="294.2" r="1.76" fill="#6c6c6c" fill-opacity="0.83"/>
<circle cx="47.92" cy="370.04" r="1.85" fill="#6c6c6c" fill-opacity="0.94"/>
<circle cx="69.14" cy="348.38" r="1.1" fill="#6c6c6c" fill-opacity="0.84"/>
<circle cx="68.11" cy="304.66" r="1.95" fill="#6c6c6c" fill-opacity="0.84"/>
<circle cx="80.84" cy="344.6" r="1.17" fill="#6c6c6c" fill-opacity="0.85"/>
<circle cx="85.93" cy="299.85" r="1.06" fill="#6c6c6c" fill-opacity="0.94"/>
<circle cx="87.05" cy="323.17" r="2.23" fill="#6b6b6b" fill-opacity="0.80"/>
<circle cx="78.87" cy="345.2" r="1.01" fill="#6b6b6b" fill-opacity="0.84"/>
<circle cx="31.45" cy="370.14" r="2.35" fill="#6b6b6b" fill-opacity="0.80"/>
<circle cx="38.84" cy="378.56" r="2.13" fill="#6b6b6b" fill-opacity="0.94"/>
<circle cx="41.08" cy="332.29" r="1.9" fill="#6b6b6b" fill-opacity="0.90"/>
<circle cx="37.64" cy="346.37" r="1.76" fill="#6b6b6b" fill-opacity="0.90"/>
<circle cx="87.46" cy="320.75" r="1.18" fill="#6a6a6a" fill-opacity="0.82"/>
<circle cx="76.59" cy="294.4" r="1.85" fill="#6a6a6a" fill-opacity="0.89"/>
<circle cx="78.34" cy="295.23" r="2.17" fill="#6a6a6a" fill-opacity="0.91"/>
<circle cx="70.89" cy="311.79" r="2.25" fill="#6a6a6a" fill-opacity="0.76"/>
<circle cx="93.56" cy="303.31" r="2.08" fill="#686868" fill-opacity="0.79"/>
<circle cx="76.96" cy="346.53" r="1.06" fill="#686868" fill-opacity="0.76"/>
<circle cx="29.4" cy="362.88" r="2.14" fill="#686868" fill-opacity="0.77"/>
<circle cx="32.89" cy="373.81" r="1.16" fill="#686868" fill-opacity="0.83"/>
<circle cx="83.8" cy="335.04" r="1.23" fill="#686868" fill-opacity="0.76"/>
<circle cx="74.06" cy="295.79" r="2.36" fill="#676767" fill-opacity="0.85"/>
<circle cx="46.9" cy="327.18" r="2.15" fill="#676767" fill-opacity="0.79"/>
<circle cx="38.8" cy="337.01" r="2.08" fill="#666666" fill-opacity="0.93"/>
<circle cx="82.69" cy="343.86" r="1.68" fill="#666666" fill-opacity="0.85"/>
<circle cx="66.43" cy="350.34" r="2.09" fill="#656565" fill-opacity="0.81"/>
<circle cx="41.12" cy="339.58" r="1.83" fill="#656565" fill-opacity="0.90"/>
<circle cx="82.71" cy="343.44" r="2.4" fill="#646464" fill-opacity="0.92"/>
<circle cx="60.07" cy="359.15" r="1.59" fill="#646464" fill-opacity="0.90"/>
<circle cx="50.62" cy="322.51" r="1.19" fill="#646464" fill-opacity="0.81"/>
<circle cx="40" cy="339.3" r="1.15" fill="#646464" fill-opacity="0.91"/>
<circle cx="92.94" cy="310.47" r="2.25" fill="#646464" fill-opacity="0.77"/>
<circle cx="70.72" cy="313.5" r="2.38" fill="#636363" fill-opacity="0.77"/>
<circle cx="49.54" cy="326.93" r="1.81" fill="#636363" fill-opacity="0.88"/>
<circle cx="65.71" cy="317.95" r="1.19" fill="#636363" fill-opacity="0.83"/>
<circle cx="31.52" cy="366.75" r="1.61" fill="#616161" fill-opacity="0.84"/>
<circle cx="50.86" cy="368.75" r="2.29" fill="#616161" fill-opacity="0.92"/>
<circle cx="59.18" cy="361.81" r="1.47" fill="#616161" fill-opacity="0.84"/>
<circle cx="66.24" cy="318.82" r="1.18" fill="#616161" fill-opacity="0.84"/>
<circle cx="51.17" cy="322.51" r="1.33" fill="#616161" fill-opacity="0.79"/>
<circle cx="36.15" cy="348.48" r="1.16" fill="#606060" fill-opacity="0.86"/>
<circle cx="51.75" cy="367.54" r="2.16" fill="#606060" fill-opacity="0.86"/>
<circle cx="29.7" cy="360.97" r="2" fill="#606060" fill-opacity="0.80"/>
<circle cx="81.46" cy="344.51" r="2.3" fill="#606060" fill-opacity="0.77"/>
<circle cx="91.62" cy="313.22" r="1.72" fill="#5f5f5f" fill-opacity="0.83"/>
<circle cx="76.73" cy="296.31" r="2.27" fill="#5f5f5f" fill-opacity="0.94"/>
<circle cx="49.3" cy="326.45" r="2.17" fill="#5f5f5f" fill-opacity="0.82"/>
<circle cx="77.69" cy="295.88" r="1.28" fill="#5e5e5e" fill-opacity="0.85"/>
<circle cx="31.98" cy="357.36" r="2.05" fill="#5e5e5e" fill-opacity="0.83"/>
<circle cx="93.65" cy="307.78" r="1.43" fill="#5e5e5e" fill-opacity="0.86"/>
<circle cx="46.28" cy="329.93" r="1" fill="#5e5e5e" fill-opacity="0.81"/>
<circle cx="33.81" cy="351.64" r="1.56" fill="#5e5e5e" fill-opacity="0.76"/>
<circle cx="32.27" cy="367.79" r="1.51" fill="#5d5d5d" fill-opacity="0.93"/>
<circle cx="60.48" cy="320.12" r="1.87" fill="#5d5d5d" fill-opacity="0.75"/>
<circle cx="31.73" cy="365.59" r="2.02" fill="#5d5d5d" fill-opacity="0.84"/>
<circle cx="90.3" cy="317.18" r="1.41" fill="#5c5c5c" fill-opacity="0.79"/>
<circle cx="60.07" cy="355.86" r="2.17" fill="#5c5c5c" fill-opacity="0.86"/>
<circle cx="69.43" cy="301.5" r="1.09" fill="#5c5c5c" fill-opacity="0.93"/>
<circle cx="81.79" cy="327.32" r="1.01" fill="#5c5c5c" fill-opacity="0.92"/>
<circle cx="79.22" cy="327.98" r="1.39" fill="#5b5b5b" fill-opacity="0.88"/>
<circle cx="64.14" cy="349.88" r="1.2" fill="#5b5b5b" fill-opacity="0.76"/>
<circle cx="88.45" cy="319.11" r="1.92" fill="#5a5a5a" fill-opacity="0.78"/>
<circle cx="35.41" cy="349.49" r="2.33" fill="#5a5a5a" fill-opacity="0.94"/>
<circle cx="34.59" cy="353.87" r="2.02" fill="#5a5a5a" fill-opacity="0.87"/>
<circle cx="71.04" cy="318.29" r="2.12" fill="#5a5a5a" fill-opacity="0.84"/>
<circle cx="53.2" cy="367.32" r="1.48" fill="#5a5a5a" fill-opacity="0.93"/>
<circle cx="36.86" cy="375.88" r="2.23" fill="#5a5a5a" fill-opacity="0.79"/>
<circle cx="45.76" cy="332.59" r="1.13" fill="#5a5a5a" fill-opacity="0.80"/>
<circle cx="47.41" cy="329.93" r="1.51" fill="#5a5a5a" fill-opacity="0.94"/>
<circle cx="54.56" cy="366.43" r="1.45" fill="#5a5a5a" fill-opacity="0.76"/>
<circle cx="81.93" cy="326.67" r="2.32" fill="#595959" fill-opacity="0.93"/>
<circle cx="62.48" cy="353.29" r="1.38" fill="#595959" fill-opacity="0.76"/>
<circle cx="79.67" cy="298.11" r="1.71" fill="#585858" fill-opacity="0.82"/>
<circle cx="71.04" cy="300.47" r="1.06" fill="#585858" fill-opacity="0.94"/>
<circle cx="62.28" cy="320.6" r="1.27" fill="#585858" fill-opacity="0.84"/>
<circle cx="73.57" cy="346.64" r="2.06" fill="#585858" fill-opacity="0.75"/>
<circle cx="30.16" cy="361.66" r="1.56" fill="#585858" fill-opacity="0.83"/>
<circle cx="47.85" cy="327.67" r="1.77" fill="#575757" fill-opacity="0.77"/>
<circle cx="38.82" cy="373.95" r="1.9" fill="#575757" fill-opacity="0.76"/>
<circle cx="36.65" cy="350.79" r="2.23" fill="#575757" fill-opacity="0.80"/>
<circle cx="64.55" cy="350.5" r="1.84" fill="#575757" fill-opacity="0.80"/>
<circle cx="70.83" cy="317.09" r="2.11" fill="#565656" fill-opacity="0.87"/>
<circle cx="92.96" cy="305.16" r="1.29" fill="#565656" fill-opacity="0.87"/>
<circle cx="30.4" cy="362.49" r="1.67" fill="#565656" fill-opacity="0.82"/>
<circle cx="87.17" cy="320.23" r="1.39" fill="#565656" fill-opacity="0.90"/>
<circle cx="72.27" cy="305.92" r="1.72" fill="#565656" fill-opacity="0.76"/>
<circle cx="55.16" cy="320.03" r="2.2" fill="#555555" fill-opacity="0.76"/>
<circle cx="52.21" cy="368" r="2.26" fill="#555555" fill-opacity="0.91"/>
<circle cx="57.87" cy="320.09" r="1.09" fill="#555555" fill-opacity="0.90"/>
<circle cx="77.77" cy="309.2" r="1.36" fill="#555555" fill-opacity="0.89"/>
<circle cx="74.92" cy="315.34" r="1.3" fill="#555555" fill-opacity="0.80"/>
<circle cx="65.76" cy="346.11" r="1.2" fill="#555555" fill-opacity="0.89"/>
<circle cx="45.23" cy="343.33" r="2.15" fill="#555555" fill-opacity="0.82"/>
<circle cx="49.29" cy="341.14" r="1.2" fill="#555555" fill-opacity="0.80"/>
<circle cx="38.46" cy="375.49" r="2.06" fill="#555555" fill-opacity="0.78"/>
<circle cx="69.89" cy="304.68" r="1.78" fill="#555555" fill-opacity="0.94"/>
<circle cx="34.1" cy="356.7" r="1.85" fill="#545454" fill-opacity="0.89"/>
<circle cx="71.02" cy="346.19" r="2.21" fill="#545454" fill-opacity="0.90"/>
<circle cx="75.04" cy="308.1" r="2.26" fill="#545454" fill-opacity="0.76"/>
<circle cx="80.32" cy="344.28" r="1.1" fill="#545454" fill-opacity="0.92"/>
<circle cx="43.12" cy="334.76" r="1.09" fill="#545454" fill-opacity="0.82"/>
<circle cx="51.1" cy="348.06" r="2.33" fill="#545454" fill-opacity="0.93"/>
<circle cx="87.41" cy="318.27" r="1.83" fill="#535353" fill-opacity="0.89"/>
<circle cx="70.96" cy="329.71" r="2.35" fill="#535353" fill-opacity="0.91"/>
<circle cx="74.55" cy="303.61" r="1.62" fill="#535353" fill-opacity="0.85"/>
<circle cx="93.27" cy="306.48" r="1.55" fill="#535353" fill-opacity="0.84"/>
<circle cx="47.3" cy="331.43" r="2.39" fill="#535353" fill-opacity="0.77"/>
<circle cx="75.65" cy="302.96" r="1.59" fill="#535353" fill-opacity="0.92"/>
<circle cx="51.86" cy="333.36" r="2.34" fill="#535353" fill-opacity="0.91"/>
<circle cx="71.59" cy="312.7" r="2.2" fill="#535353" fill-opacity="0.81"/>
<circle cx="78.54" cy="304.27" r="1.84" fill="#525252" fill-opacity="0.84"/>
<circle cx="75.37" cy="322.42" r="1.56" fill="#525252" fill-opacity="0.76"/>
<circle cx="34.36" cy="356.47" r="1.34" fill="#525252" fill-opacity="0.81"/>
<circle cx="35.35" cy="353.37" r="2.37" fill="#525252" fill-opacity="0.78"/>
<circle cx="41.53" cy="368.33" r="1.13" fill="#525252" fill-opacity="0.81"/>
<circle cx="77.54" cy="297.06" r="1.81" fill="#525252" fill-opacity="0.92"/>
<circle cx="76.14" cy="313.71" r="1.02" fill="#525252" fill-opacity="0.94"/>
<circle cx="47.65" cy="333.28" r="1.52" fill="#525252" fill-opacity="0.78"/>
<circle cx="70.19" cy="317.78" r="1.54" fill="#525252" fill-opacity="0.80"/>
<circle cx="44.86" cy="366.07" r="2.32" fill="#515151" fill-opacity="0.77"/>
<circle cx="55.12" cy="320.72" r="1.49" fill="#515151" fill-opacity="0.86"/>
<circle cx="57.46" cy="336.71" r="1.97" fill="#515151" fill-opacity="0.91"/>
<circle cx="56.12" cy="363.04" r="1.01" fill="#515151" fill-opacity="0.80"/>
<circle cx="52.17" cy="351.81" r="1.45" fill="#505050" fill-opacity="0.91"/>
<circle cx="80.57" cy="310.06" r="1.43" fill="#505050" fill-opacity="0.76"/>
<circle cx="76.18" cy="311.08" r="2.15" fill="#505050" fill-opacity="0.93"/>
<circle cx="48.35" cy="333.17" r="1.22" fill="#505050" fill-opacity="0.84"/>
<circle cx="64.31" cy="342.6" r="2.13" fill="#4f4f4f" fill-opacity="0.91"/>
<circle cx="33.18" cy="368.04" r="1.03" fill="#4f4f4f" fill-opacity="0.91"/>
<circle cx="46.25" cy="330.2" r="1.1" fill="#4f4f4f" fill-opacity="0.82"/>
<circle cx="77.22" cy="345.6" r="1.01" fill="#4f4f4f" fill-opacity="0.76"/>
<circle cx="88.39" cy="301.27" r="1.94" fill="#4f4f4f" fill-opacity="0.76"/>
<circle cx="73.03" cy="327.5" r="1.07" fill="#4e4e4e" fill-opacity="0.81"/>
<circle cx="52.39" cy="353.21" r="1.84" fill="#4e4e4e" fill-opacity="0.75"/>
<circle cx="35.8" cy="350.6" r="2.26" fill="#4e4e4e" fill-opacity="0.78"/>
<circle cx="37.7" cy="349.38" r="2.1" fill="#4e4e4e" fill-opacity="0.94"/>
<circle cx="92.19" cy="306.68" r="1.87" fill="#4e4e4e" fill-opacity="0.86"/>
<circle cx="58.28" cy="360.92" r="1.89" fill="#4e4e4e" fill-opacity="0.77"/>
<circle cx="46.11" cy="337.4" r="1.51" fill="#4e4e4e" fill-opacity="0.91"/>
<circle cx="50.76" cy="340.11" r="2.4" fill="#4e4e4e" fill-opacity="0.86"/>
<circle cx="46.48" cy="342.74" r="1.05" fill="#4d4d4d" fill-opacity="0.91"/>
<circle cx="83.08" cy="340.16" r="1.72" fill="#4d4d4d" fill-opacity="0.86"/>
<circle cx="64.17" cy="350.74" r="1.41" fill="#4d4d4d" fill-opacity="0.90"/>
<circle cx="78.25" cy="328.63" r="2.37" fill="#4d4d4d" fill-opacity="0.85"/>
<circle cx="80.01" cy="300.23" r="1.61" fill="#4c4c4c" fill-opacity="0.86"/>
<circle cx="59.51" cy="320.62" r="1.8" fill="#4c4c4c" fill-opacity="0.94"/>
<circle cx="73.87" cy="297.69" r="1.03" fill="#4c4c4c" fill-opacity="0.92"/>
<circle cx="76.46" cy="345.93" r="1.31" fill="#4c4c4c" fill-opacity="0.77"/>
<circle cx="39.03" cy="348.52" r="1.62" fill="#4c4c4c" fill-opacity="0.81"/>
<circle cx="63.5" cy="346.44" r="1.6" fill="#4c4c4c" fill-opacity="0.75"/>
<circle cx="65.78" cy="322.75" r="2.06" fill="#4c4c4c" fill-opacity="0.88"/>
<circle cx="74.38" cy="321.92" r="2.31" fill="#4c4c4c" fill-opacity="0.94"/>
<circle cx="45.69" cy="338.35" r="1.18" fill="#4c4c4c" fill-opacity="0.81"/>
<circle cx="52.41" cy="323.18" r="1.08" fill="#4b4b4b" fill-opacity="0.89"/>
<circle cx="80.08" cy="305.68" r="1.56" fill="#4b4b4b" fill-opacity="0.94"/>
<circle cx="60.14" cy="336.66" r="2.25" fill="#4b4b4b" fill-opacity="0.91"/>
<circle cx="69" cy="326.93" r="1.04" fill="#4b4b4b" fill-opacity="0.94"/>
<circle cx="87.06" cy="301.13" r="1.11" fill="#4b4b4b" fill-opacity="0.76"/>
<circle cx="68.15" cy="320.86" r="1.99" fill="#4b4b4b" fill-opacity="0.93"/>
<circle cx="31.35" cy="366.18" r="2.25" fill="#4b4b4b" fill-opacity="0.79"/>
<circle cx="80.7" cy="310.86" r="1.75" fill="#4b4b4b" fill-opacity="0.77"/>
<circle cx="76.38" cy="305.28" r="2.12" fill="#4b4b4b" fill-opacity="0.86"/>
<circle cx="78.52" cy="310.33" r="2.21" fill="#4a4a4a" fill-opacity="0.87"/>
<circle cx="72.27" cy="309.93" r="1.61" fill="#4a4a4a" fill-opacity="0.86"/>
<circle cx="77.2" cy="312.17" r="1.47" fill="#4a4a4a" fill-opacity="0.88"/>
<circle cx="62.98" cy="350.05" r="1.56" fill="#4a4a4a" fill-opacity="0.78"/>
<circle cx="31.44" cy="360.09" r="1.15" fill="#4a4a4a" fill-opacity="0.78"/>
<circle cx="79.33" cy="302.64" r="1.28" fill="#4a4a4a" fill-opacity="0.85"/>
<circle cx="41.84" cy="341.86" r="1.24" fill="#4a4a4a" fill-opacity="0.76"/>
<circle cx="45.28" cy="335.88" r="1.57" fill="#4a4a4a" fill-opacity="0.75"/>
<circle cx="52.47" cy="353.77" r="2.26" fill="#4a4a4a" fill-opacity="0.94"/>
<circle cx="56.88" cy="361.22" r="1.58" fill="#4a4a4a" fill-opacity="0.88"/>
<circle cx="42.62" cy="342.46" r="1.42" fill="#4a4a4a" fill-opacity="0.95"/>
<circle cx="46.87" cy="344.89" r="1.01" fill="#494949" fill-opacity="0.80"/>
<circle cx="39.24" cy="371.8" r="1.07" fill="#494949" fill-opacity="0.84"/>
<circle cx="52.15" cy="366.55" r="1.65" fill="#494949" fill-opacity="0.83"/>
<circle cx="78.53" cy="318.65" r="1" fill="#494949" fill-opacity="0.86"/>
<circle cx="53.55" cy="356.21" r="1.52" fill="#494949" fill-opacity="0.79"/>
<circle cx="77.44" cy="318.22" r="2.02" fill="#494949" fill-opacity="0.77"/>
<circle cx="78.85" cy="343.41" r="1.39" fill="#494949" fill-opacity="0.77"/>
<circle cx="31.43" cy="361.5" r="1.91" fill="#494949" fill-opacity="0.75"/>
<circle cx="69.75" cy="326.74" r="1.13" fill="#494949" fill-opacity="0.78"/>
<circle cx="72.36" cy="303" r="2.35" fill="#494949" fill-opacity="0.91"/>
<circle cx="40.42" cy="370.28" r="1.07" fill="#494949" fill-opacity="0.87"/>
<circle cx="72.14" cy="319.13" r="1.09" fill="#484848" fill-opacity="0.80"/>
<circle cx="63.72" cy="349.54" r="1.57" fill="#484848" fill-opacity="0.88"/>
<circle cx="56.93" cy="363.35" r="1.11" fill="#484848" fill-opacity="0.88"/>
<circle cx="44.06" cy="366.6" r="1.11" fill="#484848" fill-opacity="0.84"/>
<circle cx="40.72" cy="370.31" r="1.93" fill="#484848" fill-opacity="0.80"/>
<circle cx="43.65" cy="343.72" r="1.39" fill="#484848" fill-opacity="0.90"/>
<circle cx="64.49" cy="347.28" r="2.36" fill="#484848" fill-opacity="0.81"/>
<circle cx="76.42" cy="329.98" r="2.29" fill="#484848" fill-opacity="0.89"/>
<circle cx="87.31" cy="314.49" r="1.3" fill="#474747" fill-opacity="0.78"/>
<circle cx="54.2" cy="364.02" r="1.91" fill="#474747" fill-opacity="0.77"/>
<circle cx="44.39" cy="342.9" r="2.36" fill="#474747" fill-opacity="0.84"/>
<circle cx="50.79" cy="347.54" r="2.06" fill="#474747" fill-opacity="0.88"/>
<circle cx="48.4" cy="329.96" r="1.07" fill="#474747" fill-opacity="0.88"/>
<circle cx="77.18" cy="330.36" r="1.55" fill="#474747" fill-opacity="0.94"/>
<circle cx="73.8" cy="322.98" r="1.48" fill="#474747" fill-opacity="0.91"/>
<circle cx="65.87" cy="326.82" r="2.24" fill="#474747" fill-opacity="0.86"/>
<circle cx="32.21" cy="365.53" r="1.86" fill="#474747" fill-opacity="0.94"/>
<circle cx="52.81" cy="332.26" r="1.42" fill="#474747" fill-opacity="0.90"/>
<circle cx="75.8" cy="325.33" r="1.91" fill="#474747" fill-opacity="0.85"/>
<circle cx="71.61" cy="315.44" r="1.11" fill="#474747" fill-opacity="0.79"/>
<circle cx="69.61" cy="322.3" r="1.14" fill="#474747" fill-opacity="0.77"/>
<circle cx="63.68" cy="343.53" r="1.37" fill="#474747" fill-opacity="0.75"/>
<circle cx="43.25" cy="335.66" r="1.5" fill="#464646" fill-opacity="0.85"/>
<circle cx="37.48" cy="371.8" r="2.23" fill="#464646" fill-opacity="0.80"/>
<circle cx="63.05" cy="321.69" r="1.79" fill="#464646" fill-opacity="0.89"/>
<circle cx="75.02" cy="311.7" r="1.74" fill="#464646" fill-opacity="0.76"/>
<circle cx="64.02" cy="346.87" r="1.99" fill="#464646" fill-opacity="0.89"/>
<circle cx="93.04" cy="308.33" r="1.38" fill="#464646" fill-opacity="0.91"/>
<circle cx="87.27" cy="316.32" r="1.77" fill="#454545" fill-opacity="0.80"/>
<circle cx="61.33" cy="336.63" r="2.05" fill="#454545" fill-opacity="0.79"/>
<circle cx="72.65" cy="315.31" r="1.53" fill="#454545" fill-opacity="0.85"/>
<circle cx="41.43" cy="336.88" r="1.85" fill="#454545" fill-opacity="0.82"/>
<circle cx="41.25" cy="345.14" r="1.12" fill="#454545" fill-opacity="0.85"/>
<circle cx="44.69" cy="334.93" r="1.2" fill="#454545" fill-opacity="0.86"/>
<circle cx="88.38" cy="313.69" r="1.29" fill="#444444" fill-opacity="0.94"/>
<circle cx="48.7" cy="349.8" r="1.31" fill="#444444" fill-opacity="0.92"/>
<circle cx="83.02" cy="325.02" r="2.38" fill="#444444" fill-opacity="0.82"/>
<circle cx="49.76" cy="352.36" r="1.97" fill="#444444" fill-opacity="0.85"/>
<circle cx="78.88" cy="298.69" r="1.22" fill="#444444" fill-opacity="0.78"/>
<circle cx="45.72" cy="337.29" r="1.07" fill="#444444" fill-opacity="0.85"/>
<circle cx="49.71" cy="346.22" r="1.4" fill="#434343" fill-opacity="0.78"/>
<circle cx="64.8" cy="339.66" r="1.21" fill="#434343" fill-opacity="0.81"/>
<circle cx="64.74" cy="321.25" r="1.5" fill="#434343" fill-opacity="0.84"/>
<circle cx="39.41" cy="369.39" r="1.52" fill="#434343" fill-opacity="0.77"/>
<circle cx="74.34" cy="300.25" r="2.19" fill="#434343" fill-opacity="0.85"/>
<circle cx="48.94" cy="328.55" r="1.1" fill="#434343" fill-opacity="0.88"/>
<circle cx="44.47" cy="340.77" r="1.05" fill="#424242" fill-opacity="0.91"/>
<circle cx="79.16" cy="306.92" r="1.66" fill="#424242" fill-opacity="0.82"/>
<circle cx="76.24" cy="315.82" r="1.16" fill="#424242" fill-opacity="0.81"/>
<circle cx="45.54" cy="345.81" r="1.97" fill="#424242" fill-opacity="0.85"/>
<circle cx="41.09" cy="336.81" r="1.38" fill="#414141" fill-opacity="0.79"/>
<circle cx="78.52" cy="302.18" r="1.64" fill="#414141" fill-opacity="0.77"/>
<circle cx="69.35" cy="330.51" r="1.13" fill="#414141" fill-opacity="0.79"/>
<circle cx="80.89" cy="307.75" r="1.1" fill="#414141" fill-opacity="0.79"/>
<circle cx="54.74" cy="321.52" r="1.49" fill="#414141" fill-opacity="0.93"/>
<circle cx="42.92" cy="338.49" r="2.11" fill="#414141" fill-opacity="0.78"/>
<circle cx="81.9" cy="340.56" r="1.24" fill="#414141" fill-opacity="0.78"/>
<circle cx="72.06" cy="312.69" r="2.33" fill="#404040" fill-opacity="0.89"/>
<circle cx="46.96" cy="345.17" r="1.98" fill="#404040" fill-opacity="0.83"/>
<circle cx="90.03" cy="313.73" r="2.23" fill="#404040" fill-opacity="0.89"/>
<circle cx="45.59" cy="364.25" r="1.87" fill="#404040" fill-opacity="0.92"/>
<circle cx="46.94" cy="365.38" r="1.36" fill="#404040" fill-opacity="0.75"/>
<circle cx="62.96" cy="340.1" r="1.63" fill="#404040" fill-opacity="0.94"/>
<circle cx="36.9" cy="368.75" r="2.27" fill="#404040" fill-opacity="0.89"/>
<circle cx="37.69" cy="371.88" r="2.24" fill="#404040" fill-opacity="0.84"/>
<circle cx="71.25" cy="346.35" r="1.93" fill="#3f3f3f" fill-opacity="0.94"/>
<circle cx="85.89" cy="312.49" r="1.08" fill="#3f3f3f" fill-opacity="0.79"/>
<circle cx="51.77" cy="333.04" r="2.39" fill="#3f3f3f" fill-opacity="0.83"/>
<circle cx="35.03" cy="357.31" r="1.93" fill="#3f3f3f" fill-opacity="0.94"/>
<circle cx="68.83" cy="333.09" r="2.19" fill="#3f3f3f" fill-opacity="0.85"/>
<circle cx="73.58" cy="317.36" r="1.39" fill="#3f3f3f" fill-opacity="0.90"/>
<circle cx="77.06" cy="306.69" r="1.36" fill="#3f3f3f" fill-opacity="0.82"/>
<circle cx="83.12" cy="303.39" r="2.29" fill="#3e3e3e" fill-opacity="0.90"/>
<circle cx="82.75" cy="301.63" r="1.88" fill="#3e3e3e" fill-opacity="0.75"/>
<circle cx="70.88" cy="344.9" r="2.09" fill="#3e3e3e" fill-opacity="0.91"/>
<circle cx="72.79" cy="314.53" r="1.35" fill="#3e3e3e" fill-opacity="0.87"/>
<circle cx="61.52" cy="321.23" r="1.56" fill="#3e3e3e" fill-opacity="0.88"/>
<circle cx="56.43" cy="360.83" r="1.29" fill="#3e3e3e" fill-opacity="0.91"/>
<circle cx="68.18" cy="331.09" r="1.18" fill="#3e3e3e" fill-opacity="0.88"/>
<circle cx="76.97" cy="320.95" r="1.77" fill="#3e3e3e" fill-opacity="0.93"/>
<circle cx="77.56" cy="344.62" r="1.04" fill="#3e3e3e" fill-opacity="0.76"/>
<circle cx="44.41" cy="365.47" r="1.6" fill="#3e3e3e" fill-opacity="0.77"/>
<circle cx="55.33" cy="363.14" r="1.25" fill="#3d3d3d" fill-opacity="0.88"/>
<circle cx="79.17" cy="328.39" r="2.27" fill="#3d3d3d" fill-opacity="0.94"/>
<circle cx="51.78" cy="338.66" r="1.61" fill="#3d3d3d" fill-opacity="0.82"/>
<circle cx="80.65" cy="334.75" r="1.98" fill="#3d3d3d" fill-opacity="0.80"/>
<circle cx="62.86" cy="341.73" r="2.14" fill="#3d3d3d" fill-opacity="0.80"/>
<circle cx="89.26" cy="312.48" r="1.65" fill="#3d3d3d" fill-opacity="0.85"/>
<circle cx="52.67" cy="364.82" r="2.1" fill="#3d3d3d" fill-opacity="0.83"/>
<circle cx="49.47" cy="331.57" r="1.69" fill="#3d3d3d" fill-opacity="0.81"/>
<circle cx="64.65" cy="338.47" r="2.06" fill="#3d3d3d" fill-opacity="0.82"/>
<circle cx="74.11" cy="297.75" r="1.66" fill="#3d3d3d" fill-opacity="0.91"/>
<circle cx="50.4" cy="346.08" r="1.14" fill="#3d3d3d" fill-opacity="0.76"/>
<circle cx="66.53" cy="333.37" r="1.35" fill="#3c3c3c" fill-opacity="0.80"/>
<circle cx="79.89" cy="301.43" r="1.38" fill="#3c3c3c" fill-opacity="0.84"/>
<circle cx="85.56" cy="301.04" r="1.92" fill="#3c3c3c" fill-opacity="0.81"/>
<circle cx="51.96" cy="341.6" r="1.64" fill="#3c3c3c" fill-opacity="0.80"/>
<circle cx="73.24" cy="309.29" r="1.51" fill="#3c3c3c" fill-opacity="0.90"/>
<circle cx="70.97" cy="322.98" r="2.02" fill="#3c3c3c" fill-opacity="0.89"/>
<circle cx="62.63" cy="322" r="1.5" fill="#3c3c3c" fill-opacity="0.80"/>
<circle cx="89.65" cy="312.5" r="1.99" fill="#3c3c3c" fill-opacity="0.76"/>
<circle cx="78.14" cy="328.97" r="1.22" fill="#3b3b3b" fill-opacity="0.87"/>
<circle cx="82.09" cy="303.03" r="1.21" fill="#3b3b3b" fill-opacity="0.77"/>
<circle cx="62.92" cy="350.39" r="2.35" fill="#3b3b3b" fill-opacity="0.76"/>
<circle cx="65.6" cy="342.37" r="1.04" fill="#3b3b3b" fill-opacity="0.82"/>
<circle cx="75.61" cy="329.03" r="1.74" fill="#3b3b3b" fill-opacity="0.94"/>
<circle cx="54.03" cy="363.44" r="2.04" fill="#3b3b3b" fill-opacity="0.90"/>
<circle cx="81.21" cy="337.81" r="2.13" fill="#3b3b3b" fill-opacity="0.81"/>
<circle cx="72.03" cy="299.85" r="1.76" fill="#3b3b3b" fill-opacity="0.94"/>
<circle cx="81.05" cy="304.94" r="2.19" fill="#3a3a3a" fill-opacity="0.83"/>
<circle cx="39.63" cy="369.04" r="1.07" fill="#3a3a3a" fill-opacity="0.92"/>
<circle cx="70.98" cy="344.96" r="2.28" fill="#3a3a3a" fill-opacity="0.84"/>
<circle cx="62.53" cy="337.84" r="1" fill="#3a3a3a" fill-opacity="0.82"/>
<circle cx="40.95" cy="362.2" r="1.75" fill="#3a3a3a" fill-opacity="0.93"/>
<circle cx="54.04" cy="356.76" r="1.78" fill="#393939" fill-opacity="0.84"/>
<circle cx="74.96" cy="319.14" r="1.29" fill="#393939" fill-opacity="0.85"/>
<circle cx="54.19" cy="332.09" r="1.26" fill="#393939" fill-opacity="0.81"/>
<circle cx="65.43" cy="323.35" r="1.26" fill="#393939" fill-opacity="0.76"/>
<circle cx="64" cy="348.84" r="1.99" fill="#393939" fill-opacity="0.85"/>
<circle cx="76.78" cy="332.39" r="1.7" fill="#393939" fill-opacity="0.88"/>
<circle cx="44.13" cy="365.77" r="2.14" fill="#393939" fill-opacity="0.77"/>
<circle cx="63.72" cy="328.65" r="2.38" fill="#393939" fill-opacity="0.88"/>
<circle cx="84" cy="303.76" r="2.12" fill="#393939" fill-opacity="0.78"/>
<circle cx="45.29" cy="341.87" r="1.86" fill="#393939" fill-opacity="0.86"/>
<circle cx="61.47" cy="340.4" r="1.87" fill="#383838" fill-opacity="0.79"/>
<circle cx="60.75" cy="334.9" r="2.3" fill="#383838" fill-opacity="0.75"/>
<circle cx="36.52" cy="352.83" r="1.74" fill="#383838" fill-opacity="0.92"/>
<circle cx="76.35" cy="324.56" r="1.97" fill="#383838" fill-opacity="0.93"/>
<circle cx="92.26" cy="306.49" r="2.01" fill="#383838" fill-opacity="0.88"/>
<circle cx="80.47" cy="334.96" r="1.25" fill="#383838" fill-opacity="0.86"/>
<circle cx="85.54" cy="310.67" r="2.24" fill="#383838" fill-opacity="0.83"/>
<circle cx="48.39" cy="339.08" r="1.25" fill="#373737" fill-opacity="0.77"/>
<circle cx="49.73" cy="358.48" r="1.11" fill="#373737" fill-opacity="0.90"/>
<circle cx="85.94" cy="317.72" r="1.06" fill="#373737" fill-opacity="0.78"/>
<circle cx="56.76" cy="359.13" r="1.6" fill="#373737" fill-opacity="0.77"/>
<circle cx="71.93" cy="326.3" r="2.23" fill="#373737" fill-opacity="0.90"/>
<circle cx="83.11" cy="323.7" r="2.1" fill="#363636" fill-opacity="0.80"/>
<circle cx="41.83" cy="345.31" r="1.94" fill="#363636" fill-opacity="0.86"/>
<circle cx="66.98" cy="342.23" r="2.19" fill="#363636" fill-opacity="0.87"/>
<circle cx="40.35" cy="346.36" r="1.93" fill="#363636" fill-opacity="0.87"/>
<circle cx="54.27" cy="359.8" r="1.64" fill="#363636" fill-opacity="0.91"/>
<circle cx="71.16" cy="321.49" r="1.4" fill="#363636" fill-opacity="0.79"/>
<circle cx="65.5" cy="323.67" r="1.24" fill="#363636" fill-opacity="0.80"/>
<circle cx="77.02" cy="307.32" r="1.15" fill="#363636" fill-opacity="0.93"/>
<circle cx="82.43" cy="309.4" r="2.37" fill="#363636" fill-opacity="0.93"/>
<circle cx="91.29" cy="304.64" r="1.13" fill="#353535" fill-opacity="0.76"/>
<circle cx="44.34" cy="346.54" r="2.22" fill="#353535" fill-opacity="0.85"/>
<circle cx="50.48" cy="332.39" r="1.49" fill="#353535" fill-opacity="0.79"/>
<circle cx="55.74" cy="355.15" r="1.3" fill="#353535" fill-opacity="0.90"/>
<circle cx="52.46" cy="331.25" r="1.36" fill="#353535" fill-opacity="0.85"/>
<circle cx="66.58" cy="325.45" r="1.83" fill="#353535" fill-opacity="0.87"/>
<circle cx="64.04" cy="345.51" r="1.35" fill="#353535" fill-opacity="0.82"/>
<circle cx="79.8" cy="305.22" r="1.97" fill="#353535" fill-opacity="0.84"/>
<circle cx="77.95" cy="332.4" r="1.82" fill="#353535" fill-opacity="0.91"/>
<circle cx="73.64" cy="344.67" r="2.4" fill="#353535" fill-opacity="0.79"/>
<circle cx="74.75" cy="316.07" r="1.88" fill="#343434" fill-opacity="0.94"/>
<circle cx="34.79" cy="357.08" r="1.45" fill="#343434" fill-opacity="0.82"/>
<circle cx="51.98" cy="328.27" r="1.97" fill="#343434" fill-opacity="0.92"/>
<circle cx="47.55" cy="339.08" r="1.67" fill="#343434" fill-opacity="0.90"/>
<circle cx="68.54" cy="332.36" r="2.35" fill="#343434" fill-opacity="0.82"/>
<circle cx="85.09" cy="319.24" r="1.26" fill="#343434" fill-opacity="0.85"/>
<circle cx="76.24" cy="331.48" r="2.1" fill="#343434" fill-opacity="0.90"/>
<circle cx="75.98" cy="329.67" r="2.23" fill="#343434" fill-opacity="0.88"/>
<circle cx="63.51" cy="342.81" r="2.14" fill="#343434" fill-opacity="0.95"/>
<circle cx="56.17" cy="361.11" r="1.62" fill="#343434" fill-opacity="0.90"/>
<circle cx="73.36" cy="322.82" r="2.15" fill="#343434" fill-opacity="0.94"/>
<circle cx="36.24" cy="353.36" r="1.87" fill="#343434" fill-opacity="0.80"/>
<circle cx="65.88" cy="337.78" r="1.11" fill="#333333" fill-opacity="0.79"/>
<circle cx="74.91" cy="314.64" r="2.3" fill="#333333" fill-opacity="0.84"/>
<circle cx="75.7" cy="310" r="2.01" fill="#333333" fill-opacity="0.84"/>
<circle cx="76.01" cy="320.73" r="1.54" fill="#333333" fill-opacity="0.81"/>
<circle cx="86.61" cy="311.82" r="1.89" fill="#333333" fill-opacity="0.89"/>
<circle cx="50.64" cy="356.38" r="1.13" fill="#333333" fill-opacity="0.92"/>
<circle cx="78.75" cy="326.8" r="1.77" fill="#333333" fill-opacity="0.84"/>
<circle cx="39.76" cy="348.89" r="2.35" fill="#333333" fill-opacity="0.85"/>
<circle cx="56.86" cy="330.98" r="1.72" fill="#333333" fill-opacity="0.90"/>
<circle cx="44.6" cy="362.29" r="1.88" fill="#333333" fill-opacity="0.85"/>
<circle cx="39.89" cy="368.98" r="2.01" fill="#333333" fill-opacity="0.82"/>
<circle cx="68.18" cy="321.62" r="1.87" fill="#323232" fill-opacity="0.90"/>
<circle cx="49.26" cy="349.98" r="1.28" fill="#323232" fill-opacity="0.82"/>
<circle cx="82.4" cy="307.17" r="1.59" fill="#323232" fill-opacity="0.83"/>
<circle cx="67.49" cy="327" r="2.22" fill="#323232" fill-opacity="0.78"/>
<circle cx="59.1" cy="338.42" r="1.53" fill="#323232" fill-opacity="0.79"/>
<circle cx="58.73" cy="330.82" r="2.2" fill="#323232" fill-opacity="0.81"/>
<circle cx="74.58" cy="315.68" r="1.85" fill="#323232" fill-opacity="0.89"/>
<circle cx="63.64" cy="324.46" r="1.53" fill="#313131" fill-opacity="0.78"/>
<circle cx="83.82" cy="305.73" r="1.94" fill="#313131" fill-opacity="0.93"/>
<circle cx="86.06" cy="310.01" r="1.42" fill="#313131" fill-opacity="0.87"/>
<circle cx="44.93" cy="363.76" r="2.09" fill="#313131" fill-opacity="0.93"/>
<circle cx="57.67" cy="335.02" r="1.08" fill="#313131" fill-opacity="0.95"/>
<circle cx="73.99" cy="331.47" r="1.54" fill="#303030" fill-opacity="0.86"/>
<circle cx="52.92" cy="325.24" r="1.06" fill="#303030" fill-opacity="0.88"/>
<circle cx="77.17" cy="301.9" r="2.23" fill="#303030" fill-opacity="0.78"/>
<circle cx="41.53" cy="346.46" r="1.77" fill="#303030" fill-opacity="0.78"/>
<circle cx="43.96" cy="346.01" r="1.06" fill="#303030" fill-opacity="0.80"/>
<circle cx="61.63" cy="328.2" r="1.52" fill="#303030" fill-opacity="0.94"/>
<circle cx="76.98" cy="319.63" r="1.4" fill="#303030" fill-opacity="0.84"/>
<circle cx="34.57" cy="369.17" r="1.87" fill="#303030" fill-opacity="0.86"/>
<circle cx="87.34" cy="304.33" r="1.08" fill="#2f2f2f" fill-opacity="0.95"/>
<circle cx="55.31" cy="323.31" r="2.36" fill="#2f2f2f" fill-opacity="0.82"/>
<circle cx="52.8" cy="331.22" r="1.72" fill="#2f2f2f" fill-opacity="0.89"/>
<circle cx="80.24" cy="306.52" r="2.26" fill="#2f2f2f" fill-opacity="0.91"/>
<circle cx="35.73" cy="357.85" r="1.29" fill="#2e2e2e" fill-opacity="0.95"/>
<circle cx="53.71" cy="357.81" r="1.49" fill="#2e2e2e" fill-opacity="0.89"/>
<circle cx="50.13" cy="352.76" r="1.72" fill="#2e2e2e" fill-opacity="0.79"/>
<circle cx="66.66" cy="338.03" r="1.89" fill="#2e2e2e" fill-opacity="0.83"/>
<circle cx="83.6" cy="311.19" r="1.19" fill="#2d2d2d" fill-opacity="0.84"/>
<circle cx="65.75" cy="325.22" r="1.69" fill="#2d2d2d" fill-opacity="0.81"/>
<circle cx="84.58" cy="304.94" r="1.16" fill="#2d2d2d" fill-opacity="0.91"/>
<circle cx="72.64" cy="332.94" r="1.74" fill="#2b2b2b" fill-opacity="0.83"/>
<circle cx="41.07" cy="349.61" r="2.05" fill="#2b2b2b" fill-opacity="0.94"/>
<circle cx="67.37" cy="338.95" r="1.58" fill="#2b2b2b" fill-opacity="0.77"/>
<circle cx="85.8" cy="305.84" r="1.55" fill="#2b2b2b" fill-opacity="0.81"/>
<circle cx="61.15" cy="330.76" r="1.29" fill="#2b2b2b" fill-opacity="0.80"/>
<circle cx="79.57" cy="340.45" r="1.89" fill="#2a2a2a" fill-opacity="0.94"/>
<circle cx="50.53" cy="358.06" r="1.74" fill="#2a2a2a" fill-opacity="0.84"/>
<circle cx="53.61" cy="323.49" r="2.35" fill="#2a2a2a" fill-opacity="0.83"/>
<circle cx="37.12" cy="354.34" r="1.67" fill="#2a2a2a" fill-opacity="0.79"/>
<circle cx="80.58" cy="338.92" r="1.81" fill="#2a2a2a" fill-opacity="0.77"/>
<circle cx="72.03" cy="344.43" r="2.16" fill="#292929" fill-opacity="0.90"/>
<circle cx="53.67" cy="359.56" r="2.16" fill="#292929" fill-opacity="0.79"/>
<circle cx="54.81" cy="324.34" r="2.16" fill="#292929" fill-opacity="0.77"/>
<circle cx="77.15" cy="301.37" r="1.22" fill="#292929" fill-opacity="0.87"/>
<circle cx="85.04" cy="311.16" r="2.09" fill="#292929" fill-opacity="0.84"/>
<circle cx="48.44" cy="358.68" r="1.13" fill="#282828" fill-opacity="0.94"/>
<circle cx="34.78" cy="366.7" r="1.01" fill="#282828" fill-opacity="0.84"/>
<circle cx="67.07" cy="343.93" r="2.34" fill="#282828" fill-opacity="0.78"/>
<circle cx="83.57" cy="322.91" r="1.49" fill="#282828" fill-opacity="0.81"/>
<circle cx="40.96" cy="362.55" r="1.38" fill="#282828" fill-opacity="0.92"/>
<circle cx="77.08" cy="322.27" r="1.04" fill="#282828" fill-opacity="0.92"/>
<circle cx="60.61" cy="323.81" r="2.1" fill="#272727" fill-opacity="0.85"/>
<circle cx="82.37" cy="308.25" r="1.47" fill="#272727" fill-opacity="0.79"/>
<circle cx="78.27" cy="323.48" r="2" fill="#272727" fill-opacity="0.84"/>
<circle cx="70.23" cy="331.71" r="1.18" fill="#272727" fill-opacity="0.94"/>
<circle cx="53.94" cy="329.22" r="2.26" fill="#262626" fill-opacity="0.87"/>
<circle cx="65.67" cy="337.42" r="1.14" fill="#262626" fill-opacity="0.92"/>
<circle cx="45.53" cy="352.07" r="1.43" fill="#262626" fill-opacity="0.85"/>
<circle cx="85.11" cy="310.65" r="2.11" fill="#252525" fill-opacity="0.86"/>
<circle cx="35.4" cy="362.44" r="1.18" fill="#252525" fill-opacity="0.88"/>
<circle cx="41.4" cy="363.25" r="1.9" fill="#252525" fill-opacity="0.84"/>
<circle cx="38.39" cy="359.36" r="1.75" fill="#252525" fill-opacity="0.83"/>
<circle cx="86.46" cy="304.68" r="2.22" fill="#252525" fill-opacity="0.95"/>
<circle cx="63.55" cy="327.79" r="1.1" fill="#252525" fill-opacity="0.88"/>
<circle cx="47.38" cy="350.11" r="2.37" fill="#252525" fill-opacity="0.78"/>
<circle cx="67.77" cy="339.63" r="1.12" fill="#252525" fill-opacity="0.82"/>
<circle cx="50.39" cy="360.17" r="1.64" fill="#242424" fill-opacity="0.85"/>
<circle cx="85.84" cy="304.84" r="1.52" fill="#242424" fill-opacity="0.89"/>
<circle cx="56.73" cy="329.67" r="1.52" fill="#242424" fill-opacity="0.84"/>
<circle cx="69.44" cy="332.63" r="1.02" fill="#242424" fill-opacity="0.83"/>
<circle cx="41.68" cy="358.31" r="1.68" fill="#242424" fill-opacity="0.76"/>
<circle cx="45.48" cy="353.24" r="1.67" fill="#242424" fill-opacity="0.76"/>
<circle cx="38.48" cy="353.04" r="1.37" fill="#242424" fill-opacity="0.85"/>
<circle cx="44.04" cy="362.63" r="1.77" fill="#242424" fill-opacity="0.94"/>
<circle cx="52.84" cy="331.59" r="1.59" fill="#232323" fill-opacity="0.90"/>
<circle cx="46.06" cy="353.07" r="2.14" fill="#232323" fill-opacity="0.91"/>
<circle cx="44.37" cy="352.72" r="1.74" fill="#232323" fill-opacity="0.93"/>
<circle cx="86.94" cy="305.73" r="2.08" fill="#232323" fill-opacity="0.89"/>
<circle cx="54.3" cy="327.13" r="1.7" fill="#232323" fill-opacity="0.93"/>
<circle cx="86.88" cy="306.41" r="1.28" fill="#222222" fill-opacity="0.87"/>
<circle cx="38.04" cy="365.92" r="1.48" fill="#222222" fill-opacity="0.87"/>
<circle cx="38.94" cy="358.71" r="1.41" fill="#222222" fill-opacity="0.77"/>
<circle cx="48.04" cy="350.38" r="2.32" fill="#212121" fill-opacity="0.75"/>
<circle cx="53.21" cy="364.71" r="1.56" fill="#212121" fill-opacity="0.94"/>
<circle cx="89.6" cy="309.47" r="2.13" fill="#212121" fill-opacity="0.76"/>
<circle cx="52.44" cy="362.33" r="1.83" fill="#212121" fill-opacity="0.84"/>
<circle cx="43.4" cy="350.07" r="1.79" fill="#202020" fill-opacity="0.82"/>
<circle cx="56.73" cy="330.64" r="2.08" fill="#202020" fill-opacity="0.77"/>
<circle cx="75.89" cy="335.98" r="1.72" fill="#202020" fill-opacity="0.95"/>
<circle cx="77.73" cy="332.15" r="1.55" fill="#202020" fill-opacity="0.81"/>
<circle cx="69.59" cy="342.43" r="1.25" fill="#202020" fill-opacity="0.78"/>
<circle cx="79.35" cy="334.02" r="2.34" fill="#1f1f1f" fill-opacity="0.89"/>
<circle cx="45.33" cy="360.99" r="2.14" fill="#1f1f1f" fill-opacity="0.79"/>
<circle cx="40.91" cy="351.5" r="1.88" fill="#1f1f1f" fill-opacity="0.81"/>
<circle cx="78.97" cy="322.27" r="1.19" fill="#1f1f1f" fill-opacity="0.82"/>
<circle cx="79.6" cy="335.51" r="2.34" fill="#1f1f1f" fill-opacity="0.86"/>
<circle cx="47.69" cy="352.81" r="1.91" fill="#1f1f1f" fill-opacity="0.87"/>
<circle cx="47.58" cy="349.33" r="2.16" fill="#1f1f1f" fill-opacity="0.80"/>
<circle cx="81.18" cy="320.66" r="1.04" fill="#1f1f1f" fill-opacity="0.92"/>
<circle cx="72.74" cy="342.23" r="1.79" fill="#1f1f1f" fill-opacity="0.92"/>
<circle cx="43.8" cy="355.59" r="1.74" fill="#1e1e1e" fill-opacity="0.89"/>
<circle cx="52.42" cy="327.14" r="2.34" fill="#1e1e1e" fill-opacity="0.80"/>
<circle cx="35.62" cy="363.5" r="1.69" fill="#1e1e1e" fill-opacity="0.83"/>
<circle cx="41.12" cy="361.05" r="1.1" fill="#1d1d1d" fill-opacity="0.82"/>
<circle cx="72.37" cy="336.54" r="1.97" fill="#1d1d1d" fill-opacity="0.81"/>
<circle cx="54.18" cy="329.91" r="1.98" fill="#1d1d1d" fill-opacity="0.83"/>
<circle cx="42.81" cy="347.45" r="2.29" fill="#1d1d1d" fill-opacity="0.81"/>
<circle cx="57.77" cy="324.63" r="1.13" fill="#1d1d1d" fill-opacity="0.88"/>
<circle cx="88.65" cy="309.66" r="1.51" fill="#1c1c1c" fill-opacity="0.91"/>
<circle cx="58.92" cy="327.13" r="2.13" fill="#1c1c1c" fill-opacity="0.93"/>
<circle cx="71.85" cy="336.31" r="1.03" fill="#1c1c1c" fill-opacity="0.93"/>
<circle cx="43.12" cy="355.63" r="2.01" fill="#1c1c1c" fill-opacity="0.84"/>
<circle cx="82.27" cy="320.89" r="1.58" fill="#1c1c1c" fill-opacity="0.82"/>
<circle cx="45.44" cy="362.71" r="1.48" fill="#1c1c1c" fill-opacity="0.78"/>
<circle cx="72.8" cy="341.78" r="1.67" fill="#1b1b1b" fill-opacity="0.77"/>
<circle cx="61.43" cy="326.16" r="1.17" fill="#1b1b1b" fill-opacity="0.93"/>
<circle cx="71.14" cy="333.41" r="2.26" fill="#1b1b1b" fill-opacity="0.76"/>
<circle cx="53.53" cy="328.59" r="1.07" fill="#1b1b1b" fill-opacity="0.84"/>
<circle cx="42.79" cy="346.27" r="1.29" fill="#1b1b1b" fill-opacity="0.87"/>
<circle cx="39.11" cy="359.57" r="1.45" fill="#1a1a1a" fill-opacity="0.78"/>
<circle cx="57.2" cy="327.65" r="1.86" fill="#1a1a1a" fill-opacity="0.92"/>
<circle cx="51.39" cy="361.05" r="1.74" fill="#1a1a1a" fill-opacity="0.86"/>
<circle cx="36.38" cy="365.76" r="2.3" fill="#1a1a1a" fill-opacity="0.84"/>
<circle cx="51.77" cy="363.92" r="1.73" fill="#191919" fill-opacity="0.81"/>
<circle cx="50.8" cy="364.41" r="1.54" fill="#191919" fill-opacity="0.94"/>
<circle cx="76.03" cy="343.66" r="1.14" fill="#191919" fill-opacity="0.81"/>
<circle cx="85.58" cy="306.87" r="1.35" fill="#181818" fill-opacity="0.82"/>
<circle cx="71.34" cy="341.34" r="2" fill="#181818" fill-opacity="0.84"/>
<circle cx="90.37" cy="308.79" r="1.31" fill="#181818" fill-opacity="0.77"/>
<circle cx="87.25" cy="305.83" r="1.82" fill="#181818" fill-opacity="0.89"/>
<circle cx="78.43" cy="336.77" r="1.13" fill="#171717" fill-opacity="0.89"/>
<circle cx="48.87" cy="355.95" r="1.18" fill="#171717" fill-opacity="0.93"/>
<circle cx="80.02" cy="340.46" r="2.21" fill="#171717" fill-opacity="0.77"/>
<circle cx="48.89" cy="363.46" r="2.36" fill="#171717" fill-opacity="0.94"/>
<circle cx="60.33" cy="324.02" r="1.16" fill="#161616" fill-opacity="0.92"/>
<circle cx="43.86" cy="348.57" r="1.98" fill="#161616" fill-opacity="0.92"/>
<circle cx="39.95" cy="352.77" r="1.09" fill="#151515" fill-opacity="0.75"/>
<circle cx="60.26" cy="323.56" r="1.65" fill="#151515" fill-opacity="0.86"/>
<circle cx="60.52" cy="326.92" r="1.52" fill="#141414" fill-opacity="0.85"/>
<circle cx="43.83" cy="348.91" r="2.07" fill="#131313" fill-opacity="0.81"/>
<circle cx="70.76" cy="338.43" r="1.87" fill="#131313" fill-opacity="0.76"/>
<circle cx="59.58" cy="329.99" r="1.19" fill="#131313" fill-opacity="0.87"/>
<circle cx="54.96" cy="324.98" r="1.83" fill="#131313" fill-opacity="0.92"/>
<circle cx="45.68" cy="354.14" r="1.07" fill="#131313" fill-opacity="0.84"/>
<circle cx="42.03" cy="354.83" r="1.05" fill="#121212" fill-opacity="0.93"/>
<circle cx="68.71" cy="339.46" r="1.93" fill="#121212" fill-opacity="0.82"/>
<circle cx="49.53" cy="363.88" r="2.08" fill="#121212" fill-opacity="0.78"/>
<circle cx="58.21" cy="328.49" r="1.85" fill="#121212" fill-opacity="0.85"/>
<circle cx="48.89" cy="361.9" r="2.35" fill="#111111" fill-opacity="0.90"/>
<circle cx="61.33" cy="327.58" r="1.14" fill="#111111" fill-opacity="0.80"/>
<circle cx="37.36" cy="357.96" r="1.84" fill="#101010" fill-opacity="0.87"/>
<circle cx="44.14" cy="354.58" r="1.02" fill="#101010" fill-opacity="0.81"/>
<circle cx="71.99" cy="337.88" r="1.72" fill="#101010" fill-opacity="0.90"/>
<circle cx="45.54" cy="353.19" r="2.12" fill="#101010" fill-opacity="0.79"/>
<circle cx="36.33" cy="356.6" r="2.09" fill="#0f0f0f" fill-opacity="0.91"/>
<circle cx="46.57" cy="357.74" r="1.73" fill="#0f0f0f" fill-opacity="0.88"/>
<circle cx="39.33" cy="356.22" r="1.16" fill="#0e0e0e" fill-opacity="0.78"/>
<circle cx="48.07" cy="356.77" r="1.63" fill="#0e0e0e" fill-opacity="0.85"/>
<circle cx="85.65" cy="306.24" r="1.97" fill="#0e0e0e" fill-opacity="0.80"/>
<circle cx="89.13" cy="307.21" r="2.13" fill="#0d0d0d" fill-opacity="0.90"/>
<circle cx="49.37" cy="363.01" r="2.2" fill="#0d0d0d" fill-opacity="0.87"/>
<circle cx="60.59" cy="326.38" r="1.76" fill="#0d0d0d" fill-opacity="0.81"/>
<circle cx="41.56" cy="349.72" r="1.32" fill="#0b0b0b" fill-opacity="0.82"/>
<circle cx="77.69" cy="340.12" r="1.48" fill="#0a0a0a" fill-opacity="0.88"/>
<circle cx="78.28" cy="339.58" r="2.16" fill="#090909" fill-opacity="0.79"/>
<circle cx="69.07" cy="339.98" r="1.39" fill="#090909" fill-opacity="0.87"/>
<circle cx="51.2" cy="362.84" r="1.7" fill="#080808" fill-opacity="0.93"/>
<circle cx="42.59" cy="350.47" r="1.88" fill="#080808" fill-opacity="0.90"/>
<circle cx="41.26" cy="356.65" r="1.15" fill="#080808" fill-opacity="0.78"/>
<circle cx="76.98" cy="341.86" r="2" fill="#060606" fill-opacity="0.92"/>
<circle cx="47.53" cy="356.43" r="1.77" fill="#060606" fill-opacity="0.78"/>
<circle cx="47.48" cy="356.99" r="1.84" fill="#050505" fill-opacity="0.78"/>
<circle cx="47.14" cy="354.85" r="2.27" fill="#040404" fill-opacity="0.90"/>
<circle cx="73.57" cy="336.24" r="1.33" fill="#040404" fill-opacity="0.78"/>
<circle cx="39.75" cy="352.53" r="1.09" fill="#030303" fill-opacity="0.95"/>
<circle cx="38.38" cy="354.64" r="2.25" fill="#010101" fill-opacity="0.78"/>
<circle cx="44.13" cy="358.8" r="1.85" fill="#000000" fill-opacity="0.87"/>
</g><path d="M102 400.2 L108.2 395 L108.2 400.2 Z" fill="#111"/><path d="M105 294.6 L108.2 294.6 L108.2 298 Z" fill="#222"/></g></g>
<text x="5.6" y="308.6" font-size="10" fill="#fafafa">CdSe-p-A</text><rect x="3.9" y="392.4" width="17.8" height="4.4" fill="#fff"/>
<g clip-path="url(#cp1)"><g filter="url(#tex)"><rect x="111.9" y="294.5" width="108.1" height="105.7" fill="#b8b8b8"/><g filter="url(#b08)"><path d="M111 331.5 L132.8 350 L150.4 402 L111 402 Z" fill="#cacaca" stroke="#a0a0a0" stroke-width="0.7"/><path d="M162.7 293 L181.5 293 L185 336 L192.5 402 L182 402 L166.2 327 Z" fill="#a6a6a6" /><path d="M181.5 293 L205 293 L203 340 L207 370 L204 402 L192.5 402 L185 336 Z" fill="#d6d6d6" stroke="#b0b0b0" stroke-width="0.6"/><path d="M205 293 L221 293 L221 402 L204 402 L207 370 L203 340 Z" fill="#d9d9d9" stroke="#b8b8b8" stroke-width="0.6"/></g><g filter="url(#b05)"><path d="M144.2 293 L162.7 293 L166.2 327 L182 402 L168 402 L155.6 335.9 Z" fill="#7a7a7a" /><path d="M144.5 293 L156 293 L163 335 L176 402 L168.5 402 L156 336 Z" fill="#6e6e6e" /></g><g filter="url(#b05)">
<circle cx="138.34" cy="342.04" r="1.98" fill="#989898" fill-opacity="0.87"/>
<circle cx="151.31" cy="369.33" r="1.78" fill="#979797" fill-opacity="0.77"/>
<circle cx="151.76" cy="342.92" r="2.33" fill="#919191" fill-opacity="0.83"/>
<circle cx="167.28" cy="373.49" r="1.27" fill="#909090" fill-opacity="0.85"/>
<circle cx="155.36" cy="368.88" r="1.74" fill="#909090" fill-opacity="0.88"/>
<circle cx="175.07" cy="376.08" r="1.65" fill="#8f8f8f" fill-opacity="0.80"/>
<circle cx="143.07" cy="340.8" r="1.58" fill="#8f8f8f" fill-opacity="0.88"/>
<circle cx="132.41" cy="347.84" r="1.5" fill="#8e8e8e" fill-opacity="0.78"/>
<circle cx="131.78" cy="357.1" r="2.17" fill="#8d8d8d" fill-opacity="0.94"/>
<circle cx="151.65" cy="341.62" r="1.33" fill="#8c8c8c" fill-opacity="0.91"/>
<circle cx="157.39" cy="370.61" r="1.55" fill="#8b8b8b" fill-opacity="0.92"/>
<circle cx="160.51" cy="350.77" r="1.18" fill="#8b8b8b" fill-opacity="0.89"/>
<circle cx="139.22" cy="343.12" r="1.48" fill="#8b8b8b" fill-opacity="0.93"/>
<circle cx="137.91" cy="343.06" r="1.46" fill="#8a8a8a" fill-opacity="0.87"/>
<circle cx="149.37" cy="341.2" r="2.2" fill="#8a8a8a" fill-opacity="0.83"/>
<circle cx="132.54" cy="354.96" r="2.29" fill="#888888" fill-opacity="0.84"/>
<circle cx="177.33" cy="374.29" r="1.82" fill="#888888" fill-opacity="0.91"/>
<circle cx="130.67" cy="352.66" r="1.14" fill="#878787" fill-opacity="0.86"/>
<circle cx="170.46" cy="360.46" r="2.38" fill="#878787" fill-opacity="0.87"/>
<circle cx="168.15" cy="373.51" r="1.94" fill="#878787" fill-opacity="0.78"/>
<circle cx="132.03" cy="352.22" r="1.21" fill="#878787" fill-opacity="0.93"/>
<circle cx="156.82" cy="345.33" r="1.68" fill="#868686" fill-opacity="0.90"/>
<circle cx="130.99" cy="350.65" r="2.38" fill="#848484" fill-opacity="0.91"/>
<circle cx="173.28" cy="376.75" r="2.01" fill="#838383" fill-opacity="0.89"/>
<circle cx="132.45" cy="366.7" r="1.09" fill="#828282" fill-opacity="0.94"/>
<circle cx="175.29" cy="376.2" r="1.05" fill="#828282" fill-opacity="0.89"/>
<circle cx="164.62" cy="371.17" r="1.4" fill="#818181" fill-opacity="0.75"/>
<circle cx="175.9" cy="368.26" r="1.78" fill="#818181" fill-opacity="0.92"/>
<circle cx="130.85" cy="358.42" r="1.56" fill="#818181" fill-opacity="0.83"/>
<circle cx="139.45" cy="370.12" r="1.72" fill="#808080" fill-opacity="0.91"/>
<circle cx="156.03" cy="347.58" r="1.04" fill="#808080" fill-opacity="0.86"/>
<circle cx="132.42" cy="357.58" r="1.05" fill="#808080" fill-opacity="0.92"/>
<circle cx="171.39" cy="375.35" r="1.99" fill="#7f7f7f" fill-opacity="0.88"/>
<circle cx="175.27" cy="377.9" r="1.85" fill="#7f7f7f" fill-opacity="0.85"/>
<circle cx="137.75" cy="370.62" r="1" fill="#7f7f7f" fill-opacity="0.77"/>
<circle cx="176.54" cy="375.18" r="2.06" fill="#7e7e7e" fill-opacity="0.90"/>
<circle cx="144.46" cy="341.57" r="1.82" fill="#7e7e7e" fill-opacity="0.87"/>
<circle cx="161.59" cy="351.88" r="2.03" fill="#7d7d7d" fill-opacity="0.80"/>
<circle cx="162.75" cy="370.7" r="2.02" fill="#7d7d7d" fill-opacity="0.89"/>
<circle cx="132.43" cy="352.45" r="1.53" fill="#7d7d7d" fill-opacity="0.84"/>
<circle cx="154.37" cy="342.8" r="1.81" fill="#7c7c7c" fill-opacity="0.92"/>
<circle cx="167.05" cy="371.38" r="2.36" fill="#7c7c7c" fill-opacity="0.92"/>
<circle cx="176.47" cy="374.44" r="2.35" fill="#7c7c7c" fill-opacity="0.76"/>
<circle cx="175.08" cy="375.21" r="1.48" fill="#7c7c7c" fill-opacity="0.82"/>
<circle cx="130.82" cy="358.6" r="1.24" fill="#7b7b7b" fill-opacity="0.89"/>
<circle cx="136.44" cy="346.42" r="2.35" fill="#7b7b7b" fill-opacity="0.83"/>
<circle cx="161.16" cy="368.18" r="1.18" fill="#7b7b7b" fill-opacity="0.91"/>
<circle cx="137.24" cy="368.51" r="1.74" fill="#7a7a7a" fill-opacity="0.81"/>
<circle cx="143.88" cy="342.17" r="1.29" fill="#7a7a7a" fill-opacity="0.82"/>
<circle cx="175.63" cy="367.89" r="1.8" fill="#7a7a7a" fill-opacity="0.82"/>
<circle cx="141.32" cy="367.65" r="1.71" fill="#797979" fill-opacity="0.77"/>
<circle cx="159.6" cy="350.88" r="2.22" fill="#797979" fill-opacity="0.77"/>
<circle cx="165.81" cy="370.94" r="1.65" fill="#787878" fill-opacity="0.75"/>
<circle cx="164.38" cy="368.49" r="1.42" fill="#787878" fill-opacity="0.85"/>
<circle cx="162.47" cy="367.4" r="1.91" fill="#787878" fill-opacity="0.88"/>
<circle cx="164.64" cy="371.11" r="1.09" fill="#787878" fill-opacity="0.79"/>
<circle cx="160.79" cy="350.38" r="1.87" fill="#787878" fill-opacity="0.83"/>
<circle cx="139.53" cy="344.33" r="2.25" fill="#787878" fill-opacity="0.87"/>
<circle cx="167.32" cy="373.44" r="1.75" fill="#777777" fill-opacity="0.89"/>
<circle cx="132.64" cy="354.06" r="2.15" fill="#777777" fill-opacity="0.91"/>
<circle cx="142.95" cy="367.08" r="2.34" fill="#767676" fill-opacity="0.84"/>
<circle cx="148.85" cy="342.82" r="1.03" fill="#757575" fill-opacity="0.81"/>
<circle cx="156.25" cy="368.4" r="2.31" fill="#757575" fill-opacity="0.77"/>
<circle cx="151.69" cy="344.24" r="2.39" fill="#757575" fill-opacity="0.78"/>
<circle cx="131.77" cy="360.05" r="1.28" fill="#757575" fill-opacity="0.89"/>
<circle cx="141.69" cy="343.39" r="1.95" fill="#747474" fill-opacity="0.89"/>
<circle cx="172.03" cy="364.63" r="1.07" fill="#747474" fill-opacity="0.76"/>
<circle cx="133.51" cy="348.32" r="1.99" fill="#747474" fill-opacity="0.78"/>
<circle cx="163.16" cy="367.08" r="1.91" fill="#747474" fill-opacity="0.80"/>
<circle cx="139.94" cy="343.65" r="1.98" fill="#747474" fill-opacity="0.79"/>
<circle cx="133.76" cy="352.13" r="1" fill="#747474" fill-opacity="0.88"/>
<circle cx="166.52" cy="369.85" r="2.07" fill="#747474" fill-opacity="0.82"/>
<circle cx="161.39" cy="368.39" r="2.36" fill="#737373" fill-opacity="0.94"/>
<circle cx="132.65" cy="349.32" r="1.43" fill="#727272" fill-opacity="0.76"/>
<circle cx="155.36" cy="368.8" r="1.73" fill="#727272" fill-opacity="0.87"/>
<circle cx="175.8" cy="374.25" r="1.97" fill="#717171" fill-opacity="0.85"/>
<circle cx="175.22" cy="375.44" r="2.3" fill="#707070" fill-opacity="0.86"/>
<circle cx="145.99" cy="366.63" r="1.53" fill="#707070" fill-opacity="0.76"/>
<circle cx="132.42" cy="358.05" r="1.16" fill="#707070" fill-opacity="0.83"/>
<circle cx="132.73" cy="358.83" r="2.24" fill="#6f6f6f" fill-opacity="0.80"/>
<circle cx="159.51" cy="350.57" r="1.96" fill="#6f6f6f" fill-opacity="0.94"/>
<circle cx="175.98" cy="374.66" r="1.7" fill="#6f6f6f" fill-opacity="0.79"/>
<circle cx="147.86" cy="367.04" r="1.1" fill="#6f6f6f" fill-opacity="0.81"/>
<circle cx="146.07" cy="342.41" r="1.16" fill="#6e6e6e" fill-opacity="0.87"/>
<circle cx="148.99" cy="342.44" r="2.17" fill="#6e6e6e" fill-opacity="0.77"/>
<circle cx="136.88" cy="345.95" r="1.42" fill="#6e6e6e" fill-opacity="0.75"/>
<circle cx="174.45" cy="367.68" r="2.18" fill="#6e6e6e" fill-opacity="0.92"/>
<circle cx="132.5" cy="360.58" r="1.17" fill="#6e6e6e" fill-opacity="0.93"/>
<circle cx="176.6" cy="370.15" r="2.05" fill="#6d6d6d" fill-opacity="0.92"/>
<circle cx="134.09" cy="365.86" r="1.01" fill="#6d6d6d" fill-opacity="0.90"/>
<circle cx="154.79" cy="345.87" r="1.94" fill="#6d6d6d" fill-opacity="0.80"/>
<circle cx="135.63" cy="348.82" r="2.11" fill="#6d6d6d" fill-opacity="0.88"/>
<circle cx="142.37" cy="366.98" r="1.1" fill="#6c6c6c" fill-opacity="0.84"/>
<circle cx="145.89" cy="342.41" r="1.47" fill="#6b6b6b" fill-opacity="0.79"/>
<circle cx="145.44" cy="365.29" r="1.51" fill="#6b6b6b" fill-opacity="0.77"/>
<circle cx="143.26" cy="366.35" r="1.81" fill="#6a6a6a" fill-opacity="0.89"/>
<circle cx="135.88" cy="347.03" r="2.21" fill="#6a6a6a" fill-opacity="0.79"/>
<circle cx="155.92" cy="347.08" r="1.33" fill="#696969" fill-opacity="0.81"/>
<circle cx="140.22" cy="367.23" r="1.16" fill="#696969" fill-opacity="0.87"/>
<circle cx="166.62" cy="371.31" r="2.29" fill="#696969" fill-opacity="0.94"/>
<circle cx="132.76" cy="361.96" r="1.87" fill="#686868" fill-opacity="0.86"/>
<circle cx="136.2" cy="367.44" r="1.39" fill="#686868" fill-opacity="0.77"/>
<circle cx="164.33" cy="356.17" r="1.13" fill="#686868" fill-opacity="0.86"/>
<circle cx="164.56" cy="355.67" r="1.9" fill="#676767" fill-opacity="0.76"/>
<circle cx="149.36" cy="344.6" r="2.13" fill="#666666" fill-opacity="0.77"/>
<circle cx="152.52" cy="366.41" r="1.07" fill="#666666" fill-opacity="0.87"/>
<circle cx="142.89" cy="343.2" r="1.33" fill="#666666" fill-opacity="0.90"/>
<circle cx="145.26" cy="343.05" r="1.12" fill="#666666" fill-opacity="0.83"/>
<circle cx="155.9" cy="347.97" r="1.06" fill="#666666" fill-opacity="0.78"/>
<circle cx="162.78" cy="368" r="2.09" fill="#666666" fill-opacity="0.87"/>
<circle cx="173.56" cy="367.43" r="1.8" fill="#666666" fill-opacity="0.80"/>
<circle cx="160.96" cy="353.99" r="1.05" fill="#666666" fill-opacity="0.85"/>
<circle cx="133.35" cy="364.36" r="2.18" fill="#656565" fill-opacity="0.79"/>
<circle cx="137.07" cy="367.89" r="1.72" fill="#656565" fill-opacity="0.82"/>
<circle cx="148.43" cy="364.93" r="2.27" fill="#656565" fill-opacity="0.91"/>
<circle cx="139.66" cy="345.01" r="1.32" fill="#656565" fill-opacity="0.84"/>
<circle cx="157.71" cy="349.57" r="1.6" fill="#646464" fill-opacity="0.88"/>
<circle cx="159.4" cy="352.18" r="1.28" fill="#646464" fill-opacity="0.91"/>
<circle cx="157.46" cy="367.67" r="1.81" fill="#646464" fill-opacity="0.81"/>
<circle cx="156.6" cy="348.65" r="1.46" fill="#646464" fill-opacity="0.84"/>
<circle cx="174.38" cy="368.84" r="1.75" fill="#636363" fill-opacity="0.75"/>
<circle cx="141.45" cy="365.97" r="1.01" fill="#626262" fill-opacity="0.91"/>
<circle cx="175.81" cy="372.99" r="1.88" fill="#626262" fill-opacity="0.88"/>
<circle cx="158.56" cy="366.69" r="1.36" fill="#626262" fill-opacity="0.94"/>
<circle cx="133.39" cy="363.16" r="1.74" fill="#626262" fill-opacity="0.82"/>
<circle cx="141.63" cy="344.13" r="1.64" fill="#626262" fill-opacity="0.84"/>
<circle cx="170.42" cy="364.81" r="1.39" fill="#616161" fill-opacity="0.80"/>
<circle cx="153.58" cy="346.53" r="2.18" fill="#606060" fill-opacity="0.76"/>
<circle cx="148.23" cy="365.24" r="2.19" fill="#5f5f5f" fill-opacity="0.94"/>
<circle cx="174.92" cy="368.5" r="2.01" fill="#5e5e5e" fill-opacity="0.84"/>
<circle cx="161.83" cy="353.61" r="1.14" fill="#5e5e5e" fill-opacity="0.86"/>
<circle cx="172.86" cy="374.69" r="2.03" fill="#5e5e5e" fill-opacity="0.95"/>
<circle cx="131.94" cy="364.05" r="1.53" fill="#5e5e5e" fill-opacity="0.88"/>
<circle cx="165.19" cy="368.33" r="1.89" fill="#5d5d5d" fill-opacity="0.94"/>
<circle cx="151.67" cy="365.32" r="1.08" fill="#5b5b5b" fill-opacity="0.94"/>
<circle cx="175.16" cy="374.24" r="2.27" fill="#5b5b5b" fill-opacity="0.90"/>
<circle cx="175.97" cy="370.25" r="2.19" fill="#5b5b5b" fill-opacity="0.94"/>
<circle cx="158.74" cy="351.52" r="1.86" fill="#5b5b5b" fill-opacity="0.95"/>
<circle cx="158.47" cy="366.41" r="1.65" fill="#5a5a5a" fill-opacity="0.87"/>
<circle cx="163.55" cy="366.29" r="1.07" fill="#5a5a5a" fill-opacity="0.91"/>
<circle cx="158.65" cy="353.22" r="1.08" fill="#5a5a5a" fill-opacity="0.95"/>
<circle cx="166.08" cy="369.67" r="2.1" fill="#595959" fill-opacity="0.93"/>
<circle cx="132.4" cy="363.66" r="1.96" fill="#595959" fill-opacity="0.78"/>
<circle cx="153.29" cy="367.26" r="2.09" fill="#595959" fill-opacity="0.79"/>
<circle cx="147.6" cy="342.75" r="1.49" fill="#585858" fill-opacity="0.83"/>
<circle cx="133.84" cy="353.26" r="2.06" fill="#585858" fill-opacity="0.89"/>
<circle cx="162.57" cy="365.44" r="2.38" fill="#575757" fill-opacity="0.95"/>
<circle cx="136.18" cy="348.52" r="1.27" fill="#575757" fill-opacity="0.87"/>
<circle cx="164.33" cy="357.29" r="2.05" fill="#575757" fill-opacity="0.92"/>
<circle cx="134.04" cy="350.63" r="1.33" fill="#575757" fill-opacity="0.89"/>
<circle cx="156.41" cy="362.05" r="2.04" fill="#575757" fill-opacity="0.84"/>
<circle cx="166.11" cy="356.12" r="2.32" fill="#575757" fill-opacity="0.90"/>
<circle cx="139.22" cy="345.34" r="1.7" fill="#565656" fill-opacity="0.92"/>
<circle cx="151.83" cy="365.67" r="1.12" fill="#565656" fill-opacity="0.95"/>
<circle cx="157.8" cy="352.97" r="1.72" fill="#555555" fill-opacity="0.79"/>
<circle cx="146.06" cy="362.73" r="1.96" fill="#555555" fill-opacity="0.93"/>
<circle cx="153.46" cy="365.38" r="1.44" fill="#555555" fill-opacity="0.76"/>
<circle cx="175.25" cy="374.59" r="1.72" fill="#555555" fill-opacity="0.92"/>
<circle cx="165.8" cy="364.55" r="1.87" fill="#555555" fill-opacity="0.82"/>
<circle cx="160.05" cy="354.09" r="2.09" fill="#545454" fill-opacity="0.77"/>
<circle cx="133.78" cy="359.07" r="1.43" fill="#545454" fill-opacity="0.92"/>
<circle cx="153.07" cy="366.36" r="2.23" fill="#545454" fill-opacity="0.93"/>
<circle cx="132.39" cy="359.9" r="2.3" fill="#545454" fill-opacity="0.85"/>
<circle cx="154.44" cy="366.01" r="1.54" fill="#545454" fill-opacity="0.77"/>
<circle cx="147.22" cy="360.57" r="2.38" fill="#545454" fill-opacity="0.83"/>
<circle cx="175.4" cy="371.22" r="2.24" fill="#545454" fill-opacity="0.85"/>
<circle cx="132.7" cy="360.27" r="1.78" fill="#535353" fill-opacity="0.85"/>
<circle cx="136.16" cy="366.4" r="2.15" fill="#535353" fill-opacity="0.84"/>
<circle cx="139.54" cy="354.75" r="2.07" fill="#535353" fill-opacity="0.83"/>
<circle cx="159.22" cy="366.52" r="1.95" fill="#535353" fill-opacity="0.76"/>
<circle cx="143.96" cy="344.69" r="1.71" fill="#525252" fill-opacity="0.89"/>
<circle cx="144.85" cy="362.61" r="2.21" fill="#525252" fill-opacity="0.82"/>
<circle cx="145.59" cy="361.59" r="1.36" fill="#525252" fill-opacity="0.88"/>
<circle cx="163.07" cy="364.83" r="1.86" fill="#525252" fill-opacity="0.87"/>
<circle cx="170.48" cy="372.4" r="2.02" fill="#525252" fill-opacity="0.86"/>
<circle cx="144.11" cy="343.75" r="1.56" fill="#525252" fill-opacity="0.91"/>
<circle cx="151.27" cy="344.97" r="1.85" fill="#525252" fill-opacity="0.89"/>
<circle cx="167.09" cy="361.94" r="2.12" fill="#515151" fill-opacity="0.94"/>
<circle cx="156.12" cy="366.07" r="1.42" fill="#515151" fill-opacity="0.78"/>
<circle cx="173.39" cy="367.03" r="2.08" fill="#515151" fill-opacity="0.91"/>
<circle cx="138.93" cy="355.56" r="1.89" fill="#515151" fill-opacity="0.80"/>
<circle cx="169.78" cy="371.9" r="1.98" fill="#505050" fill-opacity="0.93"/>
<circle cx="144.51" cy="363.21" r="1.24" fill="#505050" fill-opacity="0.81"/>
<circle cx="153.33" cy="362.5" r="2.3" fill="#505050" fill-opacity="0.80"/>
<circle cx="166.26" cy="366.14" r="1.68" fill="#505050" fill-opacity="0.84"/>
<circle cx="167.62" cy="368.91" r="2.14" fill="#505050" fill-opacity="0.88"/>
<circle cx="160.92" cy="355.07" r="1.14" fill="#4f4f4f" fill-opacity="0.77"/>
<circle cx="138.52" cy="346.78" r="1.4" fill="#4f4f4f" fill-opacity="0.77"/>
<circle cx="153.63" cy="347.26" r="1.55" fill="#4f4f4f" fill-opacity="0.76"/>
<circle cx="141.45" cy="345.53" r="1.07" fill="#4f4f4f" fill-opacity="0.77"/>
<circle cx="167.55" cy="369.23" r="1.69" fill="#4f4f4f" fill-opacity="0.95"/>
<circle cx="156.71" cy="358.75" r="1.76" fill="#4f4f4f" fill-opacity="0.83"/>
<circle cx="145.46" cy="359.78" r="1.66" fill="#4e4e4e" fill-opacity="0.77"/>
<circle cx="164.44" cy="365.68" r="1.95" fill="#4e4e4e" fill-opacity="0.92"/>
<circle cx="170.9" cy="373.37" r="1.94" fill="#4d4d4d" fill-opacity="0.85"/>
<circle cx="155.02" cy="355.1" r="1.36" fill="#4d4d4d" fill-opacity="0.84"/>
<circle cx="144.22" cy="364.76" r="2.27" fill="#4d4d4d" fill-opacity="0.88"/>
<circle cx="166.86" cy="360.85" r="1.92" fill="#4d4d4d" fill-opacity="0.93"/>
<circle cx="175.01" cy="370.94" r="1.49" fill="#4b4b4b" fill-opacity="0.78"/>
<circle cx="156.08" cy="354.91" r="2.28" fill="#4b4b4b" fill-opacity="0.81"/>
<circle cx="136.49" cy="353.4" r="1.37" fill="#4b4b4b" fill-opacity="0.75"/>
<circle cx="154.54" cy="359.81" r="1.89" fill="#4a4a4a" fill-opacity="0.79"/>
<circle cx="153.8" cy="364.14" r="1.03" fill="#4a4a4a" fill-opacity="0.93"/>
<circle cx="147.91" cy="343.66" r="1.53" fill="#4a4a4a" fill-opacity="0.81"/>
<circle cx="159.79" cy="364.67" r="1.21" fill="#4a4a4a" fill-opacity="0.78"/>
<circle cx="163.43" cy="364.5" r="1.98" fill="#4a4a4a" fill-opacity="0.93"/>
<circle cx="135.79" cy="353.23" r="1.37" fill="#494949" fill-opacity="0.83"/>
<circle cx="165.38" cy="361.14" r="1.44" fill="#494949" fill-opacity="0.92"/>
<circle cx="147.57" cy="357.75" r="1.4" fill="#494949" fill-opacity="0.83"/>
<circle cx="153.18" cy="361.81" r="1.44" fill="#494949" fill-opacity="0.89"/>
<circle cx="134.16" cy="364.55" r="2.22" fill="#494949" fill-opacity="0.84"/>
<circle cx="146.7" cy="358.52" r="2.15" fill="#494949" fill-opacity="0.83"/>
<circle cx="149.46" cy="357.91" r="1.64" fill="#494949" fill-opacity="0.76"/>
<circle cx="160.86" cy="366.16" r="1.37" fill="#494949" fill-opacity="0.83"/>
<circle cx="151.78" cy="365.03" r="1.41" fill="#484848" fill-opacity="0.84"/>
<circle cx="144.53" cy="358.64" r="1.41" fill="#484848" fill-opacity="0.80"/>
<circle cx="154.59" cy="360.29" r="1.98" fill="#484848" fill-opacity="0.75"/>
<circle cx="134.29" cy="363.68" r="2.33" fill="#474747" fill-opacity="0.90"/>
<circle cx="144.52" cy="352.62" r="1.3" fill="#474747" fill-opacity="0.76"/>
<circle cx="161.36" cy="355.19" r="2.08" fill="#474747" fill-opacity="0.77"/>
<circle cx="166.58" cy="360.91" r="1.64" fill="#474747" fill-opacity="0.85"/>
<circle cx="160.89" cy="355.44" r="1.63" fill="#474747" fill-opacity="0.94"/>
<circle cx="154.69" cy="353.8" r="2.01" fill="#474747" fill-opacity="0.84"/>
<circle cx="136.97" cy="348.75" r="1.93" fill="#474747" fill-opacity="0.84"/>
<circle cx="139.03" cy="349.77" r="1.44" fill="#474747" fill-opacity="0.95"/>
<circle cx="149.35" cy="363.28" r="1.76" fill="#474747" fill-opacity="0.86"/>
<circle cx="136.48" cy="354.67" r="2.04" fill="#464646" fill-opacity="0.86"/>
<circle cx="143.02" cy="353.88" r="1.71" fill="#464646" fill-opacity="0.85"/>
<circle cx="157.56" cy="352.44" r="1.5" fill="#464646" fill-opacity="0.79"/>
<circle cx="172.36" cy="373.2" r="1.41" fill="#464646" fill-opacity="0.85"/>
<circle cx="151.91" cy="354.69" r="1.87" fill="#464646" fill-opacity="0.92"/>
<circle cx="134.6" cy="357.62" r="2.1" fill="#454545" fill-opacity="0.84"/>
<circle cx="147.8" cy="357.92" r="1.96" fill="#454545" fill-opacity="0.94"/>
<circle cx="139.83" cy="354.05" r="2.35" fill="#454545" fill-opacity="0.80"/>
<circle cx="154.46" cy="350.63" r="1.74" fill="#454545" fill-opacity="0.80"/>
<circle cx="155.16" cy="364.16" r="1.55" fill="#454545" fill-opacity="0.93"/>
<circle cx="143.12" cy="353.86" r="1.74" fill="#454545" fill-opacity="0.76"/>
<circle cx="147.34" cy="347.17" r="1.92" fill="#454545" fill-opacity="0.87"/>
<circle cx="140.88" cy="344.97" r="1.27" fill="#444444" fill-opacity="0.82"/>
<circle cx="164.39" cy="363.79" r="1.62" fill="#444444" fill-opacity="0.82"/>
<circle cx="139.22" cy="356.55" r="1.78" fill="#444444" fill-opacity="0.82"/>
<circle cx="159.96" cy="354.35" r="2.07" fill="#444444" fill-opacity="0.82"/>
<circle cx="158.54" cy="353.59" r="1.43" fill="#444444" fill-opacity="0.95"/>
<circle cx="145.62" cy="345.96" r="1.82" fill="#444444" fill-opacity="0.94"/>
<circle cx="142.1" cy="358" r="1.95" fill="#444444" fill-opacity="0.92"/>
<circle cx="158.52" cy="365.83" r="1.05" fill="#444444" fill-opacity="0.92"/>
<circle cx="142.75" cy="356.33" r="1.98" fill="#444444" fill-opacity="0.87"/>
<circle cx="146.08" cy="361.8" r="2.17" fill="#444444" fill-opacity="0.85"/>
<circle cx="147.09" cy="353.73" r="1.82" fill="#434343" fill-opacity="0.84"/>
<circle cx="151.47" cy="363.35" r="1.24" fill="#434343" fill-opacity="0.85"/>
<circle cx="157.43" cy="362.49" r="1.09" fill="#434343" fill-opacity="0.84"/>
<circle cx="141.33" cy="352.84" r="1.38" fill="#424242" fill-opacity="0.81"/>
<circle cx="139.08" cy="346.78" r="1.73" fill="#414141" fill-opacity="0.76"/>
<circle cx="137.65" cy="349.92" r="1.94" fill="#414141" fill-opacity="0.87"/>
<circle cx="156.61" cy="352.44" r="1.9" fill="#414141" fill-opacity="0.77"/>
<circle cx="141.2" cy="358.19" r="1.42" fill="#414141" fill-opacity="0.84"/>
<circle cx="143.22" cy="353.43" r="1.52" fill="#414141" fill-opacity="0.77"/>
<circle cx="156.75" cy="352.16" r="1.7" fill="#404040" fill-opacity="0.84"/>
<circle cx="154.49" cy="365.99" r="1.3" fill="#404040" fill-opacity="0.91"/>
<circle cx="166.7" cy="364.45" r="2.1" fill="#404040" fill-opacity="0.91"/>
<circle cx="160.93" cy="355.49" r="2.29" fill="#404040" fill-opacity="0.76"/>
<circle cx="154.25" cy="352.95" r="1.19" fill="#404040" fill-opacity="0.79"/>
<circle cx="152.74" cy="363.37" r="1.33" fill="#3f3f3f" fill-opacity="0.89"/>
<circle cx="167.92" cy="367.71" r="1.05" fill="#3f3f3f" fill-opacity="0.89"/>
<circle cx="169.14" cy="365.41" r="2.26" fill="#3f3f3f" fill-opacity="0.83"/>
<circle cx="148.55" cy="364.6" r="2.11" fill="#3f3f3f" fill-opacity="0.91"/>
<circle cx="155.08" cy="352.86" r="1.99" fill="#3f3f3f" fill-opacity="0.85"/>
<circle cx="141.46" cy="360.72" r="1.5" fill="#3f3f3f" fill-opacity="0.90"/>
<circle cx="157.12" cy="356.79" r="1.66" fill="#3e3e3e" fill-opacity="0.77"/>
<circle cx="148.81" cy="361.97" r="1.83" fill="#3e3e3e" fill-opacity="0.86"/>
<circle cx="148.2" cy="352.56" r="1.96" fill="#3e3e3e" fill-opacity="0.82"/>
<circle cx="149.24" cy="356.34" r="1.37" fill="#3e3e3e" fill-opacity="0.95"/>
<circle cx="140.8" cy="346.63" r="1.42" fill="#3e3e3e" fill-opacity="0.93"/>
<circle cx="144.75" cy="362.69" r="2.22" fill="#3d3d3d" fill-opacity="0.76"/>
<circle cx="152.05" cy="354.34" r="2.03" fill="#3d3d3d" fill-opacity="0.76"/>
<circle cx="141.95" cy="347.31" r="2.11" fill="#3d3d3d" fill-opacity="0.82"/>
<circle cx="144.97" cy="357.64" r="1.28" fill="#3c3c3c" fill-opacity="0.88"/>
<circle cx="138.56" cy="349.86" r="2.01" fill="#3c3c3c" fill-opacity="0.85"/>
<circle cx="158.89" cy="362.76" r="1.78" fill="#3c3c3c" fill-opacity="0.82"/>
<circle cx="149.12" cy="364.32" r="2.12" fill="#3c3c3c" fill-opacity="0.93"/>
<circle cx="148.7" cy="351.24" r="1.96" fill="#3b3b3b" fill-opacity="0.90"/>
<circle cx="155.17" cy="365.28" r="2.39" fill="#3b3b3b" fill-opacity="0.84"/>
<circle cx="171.4" cy="368.72" r="1.94" fill="#3b3b3b" fill-opacity="0.94"/>
<circle cx="139.7" cy="346.48" r="1.61" fill="#3b3b3b" fill-opacity="0.94"/>
<circle cx="141.4" cy="350.2" r="1.88" fill="#3a3a3a" fill-opacity="0.88"/>
<circle cx="149.77" cy="346.62" r="1.11" fill="#3a3a3a" fill-opacity="0.83"/>
<circle cx="166.34" cy="362.07" r="1.03" fill="#3a3a3a" fill-opacity="0.94"/>
<circle cx="149.11" cy="347.83" r="2.36" fill="#3a3a3a" fill-opacity="0.78"/>
<circle cx="144.36" cy="359.42" r="1.13" fill="#393939" fill-opacity="0.76"/>
<circle cx="155.18" cy="358.22" r="1.24" fill="#393939" fill-opacity="0.77"/>
<circle cx="154.02" cy="355.13" r="2.14" fill="#393939" fill-opacity="0.81"/>
<circle cx="146.97" cy="354.44" r="1.24" fill="#393939" fill-opacity="0.83"/>
<circle cx="148.04" cy="353.27" r="1" fill="#393939" fill-opacity="0.81"/>
<circle cx="155.45" cy="350.32" r="1.87" fill="#393939" fill-opacity="0.79"/>
<circle cx="151.97" cy="353.25" r="2.14" fill="#393939" fill-opacity="0.83"/>
<circle cx="148.66" cy="357.64" r="1.12" fill="#383838" fill-opacity="0.85"/>
<circle cx="141.42" cy="355.16" r="2.03" fill="#383838" fill-opacity="0.76"/>
<circle cx="154.19" cy="365.17" r="1.47" fill="#383838" fill-opacity="0.81"/>
<circle cx="143.37" cy="353.03" r="1.38" fill="#383838" fill-opacity="0.90"/>
<circle cx="147.04" cy="355.04" r="2.05" fill="#373737" fill-opacity="0.94"/>
<circle cx="135.93" cy="355.86" r="2.11" fill="#373737" fill-opacity="0.77"/>
<circle cx="155.81" cy="354.55" r="2.25" fill="#373737" fill-opacity="0.78"/>
<circle cx="161.96" cy="362.33" r="1.8" fill="#373737" fill-opacity="0.91"/>
<circle cx="134.65" cy="361.3" r="1.39" fill="#373737" fill-opacity="0.95"/>
<circle cx="155.56" cy="359.82" r="1.37" fill="#373737" fill-opacity="0.92"/>
<circle cx="155.68" cy="352.28" r="1.4" fill="#363636" fill-opacity="0.94"/>
<circle cx="147.9" cy="355.82" r="2.3" fill="#363636" fill-opacity="0.94"/>
<circle cx="154.06" cy="355.86" r="1.6" fill="#363636" fill-opacity="0.79"/>
<circle cx="146.27" cy="358.39" r="2.12" fill="#363636" fill-opacity="0.85"/>
<circle cx="173.86" cy="370.13" r="1.74" fill="#363636" fill-opacity="0.89"/>
<circle cx="159.83" cy="362.09" r="1.53" fill="#353535" fill-opacity="0.88"/>
<circle cx="135.63" cy="357.81" r="1.71" fill="#353535" fill-opacity="0.76"/>
<circle cx="135.21" cy="365" r="2" fill="#353535" fill-opacity="0.83"/>
<circle cx="135.33" cy="361.02" r="1.61" fill="#353535" fill-opacity="0.85"/>
<circle cx="135.87" cy="355.43" r="1.32" fill="#353535" fill-opacity="0.78"/>
<circle cx="172.48" cy="371.79" r="2.23" fill="#353535" fill-opacity="0.86"/>
<circle cx="155.14" cy="362.83" r="1.68" fill="#353535" fill-opacity="0.76"/>
<circle cx="140.99" cy="357.66" r="2.35" fill="#343434" fill-opacity="0.93"/>
<circle cx="155.62" cy="362.54" r="1.76" fill="#343434" fill-opacity="0.84"/>
<circle cx="155.59" cy="361.86" r="1.43" fill="#343434" fill-opacity="0.91"/>
<circle cx="164.02" cy="358.21" r="2.03" fill="#343434" fill-opacity="0.79"/>
<circle cx="149.27" cy="349.28" r="2.08" fill="#343434" fill-opacity="0.76"/>
<circle cx="135.56" cy="358.53" r="1.55" fill="#343434" fill-opacity="0.80"/>
<circle cx="161.08" cy="359.51" r="1.72" fill="#343434" fill-opacity="0.87"/>
<circle cx="163.5" cy="360.76" r="1.75" fill="#333333" fill-opacity="0.87"/>
<circle cx="133.92" cy="360.91" r="1.74" fill="#333333" fill-opacity="0.89"/>
<circle cx="145.02" cy="346.27" r="1.05" fill="#333333" fill-opacity="0.78"/>
<circle cx="138.34" cy="365.64" r="1.44" fill="#333333" fill-opacity="0.78"/>
<circle cx="145.21" cy="345.89" r="1.9" fill="#323232" fill-opacity="0.86"/>
<circle cx="160.18" cy="359.71" r="1.03" fill="#323232" fill-opacity="0.94"/>
<circle cx="137.99" cy="358.24" r="1.45" fill="#323232" fill-opacity="0.85"/>
<circle cx="159.44" cy="356.15" r="2.18" fill="#313131" fill-opacity="0.82"/>
<circle cx="145.52" cy="346.65" r="1.07" fill="#313131" fill-opacity="0.79"/>
<circle cx="144.93" cy="346.8" r="1.66" fill="#313131" fill-opacity="0.78"/>
<circle cx="164.16" cy="363.44" r="1.12" fill="#313131" fill-opacity="0.84"/>
<circle cx="140.19" cy="360.78" r="2.1" fill="#313131" fill-opacity="0.82"/>
<circle cx="139.98" cy="346.84" r="1.35" fill="#313131" fill-opacity="0.94"/>
<circle cx="146.33" cy="348.12" r="1.07" fill="#313131" fill-opacity="0.78"/>
<circle cx="150.98" cy="350.69" r="1.3" fill="#303030" fill-opacity="0.83"/>
<circle cx="150.7" cy="354.34" r="1.71" fill="#303030" fill-opacity="0.78"/>
<circle cx="142.3" cy="364.14" r="1.62" fill="#2f2f2f" fill-opacity="0.82"/>
<circle cx="164.25" cy="358.58" r="1.19" fill="#2f2f2f" fill-opacity="0.93"/>
<circle cx="170.02" cy="369.88" r="1.97" fill="#2f2f2f" fill-opacity="0.95"/>
<circle cx="171.97" cy="368.9" r="2.06" fill="#2f2f2f" fill-opacity="0.83"/>
<circle cx="143.38" cy="351.54" r="1.6" fill="#2e2e2e" fill-opacity="0.93"/>
<circle cx="170.22" cy="368.52" r="1.13" fill="#2e2e2e" fill-opacity="0.81"/>
<circle cx="160.75" cy="361.84" r="2.03" fill="#2d2d2d" fill-opacity="0.93"/>
<circle cx="152.47" cy="350.95" r="2.21" fill="#2d2d2d" fill-opacity="0.75"/>
<circle cx="165.9" cy="362.71" r="2.33" fill="#2d2d2d" fill-opacity="0.78"/>
<circle cx="150.25" cy="351.91" r="2.18" fill="#2c2c2c" fill-opacity="0.75"/>
<circle cx="152.35" cy="351.14" r="1.61" fill="#2c2c2c" fill-opacity="0.84"/>
<circle cx="161.87" cy="359.9" r="2.25" fill="#2b2b2b" fill-opacity="0.94"/>
<circle cx="140.89" cy="358.18" r="1.94" fill="#2a2a2a" fill-opacity="0.80"/>
<circle cx="147.53" cy="348.25" r="1.05" fill="#2a2a2a" fill-opacity="0.93"/>
<circle cx="137.83" cy="365.7" r="1.14" fill="#282828" fill-opacity="0.92"/>
<circle cx="162.83" cy="358.98" r="2.35" fill="#282828" fill-opacity="0.79"/>
<circle cx="142.17" cy="351.09" r="1.17" fill="#282828" fill-opacity="0.92"/>
<circle cx="146.57" cy="349.65" r="1.82" fill="#272727" fill-opacity="0.82"/>
<circle cx="152.08" cy="352.71" r="1.8" fill="#272727" fill-opacity="0.92"/>
<circle cx="163.64" cy="358.91" r="1.82" fill="#262626" fill-opacity="0.75"/>
<circle cx="162.61" cy="360.09" r="2.12" fill="#252525" fill-opacity="0.92"/>
<circle cx="142.04" cy="363.61" r="1.91" fill="#252525" fill-opacity="0.92"/>
<circle cx="152.35" cy="351.34" r="1.34" fill="#252525" fill-opacity="0.83"/>
<circle cx="152.74" cy="352.27" r="1.02" fill="#252525" fill-opacity="0.91"/>
<circle cx="142.5" cy="347.61" r="1.09" fill="#242424" fill-opacity="0.88"/>
<circle cx="151.88" cy="349.18" r="2.35" fill="#242424" fill-opacity="0.82"/>
<circle cx="137.49" cy="365.03" r="2.25" fill="#232323" fill-opacity="0.85"/>
<circle cx="145.98" cy="349.28" r="1.15" fill="#222222" fill-opacity="0.79"/>
<circle cx="137.26" cy="360.54" r="1.88" fill="#222222" fill-opacity="0.93"/>
<circle cx="151.07" cy="353.41" r="2.34" fill="#202020" fill-opacity="0.92"/>
<circle cx="161.67" cy="359.97" r="1.64" fill="#1f1f1f" fill-opacity="0.76"/>
<circle cx="146.71" cy="349.63" r="1.81" fill="#1f1f1f" fill-opacity="0.87"/>
<circle cx="136.11" cy="359.16" r="2.18" fill="#1f1f1f" fill-opacity="0.81"/>
<circle cx="140.46" cy="360.4" r="1.48" fill="#1e1e1e" fill-opacity="0.88"/>
<circle cx="140.64" cy="362.08" r="2.07" fill="#1d1d1d" fill-opacity="0.87"/>
<circle cx="138.25" cy="357.89" r="1.98" fill="#1a1a1a" fill-opacity="0.83"/>
<circle cx="140.94" cy="362.48" r="1.18" fill="#191919" fill-opacity="0.85"/>
<circle cx="136.24" cy="358.74" r="2.16" fill="#171717" fill-opacity="0.84"/>
<circle cx="138.6" cy="361.12" r="2.35" fill="#161616" fill-opacity="0.90"/>
<circle cx="137.38" cy="361.56" r="2.16" fill="#161616" fill-opacity="0.89"/>
</g><g filter="url(#b05)">
<circle cx="172.53" cy="329.07" r="1.86" fill="#989898" fill-opacity="0.84"/>
<circle cx="198.18" cy="337.66" r="1.2" fill="#969696" fill-opacity="0.87"/>
<circle cx="181.24" cy="355.95" r="1.91" fill="#969696" fill-opacity="0.94"/>
<circle cx="182.14" cy="327.2" r="1.72" fill="#949494" fill-opacity="0.75"/>
<circle cx="175.29" cy="327.58" r="2.18" fill="#939393" fill-opacity="0.91"/>
<circle cx="192.48" cy="345.76" r="2.07" fill="#939393" fill-opacity="0.93"/>
<circle cx="184.78" cy="326.01" r="2.23" fill="#939393" fill-opacity="0.77"/>
<circle cx="169.02" cy="333.79" r="1.46" fill="#929292" fill-opacity="0.82"/>
<circle cx="179.17" cy="350.52" r="2.35" fill="#929292" fill-opacity="0.89"/>
<circle cx="180.86" cy="355.81" r="1.48" fill="#929292" fill-opacity="0.83"/>
<circle cx="193.36" cy="344.01" r="1.89" fill="#919191" fill-opacity="0.78"/>
<circle cx="169.62" cy="338.86" r="2.2" fill="#909090" fill-opacity="0.76"/>
<circle cx="193.61" cy="344.49" r="1.55" fill="#909090" fill-opacity="0.84"/>
<circle cx="168.85" cy="337.79" r="1.99" fill="#8f8f8f" fill-opacity="0.88"/>
<circle cx="193.48" cy="325.53" r="1.65" fill="#8f8f8f" fill-opacity="0.78"/>
<circle cx="169.63" cy="339.87" r="1.85" fill="#8c8c8c" fill-opacity="0.85"/>
<circle cx="194.29" cy="326.4" r="2.32" fill="#8c8c8c" fill-opacity="0.88"/>
<circle cx="170.6" cy="340.7" r="1.83" fill="#8b8b8b" fill-opacity="0.84"/>
<circle cx="194.17" cy="344.7" r="2.36" fill="#8b8b8b" fill-opacity="0.82"/>
<circle cx="170.3" cy="333.28" r="2.3" fill="#8b8b8b" fill-opacity="0.83"/>
<circle cx="179.18" cy="349.77" r="1.91" fill="#8a8a8a" fill-opacity="0.87"/>
<circle cx="184.17" cy="327.25" r="2.18" fill="#898989" fill-opacity="0.89"/>
<circle cx="173.39" cy="345.11" r="1.25" fill="#888888" fill-opacity="0.78"/>
<circle cx="175.71" cy="347.14" r="1.35" fill="#888888" fill-opacity="0.86"/>
<circle cx="171.18" cy="332.37" r="2.14" fill="#888888" fill-opacity="0.81"/>
<circle cx="192.16" cy="348.72" r="1.57" fill="#878787" fill-opacity="0.88"/>
<circle cx="197.07" cy="340.1" r="1.54" fill="#868686" fill-opacity="0.87"/>
<circle cx="188.09" cy="352.8" r="2.26" fill="#848484" fill-opacity="0.78"/>
<circle cx="181.41" cy="355.51" r="1.81" fill="#848484" fill-opacity="0.88"/>
<circle cx="197.86" cy="327.11" r="1.74" fill="#848484" fill-opacity="0.78"/>
<circle cx="198.3" cy="326.12" r="1.8" fill="#838383" fill-opacity="0.89"/>
<circle cx="176.98" cy="328.25" r="1.32" fill="#838383" fill-opacity="0.95"/>
<circle cx="182.24" cy="326.38" r="1.54" fill="#838383" fill-opacity="0.76"/>
<circle cx="179.27" cy="351.69" r="1.82" fill="#828282" fill-opacity="0.80"/>
<circle cx="174.09" cy="329.86" r="2.26" fill="#828282" fill-opacity="0.82"/>
<circle cx="173.73" cy="345.62" r="2.34" fill="#818181" fill-opacity="0.84"/>
<circle cx="170.45" cy="341.09" r="2.3" fill="#818181" fill-opacity="0.91"/>
<circle cx="183.23" cy="356.14" r="1.78" fill="#818181" fill-opacity="0.89"/>
<circle cx="197.69" cy="336.8" r="1.25" fill="#808080" fill-opacity="0.93"/>
<circle cx="182.79" cy="357.89" r="1.74" fill="#808080" fill-opacity="0.78"/>
<circle cx="170.62" cy="342.18" r="1.51" fill="#808080" fill-opacity="0.77"/>
<circle cx="181.66" cy="355" r="1.5" fill="#7f7f7f" fill-opacity="0.92"/>
<circle cx="193.96" cy="347.63" r="1.45" fill="#7f7f7f" fill-opacity="0.82"/>
<circle cx="191.67" cy="344.03" r="2.15" fill="#7f7f7f" fill-opacity="0.87"/>
<circle cx="197.61" cy="336.61" r="2.38" fill="#7f7f7f" fill-opacity="0.89"/>
<circle cx="188.49" cy="325.42" r="1.8" fill="#7f7f7f" fill-opacity="0.91"/>
<circle cx="186.95" cy="326.7" r="1.16" fill="#7e7e7e" fill-opacity="0.76"/>
<circle cx="169.67" cy="342.9" r="2.01" fill="#7e7e7e" fill-opacity="0.92"/>
<circle cx="171.62" cy="339.34" r="1.5" fill="#7e7e7e" fill-opacity="0.77"/>
<circle cx="182.8" cy="326.06" r="2.03" fill="#7e7e7e" fill-opacity="0.84"/>
<circle cx="170.68" cy="334.55" r="1.03" fill="#7e7e7e" fill-opacity="0.84"/>
<circle cx="179.28" cy="351.65" r="1.99" fill="#7d7d7d" fill-opacity="0.79"/>
<circle cx="186.79" cy="353.28" r="1.7" fill="#7d7d7d" fill-opacity="0.79"/>
<circle cx="179.88" cy="350.54" r="1.7" fill="#7d7d7d" fill-opacity="0.78"/>
<circle cx="182.64" cy="328.39" r="1.9" fill="#7c7c7c" fill-opacity="0.89"/>
<circle cx="183.93" cy="355.36" r="1.66" fill="#7b7b7b" fill-opacity="0.88"/>
<circle cx="178.64" cy="327.18" r="1.12" fill="#7b7b7b" fill-opacity="0.94"/>
<circle cx="175" cy="327.8" r="1.76" fill="#7b7b7b" fill-opacity="0.91"/>
<circle cx="191.23" cy="343.73" r="2.36" fill="#7a7a7a" fill-opacity="0.87"/>
<circle cx="199.22" cy="333.22" r="1.48" fill="#797979" fill-opacity="0.92"/>
<circle cx="182.84" cy="355.32" r="1.51" fill="#797979" fill-opacity="0.94"/>
<circle cx="170.15" cy="331.12" r="1.58" fill="#797979" fill-opacity="0.76"/>
<circle cx="177.09" cy="347.18" r="1.78" fill="#797979" fill-opacity="0.87"/>
<circle cx="171.9" cy="329.59" r="1.25" fill="#797979" fill-opacity="0.89"/>
<circle cx="184.63" cy="325.61" r="1.39" fill="#787878" fill-opacity="0.84"/>
<circle cx="175.52" cy="328.25" r="1.5" fill="#787878" fill-opacity="0.75"/>
<circle cx="198.4" cy="333.05" r="1.62" fill="#787878" fill-opacity="0.90"/>
<circle cx="173.52" cy="345.51" r="2.11" fill="#777777" fill-opacity="0.77"/>
<circle cx="190.51" cy="352.45" r="1.96" fill="#777777" fill-opacity="0.77"/>
<circle cx="195.66" cy="326.96" r="2.11" fill="#777777" fill-opacity="0.89"/>
<circle cx="196.48" cy="326.24" r="1.48" fill="#777777" fill-opacity="0.93"/>
<circle cx="171.95" cy="331.04" r="1.18" fill="#767676" fill-opacity="0.78"/>
<circle cx="181.72" cy="354.04" r="1.47" fill="#767676" fill-opacity="0.86"/>
<circle cx="174.9" cy="329.63" r="2.14" fill="#757575" fill-opacity="0.86"/>
<circle cx="195.64" cy="327.97" r="1.47" fill="#757575" fill-opacity="0.86"/>
<circle cx="198.52" cy="330.55" r="1.86" fill="#737373" fill-opacity="0.78"/>
<circle cx="197.29" cy="331.07" r="2.02" fill="#737373" fill-opacity="0.76"/>
<circle cx="196.96" cy="330.47" r="1.32" fill="#727272" fill-opacity="0.80"/>
<circle cx="197.17" cy="328.96" r="1.48" fill="#727272" fill-opacity="0.91"/>
<circle cx="198.07" cy="333.29" r="1.01" fill="#717171" fill-opacity="0.77"/>
<circle cx="194.9" cy="326.95" r="2.35" fill="#717171" fill-opacity="0.82"/>
<circle cx="178.95" cy="348.52" r="2.27" fill="#707070" fill-opacity="0.85"/>
<circle cx="196.95" cy="328.92" r="1.24" fill="#6f6f6f" fill-opacity="0.76"/>
<circle cx="184.68" cy="328.04" r="1.17" fill="#6f6f6f" fill-opacity="0.86"/>
<circle cx="192.13" cy="327.19" r="2.17" fill="#6e6e6e" fill-opacity="0.84"/>
<circle cx="172.07" cy="337.43" r="2.16" fill="#6e6e6e" fill-opacity="0.76"/>
<circle cx="180.44" cy="349.98" r="1.49" fill="#6e6e6e" fill-opacity="0.78"/>
<circle cx="171.05" cy="332.82" r="2.24" fill="#6d6d6d" fill-opacity="0.84"/>
<circle cx="182.06" cy="355.04" r="1.13" fill="#6d6d6d" fill-opacity="0.88"/>
<circle cx="179.94" cy="350.24" r="1.39" fill="#6d6d6d" fill-opacity="0.77"/>
<circle cx="191.38" cy="350.68" r="1.59" fill="#6d6d6d" fill-opacity="0.81"/>
<circle cx="194.49" cy="338.25" r="1.53" fill="#6d6d6d" fill-opacity="0.90"/>
<circle cx="190.68" cy="347.02" r="1.72" fill="#6c6c6c" fill-opacity="0.94"/>
<circle cx="198.21" cy="331.85" r="1.72" fill="#6c6c6c" fill-opacity="0.79"/>
<circle cx="172.78" cy="341.8" r="1.91" fill="#6c6c6c" fill-opacity="0.86"/>
<circle cx="173.29" cy="345.03" r="1.71" fill="#6c6c6c" fill-opacity="0.84"/>
<circle cx="194.43" cy="337.81" r="1.1" fill="#6b6b6b" fill-opacity="0.94"/>
<circle cx="172.71" cy="342.99" r="2.05" fill="#6b6b6b" fill-opacity="0.84"/>
<circle cx="178.36" cy="347.54" r="1.24" fill="#6b6b6b" fill-opacity="0.91"/>
<circle cx="189.71" cy="350.12" r="1.44" fill="#6a6a6a" fill-opacity="0.93"/>
<circle cx="196.6" cy="335.93" r="1.72" fill="#6a6a6a" fill-opacity="0.85"/>
<circle cx="191.91" cy="347.74" r="1.57" fill="#696969" fill-opacity="0.87"/>
<circle cx="172.01" cy="341.89" r="1.29" fill="#696969" fill-opacity="0.85"/>
<circle cx="172.95" cy="343.1" r="1.85" fill="#696969" fill-opacity="0.80"/>
<circle cx="180.69" cy="352.56" r="2.08" fill="#696969" fill-opacity="0.86"/>
<circle cx="182.04" cy="328.04" r="1.79" fill="#696969" fill-opacity="0.76"/>
<circle cx="189.95" cy="350.97" r="1.37" fill="#686868" fill-opacity="0.79"/>
<circle cx="190.64" cy="346.29" r="1.6" fill="#686868" fill-opacity="0.85"/>
<circle cx="184.15" cy="327.54" r="1.15" fill="#686868" fill-opacity="0.90"/>
<circle cx="180.45" cy="351.54" r="2.21" fill="#686868" fill-opacity="0.79"/>
<circle cx="191.52" cy="345.96" r="2.33" fill="#676767" fill-opacity="0.95"/>
<circle cx="176.2" cy="330.01" r="1.02" fill="#646464" fill-opacity="0.87"/>
<circle cx="181.1" cy="329.73" r="1.07" fill="#636363" fill-opacity="0.85"/>
<circle cx="171.64" cy="335.78" r="2.19" fill="#626262" fill-opacity="0.75"/>
<circle cx="176.08" cy="329.06" r="2.19" fill="#626262" fill-opacity="0.86"/>
<circle cx="182.15" cy="352.84" r="1.58" fill="#626262" fill-opacity="0.80"/>
<circle cx="196.17" cy="328.4" r="1.5" fill="#616161" fill-opacity="0.87"/>
<circle cx="173.09" cy="343.35" r="1.05" fill="#616161" fill-opacity="0.87"/>
<circle cx="178.94" cy="329.37" r="1.41" fill="#606060" fill-opacity="0.75"/>
<circle cx="196.59" cy="334.91" r="1.1" fill="#606060" fill-opacity="0.76"/>
<circle cx="190.25" cy="328.11" r="2.36" fill="#5f5f5f" fill-opacity="0.77"/>
<circle cx="191.12" cy="327.89" r="2.08" fill="#5f5f5f" fill-opacity="0.88"/>
<circle cx="175.21" cy="344.56" r="2.34" fill="#5f5f5f" fill-opacity="0.91"/>
<circle cx="173.1" cy="338.08" r="1.51" fill="#5e5e5e" fill-opacity="0.80"/>
<circle cx="181.05" cy="349.4" r="1.75" fill="#5e5e5e" fill-opacity="0.79"/>
<circle cx="190.85" cy="345.77" r="1.62" fill="#5d5d5d" fill-opacity="0.90"/>
<circle cx="197.18" cy="334.84" r="2.01" fill="#5d5d5d" fill-opacity="0.92"/>
<circle cx="191.35" cy="340.91" r="1.75" fill="#5c5c5c" fill-opacity="0.86"/>
<circle cx="195.76" cy="335.45" r="1.02" fill="#5c5c5c" fill-opacity="0.85"/>
<circle cx="182.64" cy="354.07" r="2.19" fill="#5b5b5b" fill-opacity="0.80"/>
<circle cx="181.71" cy="353.9" r="1.46" fill="#5b5b5b" fill-opacity="0.88"/>
<circle cx="191.74" cy="342.63" r="2.18" fill="#5a5a5a" fill-opacity="0.78"/>
<circle cx="180.25" cy="349.87" r="1.58" fill="#595959" fill-opacity="0.82"/>
<circle cx="172.04" cy="335.96" r="1.88" fill="#575757" fill-opacity="0.94"/>
<circle cx="184.47" cy="336.19" r="2.38" fill="#575757" fill-opacity="0.85"/>
<circle cx="175.75" cy="343.18" r="1.83" fill="#575757" fill-opacity="0.94"/>
<circle cx="190.39" cy="347.16" r="1.61" fill="#575757" fill-opacity="0.93"/>
<circle cx="184.83" cy="352.37" r="1.75" fill="#575757" fill-opacity="0.87"/>
<circle cx="183.52" cy="335.46" r="1.69" fill="#575757" fill-opacity="0.85"/>
<circle cx="187.55" cy="350.6" r="1.36" fill="#565656" fill-opacity="0.85"/>
<circle cx="183.18" cy="350.65" r="2.07" fill="#565656" fill-opacity="0.91"/>
<circle cx="190.33" cy="345.2" r="1.08" fill="#555555" fill-opacity="0.75"/>
<circle cx="188.68" cy="350.31" r="1.74" fill="#555555" fill-opacity="0.79"/>
<circle cx="176.92" cy="330.07" r="1.09" fill="#555555" fill-opacity="0.87"/>
<circle cx="172.79" cy="335.21" r="2.18" fill="#555555" fill-opacity="0.93"/>
<circle cx="193.54" cy="338.65" r="1.2" fill="#545454" fill-opacity="0.80"/>
<circle cx="186.88" cy="340.14" r="1.87" fill="#535353" fill-opacity="0.79"/>
<circle cx="176.54" cy="345.27" r="1.05" fill="#515151" fill-opacity="0.89"/>
<circle cx="173.42" cy="331.83" r="1.97" fill="#515151" fill-opacity="0.83"/>
<circle cx="179.56" cy="339.2" r="1.82" fill="#505050" fill-opacity="0.87"/>
<circle cx="181.52" cy="350.21" r="1.29" fill="#505050" fill-opacity="0.95"/>
<circle cx="174.49" cy="344.2" r="2.33" fill="#505050" fill-opacity="0.75"/>
<circle cx="190.66" cy="347.9" r="2.27" fill="#4f4f4f" fill-opacity="0.82"/>
<circle cx="176.64" cy="339.56" r="1.69" fill="#4f4f4f" fill-opacity="0.83"/>
<circle cx="189.19" cy="345.82" r="2.32" fill="#4f4f4f" fill-opacity="0.83"/>
<circle cx="176.52" cy="341.31" r="1.09" fill="#4f4f4f" fill-opacity="0.75"/>
<circle cx="195.93" cy="332.84" r="1.11" fill="#4f4f4f" fill-opacity="0.86"/>
<circle cx="174.18" cy="342.87" r="1.31" fill="#4e4e4e" fill-opacity="0.82"/>
<circle cx="195.09" cy="329.62" r="2.19" fill="#4e4e4e" fill-opacity="0.95"/>
<circle cx="196.65" cy="333.06" r="1.52" fill="#4d4d4d" fill-opacity="0.81"/>
<circle cx="194.63" cy="336.51" r="1.72" fill="#4d4d4d" fill-opacity="0.93"/>
<circle cx="191.57" cy="341.49" r="1.41" fill="#4d4d4d" fill-opacity="0.79"/>
<circle cx="189.81" cy="347.22" r="1.56" fill="#4d4d4d" fill-opacity="0.84"/>
<circle cx="187.85" cy="343.37" r="2.05" fill="#4c4c4c" fill-opacity="0.79"/>
<circle cx="176.41" cy="340.51" r="1.14" fill="#4c4c4c" fill-opacity="0.76"/>
<circle cx="187.69" cy="328.53" r="1.58" fill="#4c4c4c" fill-opacity="0.91"/>
<circle cx="177.9" cy="339.19" r="1.91" fill="#4c4c4c" fill-opacity="0.90"/>
<circle cx="172.69" cy="335" r="1.99" fill="#4b4b4b" fill-opacity="0.78"/>
<circle cx="190.03" cy="347.29" r="2.01" fill="#4b4b4b" fill-opacity="0.78"/>
<circle cx="188.68" cy="338.52" r="1.75" fill="#4b4b4b" fill-opacity="0.84"/>
<circle cx="183.88" cy="338.73" r="2.09" fill="#4b4b4b" fill-opacity="0.84"/>
<circle cx="194.07" cy="329.65" r="2.03" fill="#4a4a4a" fill-opacity="0.94"/>
<circle cx="185.92" cy="351.99" r="2.16" fill="#4a4a4a" fill-opacity="0.87"/>
<circle cx="179.16" cy="329.55" r="1.47" fill="#4a4a4a" fill-opacity="0.81"/>
<circle cx="189.64" cy="342.16" r="1.62" fill="#4a4a4a" fill-opacity="0.92"/>
<circle cx="174.58" cy="340.64" r="1.26" fill="#494949" fill-opacity="0.82"/>
<circle cx="181.65" cy="348.32" r="1.9" fill="#484848" fill-opacity="0.80"/>
<circle cx="172.56" cy="334.58" r="1.73" fill="#484848" fill-opacity="0.94"/>
<circle cx="187.42" cy="341.92" r="1.49" fill="#474747" fill-opacity="0.93"/>
<circle cx="191.62" cy="328.88" r="1.17" fill="#474747" fill-opacity="0.76"/>
<circle cx="194.44" cy="337.13" r="1.44" fill="#474747" fill-opacity="0.81"/>
<circle cx="176.47" cy="342.29" r="1.88" fill="#474747" fill-opacity="0.88"/>
<circle cx="176.25" cy="338.88" r="1.62" fill="#474747" fill-opacity="0.82"/>
<circle cx="180.39" cy="339.48" r="1.71" fill="#464646" fill-opacity="0.78"/>
<circle cx="195.43" cy="330.51" r="1.6" fill="#464646" fill-opacity="0.86"/>
<circle cx="192.65" cy="337.97" r="1.41" fill="#454545" fill-opacity="0.77"/>
<circle cx="185.48" cy="334.56" r="1.12" fill="#454545" fill-opacity="0.93"/>
<circle cx="176.32" cy="343.65" r="1.05" fill="#454545" fill-opacity="0.82"/>
<circle cx="188.67" cy="349.06" r="1.5" fill="#454545" fill-opacity="0.85"/>
<circle cx="179.17" cy="340.04" r="1.57" fill="#444444" fill-opacity="0.93"/>
<circle cx="188.79" cy="340.76" r="1.09" fill="#444444" fill-opacity="0.88"/>
<circle cx="196.06" cy="333.46" r="2.15" fill="#444444" fill-opacity="0.89"/>
<circle cx="174.85" cy="339.84" r="1.74" fill="#434343" fill-opacity="0.88"/>
<circle cx="186.16" cy="342.14" r="1.12" fill="#434343" fill-opacity="0.79"/>
<circle cx="184.26" cy="349.84" r="1.93" fill="#434343" fill-opacity="0.82"/>
<circle cx="183.08" cy="338.98" r="1.72" fill="#424242" fill-opacity="0.79"/>
<circle cx="189.97" cy="339.34" r="1.82" fill="#404040" fill-opacity="0.91"/>
<circle cx="180.78" cy="337.62" r="2.15" fill="#404040" fill-opacity="0.78"/>
<circle cx="189.95" cy="329.07" r="1.6" fill="#404040" fill-opacity="0.88"/>
<circle cx="176.12" cy="342.11" r="1.56" fill="#3f3f3f" fill-opacity="0.90"/>
<circle cx="177.68" cy="338.45" r="1.78" fill="#3e3e3e" fill-opacity="0.86"/>
<circle cx="174.19" cy="339.67" r="1.64" fill="#3e3e3e" fill-opacity="0.75"/>
<circle cx="193.8" cy="328.83" r="1.27" fill="#3d3d3d" fill-opacity="0.77"/>
<circle cx="193.38" cy="337.03" r="1.92" fill="#3d3d3d" fill-opacity="0.81"/>
<circle cx="193.96" cy="335.53" r="1" fill="#3d3d3d" fill-opacity="0.86"/>
<circle cx="186.06" cy="344.66" r="1.07" fill="#3c3c3c" fill-opacity="0.83"/>
<circle cx="186.51" cy="341.74" r="1.26" fill="#3c3c3c" fill-opacity="0.87"/>
<circle cx="182.83" cy="338.12" r="1.93" fill="#3c3c3c" fill-opacity="0.92"/>
<circle cx="185.47" cy="340.59" r="1.29" fill="#3c3c3c" fill-opacity="0.86"/>
<circle cx="183.13" cy="331.2" r="1.63" fill="#3c3c3c" fill-opacity="0.81"/>
<circle cx="193.8" cy="336.12" r="2.1" fill="#3c3c3c" fill-opacity="0.85"/>
<circle cx="185" cy="333.67" r="2.39" fill="#3c3c3c" fill-opacity="0.88"/>
<circle cx="181.36" cy="341.03" r="1.08" fill="#3a3a3a" fill-opacity="0.83"/>
<circle cx="178.81" cy="344.75" r="1.13" fill="#3a3a3a" fill-opacity="0.91"/>
<circle cx="188.07" cy="329.39" r="2.15" fill="#3a3a3a" fill-opacity="0.77"/>
<circle cx="196.02" cy="332.62" r="1.33" fill="#3a3a3a" fill-opacity="0.81"/>
<circle cx="184.94" cy="332.05" r="1.94" fill="#3a3a3a" fill-opacity="0.94"/>
<circle cx="172.78" cy="334.87" r="1.44" fill="#3a3a3a" fill-opacity="0.85"/>
<circle cx="173.68" cy="334.26" r="1.71" fill="#3a3a3a" fill-opacity="0.90"/>
<circle cx="181.74" cy="337.14" r="2.13" fill="#393939" fill-opacity="0.79"/>
<circle cx="182.43" cy="347.67" r="2.23" fill="#393939" fill-opacity="0.76"/>
<circle cx="182.37" cy="349.6" r="2.14" fill="#393939" fill-opacity="0.95"/>
<circle cx="186.93" cy="344.57" r="2.24" fill="#383838" fill-opacity="0.84"/>
<circle cx="184.48" cy="341.89" r="1.06" fill="#383838" fill-opacity="0.76"/>
<circle cx="192.58" cy="329.51" r="1.89" fill="#383838" fill-opacity="0.90"/>
<circle cx="179.98" cy="346.78" r="1.88" fill="#383838" fill-opacity="0.80"/>
<circle cx="174.67" cy="339.04" r="1.87" fill="#383838" fill-opacity="0.86"/>
<circle cx="182.94" cy="341.08" r="1.89" fill="#383838" fill-opacity="0.83"/>
<circle cx="179.49" cy="337" r="1.2" fill="#373737" fill-opacity="0.84"/>
<circle cx="188.66" cy="344.27" r="2.24" fill="#373737" fill-opacity="0.89"/>
<circle cx="178.56" cy="344.65" r="1.99" fill="#373737" fill-opacity="0.87"/>
<circle cx="188.06" cy="336.71" r="1.17" fill="#373737" fill-opacity="0.85"/>
<circle cx="178.36" cy="345.51" r="2.21" fill="#373737" fill-opacity="0.91"/>
<circle cx="186.25" cy="347.38" r="2.18" fill="#373737" fill-opacity="0.91"/>
<circle cx="175.25" cy="340.92" r="1.38" fill="#363636" fill-opacity="0.91"/>
<circle cx="185.45" cy="346.09" r="1.45" fill="#363636" fill-opacity="0.77"/>
<circle cx="190.64" cy="339.44" r="1.31" fill="#363636" fill-opacity="0.76"/>
<circle cx="172.64" cy="334.64" r="1.02" fill="#363636" fill-opacity="0.81"/>
<circle cx="180.2" cy="345.99" r="1.82" fill="#363636" fill-opacity="0.83"/>
<circle cx="178.08" cy="336.14" r="1.19" fill="#353535" fill-opacity="0.79"/>
<circle cx="195.42" cy="330.33" r="1.09" fill="#353535" fill-opacity="0.88"/>
<circle cx="184.79" cy="345.95" r="1" fill="#343434" fill-opacity="0.83"/>
<circle cx="178.43" cy="340.62" r="1.28" fill="#343434" fill-opacity="0.94"/>
<circle cx="185.2" cy="341.38" r="1.04" fill="#343434" fill-opacity="0.94"/>
<circle cx="179.9" cy="345.98" r="1.16" fill="#343434" fill-opacity="0.81"/>
<circle cx="177.72" cy="343.2" r="2.07" fill="#333333" fill-opacity="0.78"/>
<circle cx="180.32" cy="331.98" r="1.27" fill="#333333" fill-opacity="0.86"/>
<circle cx="183.33" cy="351.02" r="1.24" fill="#333333" fill-opacity="0.92"/>
<circle cx="178.26" cy="334.65" r="1" fill="#323232" fill-opacity="0.94"/>
<circle cx="178.13" cy="344.55" r="1.25" fill="#323232" fill-opacity="0.91"/>
<circle cx="181.71" cy="332.39" r="2.23" fill="#313131" fill-opacity="0.90"/>
<circle cx="189.47" cy="338.86" r="2.05" fill="#313131" fill-opacity="0.90"/>
<circle cx="179.24" cy="337.69" r="2.14" fill="#313131" fill-opacity="0.85"/>
<circle cx="180.44" cy="330.93" r="1.65" fill="#303030" fill-opacity="0.79"/>
<circle cx="180.71" cy="340.99" r="2.3" fill="#303030" fill-opacity="0.88"/>
<circle cx="186.01" cy="332.38" r="1.66" fill="#303030" fill-opacity="0.84"/>
<circle cx="179.59" cy="341.02" r="1.93" fill="#303030" fill-opacity="0.88"/>
<circle cx="176.45" cy="335.59" r="1.67" fill="#2f2f2f" fill-opacity="0.78"/>
<circle cx="179.31" cy="335.3" r="1.35" fill="#2e2e2e" fill-opacity="0.82"/>
<circle cx="177.59" cy="336.28" r="1.03" fill="#2e2e2e" fill-opacity="0.87"/>
<circle cx="181.94" cy="342.04" r="1.5" fill="#2e2e2e" fill-opacity="0.76"/>
<circle cx="174.89" cy="334.89" r="1.01" fill="#2e2e2e" fill-opacity="0.80"/>
<circle cx="193.62" cy="333.24" r="1.55" fill="#2e2e2e" fill-opacity="0.88"/>
<circle cx="176.91" cy="331.81" r="2.12" fill="#2d2d2d" fill-opacity="0.90"/>
<circle cx="188.75" cy="335.07" r="1.31" fill="#2d2d2d" fill-opacity="0.80"/>
<circle cx="186.02" cy="346.94" r="1.45" fill="#2d2d2d" fill-opacity="0.95"/>
<circle cx="178.82" cy="345.38" r="1.94" fill="#2d2d2d" fill-opacity="0.94"/>
<circle cx="176.13" cy="332.57" r="2.07" fill="#2d2d2d" fill-opacity="0.92"/>
<circle cx="186.25" cy="330.26" r="2.09" fill="#2c2c2c" fill-opacity="0.85"/>
<circle cx="185.19" cy="347.98" r="2.18" fill="#2c2c2c" fill-opacity="0.80"/>
<circle cx="179.62" cy="334.11" r="2" fill="#2b2b2b" fill-opacity="0.77"/>
<circle cx="186.24" cy="349.02" r="1.44" fill="#2a2a2a" fill-opacity="0.77"/>
<circle cx="189.73" cy="332.02" r="2.24" fill="#2a2a2a" fill-opacity="0.88"/>
<circle cx="185.83" cy="345.88" r="1.85" fill="#292929" fill-opacity="0.93"/>
<circle cx="183.39" cy="343.23" r="1.37" fill="#292929" fill-opacity="0.75"/>
<circle cx="177.45" cy="334.81" r="1.77" fill="#292929" fill-opacity="0.80"/>
<circle cx="179.71" cy="334.98" r="1.39" fill="#292929" fill-opacity="0.82"/>
<circle cx="191.12" cy="333.11" r="2.36" fill="#282828" fill-opacity="0.89"/>
<circle cx="186.82" cy="345.36" r="2.22" fill="#282828" fill-opacity="0.79"/>
<circle cx="184.67" cy="348.38" r="1.76" fill="#282828" fill-opacity="0.89"/>
<circle cx="176.56" cy="335.95" r="1.34" fill="#272727" fill-opacity="0.80"/>
<circle cx="192.43" cy="329.83" r="1.87" fill="#272727" fill-opacity="0.86"/>
<circle cx="190.1" cy="332.6" r="1.5" fill="#272727" fill-opacity="0.86"/>
<circle cx="194.04" cy="335.95" r="1.6" fill="#272727" fill-opacity="0.85"/>
<circle cx="181.3" cy="341.68" r="1.13" fill="#262626" fill-opacity="0.92"/>
<circle cx="182.42" cy="342.22" r="2.36" fill="#262626" fill-opacity="0.92"/>
<circle cx="190.35" cy="335.78" r="2.05" fill="#262626" fill-opacity="0.84"/>
<circle cx="186.09" cy="348.65" r="1.65" fill="#252525" fill-opacity="0.79"/>
<circle cx="188.28" cy="332.63" r="1.19" fill="#252525" fill-opacity="0.83"/>
<circle cx="184.38" cy="348.79" r="2.14" fill="#252525" fill-opacity="0.91"/>
<circle cx="184.62" cy="346.34" r="2.03" fill="#242424" fill-opacity="0.86"/>
<circle cx="178.28" cy="344.39" r="2.06" fill="#242424" fill-opacity="0.94"/>
<circle cx="177.38" cy="332.26" r="1.47" fill="#232323" fill-opacity="0.76"/>
<circle cx="186.42" cy="333.09" r="1.12" fill="#232323" fill-opacity="0.79"/>
<circle cx="178.87" cy="335.4" r="1.33" fill="#222222" fill-opacity="0.75"/>
<circle cx="175.91" cy="335.35" r="1" fill="#202020" fill-opacity="0.83"/>
<circle cx="185.05" cy="342.97" r="1.12" fill="#202020" fill-opacity="0.75"/>
<circle cx="180.25" cy="340.88" r="1.8" fill="#202020" fill-opacity="0.76"/>
<circle cx="190.72" cy="330.23" r="1.59" fill="#202020" fill-opacity="0.77"/>
<circle cx="174.88" cy="336.19" r="1.31" fill="#202020" fill-opacity="0.87"/>
<circle cx="193.18" cy="335.32" r="1.36" fill="#1f1f1f" fill-opacity="0.80"/>
<circle cx="192.92" cy="334.02" r="2.08" fill="#1f1f1f" fill-opacity="0.91"/>
<circle cx="174.65" cy="337.67" r="1.57" fill="#1f1f1f" fill-opacity="0.94"/>
<circle cx="176.71" cy="337.71" r="2.13" fill="#1e1e1e" fill-opacity="0.93"/>
<circle cx="190.39" cy="334.32" r="1.98" fill="#1e1e1e" fill-opacity="0.86"/>
<circle cx="186.59" cy="346" r="1.33" fill="#1e1e1e" fill-opacity="0.82"/>
<circle cx="192.04" cy="331.49" r="1.27" fill="#1d1d1d" fill-opacity="0.87"/>
<circle cx="187.69" cy="335.57" r="1.13" fill="#1d1d1d" fill-opacity="0.92"/>
<circle cx="185.09" cy="343.08" r="1.09" fill="#1d1d1d" fill-opacity="0.84"/>
<circle cx="176.78" cy="334.09" r="1.76" fill="#1d1d1d" fill-opacity="0.91"/>
<circle cx="176.67" cy="333.78" r="1.06" fill="#1c1c1c" fill-opacity="0.80"/>
<circle cx="183.02" cy="348.2" r="2.38" fill="#1b1b1b" fill-opacity="0.79"/>
<circle cx="184.95" cy="344.84" r="1.52" fill="#1b1b1b" fill-opacity="0.80"/>
<circle cx="177.62" cy="336.76" r="1.41" fill="#1b1b1b" fill-opacity="0.78"/>
<circle cx="194.23" cy="330.83" r="2.18" fill="#1a1a1a" fill-opacity="0.81"/>
<circle cx="184.69" cy="345.18" r="1.86" fill="#1a1a1a" fill-opacity="0.83"/>
<circle cx="177.02" cy="336.81" r="2.17" fill="#1a1a1a" fill-opacity="0.77"/>
<circle cx="187.28" cy="330.62" r="1.53" fill="#191919" fill-opacity="0.92"/>
<circle cx="175.05" cy="335.75" r="1.37" fill="#171717" fill-opacity="0.90"/>
<circle cx="184.07" cy="346.08" r="2.21" fill="#151515" fill-opacity="0.80"/>
<circle cx="189.25" cy="334.43" r="1.12" fill="#141414" fill-opacity="0.79"/>
<circle cx="191.18" cy="330.48" r="1.37" fill="#131313" fill-opacity="0.95"/>
<circle cx="176.03" cy="333.48" r="2.32" fill="#131313" fill-opacity="0.91"/>
<circle cx="182.92" cy="343.06" r="1.64" fill="#121212" fill-opacity="0.88"/>
<circle cx="189.41" cy="330.53" r="1.45" fill="#121212" fill-opacity="0.91"/>
<circle cx="182.69" cy="346.44" r="2.1" fill="#121212" fill-opacity="0.86"/>
<circle cx="190.97" cy="332.84" r="1.78" fill="#121212" fill-opacity="0.82"/>
<circle cx="176.93" cy="332.44" r="1.89" fill="#111111" fill-opacity="0.87"/>
<circle cx="189.83" cy="330.43" r="1.98" fill="#0f0f0f" fill-opacity="0.91"/>
<circle cx="181.53" cy="344.84" r="1.24" fill="#0c0c0c" fill-opacity="0.92"/>
</g></g></g>
<text x="119.6" y="308.4" font-size="10" fill="#fafafa">CdSe-p-B</text><rect x="115" y="392.2" width="17.9" height="4.3" fill="#fff"/>
<g clip-path="url(#cp2)"><g filter="url(#tex)"><rect x="232.8" y="294.9" width="105.2" height="104.7" fill="#d9d9d9"/><ellipse cx="262" cy="355" rx="28" ry="35" fill="#dedede" filter="url(#b7)"/><g filter="url(#b08)"><path d="M301 402 L340 363 L340 402 Z" fill="#a2a2a2" /><line x1="298" y1="402" x2="340" y2="361" stroke="#dedede" stroke-width="2.5"/></g><path d="M233 350 Q245 350 255 346 Q268 342 280 340 Q300 333 320 328 Q330 325 338 322" fill="none" stroke="#b8b8b8" stroke-width="0.6"/><g filter="url(#b08)"><rect x="0" y="-4.8" width="61.35" height="9.6" rx="4.8" fill="#7e7e7e" fill-opacity="1" transform="translate(275.5 316) rotate(83.92)" /><rect x="0" y="-3.75" width="13.2" height="7.5" rx="3.75" fill="#9c9c9c" fill-opacity="1" transform="translate(284 318) rotate(65.38)" /><rect x="0" y="-3.5" width="58.08" height="7" rx="3.5" fill="#2e2e2e" fill-opacity="1" transform="translate(226 292.5) rotate(2.96)" /><rect x="0" y="-5.5" width="74.46" height="11" rx="5.5" fill="#4c4c4c" fill-opacity="1" transform="translate(270 313) rotate(-14.78)" /><rect x="0" y="-5.25" width="64.81" height="10.5" rx="5.25" fill="#383838" fill-opacity="1" transform="translate(224 301) rotate(22.21)" /><ellipse cx="258" cy="315" rx="4" ry="3" fill="#222" filter="url(#b12)"/><rect x="0" y="-6" width="40.33" height="12" rx="6" fill="#383838" fill-opacity="1" transform="translate(307 311.5) rotate(-19.56)" /><ellipse cx="311" cy="311" rx="3" ry="4.5" fill="#5a5a5a"/><rect x="0" y="-4" width="17.72" height="8" rx="4" fill="#2a2a2a" fill-opacity="1" transform="translate(334 314) rotate(73.61)" /><rect x="0" y="-4.7" width="66.05" height="9.4" rx="4.7" fill="#8a8a8a" fill-opacity="1" transform="translate(290.5 384.5) rotate(-66.35)" /><rect x="0" y="-5" width="61.72" height="10" rx="5" fill="#585858" fill-opacity="1" transform="translate(300 380) rotate(-63.02)" /><ellipse cx="311" cy="350" rx="5" ry="9" fill="#333" transform="rotate(25 311 350)" filter="url(#b12)"/><ellipse cx="318" cy="335" rx="3" ry="6" fill="#404040" transform="rotate(25 318 335)" filter="url(#b12)"/><path d="M305 374 L316 371 L320 384 L312 389 L305 385 Z" fill="#6a6a6a" /><line x1="307" y1="377" x2="318" y2="383" stroke="#aaa" stroke-width="0.6"/><line x1="307" y1="380" x2="316" y2="386" stroke="#aaa" stroke-width="0.6"/><ellipse cx="298" cy="385" rx="5" ry="1.8" fill="#f2f2f2"/></g></g></g>
<text x="240.9" y="308.6" font-size="10" fill="#fafafa">CdSe-r-A</text><rect x="236.3" y="392.4" width="17.9" height="4.4" fill="#fff"/>
<line x1="315" y1="398.8" x2="330" y2="398.8" stroke="#222" stroke-width="1"/>
<g clip-path="url(#cp3)"><g filter="url(#tex)"><rect x="342.3" y="294.5" width="105.7" height="105.7" fill="#dadada"/><ellipse cx="372" cy="325" rx="30" ry="25" fill="#e0e0e0" filter="url(#b7)"/><g filter="url(#b08)"><rect x="0" y="-9.75" width="83.41" height="19.5" rx="9.75" fill="#a2a2a2" fill-opacity="1" transform="translate(448 286) rotate(127.69)" /><rect x="0" y="-1.75" width="56.44" height="3.5" rx="1.75" fill="#606060" fill-opacity="0.85" transform="translate(449 294) rotate(119.74)" /><rect x="0" y="-5.75" width="54.2" height="11.5" rx="5.75" fill="#4c4c4c" fill-opacity="1" transform="translate(398 316) rotate(60.12)" /><path d="M405 330 L418 323 L428 341 L414 348 Z" fill="#3c3c3c" filter="url(#b12)"/><rect x="0" y="-6" width="31.4" height="12" rx="6" fill="#929292" fill-opacity="1" transform="translate(396 371) rotate(37.23)" /><rect x="0" y="-4.5" width="49.58" height="9" rx="4.5" fill="#8a8a8a" fill-opacity="1" transform="translate(417 366) rotate(48.27)" /><rect x="0" y="-7" width="49" height="14" rx="7" fill="#6e6e6e" fill-opacity="1" transform="translate(355 355.5) rotate(0)" /><rect x="0" y="-7" width="32" height="14" rx="3" fill="#4a4a4a" fill-opacity="1" transform="translate(372 355.5) rotate(0)" /><rect x="0" y="-8.75" width="70.21" height="17.5" rx="8.75" fill="#1f1f1f" fill-opacity="1" transform="translate(334 381) rotate(-17.4)" /><path d="M408 359 L413 357 L414.5 365 L409.5 366.5 Z" fill="#eeeeee" filter="url(#b05)"/><path d="M437 293 L449 293 L449 316 L441 306 Z" fill="#333333" /><path d="M341 388 L352 390 L356 401 L341 401 Z" fill="#2a2a2a" /></g></g></g>
<text x="352.1" y="308.4" font-size="10" fill="#fafafa">CdSe-r-B</text><rect x="346.9" y="392.1" width="18.1" height="4.2" fill="#fff"/>
<line x1="424" y1="398.5" x2="438" y2="398.5" stroke="#222" stroke-width="1"/>
<g clip-path="url(#cp4)"><g filter="url(#tex)"><rect x="466" y="294.5" width="105" height="105.5" fill="#a2a2a2"/><path d="M466 294 L571 294 L571 318 L540 328 L500 318 L466 328 Z" fill="#aeaeae" filter="url(#b7)"/><path d="M520 360 L571 335 L571 400 L500 400 Z" fill="#adadad" filter="url(#b7)"/><path d="M555 401 L572 380 L572 401 Z" fill="#8c8c8c" filter="url(#b08)"/><g filter="url(#b05)"><rect x="0" y="-1.6" width="40.92" height="3.2" rx="1.6" fill="#4a4a4a" fill-opacity="1" transform="translate(489 329.5) rotate(-26.88)" /><rect x="0" y="-1.5" width="24.38" height="3" rx="1.5" fill="#555555" fill-opacity="1" transform="translate(524 310.5) rotate(25.51)" /><rect x="0" y="-1.47" width="10.28" height="2.94" rx="0.5" fill="#343434" fill-opacity="0.89" transform="translate(546.55 322.15) rotate(30.81)" />
<rect x="0" y="-0.97" width="13.97" height="1.95" rx="0.5" fill="#2e2e2e" fill-opacity="0.88" transform="translate(547.78 319.39) rotate(107.9)" />
<rect x="0" y="-1.1" width="10.77" height="2.19" rx="0.5" fill="#545454" fill-opacity="0.67" transform="translate(548.4 307.62) rotate(57.41)" />
<rect x="0" y="-1.59" width="11.88" height="3.19" rx="0.5" fill="#505050" fill-opacity="0.59" transform="translate(538.53 306.37) rotate(48.73)" />
<rect x="0" y="-1.29" width="12.55" height="2.57" rx="0.5" fill="#3b3b3b" fill-opacity="0.62" transform="translate(558.25 324.25) rotate(15.94)" />
<rect x="0" y="-1.68" width="13.69" height="3.36" rx="0.5" fill="#636363" fill-opacity="0.82" transform="translate(560.09 313.49) rotate(118.07)" />
<rect x="0" y="-1.14" width="12.71" height="2.27" rx="0.5" fill="#363636" fill-opacity="0.51" transform="translate(551.33 306.11) rotate(120.46)" />
<rect x="0" y="-1.14" width="8.28" height="2.29" rx="0.5" fill="#5b5b5b" fill-opacity="0.85" transform="translate(560.42 315.05) rotate(24.07)" />
<rect x="0" y="-1.35" width="12.31" height="2.7" rx="0.5" fill="#333333" fill-opacity="0.54" transform="translate(538.56 307.01) rotate(58.67)" />
<rect x="0" y="-0.95" width="7.21" height="1.89" rx="0.5" fill="#4e4e4e" fill-opacity="0.70" transform="translate(546.3 312.65) rotate(121.76)" />
<rect x="0" y="-1.39" width="12.38" height="2.77" rx="0.5" fill="#484848" fill-opacity="0.83" transform="translate(548.35 320.28) rotate(19.65)" />
<rect x="0" y="-1.2" width="6.09" height="2.4" rx="0.5" fill="#3c3c3c" fill-opacity="0.57" transform="translate(537.12 317.2) rotate(56.37)" />
<rect x="0" y="-1.45" width="12.93" height="2.9" rx="0.5" fill="#4b4b4b" fill-opacity="0.72" transform="translate(552.7 309.07) rotate(30.72)" />
<rect x="0" y="-1.47" width="10.19" height="2.95" rx="0.5" fill="#464646" fill-opacity="0.79" transform="translate(556.49 320.59) rotate(107.63)" />
<rect x="0" y="-1.05" width="8.77" height="2.11" rx="0.5" fill="#3d3d3d" fill-opacity="0.65" transform="translate(549.3 308.93) rotate(20.54)" />
<rect x="0" y="-1.15" width="9.05" height="2.29" rx="0.5" fill="#444444" fill-opacity="0.78" transform="translate(555.61 325.16) rotate(11.38)" />
<rect x="0" y="-0.93" width="12.62" height="1.85" rx="0.5" fill="#4e4e4e" fill-opacity="0.86" transform="translate(553.27 307.56) rotate(65.64)" />
<rect x="0" y="-1.55" width="9.21" height="3.11" rx="0.5" fill="#424242" fill-opacity="0.58" transform="translate(547.87 307.85) rotate(106.73)" />
<rect x="0" y="-1.07" width="6.9" height="2.15" rx="0.5" fill="#626262" fill-opacity="0.85" transform="translate(546.85 313.03) rotate(121.03)" />
<rect x="0" y="-1.05" width="8.22" height="2.09" rx="0.5" fill="#2e2e2e" fill-opacity="0.69" transform="translate(559.51 326.22) rotate(70.45)" />
<rect x="0" y="-1.12" width="8.22" height="2.24" rx="0.5" fill="#3c3c3c" fill-opacity="0.86" transform="translate(544.3 317.17) rotate(31.55)" />
<rect x="0" y="-1.41" width="7.14" height="2.81" rx="0.5" fill="#575757" fill-opacity="0.84" transform="translate(542.65 314.15) rotate(13.74)" />
<rect x="0" y="-1.65" width="10.34" height="3.31" rx="0.5" fill="#525252" fill-opacity="0.71" transform="translate(555.18 323.9) rotate(16.96)" />
<rect x="0" y="-1.61" width="7.71" height="3.22" rx="0.5" fill="#575757" fill-opacity="0.52" transform="translate(564.26 311.77) rotate(57.55)" />
<rect x="0" y="-1.45" width="13.64" height="2.89" rx="0.5" fill="#3e3e3e" fill-opacity="0.89" transform="translate(550.1 330.85) rotate(9.16)" />
<rect x="0" y="-1.15" width="6.38" height="2.3" rx="0.5" fill="#2f2f2f" fill-opacity="0.66" transform="translate(544.2 317.29) rotate(51.38)" />
<rect x="0" y="-1.28" width="9.95" height="2.56" rx="0.5" fill="#3b3b3b" fill-opacity="0.80" transform="translate(550.87 317.6) rotate(9.84)" />
<rect x="0" y="-0.97" width="7.35" height="1.94" rx="0.5" fill="#5c5c5c" fill-opacity="0.52" transform="translate(561.42 328.9) rotate(106.13)" />
<rect x="0" y="-1.08" width="7.62" height="2.15" rx="0.5" fill="#303030" fill-opacity="0.85" transform="translate(555.05 327.26) rotate(62.86)" />
<rect x="0" y="-1.55" width="9.21" height="3.11" rx="0.5" fill="#555555" fill-opacity="0.86" transform="translate(550.34 326.01) rotate(58.82)" />
<rect x="0" y="-0.97" width="8.06" height="1.95" rx="0.5" fill="#303030" fill-opacity="0.85" transform="translate(559.99 327.41) rotate(53.75)" />
<rect x="0" y="-1.08" width="9.05" height="2.17" rx="0.5" fill="#3f3f3f" fill-opacity="0.88" transform="translate(543.68 324.57) rotate(11)" />
<rect x="0" y="-1.24" width="12.57" height="2.47" rx="0.5" fill="#303030" fill-opacity="0.76" transform="translate(548.98 309.58) rotate(62.35)" />
<rect x="0" y="-1.25" width="12.24" height="2.49" rx="0.5" fill="#313131" fill-opacity="0.54" transform="translate(562.54 320.44) rotate(54.38)" />
<rect x="0" y="-1.25" width="7.15" height="2.5" rx="0.5" fill="#353535" fill-opacity="0.60" transform="translate(562.58 318.01) rotate(59.44)" />
<rect x="0" y="-1" width="12.19" height="1.99" rx="0.5" fill="#535353" fill-opacity="0.74" transform="translate(545.67 323.81) rotate(61.18)" />
<rect x="0" y="-1.53" width="10.36" height="3.06" rx="0.5" fill="#4d4d4d" fill-opacity="0.72" transform="translate(551.18 321.11) rotate(14.33)" />
<rect x="0" y="-1.01" width="11.5" height="2.03" rx="0.5" fill="#616161" fill-opacity="0.79" transform="translate(547.75 303.32) rotate(102.04)" />
<rect x="0" y="-1.27" width="7.44" height="2.54" rx="0.5" fill="#343434" fill-opacity="0.85" transform="translate(559.79 323.05) rotate(58.88)" />
<rect x="0" y="-1.3" width="8.69" height="2.6" rx="0.5" fill="#515151" fill-opacity="0.58" transform="translate(545.89 315.1) rotate(27.76)" />
<rect x="0" y="-1.65" width="9.97" height="3.31" rx="0.5" fill="#343434" fill-opacity="0.87" transform="translate(544.98 320.69) rotate(109.07)" />
<rect x="0" y="-0.98" width="7.35" height="1.96" rx="0.5" fill="#595959" fill-opacity="0.84" transform="translate(563.82 327.02) rotate(104.94)" />
<rect x="0" y="-1.31" width="9.32" height="2.63" rx="0.5" fill="#616161" fill-opacity="0.66" transform="translate(545.02 310.33) rotate(16.89)" />
<rect x="0" y="-0.93" width="7.29" height="1.86" rx="0.5" fill="#313131" fill-opacity="0.56" transform="translate(537.82 308.24) rotate(20.34)" />
<rect x="0" y="-1.67" width="12.83" height="3.35" rx="0.5" fill="#464646" fill-opacity="0.81" transform="translate(557.49 325.21) rotate(53.88)" /><rect x="0" y="-0.92" width="10.38" height="1.84" rx="0.5" fill="#343434" fill-opacity="0.63" transform="translate(491.17 321.88) rotate(-5.24)" />
<rect x="0" y="-0.91" width="9.26" height="1.82" rx="0.5" fill="#5a5a5a" fill-opacity="0.84" transform="translate(522.75 331.93) rotate(166.13)" />
<rect x="0" y="-1.25" width="12.39" height="2.49" rx="0.5" fill="#646464" fill-opacity="0.72" transform="translate(492.77 345.89) rotate(-14.54)" />
<rect x="0" y="-1.55" width="9.67" height="3.1" rx="0.5" fill="#5a5a5a" fill-opacity="0.73" transform="translate(509.47 328.22) rotate(170.29)" />
<rect x="0" y="-0.96" width="10.88" height="1.93" rx="0.5" fill="#565656" fill-opacity="0.84" transform="translate(529.17 335.8) rotate(154.97)" />
<rect x="0" y="-1.03" width="9.8" height="2.06" rx="0.5" fill="#686868" fill-opacity="0.85" transform="translate(503.65 337.72) rotate(-21.78)" />
<rect x="0" y="-1.05" width="11.85" height="2.11" rx="0.5" fill="#343434" fill-opacity="0.50" transform="translate(504.79 320.32) rotate(155.25)" />
<rect x="0" y="-1.31" width="13.25" height="2.61" rx="0.5" fill="#3e3e3e" fill-opacity="0.65" transform="translate(538.97 331.71) rotate(-17.17)" />
<rect x="0" y="-1.18" width="14.84" height="2.36" rx="0.5" fill="#464646" fill-opacity="0.75" transform="translate(538.98 317.27) rotate(151.09)" />
<rect x="0" y="-1.68" width="13.93" height="3.35" rx="0.5" fill="#5c5c5c" fill-opacity="0.63" transform="translate(539.32 331.09) rotate(-9.16)" />
<rect x="0" y="-1.14" width="17.4" height="2.28" rx="0.5" fill="#646464" fill-opacity="0.70" transform="translate(509.03 319.24) rotate(-11.58)" />
<rect x="0" y="-1.63" width="12.83" height="3.25" rx="0.5" fill="#464646" fill-opacity="0.83" transform="translate(541.85 316.91) rotate(162.03)" />
<rect x="0" y="-1.05" width="12" height="2.1" rx="0.5" fill="#565656" fill-opacity="0.56" transform="translate(524.04 339.7) rotate(-16.7)" />
<rect x="0" y="-1.56" width="8.06" height="3.13" rx="0.5" fill="#3f3f3f" fill-opacity="0.72" transform="translate(530.67 316.02) rotate(169.7)" />
<rect x="0" y="-0.96" width="15.52" height="1.92" rx="0.5" fill="#525252" fill-opacity="0.90" transform="translate(549.07 328.57) rotate(168.76)" />
<rect x="0" y="-0.91" width="8.19" height="1.83" rx="0.5" fill="#676767" fill-opacity="0.65" transform="translate(516.12 317.62) rotate(-9.08)" />
<rect x="0" y="-1.19" width="14.21" height="2.38" rx="0.5" fill="#333333" fill-opacity="0.70" transform="translate(535.21 324.43) rotate(171.63)" />
<rect x="0" y="-1.08" width="14.39" height="2.16" rx="0.5" fill="#515151" fill-opacity="0.52" transform="translate(527.18 322.28) rotate(-15.64)" />
<rect x="0" y="-1.51" width="14.57" height="3.01" rx="0.5" fill="#606060" fill-opacity="0.52" transform="translate(510.43 339.17) rotate(-24.7)" />
<rect x="0" y="-1.07" width="16.42" height="2.14" rx="0.5" fill="#424242" fill-opacity="0.88" transform="translate(508.81 332.52) rotate(-6.41)" />
<rect x="0" y="-1.14" width="17.66" height="2.28" rx="0.5" fill="#666666" fill-opacity="0.78" transform="translate(485.16 328.94) rotate(-18.68)" />
<rect x="0" y="-1.24" width="15.86" height="2.47" rx="0.5" fill="#363636" fill-opacity="0.88" transform="translate(498.33 339.67) rotate(-28.42)" />
<rect x="0" y="-1.01" width="10.82" height="2.01" rx="0.5" fill="#464646" fill-opacity="0.86" transform="translate(542.02 331.96) rotate(166.41)" />
<rect x="0" y="-1.21" width="12.92" height="2.43" rx="0.5" fill="#616161" fill-opacity="0.84" transform="translate(518.72 330.84) rotate(169.44)" />
<rect x="0" y="-1.45" width="9.98" height="2.9" rx="0.5" fill="#373737" fill-opacity="0.89" transform="translate(506.71 319.26) rotate(-12.9)" />
<rect x="0" y="-1.12" width="13.47" height="2.24" rx="0.5" fill="#353535" fill-opacity="0.74" transform="translate(499.34 322.39) rotate(148.37)" />
<rect x="0" y="-1.22" width="9.22" height="2.44" rx="0.5" fill="#464646" fill-opacity="0.52" transform="translate(543.02 321.07) rotate(148.41)" />
<rect x="0" y="-1" width="14.88" height="1.99" rx="0.5" fill="#5a5a5a" fill-opacity="0.86" transform="translate(515.79 317.68) rotate(-17.27)" />
<rect x="0" y="-0.96" width="15.66" height="1.93" rx="0.5" fill="#3a3a3a" fill-opacity="0.90" transform="translate(530.96 333.94) rotate(-22.3)" />
<rect x="0" y="-1.21" width="13.49" height="2.42" rx="0.5" fill="#3c3c3c" fill-opacity="0.61" transform="translate(520.58 322.58) rotate(-22.18)" />
<rect x="0" y="-1.49" width="16.35" height="2.97" rx="0.5" fill="#404040" fill-opacity="0.55" transform="translate(493.33 336.83) rotate(-29.16)" />
<rect x="0" y="-1.7" width="8.92" height="3.39" rx="0.5" fill="#595959" fill-opacity="0.59" transform="translate(515.49 317.49) rotate(158.3)" />
<rect x="0" y="-1.27" width="9.98" height="2.54" rx="0.5" fill="#3d3d3d" fill-opacity="0.60" transform="translate(513.27 336.74) rotate(-19.08)" />
<rect x="0" y="-1.27" width="17.12" height="2.54" rx="0.5" fill="#363636" fill-opacity="0.80" transform="translate(541.06 318.5) rotate(155.75)" />
<rect x="0" y="-1.24" width="9.01" height="2.48" rx="0.5" fill="#4d4d4d" fill-opacity="0.53" transform="translate(492.68 345.09) rotate(-12.19)" />
<rect x="0" y="-1.51" width="17.52" height="3.03" rx="0.5" fill="#656565" fill-opacity="0.80" transform="translate(522.7 329.89) rotate(-9.21)" />
<rect x="0" y="-1.52" width="16.43" height="3.04" rx="0.5" fill="#606060" fill-opacity="0.62" transform="translate(502.14 320.63) rotate(-11.2)" />
<rect x="0" y="-1.07" width="17.68" height="2.15" rx="0.5" fill="#343434" fill-opacity="0.52" transform="translate(520.86 333.37) rotate(-22.41)" />
<rect x="0" y="-1.69" width="8.68" height="3.38" rx="0.5" fill="#535353" fill-opacity="0.65" transform="translate(525.49 318.38) rotate(-20.48)" />
<rect x="0" y="-0.91" width="10.07" height="1.82" rx="0.5" fill="#616161" fill-opacity="0.84" transform="translate(536.58 331.34) rotate(-13.13)" />
<rect x="0" y="-1.44" width="12.37" height="2.89" rx="0.5" fill="#4a4a4a" fill-opacity="0.72" transform="translate(510.22 326.31) rotate(-13.73)" />
<rect x="0" y="-1.02" width="8.42" height="2.04" rx="0.5" fill="#4e4e4e" fill-opacity="0.74" transform="translate(537.08 322.99) rotate(162.72)" />
<rect x="0" y="-0.97" width="17.12" height="1.94" rx="0.5" fill="#525252" fill-opacity="0.84" transform="translate(511.42 314.94) rotate(148.26)" />
<rect x="0" y="-1.61" width="14.19" height="3.22" rx="0.5" fill="#3a3a3a" fill-opacity="0.60" transform="translate(520.85 339.38) rotate(-23.13)" />
<rect x="0" y="-1.37" width="13.96" height="2.73" rx="0.5" fill="#4c4c4c" fill-opacity="0.72" transform="translate(504.08 330.3) rotate(-11.87)" />
<rect x="0" y="-1.09" width="15.84" height="2.19" rx="0.5" fill="#494949" fill-opacity="0.59" transform="translate(516.08 341.05) rotate(-21.48)" />
<rect x="0" y="-1.14" width="11.29" height="2.27" rx="0.5" fill="#565656" fill-opacity="0.50" transform="translate(503.93 328.8) rotate(-19.11)" />
<rect x="0" y="-1.2" width="16.06" height="2.41" rx="0.5" fill="#3b3b3b" fill-opacity="0.74" transform="translate(539.53 330.62) rotate(-8.62)" />
<rect x="0" y="-1.07" width="9.75" height="2.15" rx="0.5" fill="#5a5a5a" fill-opacity="0.76" transform="translate(500.88 324.02) rotate(-9.78)" />
<rect x="0" y="-1.1" width="9.45" height="2.2" rx="0.5" fill="#3b3b3b" fill-opacity="0.83" transform="translate(503.23 336.08) rotate(-0.08)" /><rect x="0" y="-1.48" width="14.8" height="2.96" rx="0.5" fill="#454545" fill-opacity="0.89" transform="translate(499.59 350.36) rotate(99.5)" />
<rect x="0" y="-1.57" width="15.44" height="3.14" rx="0.5" fill="#363636" fill-opacity="0.62" transform="translate(480.95 366.56) rotate(-61.31)" />
<rect x="0" y="-1.29" width="8.8" height="2.58" rx="0.5" fill="#545454" fill-opacity="0.60" transform="translate(497.73 365.19) rotate(-52.43)" />
<rect x="0" y="-1.06" width="15.91" height="2.12" rx="0.5" fill="#3a3a3a" fill-opacity="0.76" transform="translate(517.52 338.07) rotate(111.89)" />
<rect x="0" y="-1.27" width="11.25" height="2.55" rx="0.5" fill="#3c3c3c" fill-opacity="0.57" transform="translate(509.14 347.38) rotate(88.15)" />
<rect x="0" y="-1" width="14.08" height="2.01" rx="0.5" fill="#3d3d3d" fill-opacity="0.64" transform="translate(491.17 335.39) rotate(20.24)" />
<rect x="0" y="-1.77" width="10.54" height="3.55" rx="0.5" fill="#424242" fill-opacity="0.50" transform="translate(489.48 351.16) rotate(102.15)" />
<rect x="0" y="-1.01" width="14.73" height="2.03" rx="0.5" fill="#464646" fill-opacity="0.68" transform="translate(487.97 355.19) rotate(90.66)" />
<rect x="0" y="-1.44" width="13.29" height="2.87" rx="0.5" fill="#4f4f4f" fill-opacity="0.85" transform="translate(479.24 363.41) rotate(39.84)" />
<rect x="0" y="-1.87" width="14.76" height="3.73" rx="0.5" fill="#424242" fill-opacity="0.51" transform="translate(479.35 376.66) rotate(-65.75)" />
<rect x="0" y="-1.82" width="15.58" height="3.65" rx="0.5" fill="#373737" fill-opacity="0.88" transform="translate(489.12 356.53) rotate(92.02)" />
<rect x="0" y="-1.83" width="14.1" height="3.67" rx="0.5" fill="#5b5b5b" fill-opacity="0.80" transform="translate(503.47 352.99) rotate(-61.58)" />
<rect x="0" y="-1.24" width="6.92" height="2.49" rx="0.5" fill="#484848" fill-opacity="0.73" transform="translate(495.84 352.44) rotate(8.47)" />
<rect x="0" y="-1.01" width="12.8" height="2.02" rx="0.5" fill="#3f3f3f" fill-opacity="0.71" transform="translate(471.55 339.85) rotate(4.55)" />
<rect x="0" y="-1.73" width="15.17" height="3.46" rx="0.5" fill="#2b2b2b" fill-opacity="0.52" transform="translate(480.73 362.93) rotate(27.92)" />
<rect x="0" y="-1.08" width="9.35" height="2.16" rx="0.5" fill="#5d5d5d" fill-opacity="0.70" transform="translate(464.28 360.82) rotate(34.22)" />
<rect x="0" y="-1.26" width="10.98" height="2.52" rx="0.5" fill="#383838" fill-opacity="0.71" transform="translate(478.94 332.13) rotate(22.33)" />
<rect x="0" y="-1.18" width="6.82" height="2.37" rx="0.5" fill="#2b2b2b" fill-opacity="0.54" transform="translate(488.44 358.9) rotate(92.85)" />
<rect x="0" y="-1.58" width="10.6" height="3.15" rx="0.5" fill="#323232" fill-opacity="0.51" transform="translate(487.06 342.61) rotate(-58.93)" />
<rect x="0" y="-1.55" width="8.37" height="3.11" rx="0.5" fill="#585858" fill-opacity="0.70" transform="translate(472.46 342.12) rotate(105.67)" />
<rect x="0" y="-1.14" width="6.42" height="2.29" rx="0.5" fill="#626262" fill-opacity="0.64" transform="translate(500.14 352.12) rotate(93.39)" />
<rect x="0" y="-1.12" width="12.73" height="2.23" rx="0.5" fill="#2d2d2d" fill-opacity="0.87" transform="translate(479.39 362.06) rotate(23.45)" />
<rect x="0" y="-1.79" width="7.99" height="3.59" rx="0.5" fill="#3e3e3e" fill-opacity="0.83" transform="translate(499.37 366.02) rotate(-67.47)" />
<rect x="0" y="-1.6" width="8.35" height="3.2" rx="0.5" fill="#606060" fill-opacity="0.82" transform="translate(483.56 357.41) rotate(103.04)" />
<rect x="0" y="-1.25" width="10.41" height="2.5" rx="0.5" fill="#585858" fill-opacity="0.54" transform="translate(486.32 347.51) rotate(11.85)" />
<rect x="0" y="-1.21" width="7.32" height="2.43" rx="0.5" fill="#565656" fill-opacity="0.88" transform="translate(474.39 343.6) rotate(38.03)" />
<rect x="0" y="-1.08" width="9.98" height="2.17" rx="0.5" fill="#474747" fill-opacity="0.68" transform="translate(485.16 336.86) rotate(22.07)" />
<rect x="0" y="-1.49" width="9.11" height="2.97" rx="0.5" fill="#464646" fill-opacity="0.61" transform="translate(516.23 347.93) rotate(30.16)" />
<rect x="0" y="-1.87" width="10.84" height="3.74" rx="0.5" fill="#232323" fill-opacity="0.62" transform="translate(480.17 337.49) rotate(92.06)" />
<rect x="0" y="-1.22" width="14.23" height="2.44" rx="0.5" fill="#4a4a4a" fill-opacity="0.85" transform="translate(484.81 354.49) rotate(98.81)" />
<rect x="0" y="-1.22" width="10.32" height="2.44" rx="0.5" fill="#525252" fill-opacity="0.75" transform="translate(513.23 345.98) rotate(7.73)" />
<rect x="0" y="-1.71" width="7.15" height="3.42" rx="0.5" fill="#5d5d5d" fill-opacity="0.51" transform="translate(508.7 342.62) rotate(9.94)" />
<rect x="0" y="-1.32" width="11.11" height="2.64" rx="0.5" fill="#333333" fill-opacity="0.60" transform="translate(484.57 344.06) rotate(13.39)" />
<rect x="0" y="-1.07" width="15.88" height="2.14" rx="0.5" fill="#3f3f3f" fill-opacity="0.63" transform="translate(489.42 360.52) rotate(9.22)" />
<rect x="0" y="-1.73" width="7.77" height="3.46" rx="0.5" fill="#3b3b3b" fill-opacity="0.62" transform="translate(476.94 366.6) rotate(91.15)" />
<rect x="0" y="-1.06" width="11.92" height="2.11" rx="0.5" fill="#454545" fill-opacity="0.73" transform="translate(477.46 344.61) rotate(10.48)" />
<rect x="0" y="-1.15" width="10.12" height="2.3" rx="0.5" fill="#4b4b4b" fill-opacity="0.62" transform="translate(481.78 371.04) rotate(-56.23)" />
<rect x="0" y="-1.11" width="10.9" height="2.22" rx="0.5" fill="#4a4a4a" fill-opacity="0.74" transform="translate(471.57 350.7) rotate(34.26)" />
<rect x="0" y="-1.68" width="9.14" height="3.36" rx="0.5" fill="#393939" fill-opacity="0.88" transform="translate(477.36 350.16) rotate(111.17)" />
<rect x="0" y="-1.03" width="6.69" height="2.05" rx="0.5" fill="#2e2e2e" fill-opacity="0.56" transform="translate(473.23 358.6) rotate(5.69)" />
<rect x="0" y="-1.64" width="12.11" height="3.29" rx="0.5" fill="#535353" fill-opacity="0.87" transform="translate(497.96 352.14) rotate(18.56)" />
<rect x="0" y="-1.08" width="10.5" height="2.16" rx="0.5" fill="#2f2f2f" fill-opacity="0.56" transform="translate(507.58 342.58) rotate(88.49)" />
<rect x="0" y="-1.19" width="9.59" height="2.38" rx="0.5" fill="#545454" fill-opacity="0.86" transform="translate(477.07 356.85) rotate(109.42)" />
<rect x="0" y="-1.71" width="15.23" height="3.42" rx="0.5" fill="#626262" fill-opacity="0.55" transform="translate(470.85 337.01) rotate(10.72)" />
<rect x="0" y="-1.62" width="10.94" height="3.24" rx="0.5" fill="#3a3a3a" fill-opacity="0.65" transform="translate(469.33 346.22) rotate(-53.81)" />
<rect x="0" y="-1.89" width="8.44" height="3.78" rx="0.5" fill="#4d4d4d" fill-opacity="0.66" transform="translate(478.23 342.47) rotate(92.72)" />
<rect x="0" y="-1.31" width="11.48" height="2.61" rx="0.5" fill="#5a5a5a" fill-opacity="0.65" transform="translate(506.2 354.42) rotate(3.73)" />
<rect x="0" y="-1.63" width="7.01" height="3.26" rx="0.5" fill="#373737" fill-opacity="0.60" transform="translate(486.37 349.22) rotate(97.12)" />
<rect x="0" y="-1.44" width="13.83" height="2.89" rx="0.5" fill="#282828" fill-opacity="0.66" transform="translate(495.06 355.85) rotate(-62.46)" />
<rect x="0" y="-1.79" width="14.7" height="3.57" rx="0.5" fill="#393939" fill-opacity="0.65" transform="translate(481.27 357.27) rotate(25.18)" />
<rect x="0" y="-1.81" width="13.7" height="3.63" rx="0.5" fill="#535353" fill-opacity="0.86" transform="translate(501.83 330.87) rotate(96.72)" />
<rect x="0" y="-1.07" width="12.85" height="2.15" rx="0.5" fill="#313131" fill-opacity="0.57" transform="translate(493.69 345.89) rotate(23.37)" />
<rect x="0" y="-1.79" width="13.55" height="3.57" rx="0.5" fill="#484848" fill-opacity="0.59" transform="translate(503.91 348.21) rotate(103.83)" />
<rect x="0" y="-1.36" width="14.09" height="2.73" rx="0.5" fill="#2f2f2f" fill-opacity="0.67" transform="translate(471.34 371.74) rotate(-49.15)" />
<rect x="0" y="-1.19" width="6.69" height="2.37" rx="0.5" fill="#555555" fill-opacity="0.68" transform="translate(488.93 366.42) rotate(38.07)" />
<rect x="0" y="-1.24" width="14.88" height="2.49" rx="0.5" fill="#474747" fill-opacity="0.89" transform="translate(469.88 344.78) rotate(104.82)" />
<rect x="0" y="-1.02" width="11" height="2.04" rx="0.5" fill="#505050" fill-opacity="0.86" transform="translate(469.1 347.96) rotate(19.32)" />
<rect x="0" y="-1.53" width="13.84" height="3.05" rx="0.5" fill="#535353" fill-opacity="0.53" transform="translate(479.36 335.03) rotate(3.7)" />
<rect x="0" y="-1.41" width="9.3" height="2.82" rx="0.5" fill="#404040" fill-opacity="0.90" transform="translate(493.55 359.87) rotate(92.16)" />
<rect x="0" y="-1.15" width="15.34" height="2.3" rx="0.5" fill="#272727" fill-opacity="0.81" transform="translate(496.08 344.26) rotate(-50.18)" />
<rect x="0" y="-1.71" width="15.62" height="3.41" rx="0.5" fill="#474747" fill-opacity="0.85" transform="translate(488.51 369.97) rotate(-58.44)" />
<rect x="0" y="-1.63" width="15.61" height="3.27" rx="0.5" fill="#3b3b3b" fill-opacity="0.72" transform="translate(499.88 347.58) rotate(-63.09)" />
<rect x="0" y="-1.54" width="9.99" height="3.08" rx="0.5" fill="#232323" fill-opacity="0.77" transform="translate(482.46 356.22) rotate(26.59)" />
<rect x="0" y="-1.25" width="15.16" height="2.5" rx="0.5" fill="#393939" fill-opacity="0.88" transform="translate(468.99 345.72) rotate(-62.97)" />
<rect x="0" y="-1.08" width="7.05" height="2.17" rx="0.5" fill="#373737" fill-opacity="0.62" transform="translate(471.75 338.85) rotate(-63.91)" />
<rect x="0" y="-1.12" width="15.16" height="2.24" rx="0.5" fill="#535353" fill-opacity="0.81" transform="translate(469.53 360.54) rotate(26.81)" />
<rect x="0" y="-1.85" width="6.43" height="3.69" rx="0.5" fill="#616161" fill-opacity="0.64" transform="translate(506.94 360.09) rotate(-54.35)" />
<rect x="0" y="-1.63" width="10.13" height="3.26" rx="0.5" fill="#616161" fill-opacity="0.65" transform="translate(486.68 343.07) rotate(36.73)" />
<rect x="0" y="-1.07" width="13.6" height="2.14" rx="0.5" fill="#5f5f5f" fill-opacity="0.52" transform="translate(489.77 337.27) rotate(94.21)" />
<rect x="0" y="-1.25" width="15.1" height="2.5" rx="0.5" fill="#2e2e2e" fill-opacity="0.81" transform="translate(472.65 360.45) rotate(14.17)" />
<rect x="0" y="-1.62" width="13.47" height="3.24" rx="0.5" fill="#4e4e4e" fill-opacity="0.53" transform="translate(493.91 333.42) rotate(39.4)" />
<rect x="0" y="-1.52" width="9.01" height="3.05" rx="0.5" fill="#454545" fill-opacity="0.79" transform="translate(506.55 341.74) rotate(10.46)" />
<rect x="0" y="-1.11" width="15.99" height="2.22" rx="0.5" fill="#4c4c4c" fill-opacity="0.84" transform="translate(473.32 369.64) rotate(-65.82)" />
<rect x="0" y="-1.59" width="8.34" height="3.18" rx="0.5" fill="#242424" fill-opacity="0.68" transform="translate(489.66 339.88) rotate(-51.4)" />
<rect x="0" y="-1.14" width="15.11" height="2.29" rx="0.5" fill="#616161" fill-opacity="0.61" transform="translate(485.74 347.35) rotate(24.91)" />
<rect x="0" y="-1.82" width="8.24" height="3.64" rx="0.5" fill="#575757" fill-opacity="0.58" transform="translate(466.17 356.63) rotate(41.69)" />
<rect x="0" y="-1.26" width="15.98" height="2.52" rx="0.5" fill="#252525" fill-opacity="0.87" transform="translate(485.56 346.01) rotate(29.86)" />
<rect x="0" y="-1.67" width="13.03" height="3.34" rx="0.5" fill="#363636" fill-opacity="0.81" transform="translate(484.32 343.2) rotate(-48.96)" />
<rect x="0" y="-1.65" width="10.5" height="3.3" rx="0.5" fill="#535353" fill-opacity="0.80" transform="translate(485.89 338.39) rotate(108.51)" />
<rect x="0" y="-1.53" width="11.73" height="3.06" rx="0.5" fill="#2e2e2e" fill-opacity="0.86" transform="translate(507.35 353.31) rotate(-71.28)" /><rect x="0" y="-1.4" width="5" height="2.8" rx="0.5" fill="#222222" fill-opacity="0.79" transform="translate(491.4 359.32) rotate(109)" />
<rect x="0" y="-1.69" width="10.79" height="3.37" rx="0.5" fill="#262626" fill-opacity="0.82" transform="translate(487.34 351.64) rotate(21.83)" />
<rect x="0" y="-1.06" width="9.91" height="2.13" rx="0.5" fill="#242424" fill-opacity="0.70" transform="translate(495.47 348.73) rotate(20.34)" />
<rect x="0" y="-1.62" width="11.98" height="3.24" rx="0.5" fill="#2c2c2c" fill-opacity="0.80" transform="translate(489.16 355.71) rotate(8.08)" />
<rect x="0" y="-1.48" width="11.53" height="2.96" rx="0.5" fill="#373737" fill-opacity="0.60" transform="translate(483.65 357.26) rotate(28.83)" />
<rect x="0" y="-1.69" width="7.07" height="3.38" rx="0.5" fill="#1c1c1c" fill-opacity="0.59" transform="translate(486.45 351.47) rotate(103.59)" />
<rect x="0" y="-1.25" width="11.97" height="2.49" rx="0.5" fill="#353535" fill-opacity="0.51" transform="translate(483.05 343.62) rotate(25.41)" />
<rect x="0" y="-1.07" width="9.55" height="2.14" rx="0.5" fill="#343434" fill-opacity="0.64" transform="translate(491.47 347.52) rotate(90.04)" />
<rect x="0" y="-1.62" width="5.6" height="3.25" rx="0.5" fill="#242424" fill-opacity="0.61" transform="translate(484.89 344.66) rotate(20.97)" />
<rect x="0" y="-0.96" width="8.48" height="1.93" rx="0.5" fill="#343434" fill-opacity="0.62" transform="translate(480.95 347.59) rotate(15.17)" />
<rect x="0" y="-0.99" width="8.16" height="1.97" rx="0.5" fill="#373737" fill-opacity="0.86" transform="translate(487.39 347.35) rotate(11.31)" />
<rect x="0" y="-1.04" width="5.22" height="2.07" rx="0.5" fill="#1c1c1c" fill-opacity="0.52" transform="translate(487.65 353.41) rotate(101.16)" />
<rect x="0" y="-1.19" width="6" height="2.37" rx="0.5" fill="#1d1d1d" fill-opacity="0.75" transform="translate(486.31 346.68) rotate(18.17)" />
<rect x="0" y="-1.39" width="8.7" height="2.78" rx="0.5" fill="#323232" fill-opacity="0.80" transform="translate(487.83 350.06) rotate(11.75)" />
<rect x="0" y="-1.31" width="9.24" height="2.63" rx="0.5" fill="#3e3e3e" fill-opacity="0.79" transform="translate(486.49 359.79) rotate(9.8)" />
<rect x="0" y="-1.32" width="8.44" height="2.65" rx="0.5" fill="#191919" fill-opacity="0.70" transform="translate(492.46 354.53) rotate(18.73)" />
<rect x="0" y="-1.09" width="9.02" height="2.18" rx="0.5" fill="#404040" fill-opacity="0.77" transform="translate(487.88 349.78) rotate(17.37)" />
<rect x="0" y="-1.48" width="6.21" height="2.96" rx="0.5" fill="#3d3d3d" fill-opacity="0.61" transform="translate(494.09 355.7) rotate(25.33)" />
<rect x="0" y="-1.67" width="9.93" height="3.34" rx="0.5" fill="#3d3d3d" fill-opacity="0.67" transform="translate(488 339.61) rotate(96.94)" />
<rect x="0" y="-1.6" width="7.26" height="3.2" rx="0.5" fill="#2d2d2d" fill-opacity="0.78" transform="translate(491.86 351.28) rotate(24.04)" />
<rect x="0" y="-0.97" width="7.65" height="1.93" rx="0.5" fill="#242424" fill-opacity="0.86" transform="translate(489.45 341.41) rotate(108.61)" />
<rect x="0" y="-1.21" width="10.97" height="2.43" rx="0.5" fill="#232323" fill-opacity="0.80" transform="translate(489.22 351.78) rotate(95.08)" />
<rect x="0" y="-1.34" width="8.14" height="2.69" rx="0.5" fill="#1b1b1b" fill-opacity="0.74" transform="translate(486.34 351.02) rotate(17.2)" />
<rect x="0" y="-1.61" width="6.49" height="3.22" rx="0.5" fill="#404040" fill-opacity="0.64" transform="translate(486.33 343.08) rotate(105.28)" />
<rect x="0" y="-1.07" width="9.22" height="2.15" rx="0.5" fill="#323232" fill-opacity="0.63" transform="translate(483.17 351.86) rotate(20.79)" />
<rect x="0" y="-1.24" width="6.26" height="2.49" rx="0.5" fill="#2f2f2f" fill-opacity="0.85" transform="translate(492.58 352.99) rotate(105.48)" />
<rect x="0" y="-0.93" width="7.6" height="1.87" rx="0.5" fill="#393939" fill-opacity="0.82" transform="translate(490.22 349.31) rotate(103.98)" />
<rect x="0" y="-0.99" width="11.8" height="1.97" rx="0.5" fill="#242424" fill-opacity="0.62" transform="translate(495.75 338.73) rotate(99.42)" />
<rect x="0" y="-1.48" width="9.71" height="2.95" rx="0.5" fill="#202020" fill-opacity="0.57" transform="translate(491.85 349.15) rotate(9.33)" />
<rect x="0" y="-1.47" width="8.42" height="2.95" rx="0.5" fill="#2d2d2d" fill-opacity="0.90" transform="translate(493.01 347.82) rotate(104.01)" />
<rect x="0" y="-1.18" width="5.15" height="2.36" rx="0.5" fill="#191919" fill-opacity="0.74" transform="translate(498.91 354.43) rotate(27.72)" />
<rect x="0" y="-1.14" width="5.77" height="2.28" rx="0.5" fill="#393939" fill-opacity="0.69" transform="translate(498.44 347.88) rotate(103.89)" />
<rect x="0" y="-1.38" width="6.73" height="2.77" rx="0.5" fill="#1d1d1d" fill-opacity="0.56" transform="translate(488.94 339.65) rotate(91.1)" />
<rect x="0" y="-0.99" width="7.4" height="1.99" rx="0.5" fill="#383838" fill-opacity="0.56" transform="translate(493.49 351.8) rotate(94.58)" />
<rect x="0" y="-1.15" width="9.97" height="2.31" rx="0.5" fill="#191919" fill-opacity="0.72" transform="translate(490 356.41) rotate(8.53)" /><rect x="0" y="-1.19" width="11.18" height="2.38" rx="0.5" fill="#707070" fill-opacity="0.67" transform="translate(481.86 378.83) rotate(79.57)" />
<rect x="0" y="-1.18" width="5.68" height="2.36" rx="0.5" fill="#3c3c3c" fill-opacity="0.56" transform="translate(473.67 366.8) rotate(27.74)" />
<rect x="0" y="-1.57" width="8.86" height="3.14" rx="0.5" fill="#686868" fill-opacity="0.87" transform="translate(483.8 387.14) rotate(104.13)" />
<rect x="0" y="-1.26" width="6.49" height="2.52" rx="0.5" fill="#454545" fill-opacity="0.55" transform="translate(485.62 382.91) rotate(107.16)" />
<rect x="0" y="-1.55" width="10.24" height="3.1" rx="0.5" fill="#4b4b4b" fill-opacity="0.55" transform="translate(472.5 382.71) rotate(71.95)" />
<rect x="0" y="-1.17" width="10.44" height="2.35" rx="0.5" fill="#6b6b6b" fill-opacity="0.54" transform="translate(473.51 390.11) rotate(67.73)" />
<rect x="0" y="-1.03" width="5.98" height="2.05" rx="0.5" fill="#4d4d4d" fill-opacity="0.87" transform="translate(478.51 377.46) rotate(68.66)" />
<rect x="0" y="-1.65" width="6.59" height="3.31" rx="0.5" fill="#4d4d4d" fill-opacity="0.71" transform="translate(483.52 381.15) rotate(107.75)" />
<rect x="0" y="-1.23" width="6.3" height="2.47" rx="0.5" fill="#565656" fill-opacity="0.76" transform="translate(489.69 373.01) rotate(102.16)" />
<rect x="0" y="-1.11" width="5.83" height="2.22" rx="0.5" fill="#404040" fill-opacity="0.77" transform="translate(484.73 379.33) rotate(61.87)" />
<rect x="0" y="-1.02" width="11.97" height="2.05" rx="0.5" fill="#6f6f6f" fill-opacity="0.89" transform="translate(475.32 367.24) rotate(24.66)" />
<rect x="0" y="-1.04" width="7.28" height="2.08" rx="0.5" fill="#434343" fill-opacity="0.80" transform="translate(476.26 388.69) rotate(60.66)" />
<rect x="0" y="-1.38" width="11.03" height="2.77" rx="0.5" fill="#595959" fill-opacity="0.68" transform="translate(475.57 389.66) rotate(25.63)" />
<rect x="0" y="-0.96" width="6.18" height="1.92" rx="0.5" fill="#525252" fill-opacity="0.71" transform="translate(480.42 377.42) rotate(113.12)" />
<rect x="0" y="-1.6" width="6.53" height="3.21" rx="0.5" fill="#707070" fill-opacity="0.62" transform="translate(490.19 369.4) rotate(18.88)" />
<rect x="0" y="-1.15" width="8.55" height="2.29" rx="0.5" fill="#424242" fill-opacity="0.50" transform="translate(483.6 365.21) rotate(61.62)" />
<rect x="0" y="-1.33" width="7.11" height="2.65" rx="0.5" fill="#585858" fill-opacity="0.89" transform="translate(472.29 376.74) rotate(118.52)" />
<rect x="0" y="-1.14" width="5.25" height="2.29" rx="0.5" fill="#454545" fill-opacity="0.70" transform="translate(491.5 372.43) rotate(114.36)" />
<rect x="0" y="-1.65" width="5.67" height="3.3" rx="0.5" fill="#4a4a4a" fill-opacity="0.90" transform="translate(467.28 392.69) rotate(17.48)" />
<rect x="0" y="-1.69" width="11.74" height="3.39" rx="0.5" fill="#656565" fill-opacity="0.52" transform="translate(484.34 376) rotate(19.09)" />
<rect x="0" y="-1.27" width="5.77" height="2.53" rx="0.5" fill="#464646" fill-opacity="0.59" transform="translate(486.06 375.81) rotate(65.54)" />
<rect x="0" y="-1.63" width="5.37" height="3.25" rx="0.5" fill="#4a4a4a" fill-opacity="0.64" transform="translate(470.54 386.95) rotate(26.87)" />
<rect x="0" y="-1.14" width="8.94" height="2.28" rx="0.5" fill="#555555" fill-opacity="0.74" transform="translate(478.62 371.12) rotate(117.05)" />
<rect x="0" y="-1.62" width="5.38" height="3.23" rx="0.5" fill="#484848" fill-opacity="0.65" transform="translate(486.21 372.78) rotate(103.65)" /></g></g></g>
<text x="473.9" y="308.6" font-size="10" fill="#fafafa">CdS-r-A</text><rect x="469" y="392.4" width="17.8" height="4.4" fill="#fff"/>
<g clip-path="url(#cp5)"><g filter="url(#tex)"><rect x="576" y="294.8" width="105.3" height="105.3" fill="#acacac"/><path d="M576 360 L682 352 L682 401 L576 401 Z" fill="#a5a5a5" filter="url(#b4)"/><path d="M576 294.8 L591 294.8 L576 306 Z" fill="#9a9a9a" /><g filter="url(#b05)">
<circle cx="613.18" cy="351.87" r="1.09" fill="#898989" fill-opacity="0.85"/>
<circle cx="619.38" cy="317.06" r="1.39" fill="#878787" fill-opacity="0.76"/>
<circle cx="645.01" cy="337.81" r="1.78" fill="#878787" fill-opacity="0.86"/>
<circle cx="639.09" cy="317.92" r="0.88" fill="#858585" fill-opacity="0.81"/>
<circle cx="644.43" cy="322.22" r="1.13" fill="#858585" fill-opacity="0.88"/>
<circle cx="607.75" cy="345.25" r="1.3" fill="#838383" fill-opacity="0.94"/>
<circle cx="609.02" cy="341.3" r="1.24" fill="#838383" fill-opacity="0.76"/>
<circle cx="613.48" cy="349.67" r="1.26" fill="#818181" fill-opacity="0.79"/>
<circle cx="641.55" cy="317.99" r="1.58" fill="#818181" fill-opacity="0.90"/>
<circle cx="623.99" cy="314.95" r="1.53" fill="#808080" fill-opacity="0.85"/>
<circle cx="624.59" cy="352.56" r="1.63" fill="#808080" fill-opacity="0.80"/>
<circle cx="636.93" cy="348" r="1.19" fill="#7e7e7e" fill-opacity="0.89"/>
<circle cx="608.72" cy="345.03" r="1.76" fill="#7d7d7d" fill-opacity="0.81"/>
<circle cx="644.26" cy="325.65" r="1.35" fill="#7a7a7a" fill-opacity="0.83"/>
<circle cx="646.92" cy="328.82" r="1.1" fill="#7a7a7a" fill-opacity="0.81"/>
<circle cx="634.48" cy="317.39" r="1.36" fill="#787878" fill-opacity="0.83"/>
<circle cx="642.52" cy="322.35" r="1.69" fill="#787878" fill-opacity="0.85"/>
<circle cx="621.07" cy="315.38" r="0.83" fill="#787878" fill-opacity="0.90"/>
<circle cx="613.65" cy="323.88" r="1.33" fill="#777777" fill-opacity="0.82"/>
<circle cx="610.05" cy="331.55" r="1.71" fill="#777777" fill-opacity="0.77"/>
<circle cx="644.57" cy="326.82" r="1.44" fill="#767676" fill-opacity="0.76"/>
<circle cx="612.18" cy="328.06" r="1.66" fill="#767676" fill-opacity="0.93"/>
<circle cx="610.09" cy="336.62" r="1.73" fill="#757575" fill-opacity="0.78"/>
<circle cx="622.3" cy="353.74" r="1.37" fill="#757575" fill-opacity="0.83"/>
<circle cx="647.05" cy="332.57" r="1.21" fill="#757575" fill-opacity="0.87"/>
<circle cx="645.78" cy="331.33" r="1.2" fill="#737373" fill-opacity="0.81"/>
<circle cx="612.05" cy="326.38" r="1.34" fill="#737373" fill-opacity="0.89"/>
<circle cx="613.52" cy="349.68" r="0.91" fill="#727272" fill-opacity="0.79"/>
<circle cx="633.33" cy="316.09" r="1.76" fill="#707070" fill-opacity="0.85"/>
<circle cx="617.62" cy="350.42" r="0.92" fill="#707070" fill-opacity="0.80"/>
<circle cx="639.47" cy="347.71" r="1.22" fill="#707070" fill-opacity="0.75"/>
<circle cx="641.58" cy="341.91" r="1.48" fill="#6f6f6f" fill-opacity="0.84"/>
<circle cx="633.1" cy="317.16" r="1.07" fill="#6e6e6e" fill-opacity="0.75"/>
<circle cx="610.37" cy="328.58" r="1.68" fill="#6e6e6e" fill-opacity="0.77"/>
<circle cx="620.14" cy="353.55" r="1.8" fill="#6d6d6d" fill-opacity="0.89"/>
<circle cx="632.53" cy="348.98" r="1.31" fill="#6c6c6c" fill-opacity="0.92"/>
<circle cx="628.71" cy="352.15" r="1.65" fill="#6b6b6b" fill-opacity="0.83"/>
<circle cx="636.4" cy="351.17" r="1.63" fill="#6b6b6b" fill-opacity="0.76"/>
<circle cx="644.32" cy="329.62" r="1.16" fill="#6a6a6a" fill-opacity="0.94"/>
<circle cx="610.02" cy="348.34" r="0.87" fill="#6a6a6a" fill-opacity="0.77"/>
<circle cx="636.62" cy="317.64" r="1.2" fill="#696969" fill-opacity="0.93"/>
<circle cx="609.51" cy="347.48" r="1.2" fill="#696969" fill-opacity="0.80"/>
<circle cx="615.98" cy="320.29" r="1.2" fill="#696969" fill-opacity="0.85"/>
<circle cx="643.71" cy="334.6" r="1.67" fill="#686868" fill-opacity="0.84"/>
<circle cx="638.76" cy="318.71" r="0.81" fill="#686868" fill-opacity="0.91"/>
<circle cx="609.98" cy="331.3" r="1.03" fill="#666666" fill-opacity="0.86"/>
<circle cx="626.34" cy="316.03" r="1.72" fill="#656565" fill-opacity="0.94"/>
<circle cx="610.98" cy="338.21" r="1.18" fill="#646464" fill-opacity="0.91"/>
<circle cx="643.44" cy="324.37" r="1.09" fill="#646464" fill-opacity="0.90"/>
<circle cx="633.75" cy="318.17" r="1.14" fill="#646464" fill-opacity="0.88"/>
<circle cx="611.95" cy="329.44" r="1.44" fill="#636363" fill-opacity="0.81"/>
<circle cx="645.35" cy="331.38" r="1.36" fill="#636363" fill-opacity="0.92"/>
<circle cx="611.62" cy="335.05" r="1.01" fill="#636363" fill-opacity="0.80"/>
<circle cx="613.82" cy="327.78" r="1.28" fill="#626262" fill-opacity="0.83"/>
<circle cx="613.99" cy="322.77" r="1.75" fill="#616161" fill-opacity="0.88"/>
<circle cx="629.96" cy="316.07" r="1.21" fill="#616161" fill-opacity="0.78"/>
<circle cx="630.96" cy="317.46" r="1.45" fill="#616161" fill-opacity="0.92"/>
<circle cx="625.78" cy="316.62" r="1.68" fill="#606060" fill-opacity="0.87"/>
<circle cx="618.21" cy="320.33" r="1.07" fill="#606060" fill-opacity="0.88"/>
<circle cx="641.27" cy="323.95" r="1.78" fill="#606060" fill-opacity="0.91"/>
<circle cx="610.28" cy="343.5" r="1.52" fill="#606060" fill-opacity="0.95"/>
<circle cx="626.89" cy="317.26" r="0.81" fill="#5f5f5f" fill-opacity="0.76"/>
<circle cx="626.57" cy="351.51" r="1.06" fill="#5e5e5e" fill-opacity="0.80"/>
<circle cx="632.69" cy="349.4" r="1.4" fill="#5d5d5d" fill-opacity="0.78"/>
<circle cx="622.57" cy="350.98" r="1.62" fill="#5b5b5b" fill-opacity="0.81"/>
<circle cx="618.26" cy="319.26" r="1.2" fill="#5b5b5b" fill-opacity="0.91"/>
<circle cx="642.92" cy="328.75" r="1.34" fill="#5b5b5b" fill-opacity="0.82"/>
<circle cx="639.96" cy="341.14" r="1.38" fill="#5a5a5a" fill-opacity="0.80"/>
<circle cx="627.21" cy="348.94" r="1.2" fill="#595959" fill-opacity="0.88"/>
<circle cx="628.57" cy="349.36" r="1.31" fill="#585858" fill-opacity="0.86"/>
<circle cx="629.85" cy="348.07" r="0.94" fill="#585858" fill-opacity="0.76"/>
<circle cx="641.06" cy="324.73" r="1.06" fill="#585858" fill-opacity="0.76"/>
<circle cx="630.4" cy="348.91" r="1.35" fill="#585858" fill-opacity="0.76"/>
<circle cx="614.76" cy="323.32" r="0.88" fill="#565656" fill-opacity="0.87"/>
<circle cx="618.85" cy="319.6" r="1.76" fill="#565656" fill-opacity="0.86"/>
<circle cx="644.27" cy="333.48" r="1.71" fill="#565656" fill-opacity="0.76"/>
<circle cx="637.81" cy="343.21" r="1.19" fill="#565656" fill-opacity="0.87"/>
<circle cx="629.58" cy="349.61" r="0.8" fill="#555555" fill-opacity="0.88"/>
<circle cx="628" cy="349.33" r="1.35" fill="#555555" fill-opacity="0.85"/>
<circle cx="639.56" cy="341.72" r="1.62" fill="#555555" fill-opacity="0.92"/>
<circle cx="644.02" cy="327.64" r="1.2" fill="#545454" fill-opacity="0.88"/>
<circle cx="621.19" cy="349.27" r="1.07" fill="#545454" fill-opacity="0.91"/>
<circle cx="632.48" cy="328.28" r="1.39" fill="#515151" fill-opacity="0.88"/>
<circle cx="640.35" cy="323.01" r="0.92" fill="#515151" fill-opacity="0.78"/>
<circle cx="635.63" cy="344.49" r="1.04" fill="#505050" fill-opacity="0.78"/>
<circle cx="621.93" cy="318.45" r="1.26" fill="#505050" fill-opacity="0.94"/>
<circle cx="626" cy="331.7" r="1.73" fill="#505050" fill-opacity="0.90"/>
<circle cx="628.31" cy="341.74" r="1" fill="#505050" fill-opacity="0.82"/>
<circle cx="610.73" cy="341.91" r="1.59" fill="#505050" fill-opacity="0.91"/>
<circle cx="629.56" cy="334.18" r="0.83" fill="#505050" fill-opacity="0.94"/>
<circle cx="624.65" cy="341.31" r="0.91" fill="#4f4f4f" fill-opacity="0.82"/>
<circle cx="633.99" cy="326.82" r="1.1" fill="#4f4f4f" fill-opacity="0.89"/>
<circle cx="641.21" cy="325.08" r="0.95" fill="#4f4f4f" fill-opacity="0.87"/>
<circle cx="636.26" cy="343.96" r="1.13" fill="#4e4e4e" fill-opacity="0.92"/>
<circle cx="622.26" cy="348.84" r="1.74" fill="#4e4e4e" fill-opacity="0.77"/>
<circle cx="623.75" cy="335.76" r="0.98" fill="#4e4e4e" fill-opacity="0.80"/>
<circle cx="616.79" cy="325.42" r="1.32" fill="#4d4d4d" fill-opacity="0.79"/>
<circle cx="635.02" cy="346.71" r="1.76" fill="#4d4d4d" fill-opacity="0.90"/>
<circle cx="635.99" cy="338.51" r="0.98" fill="#4d4d4d" fill-opacity="0.91"/>
<circle cx="625.09" cy="337.55" r="1.78" fill="#4d4d4d" fill-opacity="0.80"/>
<circle cx="614.19" cy="324.71" r="1.29" fill="#4d4d4d" fill-opacity="0.84"/>
<circle cx="637.14" cy="323.24" r="1.79" fill="#4d4d4d" fill-opacity="0.76"/>
<circle cx="632.55" cy="318.14" r="1.44" fill="#4d4d4d" fill-opacity="0.92"/>
<circle cx="621.69" cy="330.52" r="1.63" fill="#4c4c4c" fill-opacity="0.88"/>
<circle cx="630.12" cy="344.74" r="1.71" fill="#4c4c4c" fill-opacity="0.85"/>
<circle cx="611.6" cy="337.4" r="1.58" fill="#4c4c4c" fill-opacity="0.83"/>
<circle cx="612.15" cy="345.36" r="1.61" fill="#4b4b4b" fill-opacity="0.91"/>
<circle cx="622.49" cy="332.22" r="1.08" fill="#4b4b4b" fill-opacity="0.79"/>
<circle cx="628.41" cy="333.7" r="1.67" fill="#4b4b4b" fill-opacity="0.87"/>
<circle cx="625.03" cy="341.07" r="0.87" fill="#4b4b4b" fill-opacity="0.93"/>
<circle cx="629.06" cy="331.73" r="1.78" fill="#4a4a4a" fill-opacity="0.85"/>
<circle cx="641.36" cy="338.48" r="1.23" fill="#4a4a4a" fill-opacity="0.76"/>
<circle cx="619.01" cy="320.95" r="1.02" fill="#4a4a4a" fill-opacity="0.78"/>
<circle cx="617.27" cy="330.34" r="1.34" fill="#4a4a4a" fill-opacity="0.77"/>
<circle cx="619.28" cy="330.23" r="0.92" fill="#4a4a4a" fill-opacity="0.88"/>
<circle cx="632.43" cy="346.84" r="1.54" fill="#494949" fill-opacity="0.83"/>
<circle cx="616.77" cy="350" r="0.92" fill="#494949" fill-opacity="0.82"/>
<circle cx="630.42" cy="348.91" r="0.88" fill="#494949" fill-opacity="0.78"/>
<circle cx="619.52" cy="328.16" r="1.57" fill="#484848" fill-opacity="0.81"/>
<circle cx="627.71" cy="341.61" r="1.47" fill="#484848" fill-opacity="0.95"/>
<circle cx="618.38" cy="328.46" r="1.19" fill="#484848" fill-opacity="0.82"/>
<circle cx="619.27" cy="326.66" r="1.58" fill="#484848" fill-opacity="0.86"/>
<circle cx="628.11" cy="344.58" r="1.77" fill="#484848" fill-opacity="0.95"/>
<circle cx="632.91" cy="341.51" r="1.12" fill="#474747" fill-opacity="0.87"/>
<circle cx="626.37" cy="346.14" r="1.68" fill="#474747" fill-opacity="0.85"/>
<circle cx="625.99" cy="334" r="1.15" fill="#474747" fill-opacity="0.86"/>
<circle cx="642.87" cy="333.38" r="1.37" fill="#474747" fill-opacity="0.78"/>
<circle cx="634.52" cy="340.96" r="1.23" fill="#464646" fill-opacity="0.87"/>
<circle cx="617.32" cy="347.17" r="1.09" fill="#464646" fill-opacity="0.94"/>
<circle cx="626.75" cy="349.36" r="1.56" fill="#464646" fill-opacity="0.89"/>
<circle cx="620.54" cy="330.72" r="0.84" fill="#464646" fill-opacity="0.76"/>
<circle cx="613.49" cy="333.6" r="1.22" fill="#464646" fill-opacity="0.91"/>
<circle cx="632.41" cy="325.34" r="1.07" fill="#464646" fill-opacity="0.75"/>
<circle cx="612.51" cy="343.42" r="0.89" fill="#464646" fill-opacity="0.81"/>
<circle cx="623.2" cy="330.71" r="1.15" fill="#454545" fill-opacity="0.79"/>
<circle cx="629.95" cy="346.93" r="1.41" fill="#454545" fill-opacity="0.92"/>
<circle cx="628.95" cy="318.89" r="1.41" fill="#454545" fill-opacity="0.85"/>
<circle cx="629.98" cy="337.87" r="1.78" fill="#454545" fill-opacity="0.88"/>
<circle cx="631.15" cy="333.26" r="1.31" fill="#454545" fill-opacity="0.75"/>
<circle cx="618.28" cy="322.76" r="1.34" fill="#454545" fill-opacity="0.77"/>
<circle cx="637.01" cy="325.11" r="1.71" fill="#444444" fill-opacity="0.84"/>
<circle cx="624.28" cy="333.91" r="1.47" fill="#444444" fill-opacity="0.75"/>
<circle cx="623.04" cy="344.4" r="1.64" fill="#444444" fill-opacity="0.88"/>
<circle cx="619.05" cy="329.36" r="1.04" fill="#434343" fill-opacity="0.92"/>
<circle cx="622.56" cy="345.54" r="0.99" fill="#434343" fill-opacity="0.89"/>
<circle cx="637.89" cy="340.17" r="1.79" fill="#424242" fill-opacity="0.82"/>
<circle cx="628.02" cy="338.29" r="1.34" fill="#424242" fill-opacity="0.84"/>
<circle cx="632.85" cy="337.78" r="1.03" fill="#424242" fill-opacity="0.84"/>
<circle cx="613.58" cy="329.97" r="1.79" fill="#424242" fill-opacity="0.85"/>
<circle cx="626.12" cy="333.77" r="1.79" fill="#424242" fill-opacity="0.87"/>
<circle cx="637.93" cy="337.06" r="1.55" fill="#414141" fill-opacity="0.94"/>
<circle cx="632" cy="341.24" r="1.15" fill="#414141" fill-opacity="0.91"/>
<circle cx="630.16" cy="321.48" r="1.05" fill="#414141" fill-opacity="0.84"/>
<circle cx="635.61" cy="345.54" r="1.57" fill="#404040" fill-opacity="0.80"/>
<circle cx="615.29" cy="332.18" r="1.07" fill="#404040" fill-opacity="0.87"/>
<circle cx="622.7" cy="343.11" r="1.79" fill="#3f3f3f" fill-opacity="0.90"/>
<circle cx="631.46" cy="320.71" r="0.91" fill="#3f3f3f" fill-opacity="0.88"/>
<circle cx="624.77" cy="337.89" r="1.41" fill="#3f3f3f" fill-opacity="0.88"/>
<circle cx="620.23" cy="335.02" r="1.65" fill="#3e3e3e" fill-opacity="0.92"/>
<circle cx="632.87" cy="337.27" r="1.49" fill="#3e3e3e" fill-opacity="0.83"/>
<circle cx="613.56" cy="330.05" r="1.41" fill="#3e3e3e" fill-opacity="0.92"/>
<circle cx="625.97" cy="345.37" r="0.84" fill="#3e3e3e" fill-opacity="0.76"/>
<circle cx="623.36" cy="340.08" r="1.77" fill="#3e3e3e" fill-opacity="0.93"/>
<circle cx="614.29" cy="331.17" r="1.23" fill="#3e3e3e" fill-opacity="0.77"/>
<circle cx="618.7" cy="327.28" r="1.22" fill="#3e3e3e" fill-opacity="0.80"/>
<circle cx="630.32" cy="330.92" r="1.13" fill="#3e3e3e" fill-opacity="0.76"/>
<circle cx="632.5" cy="331.85" r="1.31" fill="#3d3d3d" fill-opacity="0.92"/>
<circle cx="635.9" cy="341.09" r="1.33" fill="#3d3d3d" fill-opacity="0.77"/>
<circle cx="639.01" cy="341.01" r="0.85" fill="#3d3d3d" fill-opacity="0.83"/>
<circle cx="623.56" cy="319.14" r="0.98" fill="#3c3c3c" fill-opacity="0.79"/>
<circle cx="628.34" cy="341.51" r="0.92" fill="#3b3b3b" fill-opacity="0.81"/>
<circle cx="618.42" cy="335.4" r="1.04" fill="#3b3b3b" fill-opacity="0.89"/>
<circle cx="631.48" cy="335.16" r="1.13" fill="#3a3a3a" fill-opacity="0.85"/>
<circle cx="626.02" cy="342.59" r="1.07" fill="#393939" fill-opacity="0.76"/>
<circle cx="642.91" cy="331.97" r="1.68" fill="#393939" fill-opacity="0.83"/>
<circle cx="616.39" cy="347.1" r="1.54" fill="#383838" fill-opacity="0.90"/>
<circle cx="634.06" cy="320.22" r="1.25" fill="#373737" fill-opacity="0.93"/>
<circle cx="629.91" cy="345.69" r="1.64" fill="#373737" fill-opacity="0.89"/>
<circle cx="641.39" cy="336.02" r="1.11" fill="#373737" fill-opacity="0.94"/>
<circle cx="630.36" cy="332.52" r="1.61" fill="#373737" fill-opacity="0.79"/>
<circle cx="626.57" cy="347.99" r="0.96" fill="#363636" fill-opacity="0.84"/>
<circle cx="635.56" cy="322.57" r="1.65" fill="#363636" fill-opacity="0.86"/>
<circle cx="624.73" cy="330.27" r="1.28" fill="#363636" fill-opacity="0.89"/>
<circle cx="631.77" cy="321.7" r="1.71" fill="#353535" fill-opacity="0.83"/>
<circle cx="623.45" cy="340.28" r="1.13" fill="#353535" fill-opacity="0.89"/>
<circle cx="634.41" cy="326.13" r="1.6" fill="#353535" fill-opacity="0.81"/>
<circle cx="639.9" cy="325.67" r="1.44" fill="#353535" fill-opacity="0.88"/>
<circle cx="624.45" cy="332.46" r="1.22" fill="#353535" fill-opacity="0.95"/>
<circle cx="638.39" cy="322.86" r="1.55" fill="#343434" fill-opacity="0.81"/>
<circle cx="618.65" cy="325.59" r="1.35" fill="#343434" fill-opacity="0.94"/>
<circle cx="617.79" cy="335.66" r="1.78" fill="#343434" fill-opacity="0.79"/>
<circle cx="624.83" cy="346.67" r="1.43" fill="#343434" fill-opacity="0.81"/>
<circle cx="626.03" cy="341.5" r="1.8" fill="#343434" fill-opacity="0.87"/>
<circle cx="618.17" cy="325.64" r="0.88" fill="#343434" fill-opacity="0.91"/>
<circle cx="633.93" cy="339.78" r="1.74" fill="#333333" fill-opacity="0.84"/>
<circle cx="614.2" cy="332.04" r="1.73" fill="#333333" fill-opacity="0.81"/>
<circle cx="636.91" cy="339.82" r="1.6" fill="#333333" fill-opacity="0.91"/>
<circle cx="629.7" cy="333.46" r="1.71" fill="#323232" fill-opacity="0.92"/>
<circle cx="626.23" cy="340.1" r="0.97" fill="#323232" fill-opacity="0.81"/>
<circle cx="614.81" cy="345.31" r="1.32" fill="#313131" fill-opacity="0.85"/>
<circle cx="631.11" cy="323.3" r="1.38" fill="#303030" fill-opacity="0.79"/>
<circle cx="623.61" cy="346.94" r="1.53" fill="#303030" fill-opacity="0.84"/>
<circle cx="616.23" cy="331.03" r="1.07" fill="#303030" fill-opacity="0.94"/>
<circle cx="627.96" cy="342.23" r="1" fill="#2f2f2f" fill-opacity="0.75"/>
<circle cx="622.15" cy="347.98" r="1.11" fill="#2f2f2f" fill-opacity="0.85"/>
<circle cx="620.61" cy="322.62" r="1.33" fill="#2e2e2e" fill-opacity="0.76"/>
<circle cx="618.17" cy="322.82" r="1.49" fill="#2e2e2e" fill-opacity="0.87"/>
<circle cx="615.34" cy="346.35" r="1.51" fill="#2d2d2d" fill-opacity="0.85"/>
<circle cx="635.43" cy="328.89" r="1.49" fill="#2d2d2d" fill-opacity="0.82"/>
<circle cx="623.31" cy="319.95" r="1.52" fill="#2c2c2c" fill-opacity="0.76"/>
<circle cx="619.83" cy="327.18" r="0.83" fill="#2b2b2b" fill-opacity="0.77"/>
<circle cx="636.98" cy="333.62" r="1.05" fill="#2a2a2a" fill-opacity="0.78"/>
<circle cx="625.88" cy="319.77" r="0.99" fill="#292929" fill-opacity="0.87"/>
<circle cx="618.34" cy="346.37" r="0.99" fill="#292929" fill-opacity="0.93"/>
<circle cx="628.24" cy="328.4" r="1.26" fill="#282828" fill-opacity="0.89"/>
<circle cx="620.29" cy="342.84" r="1.14" fill="#272727" fill-opacity="0.85"/>
<circle cx="628.31" cy="328.64" r="0.85" fill="#272727" fill-opacity="0.77"/>
<circle cx="620.2" cy="336.09" r="1.52" fill="#252525" fill-opacity="0.90"/>
<circle cx="639.7" cy="333.04" r="0.87" fill="#252525" fill-opacity="0.83"/>
<circle cx="623.07" cy="325.2" r="1.66" fill="#252525" fill-opacity="0.78"/>
<circle cx="627.09" cy="323.04" r="1.47" fill="#252525" fill-opacity="0.82"/>
<circle cx="623" cy="339.93" r="0.99" fill="#252525" fill-opacity="0.88"/>
<circle cx="625.07" cy="327.01" r="1.71" fill="#242424" fill-opacity="0.86"/>
<circle cx="618.92" cy="345.26" r="1.68" fill="#222222" fill-opacity="0.83"/>
<circle cx="616.94" cy="342.83" r="1.53" fill="#222222" fill-opacity="0.84"/>
<circle cx="614.93" cy="337.86" r="1.78" fill="#222222" fill-opacity="0.83"/>
<circle cx="634.06" cy="333.49" r="0.93" fill="#222222" fill-opacity="0.76"/>
<circle cx="641.31" cy="333.17" r="0.97" fill="#222222" fill-opacity="0.76"/>
<circle cx="618.68" cy="342" r="0.9" fill="#212121" fill-opacity="0.93"/>
<circle cx="635.84" cy="328.3" r="1.73" fill="#212121" fill-opacity="0.80"/>
<circle cx="619.75" cy="342.4" r="1.19" fill="#212121" fill-opacity="0.92"/>
<circle cx="620.07" cy="340.42" r="0.82" fill="#212121" fill-opacity="0.91"/>
<circle cx="614.25" cy="344.41" r="1.73" fill="#202020" fill-opacity="0.83"/>
<circle cx="622.69" cy="343.93" r="1.28" fill="#202020" fill-opacity="0.77"/>
<circle cx="619.99" cy="343.74" r="1.08" fill="#202020" fill-opacity="0.76"/>
<circle cx="639.06" cy="336.02" r="0.81" fill="#1d1d1d" fill-opacity="0.92"/>
<circle cx="618.49" cy="338.3" r="1.39" fill="#1c1c1c" fill-opacity="0.84"/>
<circle cx="619.01" cy="344.19" r="1.01" fill="#1c1c1c" fill-opacity="0.80"/>
<circle cx="613.49" cy="340.84" r="1.57" fill="#1c1c1c" fill-opacity="0.92"/>
<circle cx="617.02" cy="342.22" r="1.63" fill="#1b1b1b" fill-opacity="0.75"/>
<circle cx="619.07" cy="345.09" r="1.54" fill="#1a1a1a" fill-opacity="0.91"/>
<circle cx="618.03" cy="337.47" r="1.3" fill="#1a1a1a" fill-opacity="0.78"/>
<circle cx="618.98" cy="340.4" r="1.14" fill="#1a1a1a" fill-opacity="0.88"/>
<circle cx="622.14" cy="323.61" r="0.86" fill="#1a1a1a" fill-opacity="0.93"/>
<circle cx="620.38" cy="339.63" r="1.39" fill="#1a1a1a" fill-opacity="0.78"/>
<circle cx="635.16" cy="331.86" r="1.49" fill="#1a1a1a" fill-opacity="0.90"/>
<circle cx="613.66" cy="344.32" r="0.99" fill="#191919" fill-opacity="0.94"/>
<circle cx="635.34" cy="334.66" r="1.74" fill="#171717" fill-opacity="0.85"/>
<circle cx="616.14" cy="345.2" r="1.04" fill="#171717" fill-opacity="0.88"/>
<circle cx="635.54" cy="329.8" r="1.05" fill="#171717" fill-opacity="0.79"/>
<circle cx="615.33" cy="344.15" r="1.26" fill="#171717" fill-opacity="0.92"/>
<circle cx="628.96" cy="321.9" r="0.99" fill="#171717" fill-opacity="0.75"/>
<circle cx="624.85" cy="322.98" r="1.52" fill="#161616" fill-opacity="0.88"/>
<circle cx="618.23" cy="341.91" r="0.99" fill="#141414" fill-opacity="0.92"/>
<circle cx="620.65" cy="338.04" r="1.38" fill="#101010" fill-opacity="0.75"/>
<circle cx="617.67" cy="342.61" r="0.98" fill="#0f0f0f" fill-opacity="0.92"/>
<circle cx="640.97" cy="330.49" r="0.9" fill="#0e0e0e" fill-opacity="0.81"/>
<circle cx="620.6" cy="341.87" r="1.8" fill="#0c0c0c" fill-opacity="0.76"/>
<circle cx="615.79" cy="338.79" r="1.44" fill="#0c0c0c" fill-opacity="0.90"/>
<circle cx="617.88" cy="342.75" r="1.6" fill="#070707" fill-opacity="0.92"/>
</g><g filter="url(#b05)">
<circle cx="666.24" cy="339.1" r="0.85" fill="#969696" fill-opacity="0.76"/>
<circle cx="676.06" cy="356.46" r="1.2" fill="#929292" fill-opacity="0.85"/>
<circle cx="666.32" cy="339.48" r="1.52" fill="#909090" fill-opacity="0.80"/>
<circle cx="665.75" cy="357.34" r="1.17" fill="#8f8f8f" fill-opacity="0.80"/>
<circle cx="646.71" cy="332.91" r="1.05" fill="#8e8e8e" fill-opacity="0.89"/>
<circle cx="642.43" cy="335.47" r="1.1" fill="#8d8d8d" fill-opacity="0.88"/>
<circle cx="665.17" cy="337.33" r="1.3" fill="#8d8d8d" fill-opacity="0.78"/>
<circle cx="668.72" cy="341.94" r="1.51" fill="#8b8b8b" fill-opacity="0.94"/>
<circle cx="674.68" cy="348.02" r="0.84" fill="#888888" fill-opacity="0.92"/>
<circle cx="650.38" cy="332.05" r="1.48" fill="#878787" fill-opacity="0.82"/>
<circle cx="676.05" cy="353.28" r="1.57" fill="#868686" fill-opacity="0.90"/>
<circle cx="664.62" cy="356.49" r="1.27" fill="#858585" fill-opacity="0.76"/>
<circle cx="676.67" cy="353.09" r="0.84" fill="#828282" fill-opacity="0.90"/>
<circle cx="645.48" cy="332.2" r="1.59" fill="#828282" fill-opacity="0.93"/>
<circle cx="648.02" cy="330.48" r="1.32" fill="#828282" fill-opacity="0.91"/>
<circle cx="657.62" cy="354.65" r="1.56" fill="#808080" fill-opacity="0.79"/>
<circle cx="639.88" cy="344.98" r="0.82" fill="#7f7f7f" fill-opacity="0.76"/>
<circle cx="648.77" cy="351.04" r="1.51" fill="#7e7e7e" fill-opacity="0.77"/>
<circle cx="670.91" cy="343.89" r="1.15" fill="#7b7b7b" fill-opacity="0.93"/>
<circle cx="645.94" cy="346.42" r="0.93" fill="#7a7a7a" fill-opacity="0.78"/>
<circle cx="641.03" cy="345.01" r="1.06" fill="#797979" fill-opacity="0.88"/>
<circle cx="670.04" cy="341.28" r="1.33" fill="#787878" fill-opacity="0.88"/>
<circle cx="649.07" cy="352.25" r="0.87" fill="#787878" fill-opacity="0.90"/>
<circle cx="674.64" cy="351.03" r="0.81" fill="#777777" fill-opacity="0.87"/>
<circle cx="654.58" cy="333.02" r="1.41" fill="#777777" fill-opacity="0.86"/>
<circle cx="660.54" cy="356.99" r="1.31" fill="#767676" fill-opacity="0.92"/>
<circle cx="643.71" cy="338.33" r="0.83" fill="#747474" fill-opacity="0.87"/>
<circle cx="663.28" cy="339.13" r="1.14" fill="#737373" fill-opacity="0.78"/>
<circle cx="645.63" cy="346.64" r="1.2" fill="#727272" fill-opacity="0.86"/>
<circle cx="664.17" cy="340.4" r="1.53" fill="#707070" fill-opacity="0.90"/>
<circle cx="662.6" cy="354.07" r="0.99" fill="#6f6f6f" fill-opacity="0.82"/>
<circle cx="649.8" cy="349.19" r="1.08" fill="#6f6f6f" fill-opacity="0.80"/>
<circle cx="659.01" cy="343.09" r="0.97" fill="#6e6e6e" fill-opacity="0.89"/>
<circle cx="657.59" cy="341.46" r="0.87" fill="#6e6e6e" fill-opacity="0.92"/>
<circle cx="651.68" cy="340.6" r="1.4" fill="#6c6c6c" fill-opacity="0.88"/>
<circle cx="664.32" cy="354" r="1.44" fill="#6c6c6c" fill-opacity="0.88"/>
<circle cx="659.15" cy="339.25" r="1.4" fill="#6b6b6b" fill-opacity="0.91"/>
<circle cx="656.72" cy="347.52" r="1.36" fill="#6b6b6b" fill-opacity="0.95"/>
<circle cx="671.39" cy="355.92" r="1.23" fill="#6b6b6b" fill-opacity="0.80"/>
<circle cx="653.14" cy="345.39" r="1.1" fill="#6b6b6b" fill-opacity="0.95"/>
<circle cx="657.34" cy="343.82" r="1.32" fill="#6a6a6a" fill-opacity="0.78"/>
<circle cx="673.71" cy="350.96" r="1.31" fill="#6a6a6a" fill-opacity="0.87"/>
<circle cx="654.82" cy="334.71" r="0.98" fill="#696969" fill-opacity="0.88"/>
<circle cx="652.63" cy="344.33" r="1.53" fill="#686868" fill-opacity="0.85"/>
<circle cx="664.05" cy="352.94" r="1.38" fill="#686868" fill-opacity="0.94"/>
<circle cx="665.38" cy="342.69" r="1.48" fill="#686868" fill-opacity="0.84"/>
<circle cx="656.93" cy="336.05" r="0.98" fill="#686868" fill-opacity="0.84"/>
<circle cx="647.81" cy="341.19" r="1.34" fill="#676767" fill-opacity="0.87"/>
<circle cx="673.35" cy="348.75" r="1.03" fill="#676767" fill-opacity="0.81"/>
<circle cx="663.43" cy="352.55" r="0.85" fill="#676767" fill-opacity="0.78"/>
<circle cx="646.31" cy="347.66" r="1.56" fill="#676767" fill-opacity="0.77"/>
<circle cx="655.09" cy="340.32" r="1.51" fill="#666666" fill-opacity="0.76"/>
<circle cx="659.94" cy="348.02" r="1.13" fill="#666666" fill-opacity="0.83"/>
<circle cx="661.61" cy="339.2" r="1.54" fill="#656565" fill-opacity="0.83"/>
<circle cx="659.81" cy="350.24" r="1.27" fill="#656565" fill-opacity="0.92"/>
<circle cx="664.8" cy="344.56" r="1.2" fill="#646464" fill-opacity="0.78"/>
<circle cx="660.54" cy="354.3" r="1.13" fill="#646464" fill-opacity="0.82"/>
<circle cx="673.84" cy="347.71" r="0.83" fill="#646464" fill-opacity="0.92"/>
<circle cx="660.76" cy="351.43" r="1.51" fill="#636363" fill-opacity="0.80"/>
<circle cx="667.61" cy="354.12" r="1.49" fill="#636363" fill-opacity="0.77"/>
<circle cx="668.97" cy="355.29" r="1.6" fill="#636363" fill-opacity="0.89"/>
<circle cx="672.06" cy="352.88" r="1.55" fill="#626262" fill-opacity="0.86"/>
<circle cx="652.42" cy="350.16" r="1.06" fill="#616161" fill-opacity="0.83"/>
<circle cx="668.84" cy="354.64" r="1.06" fill="#5f5f5f" fill-opacity="0.88"/>
<circle cx="656.65" cy="347.82" r="1.02" fill="#5f5f5f" fill-opacity="0.92"/>
<circle cx="651.16" cy="346" r="1.57" fill="#5c5c5c" fill-opacity="0.83"/>
<circle cx="648.54" cy="342.45" r="1.55" fill="#5b5b5b" fill-opacity="0.94"/>
<circle cx="661.36" cy="343.07" r="0.93" fill="#5b5b5b" fill-opacity="0.79"/>
<circle cx="662.74" cy="351.37" r="1.37" fill="#595959" fill-opacity="0.82"/>
<circle cx="659.06" cy="347.43" r="1.31" fill="#595959" fill-opacity="0.76"/>
<circle cx="649.45" cy="344.14" r="1.54" fill="#595959" fill-opacity="0.91"/>
<circle cx="663.96" cy="346.28" r="1.02" fill="#585858" fill-opacity="0.84"/>
<circle cx="659.85" cy="352.11" r="1.44" fill="#575757" fill-opacity="0.86"/>
<circle cx="659" cy="347.7" r="1.13" fill="#575757" fill-opacity="0.92"/>
<circle cx="653.64" cy="339.27" r="1.56" fill="#575757" fill-opacity="0.93"/>
<circle cx="650.74" cy="335.71" r="0.93" fill="#565656" fill-opacity="0.79"/>
<circle cx="659.28" cy="341.54" r="1.22" fill="#535353" fill-opacity="0.92"/>
<circle cx="669.54" cy="347.27" r="1.16" fill="#535353" fill-opacity="0.94"/>
<circle cx="658.46" cy="349.53" r="1.34" fill="#525252" fill-opacity="0.86"/>
<circle cx="651.97" cy="348.2" r="1.03" fill="#515151" fill-opacity="0.77"/>
<circle cx="667.31" cy="343.7" r="1.47" fill="#505050" fill-opacity="0.86"/>
<circle cx="644.74" cy="342.66" r="1.11" fill="#505050" fill-opacity="0.93"/>
<circle cx="654.69" cy="347.08" r="1.36" fill="#4f4f4f" fill-opacity="0.90"/>
<circle cx="649.88" cy="343.64" r="1.07" fill="#4f4f4f" fill-opacity="0.76"/>
<circle cx="653.51" cy="349.88" r="1.24" fill="#4f4f4f" fill-opacity="0.83"/>
<circle cx="672.92" cy="350.52" r="1.13" fill="#4f4f4f" fill-opacity="0.89"/>
<circle cx="667.67" cy="345.94" r="1.5" fill="#4d4d4d" fill-opacity="0.86"/>
<circle cx="663.14" cy="350.29" r="1.39" fill="#454545" fill-opacity="0.94"/>
<circle cx="664.64" cy="352.12" r="0.94" fill="#414141" fill-opacity="0.84"/>
<circle cx="666.55" cy="349.23" r="0.89" fill="#404040" fill-opacity="0.86"/>
</g><g filter="url(#b05)">
<circle cx="580.13" cy="349.09" r="1.53" fill="#919191" fill-opacity="0.86"/>
<circle cx="598.77" cy="346.54" r="1.33" fill="#919191" fill-opacity="0.80"/>
<circle cx="598.54" cy="348.4" r="0.98" fill="#8e8e8e" fill-opacity="0.85"/>
<circle cx="580.52" cy="346.32" r="0.91" fill="#8e8e8e" fill-opacity="0.93"/>
<circle cx="583.11" cy="356.3" r="1.56" fill="#8a8a8a" fill-opacity="0.78"/>
<circle cx="594.44" cy="360.84" r="1.21" fill="#868686" fill-opacity="0.92"/>
<circle cx="586.14" cy="360.38" r="0.86" fill="#868686" fill-opacity="0.94"/>
<circle cx="593.31" cy="341.53" r="1.42" fill="#7c7c7c" fill-opacity="0.91"/>
<circle cx="583.28" cy="351.01" r="1.5" fill="#7a7a7a" fill-opacity="0.80"/>
<circle cx="592.01" cy="360.48" r="1.59" fill="#767676" fill-opacity="0.85"/>
<circle cx="580.52" cy="346.73" r="1.04" fill="#767676" fill-opacity="0.90"/>
<circle cx="593.39" cy="362.22" r="1.37" fill="#767676" fill-opacity="0.91"/>
<circle cx="583.02" cy="347.37" r="1.12" fill="#757575" fill-opacity="0.79"/>
<circle cx="590.41" cy="341.39" r="1.02" fill="#757575" fill-opacity="0.85"/>
<circle cx="594.11" cy="362.77" r="1.44" fill="#737373" fill-opacity="0.85"/>
<circle cx="590.61" cy="363.17" r="1.58" fill="#737373" fill-opacity="0.85"/>
<circle cx="585.15" cy="358.55" r="1.16" fill="#737373" fill-opacity="0.87"/>
<circle cx="586.87" cy="356.94" r="1.03" fill="#727272" fill-opacity="0.76"/>
<circle cx="589.45" cy="342.88" r="1.11" fill="#727272" fill-opacity="0.88"/>
<circle cx="594.75" cy="342.82" r="1.26" fill="#717171" fill-opacity="0.94"/>
<circle cx="586.37" cy="356.8" r="1.02" fill="#707070" fill-opacity="0.95"/>
<circle cx="593.7" cy="346.69" r="1.37" fill="#6b6b6b" fill-opacity="0.79"/>
<circle cx="584.46" cy="353.87" r="1.34" fill="#686868" fill-opacity="0.76"/>
<circle cx="595.76" cy="345.63" r="1.58" fill="#676767" fill-opacity="0.93"/>
<circle cx="596.61" cy="350.35" r="1.57" fill="#676767" fill-opacity="0.76"/>
<circle cx="596" cy="356.77" r="0.84" fill="#676767" fill-opacity="0.82"/>
<circle cx="582.43" cy="350.11" r="1.4" fill="#656565" fill-opacity="0.86"/>
<circle cx="582.77" cy="352.11" r="0.88" fill="#636363" fill-opacity="0.92"/>
<circle cx="593.46" cy="357.17" r="0.87" fill="#616161" fill-opacity="0.80"/>
<circle cx="595.01" cy="350.25" r="0.92" fill="#616161" fill-opacity="0.83"/>
<circle cx="587.31" cy="346.3" r="1.38" fill="#5f5f5f" fill-opacity="0.93"/>
<circle cx="593.14" cy="350.92" r="0.94" fill="#5c5c5c" fill-opacity="0.93"/>
<circle cx="593.36" cy="353.73" r="0.81" fill="#5b5b5b" fill-opacity="0.93"/>
<circle cx="595.03" cy="347.97" r="1" fill="#5b5b5b" fill-opacity="0.83"/>
<circle cx="592.67" cy="358.34" r="0.92" fill="#585858" fill-opacity="0.82"/>
<circle cx="586.81" cy="351.98" r="1.4" fill="#585858" fill-opacity="0.85"/>
<circle cx="591.32" cy="347.51" r="1.25" fill="#575757" fill-opacity="0.87"/>
<circle cx="583.71" cy="346.88" r="1.2" fill="#575757" fill-opacity="0.80"/>
<circle cx="585.57" cy="354.22" r="1.52" fill="#535353" fill-opacity="0.83"/>
<circle cx="584.44" cy="348.12" r="1.24" fill="#535353" fill-opacity="0.80"/>
<circle cx="590.14" cy="358.24" r="0.89" fill="#525252" fill-opacity="0.82"/>
<circle cx="591" cy="353.74" r="0.81" fill="#525252" fill-opacity="0.88"/>
<circle cx="588.27" cy="352.83" r="1.53" fill="#515151" fill-opacity="0.86"/>
<circle cx="589.46" cy="345.05" r="1.53" fill="#505050" fill-opacity="0.85"/>
<circle cx="591.68" cy="347.65" r="1.55" fill="#505050" fill-opacity="0.78"/>
<circle cx="593.91" cy="347.44" r="1.31" fill="#4d4d4d" fill-opacity="0.84"/>
<circle cx="592.78" cy="345.42" r="1.06" fill="#4c4c4c" fill-opacity="0.81"/>
<circle cx="594.01" cy="358.5" r="1.45" fill="#4a4a4a" fill-opacity="0.92"/>
<circle cx="588.22" cy="346.87" r="1.59" fill="#4a4a4a" fill-opacity="0.82"/>
<circle cx="585.45" cy="349.67" r="1.57" fill="#494949" fill-opacity="0.85"/>
</g><g filter="url(#b05)"><rect x="0" y="-1.23" width="5.93" height="2.47" rx="0.5" fill="#282828" fill-opacity="0.61" transform="translate(624.09 320.98) rotate(109.65)" />
<rect x="0" y="-0.69" width="7.1" height="1.38" rx="0.5" fill="#444444" fill-opacity="0.51" transform="translate(648.12 325.02) rotate(143.71)" />
<rect x="0" y="-0.73" width="7.35" height="1.46" rx="0.5" fill="#4b4b4b" fill-opacity="0.78" transform="translate(613.38 341.9) rotate(11)" />
<rect x="0" y="-0.69" width="7.98" height="1.37" rx="0.5" fill="#2e2e2e" fill-opacity="0.54" transform="translate(621.34 334.61) rotate(98.44)" />
<rect x="0" y="-0.95" width="4.67" height="1.9" rx="0.5" fill="#414141" fill-opacity="0.67" transform="translate(633.23 345.32) rotate(88.52)" />
<rect x="0" y="-0.74" width="5.61" height="1.48" rx="0.5" fill="#1c1c1c" fill-opacity="0.52" transform="translate(635.3 333) rotate(63.72)" />
<rect x="0" y="-1.11" width="6.07" height="2.22" rx="0.5" fill="#1d1d1d" fill-opacity="0.71" transform="translate(637.81 316.29) rotate(109.48)" />
<rect x="0" y="-0.95" width="5.82" height="1.9" rx="0.5" fill="#404040" fill-opacity="0.82" transform="translate(631.41 315.88) rotate(93.29)" />
<rect x="0" y="-0.9" width="5.24" height="1.79" rx="0.5" fill="#3f3f3f" fill-opacity="0.82" transform="translate(612.98 337.95) rotate(110.3)" />
<rect x="0" y="-0.79" width="7.66" height="1.58" rx="0.5" fill="#222222" fill-opacity="0.51" transform="translate(635.22 342.79) rotate(146.03)" />
<rect x="0" y="-1.05" width="6.74" height="2.11" rx="0.5" fill="#343434" fill-opacity="0.55" transform="translate(614.63 337.13) rotate(71.71)" />
<rect x="0" y="-1.01" width="7.57" height="2.02" rx="0.5" fill="#343434" fill-opacity="0.89" transform="translate(619.72 340.98) rotate(22.37)" />
<rect x="0" y="-1.07" width="6.56" height="2.14" rx="0.5" fill="#222222" fill-opacity="0.79" transform="translate(610.86 334.21) rotate(103.32)" />
<rect x="0" y="-1.26" width="6" height="2.51" rx="0.5" fill="#4d4d4d" fill-opacity="0.61" transform="translate(640.05 315.54) rotate(133.14)" />
<rect x="0" y="-0.83" width="8.34" height="1.66" rx="0.5" fill="#393939" fill-opacity="0.62" transform="translate(619.87 325.46) rotate(107.91)" />
<rect x="0" y="-0.94" width="6.35" height="1.87" rx="0.5" fill="#333333" fill-opacity="0.86" transform="translate(638.53 338.1) rotate(90.34)" />
<rect x="0" y="-0.69" width="8.13" height="1.37" rx="0.5" fill="#464646" fill-opacity="0.79" transform="translate(616.28 322.32) rotate(30.56)" />
<rect x="0" y="-0.76" width="5.83" height="1.52" rx="0.5" fill="#484848" fill-opacity="0.59" transform="translate(634.31 321.64) rotate(15.74)" />
<rect x="0" y="-0.89" width="6.95" height="1.79" rx="0.5" fill="#252525" fill-opacity="0.84" transform="translate(641.21 331.05) rotate(88.64)" />
<rect x="0" y="-0.99" width="4.93" height="1.99" rx="0.5" fill="#393939" fill-opacity="0.78" transform="translate(632.33 333.72) rotate(97.26)" />
<rect x="0" y="-0.96" width="4.9" height="1.93" rx="0.5" fill="#424242" fill-opacity="0.82" transform="translate(625.62 334.63) rotate(52.55)" />
<rect x="0" y="-0.69" width="5.94" height="1.39" rx="0.5" fill="#464646" fill-opacity="0.90" transform="translate(642.51 329.42) rotate(130.55)" />
<rect x="0" y="-0.7" width="4.9" height="1.39" rx="0.5" fill="#2e2e2e" fill-opacity="0.56" transform="translate(635.66 342.03) rotate(140.29)" />
<rect x="0" y="-0.85" width="4.07" height="1.7" rx="0.5" fill="#4b4b4b" fill-opacity="0.63" transform="translate(624.6 323.49) rotate(49.57)" />
<rect x="0" y="-1.28" width="8.57" height="2.55" rx="0.5" fill="#282828" fill-opacity="0.84" transform="translate(623.18 342.3) rotate(69.51)" />
<rect x="0" y="-1.15" width="8.36" height="2.3" rx="0.5" fill="#434343" fill-opacity="0.66" transform="translate(639.01 324.12) rotate(106.07)" />
<rect x="0" y="-1.26" width="4.81" height="2.52" rx="0.5" fill="#454545" fill-opacity="0.51" transform="translate(635.25 338.95) rotate(141.74)" />
<rect x="0" y="-0.83" width="8.27" height="1.65" rx="0.5" fill="#1e1e1e" fill-opacity="0.84" transform="translate(642.65 324.24) rotate(134.02)" />
<rect x="0" y="-0.89" width="8.76" height="1.79" rx="0.5" fill="#444444" fill-opacity="0.74" transform="translate(621.6 332.02) rotate(56.97)" />
<rect x="0" y="-0.84" width="5.01" height="1.69" rx="0.5" fill="#2d2d2d" fill-opacity="0.57" transform="translate(633.54 328.45) rotate(88.91)" />
<rect x="0" y="-1.29" width="7.11" height="2.58" rx="0.5" fill="#414141" fill-opacity="0.75" transform="translate(621.46 316.65) rotate(28.57)" />
<rect x="0" y="-1.28" width="8.79" height="2.56" rx="0.5" fill="#434343" fill-opacity="0.51" transform="translate(624.24 314.07) rotate(67.5)" />
<rect x="0" y="-1.23" width="5.94" height="2.46" rx="0.5" fill="#212121" fill-opacity="0.82" transform="translate(641.51 335.03) rotate(31.27)" />
<rect x="0" y="-0.89" width="6.35" height="1.78" rx="0.5" fill="#4d4d4d" fill-opacity="0.87" transform="translate(629.78 349.25) rotate(17.24)" />
<rect x="0" y="-0.77" width="5.45" height="1.54" rx="0.5" fill="#4f4f4f" fill-opacity="0.61" transform="translate(642.93 332.12) rotate(104.49)" />
<rect x="0" y="-0.67" width="5.12" height="1.33" rx="0.5" fill="#3d3d3d" fill-opacity="0.54" transform="translate(617.49 331.64) rotate(53.87)" />
<rect x="0" y="-0.76" width="5.26" height="1.52" rx="0.5" fill="#393939" fill-opacity="0.81" transform="translate(621.11 321.74) rotate(91.09)" />
<rect x="0" y="-1.29" width="4.45" height="2.58" rx="0.5" fill="#2d2d2d" fill-opacity="0.88" transform="translate(636.86 317.93) rotate(143.55)" />
<rect x="0" y="-0.95" width="4.93" height="1.89" rx="0.5" fill="#363636" fill-opacity="0.60" transform="translate(615.07 323.99) rotate(105.93)" />
<rect x="0" y="-1.16" width="8.55" height="2.32" rx="0.5" fill="#3b3b3b" fill-opacity="0.62" transform="translate(631.06 327.98) rotate(138.69)" />
<rect x="0" y="-1.18" width="8.73" height="2.36" rx="0.5" fill="#4b4b4b" fill-opacity="0.59" transform="translate(610.78 329.38) rotate(28.63)" />
<rect x="0" y="-1.29" width="8.28" height="2.58" rx="0.5" fill="#242424" fill-opacity="0.50" transform="translate(624.73 316.31) rotate(134.91)" />
<rect x="0" y="-1.04" width="7.35" height="2.07" rx="0.5" fill="#4b4b4b" fill-opacity="0.74" transform="translate(629.25 336.94) rotate(25.97)" />
<rect x="0" y="-1.07" width="4.77" height="2.13" rx="0.5" fill="#373737" fill-opacity="0.54" transform="translate(626.54 321.6) rotate(62.71)" />
<rect x="0" y="-1.28" width="8.18" height="2.55" rx="0.5" fill="#2e2e2e" fill-opacity="0.78" transform="translate(638.46 333.51) rotate(97.8)" />
<rect x="0" y="-1.13" width="7.76" height="2.25" rx="0.5" fill="#242424" fill-opacity="0.64" transform="translate(638.18 325.43) rotate(8.81)" />
<rect x="0" y="-1.19" width="5.64" height="2.39" rx="0.5" fill="#2f2f2f" fill-opacity="0.52" transform="translate(640.24 335.07) rotate(88.82)" />
<rect x="0" y="-0.76" width="5.4" height="1.52" rx="0.5" fill="#363636" fill-opacity="0.56" transform="translate(623.99 334.32) rotate(27.1)" />
<rect x="0" y="-0.78" width="4.11" height="1.55" rx="0.5" fill="#292929" fill-opacity="0.52" transform="translate(623.02 318.65) rotate(20.12)" />
<rect x="0" y="-1.27" width="8.97" height="2.55" rx="0.5" fill="#464646" fill-opacity="0.63" transform="translate(620.12 342.92) rotate(62.25)" />
<rect x="0" y="-1.18" width="6.01" height="2.35" rx="0.5" fill="#3f3f3f" fill-opacity="0.68" transform="translate(641.88 320.23) rotate(58.4)" />
<rect x="0" y="-1" width="5.98" height="1.99" rx="0.5" fill="#1e1e1e" fill-opacity="0.75" transform="translate(609.73 339.1) rotate(99.8)" />
<rect x="0" y="-1.11" width="4.92" height="2.23" rx="0.5" fill="#4c4c4c" fill-opacity="0.89" transform="translate(614.5 338.06) rotate(104.44)" />
<rect x="0" y="-0.67" width="8.9" height="1.34" rx="0.5" fill="#191919" fill-opacity="0.66" transform="translate(634.59 317.46) rotate(52.25)" />
<rect x="0" y="-0.73" width="8.09" height="1.46" rx="0.5" fill="#4c4c4c" fill-opacity="0.68" transform="translate(643.87 320.85) rotate(96.4)" />
<rect x="0" y="-1.07" width="6.19" height="2.15" rx="0.5" fill="#474747" fill-opacity="0.70" transform="translate(615.73 329.55) rotate(49.63)" />
<rect x="0" y="-1" width="8.59" height="2.01" rx="0.5" fill="#191919" fill-opacity="0.79" transform="translate(622.48 318.6) rotate(63.26)" />
<rect x="0" y="-0.77" width="7.79" height="1.54" rx="0.5" fill="#313131" fill-opacity="0.76" transform="translate(632.28 340.16) rotate(110.23)" />
<rect x="0" y="-0.75" width="7.19" height="1.49" rx="0.5" fill="#212121" fill-opacity="0.76" transform="translate(640.71 333.4) rotate(12.7)" />
<rect x="0" y="-1.19" width="6.61" height="2.38" rx="0.5" fill="#1a1a1a" fill-opacity="0.75" transform="translate(627.93 316.54) rotate(134.88)" /><rect x="0" y="-0.65" width="10.35" height="1.3" rx="0.5" fill="#4c4c4c" fill-opacity="0.51" transform="translate(646.62 333.89) rotate(34.24)" />
<rect x="0" y="-1.02" width="9.3" height="2.04" rx="0.5" fill="#4b4b4b" fill-opacity="0.68" transform="translate(644.91 341.71) rotate(31.47)" />
<rect x="0" y="-0.66" width="7.02" height="1.31" rx="0.5" fill="#3b3b3b" fill-opacity="0.84" transform="translate(653.56 335.92) rotate(40.97)" />
<rect x="0" y="-0.83" width="10.84" height="1.65" rx="0.5" fill="#525252" fill-opacity="0.83" transform="translate(667.47 349.35) rotate(150.87)" />
<rect x="0" y="-0.74" width="5.27" height="1.47" rx="0.5" fill="#454545" fill-opacity="0.53" transform="translate(661.1 351.89) rotate(34.91)" />
<rect x="0" y="-0.7" width="10" height="1.4" rx="0.5" fill="#484848" fill-opacity="0.77" transform="translate(653.66 331.04) rotate(148.88)" />
<rect x="0" y="-1.04" width="6.03" height="2.07" rx="0.5" fill="#3f3f3f" fill-opacity="0.65" transform="translate(663.73 347.15) rotate(32.62)" />
<rect x="0" y="-0.79" width="5.19" height="1.58" rx="0.5" fill="#444444" fill-opacity="0.58" transform="translate(658.67 347.76) rotate(23.5)" />
<rect x="0" y="-1.13" width="8" height="2.26" rx="0.5" fill="#575757" fill-opacity="0.56" transform="translate(678.14 351.39) rotate(143.1)" />
<rect x="0" y="-0.73" width="7.4" height="1.46" rx="0.5" fill="#686868" fill-opacity="0.70" transform="translate(663.87 349.13) rotate(159.55)" />
<rect x="0" y="-0.96" width="7.31" height="1.92" rx="0.5" fill="#4e4e4e" fill-opacity="0.60" transform="translate(648.18 345.62) rotate(152.31)" />
<rect x="0" y="-0.76" width="8.22" height="1.52" rx="0.5" fill="#575757" fill-opacity="0.54" transform="translate(657.52 353.18) rotate(34.36)" />
<rect x="0" y="-0.9" width="9.57" height="1.81" rx="0.5" fill="#3c3c3c" fill-opacity="0.75" transform="translate(661.19 341.26) rotate(161.33)" />
<rect x="0" y="-0.92" width="9.58" height="1.85" rx="0.5" fill="#5d5d5d" fill-opacity="0.71" transform="translate(666.85 342.43) rotate(21.67)" />
<rect x="0" y="-0.94" width="6.45" height="1.88" rx="0.5" fill="#3a3a3a" fill-opacity="0.79" transform="translate(675.23 350.72) rotate(143.75)" />
<rect x="0" y="-0.93" width="7.85" height="1.86" rx="0.5" fill="#444444" fill-opacity="0.85" transform="translate(666.71 355.02) rotate(21.08)" />
<rect x="0" y="-1" width="7.39" height="2.01" rx="0.5" fill="#494949" fill-opacity="0.86" transform="translate(653.21 334.38) rotate(35.11)" />
<rect x="0" y="-0.74" width="8.53" height="1.48" rx="0.5" fill="#424242" fill-opacity="0.53" transform="translate(653.42 335.57) rotate(26.11)" />
<rect x="0" y="-0.89" width="6.67" height="1.78" rx="0.5" fill="#515151" fill-opacity="0.79" transform="translate(670.72 351.67) rotate(30.34)" />
<rect x="0" y="-0.71" width="9.84" height="1.43" rx="0.5" fill="#3b3b3b" fill-opacity="0.67" transform="translate(668.83 343.03) rotate(36.83)" />
<rect x="0" y="-0.66" width="10.9" height="1.32" rx="0.5" fill="#4b4b4b" fill-opacity="0.64" transform="translate(651.74 340.08) rotate(34.16)" />
<rect x="0" y="-1.12" width="7.78" height="2.25" rx="0.5" fill="#3a3a3a" fill-opacity="0.82" transform="translate(650.93 340.29) rotate(142.4)" />
<rect x="0" y="-1.11" width="10.56" height="2.22" rx="0.5" fill="#3f3f3f" fill-opacity="0.69" transform="translate(660.51 341.57) rotate(41.26)" />
<rect x="0" y="-0.83" width="5.01" height="1.67" rx="0.5" fill="#656565" fill-opacity="0.81" transform="translate(646.37 340.49) rotate(21.95)" />
<rect x="0" y="-1.18" width="6.78" height="2.36" rx="0.5" fill="#535353" fill-opacity="0.72" transform="translate(653.93 347.01) rotate(141.72)" /><rect x="0" y="-0.61" width="7.49" height="1.22" rx="0.5" fill="#474747" fill-opacity="0.65" transform="translate(581.65 346.97) rotate(58.88)" />
<rect x="0" y="-0.65" width="5.29" height="1.31" rx="0.5" fill="#383838" fill-opacity="0.56" transform="translate(597.56 349.69) rotate(117.45)" />
<rect x="0" y="-0.62" width="6.88" height="1.25" rx="0.5" fill="#353535" fill-opacity="0.88" transform="translate(585.13 345.59) rotate(121.8)" />
<rect x="0" y="-1.03" width="5.52" height="2.06" rx="0.5" fill="#4f4f4f" fill-opacity="0.87" transform="translate(594.75 344.11) rotate(60.53)" />
<rect x="0" y="-0.77" width="9.49" height="1.53" rx="0.5" fill="#4c4c4c" fill-opacity="0.78" transform="translate(596.08 338.27) rotate(126.89)" />
<rect x="0" y="-1.1" width="5.35" height="2.19" rx="0.5" fill="#535353" fill-opacity="0.62" transform="translate(590.48 345.69) rotate(64.13)" />
<rect x="0" y="-1.08" width="5.21" height="2.17" rx="0.5" fill="#505050" fill-opacity="0.53" transform="translate(598.69 353.9) rotate(125.16)" />
<rect x="0" y="-0.82" width="7.68" height="1.64" rx="0.5" fill="#333333" fill-opacity="0.50" transform="translate(594.32 339.8) rotate(110.61)" />
<rect x="0" y="-0.83" width="8.77" height="1.66" rx="0.5" fill="#434343" fill-opacity="0.88" transform="translate(598.73 343.43) rotate(114.22)" />
<rect x="0" y="-0.8" width="9.68" height="1.6" rx="0.5" fill="#4f4f4f" fill-opacity="0.66" transform="translate(595.78 354.18) rotate(112.66)" />
<rect x="0" y="-1.01" width="5.89" height="2.03" rx="0.5" fill="#555555" fill-opacity="0.89" transform="translate(593.61 346.42) rotate(52.46)" />
<rect x="0" y="-1.09" width="8.88" height="2.18" rx="0.5" fill="#5b5b5b" fill-opacity="0.66" transform="translate(590.59 357.4) rotate(56.29)" />
<rect x="0" y="-0.91" width="7.73" height="1.81" rx="0.5" fill="#4b4b4b" fill-opacity="0.87" transform="translate(579.54 348.13) rotate(48.65)" />
<rect x="0" y="-0.98" width="5.65" height="1.96" rx="0.5" fill="#393939" fill-opacity="0.50" transform="translate(597.66 358.35) rotate(114.32)" /></g></g></g>
<text x="583.5" y="308.6" font-size="10" fill="#fafafa">CdS-r-B</text><rect x="578.9" y="392.1" width="18.1" height="4.5" fill="#fff"/>
<g clip-path="url(#cp6)"><g filter="url(#tex2)"><rect x="1.2" y="416.2" width="105.3" height="105.2" fill="#d2d2d2"/><path d="M38 413 L40 417.3 Q50 417.5 56.5 418.4 Q62 420 67.4 423.9 Q72 427 76.2 430.5 Q80 433.5 83.9 437 Q87 441 89.4 445.8 Q92 450 94.9 454.6 Q97 459 99.2 463.4 Q101.5 469 102.5 475.4 Q104 480 104.7 484 Q106 500 106.5 523 L0 523 L0 413 Z" fill="#6e6e6e" filter="url(#b08)"/><path d="M0 416 L25 418 Q45 424 58 434 Q70 446 78 460 Q86 480 90 500 Q93 512 94 523 L0 523 Z" fill="#565656" filter="url(#b4)"/><path d="M0 416 Q22 418 35 425 Q48 434 54 448 Q59 462 60 476 Q60 492 57 505 Q55 515 53 523 L0 523 Z" fill="#222222" filter="url(#b4)"/><path d="M0 425 Q20 428 30 436 Q42 448 46 465 Q48 490 44 523 L0 523 Z" fill="#141414" filter="url(#b7)"/><rect x="1.2" y="416.2" width="105.3" height="105.2" fill="url(#fr1)"/></g></g>
<text x="58.1" y="438.7" font-size="10" fill="#fafafa">0.35 nm</text><text x="64.9" y="450.3" font-size="10" fill="#fafafa">(002)</text><line x1="78.4" y1="456.2" x2="81.2" y2="484.5" stroke="#fff" stroke-width="1.7"/><line x1="81.2" y1="456.1" x2="84" y2="484.4" stroke="#fff" stroke-width="1.7"/><line x1="17.4" y1="496.2" x2="38.2" y2="479.1" stroke="#fff" stroke-width="1.7"/><line x1="19.2" y1="498.4" x2="40" y2="481.3" stroke="#fff" stroke-width="1.7"/><rect x="4.9" y="513.3" width="17.9" height="4.9" fill="#fff"/>
<g clip-path="url(#cp7)"><g filter="url(#tex2)"><rect x="111.9" y="416.2" width="105.4" height="105.2" fill="#5e5e5e"/><ellipse cx="132" cy="428" rx="26" ry="16" fill="#686868" filter="url(#b7)"/><ellipse cx="125" cy="465" rx="16" ry="16" fill="#4a4a4a" filter="url(#b7)"/><ellipse cx="138" cy="505" rx="32" ry="22" fill="#383838" filter="url(#b7)"/><path d="M152 414 L200 414 L204 450 L172 456 L148 446 Z" fill="#858585" filter="url(#b4)"/><ellipse cx="180" cy="472" rx="26" ry="20" fill="#8e8e8e" filter="url(#b4)"/><path d="M203 452 Q204 470 199.3 485.7 Q190 500 178.2 510.3 Q174 516 173 523 L219 523 L219 452 Z" fill="#adadad" filter="url(#b12)"/><path d="M205 414 L219 414 L219 452 L205 452 Z" fill="#707070" filter="url(#b2)"/><rect x="111.9" y="416.2" width="105.4" height="105.2" fill="url(#fr2)"/></g></g>
<text x="158" y="434.5" font-size="10" fill="#fafafa">0.37 nm</text><text x="165.2" y="447" font-size="10" fill="#fafafa">(100)</text><line x1="192.3" y1="449.7" x2="211.6" y2="430.4" stroke="#fff" stroke-width="1.7"/><line x1="194.3" y1="451.7" x2="213.6" y2="432.4" stroke="#fff" stroke-width="1.7"/><text x="147" y="481.3" font-size="10" fill="#fafafa">0.35 nm</text><text x="153.6" y="493.6" font-size="10" fill="#fafafa">(002)</text><line x1="137" y1="469" x2="148" y2="501.5" stroke="#fff" stroke-width="1.7"/><line x1="139.6" y1="468.3" x2="150.6" y2="500.8" stroke="#fff" stroke-width="1.7"/><rect x="115" y="513" width="17.6" height="4.9" fill="#fff"/>
<g clip-path="url(#cp8)"><g filter="url(#tex2)"><linearGradient id="ge3" x1="0" y1="0" x2="0" y2="1"><stop offset="0" stop-color="#525252"/><stop offset="0.5" stop-color="#333333"/><stop offset="1" stop-color="#1c1c1c"/></linearGradient><rect x="232.8" y="416.2" width="105.4" height="104.7" fill="url(#ge3)"/><ellipse cx="250" cy="505" rx="26" ry="22" fill="#121212" filter="url(#b7)"/><ellipse cx="325" cy="500" rx="20" ry="22" fill="#343434" filter="url(#b7)"/><path d="M246 414 L249.5 416.7 Q258 420 267 424.6 Q275 430 282.7 434.4 Q290 438 298.4 442.2 Q303 445 308.2 448 Q315 451 321.9 454 Q330 458 340 462 L340 414 Z" fill="#6a6a6a" filter="url(#b2)"/><path d="M248 414 Q258 418 267 422 Q275 427 282.7 431.4 Q290 435 298.4 439.2 Q303 442 308.2 445 Q315 448 321.9 451 Q330 455 340 459 L340 414 Z" fill="#d8d8d8" filter="url(#b08)"/><rect x="232.8" y="416.2" width="105.4" height="104.7" fill="url(#fr3)"/></g></g>
<text x="256.3" y="453.6" font-size="10" fill="#fafafa">0.35 nm</text><text x="263.3" y="465.8" font-size="10" fill="#fafafa">(002)</text><line x1="275.3" y1="475.5" x2="315" y2="461.8" stroke="#fff" stroke-width="1.7"/><line x1="276.2" y1="478.3" x2="315.9" y2="464.6" stroke="#fff" stroke-width="1.7"/><rect x="236.1" y="513.7" width="17.3" height="4.5" fill="#fff"/>
<g clip-path="url(#cp9)"><g filter="url(#tex2)"><linearGradient id="ge4" x1="0" y1="0" x2="0" y2="1"><stop offset="0" stop-color="#383838"/><stop offset="1" stop-color="#3e3e3e"/></linearGradient><rect x="342.3" y="416.2" width="105.8" height="104.8" fill="url(#ge4)"/><ellipse cx="440" cy="425" rx="15" ry="15" fill="#2c2c2c" filter="url(#b4)"/><ellipse cx="365" cy="472" rx="25" ry="10" fill="#555555" filter="url(#b4)"/><path d="M340 478 Q355 484 365.4 488 Q378 494 387 500 Q396 507 402.6 512 Q407 516 410.5 523 L340 523 Z" fill="#6e6e6e" filter="url(#b2)"/><path d="M340 482.4 Q355 486 365.4 490.2 Q378 495 387 502 Q396 508 402.6 513.7 Q407 517 410.5 523 L340 523 Z" fill="#cacaca" filter="url(#b08)"/><rect x="342.3" y="416.2" width="105.8" height="104.8" fill="url(#fr4)"/></g></g>
<text x="371.3" y="455" font-size="10" fill="#fafafa">0.35 nm</text><text x="378.3" y="467.2" font-size="10" fill="#fafafa">(002)</text><line x1="384.6" y1="475.2" x2="426.5" y2="471.6" stroke="#fff" stroke-width="1.7"/><line x1="384.9" y1="478.2" x2="426.8" y2="474.6" stroke="#fff" stroke-width="1.7"/><rect x="345.4" y="513.8" width="17.4" height="4.4" fill="#fff"/>
<g clip-path="url(#cp10)"><g filter="url(#tex2)"><rect x="465.8" y="415.8" width="104.9" height="105.3" fill="#747474"/><path d="M464 474.3 Q480 478 497 482.2 Q515 488 532.2 494.5 Q550 501 572 507 L572 523 L464 523 Z" fill="#6c6c6c" filter="url(#b08)"/><path d="M464 474.3 Q480 478 497 482.2 Q515 488 532.2 494.5 Q550 501 572 507" fill="none" stroke="#747474" stroke-width="3" filter="url(#b2)"/><path d="M464 414 L510 414 L500 482 L464 474.3 Z" fill="url(#fr6)" filter="url(#b05)"/><path d="M510 414 L572 414 L572 507 L532 494.5 L500 482 Z" fill="url(#fr5)" filter="url(#b05)"/></g></g>
<text x="501" y="445.7" font-size="10" fill="#fafafa">0.35 nm</text><text x="508" y="457.5" font-size="10" fill="#fafafa">(002)</text><line x1="535.2" y1="469.1" x2="542.9" y2="430.8" stroke="#fff" stroke-width="1.7"/><line x1="538.4" y1="469.1" x2="546.1" y2="430.8" stroke="#fff" stroke-width="1.7"/><rect x="469.1" y="513.8" width="17.7" height="4.5" fill="#fff"/>
<g clip-path="url(#cp11)"><g filter="url(#tex2)"><rect x="575.4" y="415.8" width="107.2" height="105.2" fill="#636363"/><ellipse cx="660" cy="428" rx="28" ry="16" fill="#808080" filter="url(#b7)"/><ellipse cx="632" cy="505" rx="30" ry="18" fill="#464646" filter="url(#b7)"/><ellipse cx="592" cy="470" rx="14" ry="40" fill="#646464" filter="url(#b7)"/><path d="M600 413 L634 413 Q628 420 624 428 Q618 438 611.5 442 Q606 434 604 425 Z" fill="#c4c4c4" filter="url(#b2)"/><path d="M684 440 L680.8 447 Q676 462 672 478.7 Q668 490 665 499.8 Q662 510 659.8 523 L684 523 Z" fill="#b0b0b0" filter="url(#b2)"/><path d="M628 488 L668 503 M630 482 L666 496 M626 494 L664 509" stroke="#404040" stroke-width="1.2" stroke-opacity="0.6" filter="url(#b08)"/><rect x="575.4" y="415.8" width="107.2" height="105.2" fill="url(#fr7)"/></g></g>
<text x="598" y="462" font-size="10" fill="#fafafa">0.35 nm</text><text x="605" y="473.8" font-size="10" fill="#fafafa">(002)</text><line x1="637.3" y1="448" x2="675.6" y2="466.4" stroke="#fff" stroke-width="1.7"/><line x1="636.6" y1="452" x2="674.9" y2="470.4" stroke="#fff" stroke-width="1.7"/><rect x="578.8" y="512.8" width="18.2" height="4.9" fill="#fff"/>
<text x="0" y="289.1" font-size="14.5" font-weight="bold">d</text>
<text x="228.8" y="289.3" font-size="14.5" font-weight="bold">e</text>
<text x="464.3" y="289" font-size="14.5" font-weight="bold">f</text>
</svg></body></html>
